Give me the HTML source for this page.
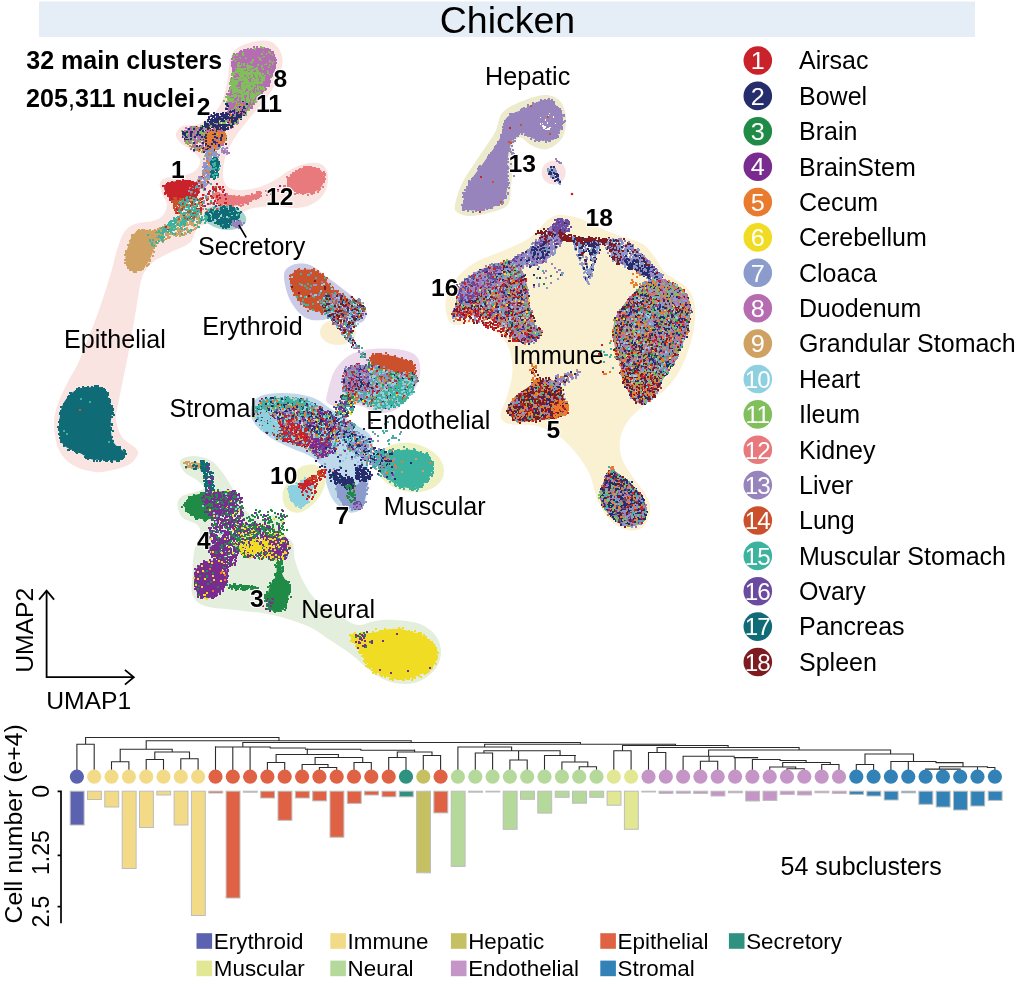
<!DOCTYPE html>
<html><head><meta charset="utf-8"><title>Chicken</title>
<style>html,body{margin:0;padding:0;background:#fff}svg{display:block}text{font-family:"Liberation Sans",sans-serif}</style></head>
<body>
<svg style="will-change:transform" width="1016" height="984" viewBox="0 0 1016 984">
<rect width="1016" height="984" fill="#fff"/>
<rect x="39" y="1.5" width="936" height="35.5" fill="#e5edf6"/>
<text x="507.5" y="32.5" font-size="37.5" text-anchor="middle">Chicken</text>
<text x="26.3" y="68.7" font-size="25" font-weight="bold">32 main clusters</text>
<text x="26.1" y="106.9" font-size="25.1" font-weight="bold">205<tspan font-weight="normal">,</tspan>311 nuclei</text>
<g><path d="M230.0 60.0C231.4 54.8 232.2 52.0 236.0 49.0C239.8 46.0 247.0 43.3 252.5 42.0C258.0 40.7 264.6 39.8 269.0 41.0C273.4 42.2 276.8 45.4 279.0 49.0C281.2 52.6 283.0 56.9 282.5 62.5C282.0 68.1 278.9 76.2 276.0 82.5C273.1 88.8 269.3 94.2 265.0 100.0C260.7 105.8 255.0 111.2 250.0 117.5C245.0 123.8 239.0 131.2 235.0 137.5C231.0 143.8 228.0 149.2 226.0 155.0C224.0 160.8 223.0 167.5 223.0 172.5C223.0 177.5 223.6 182.1 226.0 185.0C228.4 187.9 232.2 189.6 237.5 190.0C242.8 190.4 251.2 189.2 257.5 187.5C263.8 185.8 269.6 182.9 275.0 180.0C280.4 177.1 285.0 172.7 290.0 170.0C295.0 167.3 300.0 164.8 305.0 163.8C310.0 162.7 316.2 162.3 320.0 163.8C323.8 165.2 326.5 168.1 327.5 172.5C328.5 176.9 328.1 185.0 326.0 190.0C323.9 195.0 319.8 199.5 315.0 202.5C310.2 205.5 304.2 207.4 297.5 208.0C290.8 208.6 281.7 206.1 275.0 206.0C268.3 205.9 262.1 206.8 257.5 207.5C252.9 208.2 252.9 207.6 247.5 210.0C242.1 212.4 232.9 219.3 225.0 222.0C217.1 224.7 205.8 222.6 200.0 226.0C194.2 229.4 195.0 238.1 190.0 242.5C185.0 246.9 176.2 249.2 170.0 252.5C163.8 255.8 157.2 258.3 152.5 262.5C147.8 266.7 144.8 269.6 142.0 277.5C139.2 285.4 138.2 297.9 136.0 310.0C133.8 322.1 131.8 335.0 129.0 350.0C126.2 365.0 121.2 388.3 119.0 400.0C116.8 411.7 115.4 413.8 116.0 420.0C116.6 426.2 119.3 432.9 122.5 437.5C125.7 442.1 132.4 444.8 135.0 447.5C137.6 450.2 138.8 451.2 138.0 454.0C137.2 456.8 134.2 461.3 130.0 464.0C125.8 466.7 118.3 468.7 112.5 470.0C106.7 471.3 101.7 472.8 95.0 472.0C88.3 471.2 78.5 468.7 72.5 465.0C66.5 461.3 62.1 456.7 59.0 450.0C55.9 443.3 54.2 432.5 54.0 425.0C53.8 417.5 55.2 412.1 57.5 405.0C59.8 397.9 63.8 390.0 67.5 382.5C71.2 375.0 74.2 372.1 79.5 360.0C84.8 347.9 93.8 324.6 99.0 310.0C104.2 295.4 108.0 282.5 111.0 272.5C114.0 262.5 114.8 256.7 117.0 250.0C119.2 243.3 121.0 236.8 124.0 232.5C127.0 228.2 130.2 225.9 135.0 224.0C139.8 222.1 147.9 222.3 152.5 221.0C157.1 219.7 160.1 218.7 162.5 216.0C164.9 213.3 167.0 208.5 167.0 205.0C167.0 201.5 163.5 197.5 162.5 195.0C161.5 192.5 161.4 192.1 161.0 190.0C160.6 187.9 158.9 184.6 160.0 182.5C161.1 180.4 163.8 178.6 167.5 177.5C171.2 176.4 177.8 177.2 182.5 176.0C187.2 174.8 193.1 172.7 196.0 170.0C198.9 167.3 200.6 163.2 200.0 160.0C199.4 156.8 195.8 153.9 192.5 151.0C189.2 148.1 182.8 145.3 180.0 142.5C177.2 139.7 175.6 136.8 176.0 134.0C176.4 131.2 178.9 127.6 182.5 126.0C186.1 124.4 192.5 126.3 197.5 124.5C202.5 122.7 208.3 119.1 212.5 115.0C216.7 110.9 220.0 105.8 222.5 100.0C225.0 94.2 226.2 86.7 227.5 80.0C228.8 73.3 228.6 65.2 230.0 60.0Z" fill="#fae4e2"/>
<path d="M204 217.5a21 12 8 1 0 42 0a21 12 8 1 0 -42 0Z" fill="#a6d3cb"/>
<path d="M455.0 205.0C455.8 200.0 458.3 190.8 462.5 182.5C466.7 174.2 474.6 163.3 480.0 155.0C485.4 146.7 491.2 139.6 495.0 132.5C498.8 125.4 497.9 117.8 502.5 112.5C507.1 107.2 515.4 103.9 522.5 101.0C529.6 98.1 538.8 95.0 545.0 95.0C551.2 95.0 556.5 97.2 560.0 101.0C563.5 104.8 565.6 111.4 566.0 117.5C566.4 123.6 565.6 132.2 562.5 137.5C559.4 142.8 552.5 147.6 547.5 149.0C542.5 150.4 537.1 147.9 532.5 146.0C527.9 144.1 523.3 137.2 520.0 137.5C516.7 137.8 513.8 142.9 512.5 147.5C511.2 152.1 512.8 158.3 512.5 165.0C512.2 171.7 511.8 180.8 511.0 187.5C510.2 194.2 511.0 200.8 507.5 205.0C504.0 209.2 496.2 210.7 490.0 212.5C483.8 214.3 475.4 216.0 470.0 216.0C464.6 216.0 460.0 214.3 457.5 212.5C455.0 210.7 454.2 210.0 455.0 205.0Z" fill="#ecebcd"/>
<path d="M541.7 172.5a12 12 0 1 0 24 0a12 12 0 1 0 -24 0Z" fill="#fae2e2"/>
<path d="M560.0 215.0C565.4 214.8 572.5 216.0 580.0 218.5C587.5 221.0 597.5 226.8 605.0 230.0C612.5 233.2 618.8 235.2 625.0 237.5C631.2 239.8 637.5 240.4 642.5 243.8C647.5 247.1 651.2 252.7 655.0 257.5C658.8 262.3 660.0 267.8 665.0 272.5C670.0 277.2 680.2 281.4 685.0 286.0C689.8 290.6 692.1 294.3 693.8 300.0C695.4 305.7 695.6 312.5 695.0 320.0C694.4 327.5 692.5 336.7 690.0 345.0C687.5 353.3 684.2 362.5 680.0 370.0C675.8 377.5 671.2 383.8 665.0 390.0C658.8 396.2 648.7 401.8 642.5 407.0C636.3 412.2 631.8 415.5 628.0 421.0C624.2 426.5 620.9 433.5 620.0 440.0C619.1 446.5 620.0 453.3 622.5 460.0C625.0 466.7 630.8 473.8 635.0 480.0C639.2 486.2 645.0 492.1 647.5 497.5C650.0 502.9 650.8 507.5 650.0 512.5C649.2 517.5 646.2 524.6 642.5 527.5C638.8 530.4 632.9 531.2 627.5 530.0C622.1 528.8 615.0 525.0 610.0 520.0C605.0 515.0 600.8 507.5 597.5 500.0C594.2 492.5 593.3 482.5 590.0 475.0C586.7 467.5 582.5 461.3 577.5 455.0C572.5 448.7 566.7 441.8 560.0 437.0C553.3 432.2 545.4 428.1 537.5 426.0C529.6 423.9 518.4 425.5 512.5 424.5C506.6 423.5 503.9 422.1 502.0 420.0C500.1 417.9 500.1 416.2 501.0 412.0C501.9 407.8 505.6 402.0 507.5 395.0C509.4 388.0 512.5 378.3 512.5 370.0C512.5 361.7 510.8 351.7 507.5 345.0C504.2 338.3 497.9 333.8 492.5 330.0C487.1 326.2 481.2 323.3 475.0 322.5C468.8 321.7 459.6 325.8 455.0 325.0C450.4 324.2 449.0 321.7 447.5 317.5C446.0 313.3 444.8 306.2 446.0 300.0C447.2 293.8 450.2 286.2 455.0 280.0C459.8 273.8 466.7 267.5 475.0 262.5C483.3 257.5 495.8 254.2 505.0 250.0C514.2 245.8 522.9 242.5 530.0 237.5C537.1 232.5 542.5 223.8 547.5 220.0C552.5 216.2 554.6 215.2 560.0 215.0Z" fill="#faf0d2"/>
<path d="M320 332a18 13 0 1 0 36 0a18 13 0 1 0 -36 0Z" fill="#f9efd0"/>
<path d="M284.0 275.0C284.4 269.2 288.2 266.7 292.5 265.0C296.8 263.3 304.2 262.9 310.0 265.0C315.8 267.1 321.2 272.9 327.5 277.5C333.8 282.1 341.2 287.5 347.5 292.5C353.8 297.5 362.1 303.1 365.0 307.5C367.9 311.9 366.2 316.5 365.0 319.0C363.8 321.5 361.7 323.2 357.5 322.5C353.3 321.8 345.8 315.4 340.0 315.0C334.2 314.6 328.3 319.6 322.5 320.0C316.7 320.4 310.4 320.8 305.0 317.5C299.6 314.2 293.5 307.1 290.0 300.0C286.5 292.9 283.6 280.8 284.0 275.0Z" fill="#cacbe7"/>
<path d="M327.5 392.5C328.8 387.1 331.2 376.2 335.0 370.0C338.8 363.8 343.8 358.5 350.0 355.0C356.2 351.5 363.8 349.8 372.5 349.0C381.2 348.2 395.0 348.6 402.5 350.0C410.0 351.4 414.6 353.3 417.5 357.5C420.4 361.7 420.8 369.2 420.0 375.0C419.2 380.8 416.7 386.7 412.5 392.5C408.3 398.3 400.8 406.7 395.0 410.0C389.2 413.3 383.8 413.3 377.5 412.5C371.2 411.7 363.8 405.8 357.5 405.0C351.2 404.2 345.0 407.9 340.0 407.5C335.0 407.1 329.6 405.0 327.5 402.5C325.4 400.0 326.2 397.9 327.5 392.5Z" fill="#ebdaec"/>
<path d="M376 465a34 24 12 1 0 68 5a34 24 12 1 0 -68 -5Z" fill="#eff1c2"/>
<path d="M282.5 497.5C282.2 493.5 283.1 490.0 286.0 485.0C288.9 480.0 295.2 470.8 300.0 467.5C304.8 464.2 310.8 464.2 315.0 465.0C319.2 465.8 323.5 468.8 325.0 472.5C326.5 476.2 325.7 482.5 324.0 487.5C322.3 492.5 319.0 498.3 315.0 502.5C311.0 506.7 304.6 511.4 300.0 512.5C295.4 513.6 290.4 511.5 287.5 509.0C284.6 506.5 282.8 501.5 282.5 497.5Z" fill="#eff1c2"/>
<path d="M251.2 407.5C252.3 403.1 254.4 398.7 260.0 396.2C265.6 393.8 276.2 392.8 285.0 393.0C293.8 393.2 304.6 394.7 312.5 397.5C320.4 400.3 325.8 405.8 332.5 410.0C339.2 414.2 346.2 418.3 352.5 422.5C358.8 426.7 366.7 430.8 370.0 435.0C373.3 439.2 372.8 443.8 372.5 447.5C372.2 451.2 368.6 452.9 368.0 457.5C367.4 462.1 368.6 472.1 368.8 475.0C368.9 477.9 369.2 472.5 369.0 475.0C368.8 477.5 368.6 484.6 367.5 490.0C366.4 495.4 365.4 503.8 362.5 507.5C359.6 511.2 354.6 513.3 350.0 512.5C345.4 511.7 338.8 506.7 335.0 502.5C331.2 498.3 329.2 492.5 327.5 487.5C325.8 482.5 325.4 475.4 325.0 472.5C324.6 469.6 327.1 472.5 325.0 470.0C322.9 467.5 318.3 461.2 312.5 457.5C306.7 453.8 297.1 450.8 290.0 447.5C282.9 444.2 276.0 441.7 270.0 437.5C264.0 433.3 256.9 427.5 253.8 422.5C250.6 417.5 250.2 411.9 251.2 407.5Z" fill="#c0d9ea"/>
<path d="M180.0 461.0C181.2 458.2 187.5 456.2 192.5 456.0C197.5 455.8 205.0 457.2 210.0 460.0C215.0 462.8 218.3 467.1 222.5 472.5C226.7 477.9 231.2 486.2 235.0 492.5C238.8 498.8 240.8 505.4 245.0 510.0C249.2 514.6 255.0 519.3 260.0 520.0C265.0 520.7 270.8 514.0 275.0 514.0C279.2 514.0 283.8 516.9 285.0 520.0C286.2 523.1 281.2 528.8 282.5 532.5C283.8 536.2 290.4 537.9 292.5 542.5C294.6 547.1 293.3 553.8 295.0 560.0C296.7 566.2 299.0 573.3 302.5 580.0C306.0 586.7 309.8 594.0 316.0 600.0C322.2 606.0 333.1 611.8 340.0 616.0C346.9 620.2 351.7 624.2 357.5 625.0C363.3 625.8 368.8 621.8 375.0 621.0C381.2 620.2 387.5 619.5 395.0 620.0C402.5 620.5 413.2 621.3 420.0 624.0C426.8 626.7 432.5 631.2 436.0 636.0C439.5 640.8 441.0 647.2 441.0 652.5C441.0 657.8 439.2 663.4 436.0 668.0C432.8 672.6 427.2 677.3 422.0 680.0C416.8 682.7 411.2 684.0 405.0 684.0C398.8 684.0 391.2 682.5 385.0 680.0C378.8 677.5 373.5 673.2 368.0 669.0C362.5 664.8 358.3 659.8 352.0 655.0C345.7 650.2 337.4 644.8 330.0 640.0C322.6 635.2 317.1 630.2 307.5 626.0C297.9 621.8 284.6 617.7 272.5 615.0C260.4 612.3 246.2 611.5 235.0 610.0C223.8 608.5 212.1 608.5 205.0 606.0C197.9 603.5 194.6 600.2 192.5 595.0C190.4 589.8 192.2 582.1 192.5 575.0C192.8 567.9 192.8 559.2 194.0 552.5C195.2 545.8 199.4 539.6 200.0 535.0C200.6 530.4 200.4 527.9 197.5 525.0C194.6 522.1 185.8 520.8 182.5 517.5C179.2 514.2 177.5 508.6 177.5 505.0C177.5 501.4 178.2 498.7 182.5 496.0C186.8 493.3 200.4 491.5 203.0 489.0C205.6 486.5 201.0 483.8 198.0 481.0C195.0 478.2 188.0 475.8 185.0 472.5C182.0 469.2 178.8 463.8 180.0 461.0Z" fill="#e3eedc"/>
</g>
<g><path d="M232.5 62.5C232.8 58.8 232.0 55.3 237.4 52.9C242.7 50.4 258.3 47.2 264.5 48.0C270.6 48.8 272.5 54.5 274.1 57.7C275.7 60.9 275.4 62.5 274.1 67.4C272.8 72.2 270.4 80.6 266.4 86.7C262.4 92.8 254.8 99.6 249.9 104.1C245.1 108.7 241.1 113.8 237.4 113.8C233.7 113.8 228.8 108.2 227.7 104.1C226.6 100.1 229.3 94.5 230.6 89.6C231.9 84.8 235.1 79.6 235.4 75.1C235.7 70.6 232.2 66.2 232.5 62.5Z" fill="#b66cb0"/>
<path d="M164.1 188.2C163.8 185.4 165.4 183.8 168.8 182.5C172.3 181.3 180.4 180.5 184.8 180.7C189.2 180.8 193.1 181.6 195.1 183.5C197.2 185.4 197.6 189.3 197.0 191.9C196.4 194.6 194.2 197.7 191.4 199.5C188.6 201.2 183.5 202.3 180.1 202.3C176.6 202.3 173.4 201.8 170.7 199.5C168.0 197.1 164.4 191.0 164.1 188.2Z" fill="#c9222b"/>
<path d="M215.3 193.3C217.5 192.3 225.1 194.7 230.4 195.2C235.8 195.6 242.5 196.6 247.4 196.1C252.3 195.6 258.1 192.0 259.7 192.3C261.3 192.7 259.5 196.1 256.9 198.0C254.2 199.9 248.4 202.4 243.6 203.7C238.9 204.9 232.9 206.0 228.5 205.6C224.1 205.1 219.4 202.9 217.2 200.8C215.0 198.8 213.1 194.2 215.3 193.3Z" fill="#e8797d"/>
<path d="M288.0 180.0C288.8 176.9 292.9 172.8 296.6 170.5C300.2 168.3 305.7 166.8 309.8 166.8C313.9 166.8 318.8 168.2 321.2 170.5C323.5 172.9 324.6 177.6 324.0 181.0C323.4 184.3 320.9 188.4 317.4 190.4C313.9 192.5 307.4 193.4 303.2 193.3C298.9 193.1 294.4 191.7 291.8 189.5C289.3 187.3 287.3 183.2 288.0 180.0Z" fill="#e8797d"/>
<path d="M125.7 254.8C126.3 250.8 128.5 244.5 130.5 240.5C132.4 236.5 134.0 232.6 137.6 231.0C141.2 229.4 149.1 229.4 151.9 231.0C154.6 232.6 154.3 236.5 154.3 240.5C154.3 244.5 153.5 250.4 151.9 254.8C150.3 259.1 147.9 263.9 144.7 266.7C141.6 269.5 135.9 271.8 132.8 271.4C129.8 271.0 127.8 267.1 126.7 264.3C125.5 261.5 125.1 258.8 125.7 254.8Z" fill="#cfa163"/>
<path d="M59.1 424.1C59.6 418.8 60.3 410.2 62.9 404.6C65.5 399.1 70.4 393.7 74.7 390.8C79.0 387.9 84.2 387.9 88.5 387.4C92.9 386.9 97.8 386.2 101.0 387.7C104.2 389.2 106.1 392.6 107.9 396.4C109.7 400.1 111.3 405.4 111.7 410.3C112.2 415.2 110.5 420.2 110.7 425.5C111.0 430.8 111.2 437.8 113.5 442.2C115.7 446.6 122.6 449.4 124.2 451.9C125.8 454.4 124.1 455.8 122.8 457.3C121.5 458.7 119.7 459.9 116.3 460.4C112.9 460.8 106.5 460.0 102.4 459.8C98.2 459.6 94.9 460.3 91.3 459.2C87.6 458.1 84.6 455.4 80.3 453.3C75.9 451.1 68.3 449.1 65.0 446.3C61.6 443.6 61.1 440.3 60.1 436.6C59.1 432.9 58.6 429.5 59.1 424.1Z" fill="#0f6c76"/>
<path d="M463.6 201.5C464.0 197.2 464.8 191.3 468.5 184.3C472.1 177.4 480.3 167.6 485.6 159.8C490.9 152.1 496.9 144.7 500.3 137.8C503.7 130.9 502.1 123.1 506.2 118.2C510.2 113.3 518.4 111.5 524.8 108.4C531.1 105.4 539.0 100.3 544.4 99.8C549.7 99.4 553.5 102.9 556.6 106.0C559.7 109.0 562.6 113.7 563.0 118.2C563.4 122.7 561.3 129.2 559.0 132.9C556.8 136.6 553.3 139.2 549.3 140.2C545.2 141.3 539.0 140.2 534.6 139.0C530.1 137.8 526.0 132.7 522.3 132.9C518.6 133.1 515.0 135.8 512.5 140.2C510.1 144.7 508.4 152.5 507.6 159.8C506.8 167.2 508.4 177.4 507.6 184.3C506.8 191.3 506.4 197.4 502.7 201.5C499.1 205.5 491.7 207.4 485.6 208.8C479.5 210.2 469.7 211.0 466.0 209.8C462.3 208.6 463.1 205.7 463.6 201.5Z" fill="#9784bd"/>
<path d="M457.5 295.0C458.8 290.8 458.8 286.7 462.5 282.5C466.2 278.3 473.3 273.3 480.0 270.0C486.7 266.7 496.2 264.2 502.5 262.5C508.8 260.8 514.2 258.3 517.5 260.0C520.8 261.7 520.8 267.9 522.5 272.5C524.2 277.1 526.2 281.7 527.5 287.5C528.8 293.3 528.8 301.2 530.0 307.5C531.2 313.8 532.9 320.8 535.0 325.0C537.1 329.2 543.3 329.6 542.5 332.5C541.7 335.4 534.6 341.2 530.0 342.5C525.4 343.8 519.6 342.9 515.0 340.0C510.4 337.1 507.5 328.8 502.5 325.0C497.5 321.2 490.8 319.2 485.0 317.5C479.2 315.8 472.9 315.0 467.5 315.0C462.1 315.0 454.6 318.8 452.5 317.5C450.4 316.2 454.2 311.2 455.0 307.5C455.8 303.8 456.2 299.2 457.5 295.0Z" fill="#a07a86"/>
<path d="M642.5 285.0C638.3 288.3 632.1 294.2 627.5 300.0C622.9 305.8 617.3 313.3 615.0 320.0C612.7 326.7 612.9 332.5 613.8 340.0C614.6 347.5 617.7 356.7 620.0 365.0C622.3 373.3 624.6 383.8 627.5 390.0C630.4 396.2 633.8 400.8 637.5 402.5C641.2 404.2 645.8 403.8 650.0 400.0C654.2 396.2 657.9 387.5 662.5 380.0C667.1 372.5 673.3 363.3 677.5 355.0C681.7 346.7 685.4 337.9 687.5 330.0C689.6 322.1 690.8 314.2 690.0 307.5C689.2 300.8 686.7 294.6 682.5 290.0C678.3 285.4 670.0 281.7 665.0 280.0C660.0 278.3 656.2 279.2 652.5 280.0C648.8 280.8 646.7 281.7 642.5 285.0Z" fill="#96787c"/>
<path d="M507.5 410.0C507.1 406.1 511.7 401.2 515.0 397.5C518.3 393.8 523.3 390.4 527.5 387.5C531.7 384.6 535.0 380.8 540.0 380.0C545.0 379.2 553.8 380.0 557.5 382.5C561.2 385.0 560.8 390.4 562.5 395.0C564.2 399.6 568.3 406.2 567.5 410.0C566.7 413.8 562.5 415.8 557.5 417.5C552.5 419.2 544.2 419.4 537.5 420.0C530.8 420.6 522.5 422.7 517.5 421.0C512.5 419.3 507.9 413.9 507.5 410.0Z" fill="#9c4028"/>
<path d="M610.0 470.0C607.1 471.7 604.2 480.4 602.5 485.0C600.8 489.6 599.2 492.9 600.0 497.5C600.8 502.1 603.8 507.9 607.5 512.5C611.2 517.1 617.5 522.9 622.5 525.0C627.5 527.1 633.6 526.7 637.5 525.0C641.4 523.3 645.0 519.2 646.0 515.0C647.0 510.8 646.0 505.0 643.8 500.0C641.5 495.0 636.5 489.2 632.5 485.0C628.5 480.8 623.8 477.5 620.0 475.0C616.2 472.5 612.9 468.3 610.0 470.0Z" fill="#5f5480"/>
<path d="M290.9 275.6C292.4 272.7 296.1 270.5 300.6 269.8C305.0 269.2 312.2 268.8 317.4 271.8C322.6 274.7 327.4 283.4 331.8 287.7C336.3 291.9 342.7 294.1 343.9 297.3C345.1 300.5 342.3 304.5 339.1 306.9C335.9 309.3 329.4 311.3 324.6 311.7C319.8 312.1 314.6 311.3 310.2 309.3C305.8 307.3 301.2 303.3 298.1 299.7C295.1 296.1 293.1 291.7 291.9 287.7C290.7 283.6 289.5 278.6 290.9 275.6Z" fill="#ca512b"/>
<path d="M371.1 356.7C372.3 354.9 375.9 354.1 380.6 354.3C385.4 354.5 394.3 356.3 399.6 357.9C404.9 359.4 410.2 361.4 412.6 363.8C415.0 366.1 416.0 370.3 413.8 372.1C411.6 373.8 404.3 374.8 399.6 374.4C394.8 374.0 389.7 371.3 385.4 369.7C381.0 368.1 375.9 367.1 373.5 365.0C371.1 362.8 370.0 358.4 371.1 356.7Z" fill="#ca512b"/>
<path d="M345.0 375.0C346.5 371.3 347.5 367.5 352.0 366.0C356.5 364.5 364.8 365.0 372.0 366.0C379.2 367.0 387.8 370.7 395.0 372.0C402.2 373.3 412.0 371.0 415.0 374.0C418.0 377.0 415.5 385.3 413.0 390.0C410.5 394.7 404.7 399.0 400.0 402.0C395.3 405.0 390.8 407.7 385.0 408.0C379.2 408.3 370.8 405.7 365.0 404.0C359.2 402.3 353.7 400.7 350.0 398.0C346.3 395.3 343.8 391.8 343.0 388.0C342.2 384.2 343.5 378.7 345.0 375.0Z" fill="#86bfb6"/>
<path d="M336.4 485.8C337.5 483.1 342.7 483.5 345.9 483.5C349.0 483.5 352.7 486.2 355.3 485.8C357.9 485.4 359.8 481.5 361.6 481.1C363.4 480.7 365.4 480.6 366.0 483.5C366.6 486.4 366.1 494.4 365.1 498.4C364.1 502.5 362.7 506.4 360.0 507.9C357.4 509.3 352.4 508.4 349.0 507.1C345.6 505.8 341.7 503.5 339.6 500.0C337.5 496.4 335.4 488.6 336.4 485.8Z" fill="#8b9bcb"/>
<path d="M288.6 488.2C289.5 486.4 293.2 487.3 295.6 485.9C298.1 484.4 300.8 480.7 303.4 479.6C306.0 478.6 309.7 478.6 311.2 479.6C312.8 480.7 312.8 483.3 312.8 485.9C312.8 488.5 312.3 492.4 311.2 495.2C310.2 498.1 308.1 501.2 306.6 503.0C305.0 504.9 304.0 506.0 301.9 506.2C299.8 506.3 296.0 505.4 294.1 503.8C292.1 502.3 291.1 499.4 290.2 496.8C289.2 494.2 287.7 490.0 288.6 488.2Z" fill="#8dd0df"/>
<path d="M378.1 460.3C379.1 456.5 385.3 454.4 390.6 452.6C395.9 450.9 403.8 449.2 409.9 449.7C416.0 450.2 423.5 452.5 427.2 455.5C430.9 458.6 432.0 463.8 432.0 468.0C432.0 472.2 430.3 477.2 427.2 480.5C424.2 483.9 418.5 487.4 413.7 488.2C408.9 489.0 403.1 487.4 398.3 485.3C393.5 483.3 388.2 479.9 384.9 475.7C381.5 471.5 377.2 464.2 378.1 460.3Z" fill="#3cb39f"/>
<path d="M185.0 504.1C186.1 501.7 187.4 497.5 193.2 495.5C198.9 493.4 212.7 491.8 219.5 491.6C226.3 491.5 231.5 492.3 233.9 494.5C236.3 496.7 235.9 501.7 233.9 505.0C231.9 508.4 226.3 512.2 221.9 514.6C217.5 517.0 211.9 519.0 207.5 519.4C203.2 519.8 199.0 518.6 195.6 517.0C192.1 515.4 188.7 512.0 187.0 509.8C185.2 507.7 184.0 506.5 185.0 504.1Z" fill="#1f8b46"/>
<path d="M194.8 572.3C196.0 567.9 199.5 564.7 203.3 562.8C207.2 560.9 213.8 559.9 217.6 560.9C221.4 561.9 224.9 564.7 226.2 568.5C227.5 572.3 227.0 579.3 225.3 583.8C223.5 588.2 219.4 592.8 215.7 595.2C212.1 597.6 206.7 599.0 203.3 598.0C200.0 597.1 197.2 593.8 195.7 589.5C194.3 585.2 193.5 576.8 194.8 572.3Z" fill="#7a2b8f"/>
<path d="M267.6 597.4C267.6 593.3 269.0 588.7 270.4 585.1C271.9 581.4 275.0 579.2 276.1 575.6C277.2 571.9 276.3 565.3 277.1 563.2C277.9 561.2 279.9 561.2 280.9 563.2C281.8 565.3 281.3 571.8 282.8 575.6C284.2 579.4 288.6 582.1 289.4 586.0C290.2 590.0 288.8 595.4 287.5 599.3C286.2 603.3 284.7 608.0 281.8 609.8C279.0 611.5 272.8 611.8 270.4 609.8C268.1 607.7 267.6 601.5 267.6 597.4Z" fill="#1f8b46"/>
<path d="M351.2 635.5C353.4 633.5 363.3 634.2 370.6 633.1C377.9 631.9 386.9 628.5 395.0 628.7C403.1 628.9 413.2 631.9 419.3 634.3C425.4 636.6 428.6 639.2 431.5 642.8C434.4 646.4 437.2 651.5 436.8 655.9C436.4 660.4 432.8 666.1 429.0 669.6C425.3 673.1 419.3 675.3 414.4 676.9C409.6 678.4 405.1 679.1 399.8 678.8C394.6 678.6 387.7 677.4 382.8 675.4C377.9 673.5 373.9 670.5 370.6 667.1C367.4 663.7 365.6 658.6 363.3 655.0C361.1 651.3 359.0 648.5 357.0 645.2C355.0 642.0 348.9 637.5 351.2 635.5Z" fill="#f1dc24"/>
</g>
<g transform="scale(.5)" fill="none" stroke-linecap="square" shape-rendering="crispEdges">
<path d="M481 105h0M521 97h0M465 123h0M466 132h0M527 179h0M455 210h0M473 107h0M465 117h0M454 212h0M547 132h0M466 132h0M546 140h0M544 108h0M535 166h0M466 176h0M467 226h0M538 168h0M549 115h0M465 138h0M455 188h0M503 204h0M539 99h0M549 115h0M509 198h0M479 226h0M491 100h0M549 136h0M472 227h0M536 165h0M535 97h0M476 229h0M524 182h0M461 183h0M462 222h0M487 220h0M477 227h0M483 226h0M463 221h0M460 187h0M466 174h0M528 179h0M463 169h0M544 148h0M488 219h0M549 131h0M543 144h0M463 216h0M547 116h0M467 159h0M535 98h0M462 177h0M494 215h0M470 149h0M498 210h0M468 140h0M474 230h0M477 108h0M485 221h0M547 137h0M467 221h0M476 227h0M536 97h0M463 127h0M512 97h0M467 154h0M546 107h0M466 142h0M460 176h0M468 160h0M488 104h0M466 160h0M536 170h0M460 179h0M536 165h0M541 153h0M466 168h0M465 114h0M464 132h0M491 216h0M484 224h0M469 141h0M535 101h0M468 118h0M486 221h0M548 116h0M531 178h0M454 210h0M509 197h0M550 130h0M492 215h0M463 177h0M467 114h0M470 148h0M547 113h0M545 107h0M466 128h0M545 136h0M461 173h0M468 132h0M465 133h0M551 119h0M508 94h0M522 190h0M534 166h0M457 216h0M481 226h0M542 153h0M464 124h0M543 150h0M466 128h0M499 210h0M547 117h0M457 181h0M457 217h0M514 93h0M510 200h0M547 138h0M472 109h0M540 103h0M523 186h0M515 194h0M467 116h0M503 204h0M496 98h0M530 179h0M552 125h0M455 203h0M517 191h0M468 111h0M501 98h0M472 158h0M467 125h0M465 130h0M512 197h0M540 101h0M515 193h0M477 230h0M458 215h0M460 180h0M457 190h0" stroke="#b66cb0" stroke-width="4.0"/>
<path d="M523 129h0M542 128h0M503 128h0M517 105h0M483 207h0M463 207h0M477 121h0M509 194h0M503 158h0M496 161h0M476 149h0M501 130h0M469 189h0M529 116h0M491 179h0M458 201h0M471 154h0M525 97h0M474 225h0M518 146h0M510 193h0M546 143h0M480 149h0M526 142h0M527 142h0M492 169h0M480 143h0M482 202h0M540 164h0M518 187h0M471 224h0M499 117h0M492 207h0M528 155h0M485 162h0M520 163h0M501 210h0M510 143h0M465 206h0M497 190h0M484 196h0M475 191h0M548 133h0M499 130h0M479 114h0M545 120h0M499 126h0M466 207h0M520 172h0M536 149h0M495 194h0M501 148h0M492 189h0M477 119h0M473 136h0M522 104h0M470 177h0M506 136h0M467 136h0M537 109h0M482 106h0M494 124h0M489 134h0M460 217h0M477 143h0" stroke="#b66cb0" stroke-width="4.0"/>
<path d="M521 132h0M538 102h0M481 163h0M509 154h0M484 156h0M499 127h0M483 121h0M505 140h0M495 158h0M475 116h0M481 157h0M507 134h0M488 220h0M482 122h0M546 117h0M465 223h0M491 126h0M500 133h0M547 123h0M465 111h0M516 153h0M531 166h0M457 215h0M499 99h0M493 194h0M520 113h0M504 170h0M484 128h0M510 138h0M464 187h0M538 103h0M475 159h0M468 110h0M463 197h0" stroke="#80bf5b" stroke-width="4.0"/>
<path d="M520 118h0" stroke="#c9222b" stroke-width="4.0"/>
<path d="M504 137h0M474 161h0M529 104h0M481 123h0M471 208h0M489 147h0M529 130h0M484 181h0M503 182h0M531 163h0M481 206h0M531 109h0M503 164h0M547 135h0M519 154h0M470 156h0M507 169h0M509 163h0M521 121h0M500 136h0M535 99h0M457 209h0M481 161h0M495 184h0M509 131h0M494 143h0M523 104h0M485 124h0M467 157h0M475 117h0M462 193h0M503 189h0M488 178h0M483 106h0M515 156h0M529 152h0M466 127h0M501 201h0M504 201h0M547 141h0M499 114h0M495 110h0M523 180h0M468 162h0M530 123h0M542 108h0M489 220h0M486 186h0M522 120h0M488 196h0M541 123h0M518 157h0M474 128h0M487 141h0M511 154h0M513 117h0M548 135h0M510 150h0M515 139h0M519 123h0M511 131h0M485 120h0M517 167h0M480 138h0M465 217h0M515 189h0M480 196h0M470 196h0" stroke="#b66cb0" stroke-width="4.0"/>
<path d="M517 141h0M497 130h0M538 137h0M530 124h0M484 218h0M468 148h0M508 107h0M503 145h0M521 118h0M497 160h0M526 148h0M526 182h0M514 186h0M525 124h0M496 209h0M497 203h0M478 134h0M478 226h0M477 126h0M513 162h0M501 162h0M464 171h0M463 182h0M461 205h0M481 140h0M468 219h0M467 117h0M476 131h0M496 113h0M471 193h0M456 197h0M514 141h0" stroke="#80bf5b" stroke-width="4.0"/>
<path d="M484 134h0" stroke="#c9222b" stroke-width="4.0"/>
<path d="M480 147h0M492 116h0M511 149h0M543 119h0M532 108h0M466 162h0M544 135h0M505 152h0M471 144h0M470 122h0M499 192h0M478 219h0M532 131h0M539 134h0M529 151h0M530 153h0M477 125h0M487 136h0M474 139h0M478 199h0M499 205h0M511 189h0M507 129h0M526 165h0M494 144h0M473 152h0M468 176h0M486 136h0M530 163h0M544 105h0M513 147h0M473 219h0M497 164h0M465 227h0" stroke="#80bf5b" stroke-width="4.0"/>
<path d="M479 156h0M459 213h0M515 192h0M494 128h0M493 175h0M472 183h0M475 207h0M481 210h0M525 99h0M481 178h0M480 210h0M546 117h0M546 139h0M465 205h0M527 105h0M499 208h0M485 139h0M491 121h0M475 139h0M487 189h0M506 158h0M481 221h0M533 103h0M506 119h0M477 108h0M481 199h0M529 140h0M514 109h0M495 167h0M500 135h0M484 120h0M504 185h0M465 187h0M494 203h0M467 225h0M477 211h0M523 145h0M486 208h0M471 198h0M491 139h0M464 192h0M486 134h0M471 160h0M526 119h0M489 166h0M499 169h0M542 154h0M521 188h0M520 130h0M470 154h0M512 196h0M538 137h0M486 117h0M471 139h0M482 102h0M516 98h0M467 193h0M510 145h0M528 104h0M509 125h0M483 185h0M542 145h0M516 144h0M466 163h0M534 171h0" stroke="#b66cb0" stroke-width="4.0"/>
<path d="M523 132h0M498 100h0M542 121h0M546 114h0M523 116h0M523 108h0M543 152h0M543 139h0M525 101h0M530 110h0M515 142h0M526 162h0M543 111h0M516 141h0M510 98h0" stroke="#80bf5b" stroke-width="4.0"/>
<path d="M531 132h0M549 120h0M536 115h0M505 116h0M544 128h0M545 104h0M491 123h0M547 115h0M519 137h0M495 121h0M535 116h0M533 129h0M536 163h0M507 114h0M519 147h0M548 110h0M527 114h0M531 154h0M496 101h0M483 120h0M472 114h0M531 162h0M497 121h0M490 123h0M530 163h0M527 95h0M507 108h0M518 150h0M504 120h0M500 125h0M538 156h0M497 103h0M546 114h0M510 128h0M532 158h0M536 137h0M537 144h0M522 162h0M545 138h0M535 172h0M540 113h0M515 146h0M497 112h0M520 133h0M497 119h0M519 162h0M493 118h0M515 135h0M523 102h0M525 161h0M500 118h0M541 134h0M540 109h0M517 114h0M537 149h0M537 171h0M522 140h0M475 112h0M514 111h0M483 115h0M481 122h0M527 165h0M521 143h0M516 106h0M513 124h0M545 141h0M490 102h0M510 122h0M545 114h0M496 112h0M472 127h0M530 116h0M517 123h0M517 148h0M521 164h0M484 113h0M531 132h0M522 120h0M543 149h0M543 106h0M525 124h0M487 99h0M494 123h0M531 170h0M536 113h0" stroke="#b66cb0" stroke-width="4.0"/>
<path d="M503 124h0M537 123h0M535 145h0M543 127h0M543 110h0M543 123h0M518 115h0M517 118h0M546 122h0M526 97h0M525 96h0M527 128h0M476 127h0M536 141h0M522 147h0M491 116h0M537 134h0M531 128h0M514 136h0M473 116h0M502 125h0" stroke="#80bf5b" stroke-width="4.0"/>
<path d="M478 120h0M506 118h0M499 105h0M496 125h0M550 123h0M515 150h0M494 109h0M507 122h0M515 157h0M513 105h0M511 106h0M517 105h0M516 117h0M527 144h0M529 165h0M497 109h0M485 126h0M491 125h0M480 104h0M496 115h0M507 144h0M491 106h0M531 138h0M532 117h0M518 133h0M538 149h0M480 119h0M513 116h0M535 130h0M541 140h0M520 141h0M549 128h0M540 132h0M504 113h0M512 143h0M471 118h0M531 166h0M544 122h0M482 119h0M523 145h0M531 167h0M511 125h0M497 122h0M468 123h0M543 134h0M477 119h0M521 162h0M516 110h0M486 118h0M523 101h0M490 126h0M473 113h0M530 112h0M507 134h0M479 111h0M543 140h0M523 137h0M538 119h0M506 107h0M479 114h0M541 104h0M507 133h0M482 121h0M534 161h0M530 107h0M501 113h0M478 120h0M529 126h0M510 114h0M504 132h0M534 124h0M506 131h0M514 126h0M513 152h0M493 113h0M489 101h0M509 114h0M525 127h0M497 114h0" stroke="#b66cb0" stroke-width="4.0"/>
<path d="M540 148h0M540 121h0M539 130h0M473 110h0M521 94h0M524 162h0M521 119h0M476 119h0M486 109h0M537 102h0M528 114h0M540 106h0M506 119h0M515 129h0M525 137h0M522 104h0M479 116h0M490 102h0M522 133h0M485 106h0M525 148h0" stroke="#80bf5b" stroke-width="4.0"/>
<path d="M522 159h0M485 120h0M535 111h0M467 121h0M517 112h0M473 119h0M519 140h0M532 102h0M541 127h0M541 111h0M530 131h0M530 100h0M516 112h0M468 108h0M506 111h0M475 114h0M499 120h0M496 101h0M529 122h0M535 123h0M502 130h0M471 116h0M543 147h0M522 97h0M478 117h0M490 101h0M527 115h0M512 104h0M526 120h0M495 120h0M525 99h0M550 116h0M516 154h0M538 139h0M522 104h0M520 133h0M521 113h0M508 129h0M493 104h0M541 118h0M511 149h0M487 118h0M540 161h0M491 103h0M500 112h0M539 145h0M538 110h0M505 130h0M530 100h0M548 119h0M502 115h0M518 108h0M529 132h0M537 118h0M534 160h0M537 166h0M530 109h0M534 164h0M500 100h0M540 99h0M464 117h0M539 116h0M491 102h0M525 100h0M531 98h0M495 125h0M471 116h0M533 164h0M526 165h0M507 115h0M490 123h0M549 125h0M513 139h0M527 168h0M537 117h0M538 99h0M483 123h0M523 118h0M477 119h0" stroke="#b66cb0" stroke-width="4.0"/>
<path d="M469 199h0M462 179h0M507 169h0M479 213h0M489 176h0M495 132h0M498 131h0M494 185h0M477 186h0M505 176h0M484 145h0M475 144h0M475 231h0M511 149h0M484 169h0M474 166h0M517 157h0M480 191h0M501 135h0M512 158h0M475 202h0M487 169h0M474 165h0M473 139h0M497 153h0M490 217h0M489 220h0M469 219h0M503 172h0M502 148h0M507 165h0M490 179h0M461 214h0M502 184h0M520 170h0M481 200h0M476 215h0M499 187h0M522 165h0M473 143h0M478 216h0M497 153h0M476 224h0M489 152h0M462 186h0M509 196h0M462 208h0M471 169h0M461 217h0M478 218h0M520 186h0M471 202h0M495 145h0M496 161h0M475 217h0M522 165h0M462 197h0M489 214h0M527 159h0M504 179h0M502 199h0M466 222h0M483 188h0M483 210h0M484 213h0M470 178h0M522 152h0M501 186h0M499 159h0M515 145h0M495 208h0M465 184h0M514 183h0M471 223h0M472 164h0M482 135h0M495 155h0M503 148h0M467 223h0M478 136h0M499 167h0M472 208h0M498 157h0M494 144h0M501 152h0M494 146h0M495 136h0M479 137h0M469 150h0M470 165h0M490 171h0M473 213h0M460 202h0M524 162h0M474 214h0M507 208h0M491 156h0M494 162h0M505 162h0M489 171h0M485 185h0M478 149h0M520 183h0M479 226h0M493 166h0M498 163h0M493 212h0M477 200h0M479 228h0M479 211h0M499 204h0M469 172h0M494 210h0M493 150h0M521 189h0M477 164h0M460 181h0M488 163h0M494 211h0M522 190h0M463 164h0M512 178h0M516 172h0M496 128h0M459 194h0M472 157h0M475 173h0M505 180h0M465 187h0M478 226h0M476 173h0M485 176h0M472 158h0M490 173h0M503 164h0M479 162h0M507 204h0M466 175h0M504 189h0M491 167h0M483 143h0M500 177h0M485 133h0M494 139h0M473 141h0M524 158h0M502 190h0M478 206h0M494 143h0M473 152h0M488 133h0M478 168h0M468 156h0M509 195h0M484 196h0M505 206h0M478 219h0M498 196h0M468 224h0M503 213h0M488 162h0M527 179h0M473 177h0M467 165h0M498 136h0M489 161h0M509 161h0M503 176h0M470 225h0M490 217h0M471 226h0M493 139h0M517 168h0M490 192h0M479 204h0M517 148h0M523 170h0M472 212h0M501 152h0M520 159h0M474 225h0M481 192h0M455 209h0M482 158h0M486 160h0M510 183h0M494 171h0M501 146h0M482 203h0M464 216h0M515 159h0M476 209h0" stroke="#80bf5b" stroke-width="5.0"/>
<path d="M483 215h0M503 138h0M487 179h0M520 158h0M486 133h0M484 211h0M490 180h0M501 202h0M470 198h0M498 194h0M523 171h0M473 232h0M505 171h0M468 143h0M472 218h0M468 181h0M499 129h0M463 216h0M472 216h0M516 177h0M507 153h0M507 152h0M509 195h0M464 180h0M473 160h0M479 188h0M485 159h0M488 170h0M503 215h0M499 212h0M503 194h0M506 135h0M518 173h0M473 194h0M468 168h0M466 187h0M468 152h0M517 188h0M474 151h0M465 217h0M509 185h0M467 218h0M494 168h0M462 190h0M499 194h0M501 170h0M471 228h0M460 168h0M476 220h0M507 153h0M500 204h0M488 201h0M502 185h0M505 197h0M483 181h0M489 198h0M507 206h0M508 187h0M476 164h0M462 224h0M470 220h0M488 138h0M508 165h0M521 162h0M517 167h0M474 209h0M471 141h0M471 196h0M505 149h0M475 216h0M514 201h0M462 165h0M508 138h0M495 210h0M490 168h0" stroke="#b66cb0" stroke-width="5.0"/>
<path d="M498 180h0M504 146h0M493 172h0M502 180h0M487 186h0M516 171h0M492 172h0M462 159h0M483 168h0M507 187h0M506 156h0M481 154h0M487 223h0M526 175h0M494 185h0M485 180h0M501 161h0M486 155h0M469 228h0M525 176h0M490 144h0M514 140h0M516 163h0M503 139h0M511 151h0M511 154h0M521 184h0M478 180h0M464 210h0M474 180h0M490 135h0M499 165h0M508 138h0M508 140h0M497 152h0M484 149h0M477 225h0M467 170h0M490 217h0M478 158h0M509 166h0M487 167h0M465 165h0M464 191h0M511 183h0M506 149h0M470 163h0M475 180h0M492 205h0M478 155h0M500 212h0M483 160h0M496 147h0M480 224h0M497 140h0M511 151h0M506 200h0M471 162h0M467 221h0M462 176h0M492 143h0M498 158h0M497 153h0M505 187h0M499 174h0M469 194h0M475 218h0M519 147h0M457 204h0M501 189h0M514 164h0M480 180h0M492 145h0M497 165h0M507 185h0M525 177h0M488 139h0M478 218h0M506 170h0M523 161h0M467 225h0M491 229h0M511 147h0M462 207h0M494 201h0M491 136h0M506 135h0M512 166h0M493 140h0M468 172h0M471 211h0M524 169h0M504 160h0M460 202h0M496 169h0M477 174h0M476 174h0M499 137h0M527 180h0M466 186h0M476 223h0M458 198h0M506 182h0M498 189h0M482 226h0M482 183h0M468 220h0M525 155h0M475 142h0M466 147h0M517 175h0M496 183h0M507 161h0M489 160h0M505 144h0M491 139h0M521 151h0M475 195h0M509 195h0M502 136h0M474 217h0M487 180h0M499 151h0M463 209h0M500 165h0M483 193h0M477 141h0M511 139h0M488 147h0M478 184h0M489 187h0M484 179h0M494 192h0M481 137h0M476 200h0M493 149h0M479 185h0M520 164h0M522 166h0M490 177h0M504 195h0M498 208h0M491 224h0M496 169h0M472 209h0M516 167h0M494 207h0M480 210h0M467 228h0M484 141h0M466 196h0M482 168h0M488 192h0M469 168h0M488 129h0M481 150h0M507 189h0M465 187h0M501 168h0M466 207h0M509 193h0M494 173h0M514 145h0M491 174h0M495 205h0M498 219h0M484 183h0M512 141h0M517 168h0M516 188h0M483 227h0M486 212h0M488 222h0M494 172h0M473 192h0M490 165h0M502 137h0M519 171h0M468 167h0M486 188h0M512 159h0M483 142h0M519 163h0M474 198h0M502 161h0M510 162h0M456 208h0M494 146h0M499 151h0M500 170h0M475 197h0M476 217h0" stroke="#80bf5b" stroke-width="5.0"/>
<path d="M467 222h0M502 157h0M504 166h0M488 221h0M481 202h0M475 218h0M500 207h0M485 177h0M469 207h0M492 134h0M496 172h0M498 164h0M521 179h0M465 212h0M477 151h0M520 194h0M487 128h0M492 199h0M483 222h0M505 165h0M481 134h0M507 150h0M498 189h0M483 185h0M476 154h0M498 203h0M494 191h0M478 167h0M496 177h0M509 143h0M497 154h0M485 223h0M507 172h0M486 164h0M487 187h0M491 189h0M469 227h0M474 145h0M496 214h0M483 183h0M454 188h0M516 191h0M500 199h0M515 180h0M525 170h0M488 204h0M473 223h0M479 167h0M480 131h0M502 157h0M474 195h0M516 156h0M466 183h0M487 134h0M476 209h0M475 171h0M485 223h0M508 183h0M499 166h0M491 149h0M501 138h0M489 133h0M514 185h0M513 154h0M525 182h0M507 190h0M483 221h0M476 164h0M468 145h0M484 218h0M504 195h0M524 181h0M507 207h0M494 148h0M499 167h0" stroke="#b66cb0" stroke-width="5.0"/>
<path d="M464 195h0M467 207h0M471 153h0M508 186h0M496 180h0M465 197h0M516 147h0M511 155h0M474 212h0M483 186h0M463 210h0M491 131h0M499 203h0M459 213h0M464 183h0M500 197h0M477 172h0M517 177h0M496 142h0M472 218h0M462 196h0M470 189h0M521 176h0M473 223h0M505 136h0M501 156h0M512 197h0M477 207h0M485 202h0M507 180h0M488 129h0M464 190h0M503 135h0M480 197h0M514 149h0M500 166h0M498 160h0M491 141h0M480 220h0M523 186h0M494 202h0M517 192h0M464 157h0M474 184h0M491 201h0M506 202h0M481 216h0M492 152h0M520 162h0M503 159h0M473 142h0M503 169h0M498 153h0M463 185h0M490 216h0M482 135h0M489 191h0M479 164h0M498 203h0M470 206h0M480 187h0M504 175h0M501 136h0M470 206h0M499 163h0M462 214h0M498 127h0M471 199h0M484 193h0M522 177h0M519 170h0M499 169h0M472 230h0M519 187h0" stroke="#b66cb0" stroke-width="5.0"/>
<path d="M489 138h0M478 192h0M503 147h0M505 140h0M495 187h0M496 218h0M473 207h0M504 141h0M495 174h0M465 149h0M485 227h0M469 206h0M464 192h0M528 180h0M501 180h0M462 176h0M499 133h0M485 140h0M498 215h0M486 227h0M484 142h0M480 227h0M481 140h0M499 132h0M476 216h0M520 185h0M471 191h0M504 160h0M471 227h0M485 188h0M467 146h0M498 174h0M524 160h0M492 213h0M495 187h0M515 158h0M472 183h0M504 134h0M523 164h0M494 213h0M477 225h0M507 166h0M488 171h0M495 163h0M515 158h0M467 206h0M463 201h0M506 195h0M485 201h0M488 201h0M466 206h0M468 219h0M489 215h0M510 172h0M480 216h0M473 143h0M510 150h0M495 196h0M482 223h0M468 224h0M483 229h0M496 196h0M496 139h0M455 205h0M496 133h0M495 169h0M491 159h0M474 167h0M496 191h0M493 166h0M466 185h0M496 185h0M466 166h0M524 177h0M463 223h0M480 132h0M476 182h0M493 217h0M514 164h0M488 177h0M515 146h0M511 203h0M513 162h0M491 187h0M517 174h0M459 203h0M466 198h0M487 167h0M452 194h0M502 195h0M503 196h0M487 178h0M483 186h0M508 160h0M489 144h0M508 172h0M488 129h0M494 145h0M498 146h0M500 171h0M494 163h0M468 226h0M504 203h0M480 150h0M470 226h0M514 164h0M483 223h0M502 142h0M456 193h0M471 183h0M474 143h0M487 156h0M486 198h0M507 146h0M502 150h0M500 168h0M515 144h0M516 179h0M471 225h0M513 153h0M489 147h0M481 183h0M507 189h0M503 178h0M491 217h0M507 188h0M470 163h0M465 161h0M466 179h0M485 166h0M465 211h0M483 138h0M496 175h0M462 221h0M495 201h0M465 192h0M464 207h0M499 135h0M478 219h0M473 223h0M511 164h0M461 199h0M504 177h0M487 181h0M494 151h0M485 175h0M484 199h0M497 200h0M504 167h0M511 163h0M496 209h0M506 169h0M494 132h0M487 226h0M460 167h0M464 171h0M468 178h0M495 151h0M496 204h0M488 199h0M466 157h0M475 224h0M504 191h0M498 156h0M497 204h0M511 147h0M501 167h0M516 147h0M507 158h0M465 198h0M483 148h0M498 179h0M461 221h0M469 226h0M495 169h0M503 153h0M515 187h0M494 210h0M464 162h0M498 177h0M475 156h0M522 177h0M471 224h0M508 169h0M448 202h0M499 173h0M510 192h0M475 162h0M469 214h0M485 193h0M504 162h0M468 229h0" stroke="#80bf5b" stroke-width="5.0"/>
<path d="M467 212h0M456 225h0M471 235h0M468 207h0M477 220h0M476 206h0M485 225h0M483 209h0M474 209h0M489 213h0M458 215h0" stroke="#e97b2f" stroke-width="4.0"/>
<path d="M475 204h0M477 219h0M460 208h0M497 209h0M478 235h0M477 229h0M491 211h0M467 226h0M478 205h0M490 214h0M496 220h0M465 218h0M464 210h0M480 228h0M497 214h0M452 216h0M475 212h0M478 226h0M462 220h0M461 224h0M493 204h0M459 224h0M461 231h0M457 221h0M482 222h0M460 223h0M457 208h0M469 235h0M487 207h0M473 216h0" stroke="#80bf5b" stroke-width="4.0"/>
<path d="M481 228h0M479 214h0M482 222h0M487 216h0M487 223h0M454 208h0M483 222h0M494 208h0M453 210h0M455 208h0M488 224h0M485 204h0M456 211h0M457 215h0M452 207h0M482 221h0M470 220h0M484 219h0M460 228h0M452 218h0M489 226h0M477 224h0M466 216h0M488 230h0M467 207h0M488 212h0M453 218h0M469 220h0M491 218h0" stroke="#252d6c" stroke-width="4.0"/>
<path d="M470 226h0M487 210h0M481 218h0M458 206h0M467 211h0M473 234h0M464 231h0M465 216h0M482 219h0M477 228h0M467 236h0M476 233h0M456 223h0M458 207h0M457 223h0M481 226h0M480 222h0M459 225h0M486 227h0M491 220h0M459 218h0M472 235h0M479 236h0M494 218h0M487 228h0M475 227h0M500 206h0M468 209h0M469 221h0M457 222h0M470 205h0M470 206h0M458 216h0M496 214h0M462 206h0M464 208h0M482 218h0M463 213h0M475 204h0M487 223h0M497 211h0M497 209h0M461 224h0M482 220h0M476 213h0M493 217h0M477 230h0M480 203h0M482 216h0M485 206h0M467 227h0M469 225h0M463 211h0M490 205h0M472 219h0M468 208h0M470 207h0M459 207h0M474 220h0M477 228h0" stroke="#b66cb0" stroke-width="4.0"/>
<path d="M409 257h0M460 247h0M425 246h0M414 267h0M461 256h0M418 264h0M458 235h0M401 256h0M427 241h0" stroke="#b66cb0" stroke-width="4.0"/>
<path d="M448 258h0M407 269h0M410 258h0M443 257h0M424 250h0M445 254h0M444 235h0M454 257h0M457 233h0M478 232h0M457 247h0M456 253h0M461 237h0M438 254h0M465 253h0M419 257h0M434 261h0M428 263h0M424 267h0" stroke="#e97b2f" stroke-width="4.0"/>
<path d="M431 238h0M430 235h0M480 225h0M432 256h0M419 272h0M468 230h0M441 249h0M460 229h0M424 270h0M417 262h0M432 256h0M463 240h0M468 229h0M447 260h0M447 229h0M482 233h0M430 238h0M426 269h0M449 229h0M471 235h0M441 242h0M454 242h0M482 238h0M469 235h0M453 232h0M439 258h0M452 240h0M402 273h0M476 234h0M424 268h0M435 260h0M433 235h0M468 241h0M418 255h0M445 253h0M446 241h0M418 252h0M439 255h0M416 247h0M430 249h0M411 262h0M445 257h0M449 260h0M475 237h0M463 243h0M437 238h0M407 276h0M474 231h0M436 253h0M434 242h0M473 244h0M453 257h0M425 239h0M466 244h0M479 224h0M420 257h0M458 240h0M437 258h0M442 261h0M437 237h0M468 221h0M488 224h0M468 226h0M447 241h0M456 240h0M461 222h0M410 254h0M445 226h0M411 260h0M435 257h0M428 248h0M428 240h0M463 231h0M482 228h0M440 237h0M427 245h0M411 266h0M399 277h0M428 241h0M473 240h0M482 230h0" stroke="#252d6c" stroke-width="4.0"/>
<path d="M419 263h0M414 246h0M466 234h0M462 230h0M461 239h0M470 246h0M405 258h0M468 227h0M440 246h0M473 233h0M462 239h0" stroke="#80bf5b" stroke-width="4.0"/>
<path d="M467 247h0M402 268h0M470 231h0M424 244h0M463 231h0M458 246h0M423 267h0M422 268h0" stroke="#b66cb0" stroke-width="4.0"/>
<path d="M444 231h0M417 251h0M433 237h0M440 265h0M476 237h0M436 243h0M479 220h0M434 233h0M427 243h0M466 239h0M449 241h0M453 227h0M412 269h0M409 264h0M439 239h0M462 229h0M406 264h0" stroke="#e97b2f" stroke-width="4.0"/>
<path d="M424 247h0M479 224h0M423 251h0M473 248h0M481 235h0M419 267h0M420 260h0M427 258h0M464 222h0M450 246h0M401 275h0M437 239h0M429 246h0" stroke="#80bf5b" stroke-width="4.0"/>
<path d="M457 249h0M434 251h0M447 255h0M447 258h0M461 236h0M409 274h0M463 252h0M438 233h0M452 249h0M482 224h0M458 236h0M460 237h0M423 251h0M418 269h0M453 242h0M423 260h0M479 230h0M460 250h0M467 225h0M471 236h0M423 249h0M402 263h0M397 264h0M476 245h0M445 243h0M459 249h0M452 225h0M453 233h0M410 256h0M452 240h0M426 247h0M441 238h0M456 243h0M465 228h0M463 224h0M409 271h0M459 224h0M435 246h0M436 230h0M454 249h0M440 260h0M473 225h0M439 266h0M409 252h0M453 236h0M474 236h0M463 248h0M458 237h0M436 241h0M468 241h0M446 230h0M439 254h0M408 267h0M465 221h0M464 250h0M462 241h0M443 238h0M476 230h0M455 255h0M458 243h0M464 250h0M421 249h0M413 268h0M422 246h0M406 258h0M439 257h0M432 267h0M472 233h0M455 257h0M456 227h0M463 254h0M434 227h0M424 242h0M427 255h0M465 230h0M449 250h0M465 230h0M438 234h0M482 234h0M418 250h0M419 258h0M405 259h0" stroke="#252d6c" stroke-width="4.0"/>
<path d="M404 263h0M435 247h0M461 247h0M460 243h0M466 248h0M435 230h0M431 263h0M429 254h0M422 251h0M440 256h0M460 239h0M480 225h0M432 258h0" stroke="#e97b2f" stroke-width="4.0"/>
<path d="M421 252h0M463 239h0M466 247h0M428 258h0M414 261h0M451 227h0M406 258h0M396 269h0M430 249h0M430 249h0M454 227h0M437 237h0M410 257h0M470 232h0M445 237h0M441 256h0M473 226h0M437 264h0M436 263h0M409 265h0M454 229h0M450 257h0M448 234h0M473 238h0M476 232h0M430 251h0M400 262h0M481 228h0M424 254h0M420 266h0M446 233h0M448 253h0M427 242h0M414 259h0M471 241h0M464 238h0M438 249h0M441 249h0M449 256h0M416 251h0M397 266h0M435 245h0M421 244h0M454 250h0M442 262h0M425 252h0M464 251h0M417 263h0M461 253h0M451 252h0M470 235h0M434 257h0M424 250h0M427 262h0M436 254h0M478 234h0M448 256h0M470 239h0M411 262h0M444 241h0M432 253h0M449 242h0M449 235h0M460 250h0M441 235h0M467 235h0M463 238h0M446 249h0M455 233h0M444 237h0M405 259h0M464 233h0M424 243h0M457 240h0M414 263h0M474 227h0M450 231h0M418 266h0M431 236h0" stroke="#252d6c" stroke-width="4.0"/>
<path d="M466 225h0M476 245h0M410 268h0M422 248h0M456 239h0M417 247h0M456 242h0M407 272h0M431 266h0M397 275h0M469 231h0M444 234h0M433 248h0M406 256h0M404 270h0" stroke="#b66cb0" stroke-width="4.0"/>
<path d="M403 261h0M428 246h0M445 246h0M461 248h0M434 238h0M431 236h0M451 241h0M424 241h0M422 251h0M475 242h0M415 256h0M414 272h0M429 260h0" stroke="#80bf5b" stroke-width="4.0"/>
<path d="M421 229h0M435 236h0M430 243h0M436 239h0M425 233h0M404 258h0M430 249h0M430 238h0M416 255h0M414 248h0M415 251h0M409 258h0M416 256h0M410 243h0M407 253h0M429 241h0M422 247h0M413 247h0M425 247h0M425 233h0M443 232h0M424 242h0M433 234h0M437 233h0M422 230h0M411 259h0M439 233h0M428 232h0M403 256h0M410 247h0M433 235h0M416 247h0M431 239h0M422 241h0M415 258h0M432 242h0M409 258h0M418 237h0M415 242h0M421 241h0M423 238h0M415 261h0M422 243h0M417 234h0M436 230h0M435 227h0M409 255h0M433 240h0M403 259h0M402 257h0M414 255h0M430 242h0M434 229h0M434 239h0M427 226h0M433 243h0M437 234h0M420 244h0M413 254h0M419 232h0M425 239h0M416 240h0M423 231h0M435 233h0M442 228h0M430 229h0M411 250h0M409 249h0M422 239h0M403 252h0" stroke="#252d6c" stroke-width="4.0"/>
<path d="M445 276h0M375 264h0M385 288h0M380 264h0M433 278h0M389 280h0M442 269h0M430 279h0M430 291h0M436 281h0M402 291h0M397 266h0M396 294h0M443 280h0M436 291h0M397 300h0M433 276h0M408 265h0M445 280h0M445 279h0M409 267h0M420 264h0M382 257h0M403 265h0M407 301h0M438 261h0M373 271h0M422 274h0M410 275h0M386 267h0M438 261h0M417 290h0M422 302h0M444 261h0" stroke="#b66cb0" stroke-width="4.0"/>
<path d="M380 274h0M441 274h0M393 269h0M398 300h0M415 267h0M380 262h0M401 261h0M394 292h0M414 295h0M381 286h0M390 292h0M403 294h0M433 262h0M436 287h0M396 256h0M414 297h0M373 278h0M388 286h0M396 256h0M447 280h0M433 286h0M376 272h0M369 269h0M370 277h0M421 274h0M395 267h0M382 255h0M423 299h0M374 277h0M396 279h0M395 275h0M445 278h0M431 290h0M413 274h0M369 276h0M429 276h0M423 278h0" stroke="#252d6c" stroke-width="4.0"/>
<path d="M436 297h0M397 295h0M384 257h0M429 289h0M418 296h0M429 286h0M440 293h0M431 298h0M448 274h0M425 278h0M402 278h0M414 284h0M424 290h0M397 259h0M378 260h0M386 293h0M446 270h0M434 272h0M403 270h0M369 264h0M421 259h0M412 295h0M438 275h0M398 276h0M412 282h0M411 265h0M431 285h0M411 274h0M440 293h0M442 285h0M410 272h0M373 285h0M425 270h0M418 297h0M371 265h0M420 260h0M423 276h0M437 287h0M376 287h0M381 280h0M451 279h0M393 258h0M376 287h0M411 257h0M443 282h0M393 253h0M410 301h0" stroke="#e97b2f" stroke-width="4.0"/>
<path d="M384 276h0M394 297h0M392 297h0" stroke="#8b9bcb" stroke-width="4.0"/>
<path d="M385 279h0M432 286h0M417 262h0M400 277h0M399 257h0M403 294h0M388 292h0M381 257h0M433 291h0M447 283h0M406 270h0M386 294h0M400 283h0M381 268h0M419 277h0M385 287h0M424 279h0M431 269h0M425 298h0M425 268h0M449 273h0M424 270h0M423 303h0M418 266h0M389 288h0M387 285h0M405 294h0M445 266h0M398 261h0M369 272h0M383 280h0M384 279h0M380 269h0M438 271h0M437 272h0M446 267h0M398 265h0M405 271h0M380 291h0" stroke="#80bf5b" stroke-width="4.0"/>
<path d="M381 280h0M408 255h0M440 287h0M393 295h0M399 266h0M421 301h0M430 295h0M382 270h0M435 271h0M385 256h0M377 285h0M413 304h0M403 271h0M395 256h0M384 286h0M389 260h0M370 277h0M403 264h0M442 275h0M378 285h0M426 263h0M400 299h0M416 280h0M385 280h0M371 285h0M379 276h0M439 277h0M395 259h0M429 298h0M406 263h0M392 299h0M381 270h0M408 265h0M440 293h0M414 278h0M408 277h0M422 284h0M444 265h0M432 293h0M411 286h0M435 294h0M374 282h0M383 277h0M422 291h0M410 264h0M396 298h0M449 278h0M422 299h0M372 270h0" stroke="#80bf5b" stroke-width="4.0"/>
<path d="M400 266h0M387 267h0M366 273h0M398 297h0M404 265h0M385 272h0M389 293h0M433 264h0M438 272h0M397 281h0M419 300h0M414 264h0M409 283h0M439 270h0M392 254h0M402 280h0M451 287h0M420 261h0M428 266h0M437 294h0M405 279h0M452 276h0M406 260h0M378 264h0M400 291h0M411 289h0M419 268h0M405 295h0M436 273h0M426 278h0" stroke="#252d6c" stroke-width="4.0"/>
<path d="M412 267h0M405 290h0M433 285h0M441 275h0M449 275h0M412 297h0M428 285h0M427 272h0M389 298h0M382 261h0M442 265h0M422 276h0M403 277h0M429 296h0M424 283h0M444 272h0M422 295h0M387 265h0M408 271h0M447 264h0M385 262h0M377 275h0M418 264h0M398 301h0M395 296h0M436 269h0M424 293h0M445 289h0M448 284h0M452 271h0M402 265h0M397 274h0M381 266h0M400 282h0M367 264h0" stroke="#e97b2f" stroke-width="4.0"/>
<path d="M428 296h0M441 280h0M400 263h0M415 273h0M428 263h0M403 268h0M406 290h0M411 273h0M387 302h0M415 295h0M404 285h0M410 298h0M417 301h0M430 276h0M421 290h0M423 288h0M416 293h0M428 290h0M438 296h0M436 268h0M407 283h0M423 295h0M431 292h0M370 282h0M389 290h0M383 266h0M431 279h0M392 285h0M428 287h0M367 273h0M439 261h0M382 297h0M405 267h0M429 262h0M409 296h0M421 264h0M418 281h0M386 268h0M412 294h0M415 270h0" stroke="#b66cb0" stroke-width="4.0"/>
<path d="M405 261h0M418 277h0M428 265h0M447 270h0M413 279h0M400 296h0" stroke="#8b9bcb" stroke-width="4.0"/>
<path d="M432 294h0M421 282h0M402 254h0M410 302h0M405 300h0M409 302h0M399 273h0M391 271h0M369 271h0M421 271h0M379 284h0M417 273h0M439 273h0M437 282h0M438 275h0M424 264h0M411 280h0M367 267h0M419 298h0M366 265h0M442 265h0M418 277h0M383 294h0M402 295h0M418 279h0M376 271h0M412 274h0M446 284h0M380 278h0M421 274h0M394 264h0M399 263h0M431 268h0M368 267h0M388 287h0M394 286h0M437 268h0M418 279h0M396 299h0M433 271h0M446 280h0M441 275h0M417 286h0M406 276h0M393 255h0" stroke="#e97b2f" stroke-width="4.0"/>
<path d="M367 271h0M413 288h0M424 275h0M393 266h0M391 299h0M413 283h0M409 258h0" stroke="#8b9bcb" stroke-width="4.0"/>
<path d="M424 290h0M375 265h0M443 288h0M434 269h0M441 275h0M435 290h0M413 288h0M423 288h0M387 259h0M412 296h0M400 258h0M415 283h0M384 256h0M415 296h0M444 269h0M423 298h0M423 283h0M404 280h0M436 265h0M381 285h0M418 301h0M447 271h0M452 273h0M403 303h0M417 268h0M381 286h0M410 269h0M424 295h0M394 259h0M420 266h0M393 259h0M401 294h0M374 276h0M413 273h0M390 295h0M433 277h0M402 271h0M419 301h0" stroke="#80bf5b" stroke-width="4.0"/>
<path d="M387 278h0M407 303h0M384 263h0M378 277h0M381 262h0M418 295h0M387 299h0M402 275h0M389 266h0M369 271h0M411 298h0M376 274h0M370 278h0M411 301h0M426 268h0M390 282h0M423 272h0M381 265h0M406 286h0M413 280h0M433 264h0M394 283h0M413 292h0M382 265h0M426 275h0M421 294h0M413 297h0M387 278h0" stroke="#252d6c" stroke-width="4.0"/>
<path d="M412 302h0M399 274h0M419 264h0M418 272h0M398 271h0M417 261h0M389 294h0M423 281h0M380 258h0M413 261h0M439 275h0M413 289h0M416 286h0M389 282h0M400 273h0M390 261h0M385 274h0M379 284h0M382 257h0M423 275h0M394 284h0M387 274h0M436 275h0M395 274h0M385 292h0M404 294h0M401 269h0M398 276h0M418 272h0M381 283h0M400 269h0M428 257h0M446 271h0M395 259h0M448 270h0M424 282h0M446 269h0M422 285h0M446 270h0M426 286h0M399 273h0M403 279h0" stroke="#b66cb0" stroke-width="4.0"/>
<path d="M365 266h0M395 278h0M369 269h0M376 282h0M376 283h0M384 257h0M391 273h0M404 272h0M384 264h0M387 274h0M385 254h0M388 266h0M407 267h0M380 258h0M363 261h0M388 263h0M383 279h0M366 267h0M382 269h0M394 259h0M384 260h0M382 269h0M390 264h0M378 269h0M399 255h0M393 280h0M403 265h0M399 267h0M388 275h0M386 274h0M392 265h0M395 264h0M407 266h0M394 265h0M400 264h0M369 263h0M374 269h0M382 274h0M372 273h0M372 265h0M386 277h0M390 260h0M381 257h0M386 265h0M365 269h0M392 270h0M381 283h0M367 268h0M396 268h0M392 265h0M399 267h0M370 269h0M398 271h0M385 257h0M400 281h0M386 279h0M386 277h0M391 256h0M388 279h0M392 265h0M394 268h0M379 263h0M388 279h0M380 256h0M397 268h0M388 267h0M403 262h0M397 266h0M378 268h0M384 275h0M399 259h0M398 264h0M385 287h0M382 260h0M383 285h0M381 286h0M401 252h0M386 265h0M398 279h0M378 276h0M378 275h0M402 270h0M387 262h0M374 261h0M406 265h0M384 255h0M383 253h0M381 259h0M369 273h0M393 282h0M401 264h0M395 261h0M382 259h0M387 270h0M365 263h0M379 268h0M404 275h0M386 261h0M370 266h0M396 266h0M398 266h0M394 264h0" stroke="#80bf5b" stroke-width="4.0"/>
<path d="M382 253h0M372 275h0M376 271h0M400 273h0M398 272h0M375 259h0M370 265h0M405 273h0M375 262h0M392 269h0M400 269h0M383 273h0M397 275h0M392 270h0M397 278h0M377 263h0M368 269h0M390 262h0M387 274h0M388 256h0M379 279h0M372 264h0M386 273h0M401 272h0M400 276h0M378 270h0M390 270h0M382 271h0M397 264h0M365 263h0M368 266h0M380 266h0M406 260h0M396 282h0M393 269h0M390 277h0M397 259h0M393 267h0M390 256h0M386 266h0M392 260h0M390 254h0M369 264h0M382 257h0M378 261h0M384 268h0M397 255h0M382 254h0M377 263h0M401 273h0M367 265h0M407 263h0M379 271h0M375 257h0M388 280h0M387 259h0M370 261h0M382 259h0M380 258h0M387 279h0M378 282h0M387 265h0M379 258h0M370 265h0M384 270h0M391 258h0M370 268h0M371 255h0M380 285h0M401 256h0M392 271h0" stroke="#b66cb0" stroke-width="4.0"/>
<path d="M382 272h0M374 263h0M370 265h0M396 264h0M399 270h0M405 261h0M390 273h0M399 269h0M366 267h0M381 268h0M396 268h0M382 266h0M400 259h0M404 274h0M365 264h0M388 285h0M381 277h0M369 269h0M383 264h0M381 264h0M378 257h0M393 269h0M401 256h0M409 273h0M366 267h0M387 257h0M372 273h0" stroke="#252d6c" stroke-width="4.0"/>
<path d="M419 266h0M444 283h0M421 287h0M422 276h0M435 280h0M431 292h0M407 282h0M433 290h0M412 277h0M440 286h0M439 289h0M442 267h0M418 287h0M439 273h0M425 271h0M420 291h0M430 268h0M421 288h0M446 287h0M427 286h0M448 278h0M438 290h0M447 280h0" stroke="#b66cb0" stroke-width="4.0"/>
<path d="M416 287h0M416 283h0M432 289h0M427 263h0M425 286h0M440 285h0M418 276h0M441 276h0M412 280h0M418 272h0M413 280h0M422 264h0M421 278h0M421 271h0M433 280h0M430 290h0M433 285h0M423 286h0M421 268h0M431 285h0M446 265h0M411 278h0M435 292h0M424 292h0M416 276h0M443 277h0M443 285h0M413 293h0M428 289h0M409 283h0M438 283h0M442 276h0M428 276h0M437 274h0M433 271h0M445 267h0M427 271h0M432 275h0M411 283h0M436 262h0M429 274h0M427 290h0M418 290h0M432 294h0M418 279h0M413 268h0M423 265h0M426 266h0M425 266h0M414 282h0M433 273h0M419 269h0M419 297h0M417 281h0M423 271h0M421 283h0M418 274h0M414 272h0M431 266h0M418 281h0M436 264h0M437 265h0M416 291h0M415 285h0M425 281h0M442 282h0M411 282h0M425 285h0M434 284h0M433 271h0M424 292h0M444 275h0M436 274h0M415 280h0M442 275h0M414 287h0M430 292h0M425 264h0M442 269h0M410 282h0M418 294h0M418 282h0M447 281h0M423 295h0M429 295h0M433 277h0M433 273h0M420 280h0M436 283h0M445 274h0M415 277h0M422 268h0M419 266h0M429 271h0M439 284h0M414 280h0M412 295h0M415 274h0M423 294h0M445 279h0M439 272h0M415 283h0M434 286h0M442 288h0M443 273h0M420 273h0M444 271h0M414 276h0M410 280h0M433 296h0M437 289h0M423 293h0M412 267h0M445 287h0M426 286h0M449 276h0M417 269h0M447 273h0M429 294h0M441 288h0M430 297h0M444 278h0M419 270h0M440 281h0M422 282h0M450 268h0M419 266h0M426 265h0M436 294h0M428 299h0M445 279h0M414 272h0M411 266h0M432 276h0M440 287h0M426 276h0M441 265h0M432 286h0M438 269h0M418 281h0M414 274h0M439 267h0M425 293h0" stroke="#e97b2f" stroke-width="4.0"/>
<path d="M426 279h0M434 275h0M415 292h0M423 297h0M437 291h0M412 281h0M443 271h0M412 269h0M412 282h0M444 269h0M427 300h0M429 283h0M412 276h0M438 289h0M423 288h0M412 288h0M430 273h0M442 279h0M432 288h0M441 276h0M430 267h0M420 293h0M434 286h0M428 284h0" stroke="#252d6c" stroke-width="4.0"/>
<path d="M453 302h0M449 299h0M450 304h0M447 302h0M446 290h0M454 296h0M454 306h0M454 306h0M451 302h0M450 300h0M443 288h0M444 299h0M443 290h0M447 301h0M458 306h0M447 305h0M433 287h0" stroke="#b66cb0" stroke-width="4.0"/>
<path d="M450 297h0M444 297h0M444 303h0M453 307h0M437 296h0M445 295h0M451 302h0M434 295h0" stroke="#8b9bcb" stroke-width="4.0"/>
<path d="M413 318h0M398 353h0M420 330h0M427 304h0M430 306h0M418 300h0M424 298h0M415 316h0M418 318h0" stroke="#e97b2f" stroke-width="4.0"/>
<path d="M420 353h0M415 303h0M420 302h0M407 332h0M401 355h0M406 356h0M408 349h0M423 327h0" stroke="#c9222b" stroke-width="4.0"/>
<path d="M421 340h0M401 353h0M402 355h0M398 359h0M422 318h0M422 350h0M411 342h0M418 336h0" stroke="#9784bd" stroke-width="4.0"/>
<path d="M405 349h0M433 328h0M422 321h0M417 323h0M416 311h0M419 311h0M405 346h0M417 338h0M400 362h0M420 330h0M407 358h0M413 361h0M415 331h0M415 325h0M392 371h0M419 312h0M411 307h0M414 315h0M431 319h0M413 346h0M421 324h0M407 326h0M397 378h0M418 316h0M429 326h0M432 306h0M416 356h0M431 317h0M410 363h0M412 355h0M428 315h0M432 308h0M416 310h0M413 325h0M433 323h0M417 301h0M433 314h0M424 304h0M423 332h0M432 303h0M413 337h0M427 332h0M410 337h0M422 352h0M412 368h0M407 339h0M401 369h0M405 364h0M413 357h0M427 325h0M433 328h0M421 337h0M428 326h0M419 324h0M410 326h0M433 307h0M421 347h0M414 338h0M400 376h0M418 304h0M394 363h0M427 307h0M398 355h0M394 371h0M416 342h0M425 323h0M413 367h0M416 352h0M411 370h0M427 345h0M402 376h0M412 357h0M393 375h0" stroke="#8b9bcb" stroke-width="4.0"/>
<path d="M399 357h0M424 300h0M405 375h0M427 339h0M395 377h0M426 296h0M411 357h0M411 312h0M410 312h0M429 315h0M423 299h0M421 317h0" stroke="#cfa163" stroke-width="4.0"/>
<path d="M408 371h0M417 338h0M390 370h0M424 309h0M429 334h0M413 308h0M403 354h0" stroke="#c9222b" stroke-width="4.0"/>
<path d="M410 344h0M411 356h0M421 332h0M425 299h0M423 309h0M418 321h0M434 313h0M424 300h0M426 336h0M418 330h0M412 361h0M398 371h0M427 324h0M427 315h0M407 357h0M434 318h0M406 364h0M418 336h0M401 365h0M430 317h0M435 319h0M417 342h0M424 325h0M416 337h0M421 309h0M421 314h0M411 309h0M392 375h0M425 300h0M427 318h0M423 347h0M412 330h0M398 354h0M418 357h0M414 318h0M417 341h0M419 338h0M429 318h0M419 306h0M422 311h0M400 355h0M415 307h0M428 340h0M415 340h0M418 307h0M396 374h0M398 355h0M421 312h0M425 324h0M409 344h0M418 308h0M422 303h0M417 353h0M424 303h0M401 371h0M409 362h0M420 316h0M409 353h0M408 349h0M399 366h0M404 356h0M427 305h0M420 320h0M406 333h0M415 338h0M424 332h0M426 325h0M424 336h0M410 368h0M415 301h0M417 306h0M420 304h0" stroke="#8b9bcb" stroke-width="4.0"/>
<path d="M408 344h0M408 350h0M421 309h0M430 312h0M409 341h0M421 343h0M421 347h0M432 312h0M424 307h0" stroke="#e97b2f" stroke-width="4.0"/>
<path d="M415 332h0M425 331h0M410 335h0M412 335h0M431 323h0M437 309h0M418 310h0M417 344h0M408 374h0M403 366h0M416 333h0M422 309h0" stroke="#9784bd" stroke-width="4.0"/>
<path d="M419 313h0M412 358h0M410 341h0M418 332h0M395 360h0M405 342h0M421 341h0M416 335h0M394 371h0M396 365h0" stroke="#cfa163" stroke-width="4.0"/>
<path d="M414 345h0M419 322h0M404 367h0M424 351h0M414 333h0M431 315h0M400 353h0M414 316h0M431 318h0M423 302h0M409 333h0M421 350h0M415 349h0" stroke="#9784bd" stroke-width="4.0"/>
<path d="M427 311h0M433 313h0M420 306h0M418 330h0M413 362h0M418 344h0M429 332h0M417 357h0" stroke="#cfa163" stroke-width="4.0"/>
<path d="M405 373h0M418 356h0M435 319h0M420 312h0M393 369h0M424 318h0M416 336h0M407 330h0M409 372h0M406 363h0M425 329h0M393 368h0M396 377h0M430 316h0M405 372h0M411 338h0M417 344h0M409 327h0M420 319h0M421 334h0M398 375h0M418 346h0M426 343h0M421 338h0M409 345h0M400 362h0M407 317h0M408 340h0M409 363h0M402 374h0M410 372h0M404 372h0M426 308h0M409 348h0M419 321h0M398 381h0M420 354h0M433 319h0M402 358h0M426 321h0M413 305h0M415 357h0M421 331h0M433 326h0M427 327h0M429 308h0M400 375h0M419 347h0M420 351h0M414 302h0M409 365h0M433 308h0M399 357h0M400 366h0M414 351h0M426 342h0M410 346h0M434 307h0M427 312h0M405 342h0M430 306h0M421 301h0M425 296h0M419 338h0M418 358h0M429 311h0M405 367h0M429 318h0M406 368h0M413 351h0M435 314h0M413 308h0M407 331h0M415 307h0M426 327h0M432 331h0M425 308h0M395 366h0M397 378h0" stroke="#8b9bcb" stroke-width="4.0"/>
<path d="M391 373h0M418 326h0M402 363h0M412 342h0M413 321h0M431 322h0M418 343h0M418 308h0" stroke="#e97b2f" stroke-width="4.0"/>
<path d="M397 362h0M431 324h0" stroke="#c9222b" stroke-width="4.0"/>
<path d="M429 338h0M429 346h0M425 332h0M434 338h0M423 347h0M436 348h0M433 330h0M425 319h0M438 328h0M436 340h0M433 320h0M427 330h0M431 338h0M432 339h0M432 346h0M428 352h0M430 323h0M421 323h0M434 349h0M433 343h0M428 322h0M434 344h0M428 325h0M426 340h0M436 334h0M434 349h0M424 344h0M433 330h0M432 333h0M435 324h0M422 351h0M424 342h0M432 338h0M423 322h0M424 346h0M422 326h0M423 342h0M425 336h0M424 354h0M426 339h0M423 324h0M437 323h0M426 353h0M425 336h0M427 353h0M422 353h0M436 347h0M429 319h0M426 348h0M429 355h0M429 335h0M427 343h0M433 327h0M432 324h0M436 324h0M427 316h0M426 334h0M436 331h0M431 333h0M432 327h0M432 330h0M429 345h0M434 324h0M435 331h0M422 343h0M432 332h0M430 347h0M431 322h0M426 332h0M433 318h0M431 323h0M428 332h0M431 316h0M431 336h0M430 351h0M424 330h0M435 352h0M425 322h0M432 334h0M426 318h0M427 328h0M434 328h0M426 340h0M426 327h0M425 347h0M421 327h0M432 346h0M429 350h0M427 358h0M434 337h0M427 321h0M433 322h0M424 351h0M428 333h0" stroke="#0f6c76" stroke-width="4.0"/>
<path d="M430 326h0M432 335h0M427 337h0M430 330h0M435 354h0M428 332h0M427 353h0M434 347h0M425 319h0M425 338h0M430 318h0M439 332h0M426 327h0M426 349h0M437 337h0M430 348h0" stroke="#3cb39f" stroke-width="4.0"/>
<path d="M383 364h0M374 404h0M326 371h0M330 385h0M347 400h0M388 392h0M370 361h0M372 361h0M356 404h0M393 387h0M360 362h0M395 379h0M335 366h0M381 365h0M355 407h0M374 363h0M340 397h0M330 387h0M360 406h0M355 365h0M391 394h0M343 400h0M395 385h0M389 366h0M341 365h0M398 383h0M369 403h0M354 362h0M385 363h0M396 381h0M393 389h0M336 392h0M344 364h0M394 367h0M366 362h0M331 381h0M353 403h0M381 400h0M379 361h0M387 396h0M380 399h0M367 404h0M327 372h0M356 404h0M339 400h0M375 362h0M331 379h0M357 362h0M388 396h0M391 388h0M367 406h0M373 362h0M385 364h0M354 363h0M334 368h0M393 378h0M356 365h0M339 397h0M377 366h0M385 395h0M343 403h0M368 404h0M365 360h0M388 397h0M395 378h0M332 385h0M395 383h0M391 393h0M395 378h0M342 394h0" stroke="#c9222b" stroke-width="4.0"/>
<path d="M355 406h0M350 401h0M366 414h0M354 419h0M349 404h0M358 420h0M350 417h0M365 417h0M364 411h0M357 426h0M349 420h0M350 397h0M352 418h0" stroke="#c9222b" stroke-width="4.0"/>
<path d="M346 404h0M352 396h0M365 400h0M360 415h0M344 402h0M351 407h0M351 425h0M360 408h0M364 419h0M364 419h0M360 409h0M361 399h0M355 407h0M347 402h0M353 413h0M353 402h0M365 409h0M364 401h0M366 407h0M357 409h0M348 413h0M349 412h0M357 407h0M364 419h0M364 419h0M355 416h0M364 403h0M364 408h0M361 403h0M359 425h0M347 408h0M357 407h0M359 417h0M350 417h0M350 396h0M365 410h0M358 410h0M351 406h0M347 403h0M357 404h0M363 417h0M345 402h0M360 407h0M352 396h0M352 412h0M348 410h0M352 406h0M354 405h0M356 397h0M347 413h0M364 409h0M360 415h0M353 403h0M349 403h0M364 412h0M367 403h0M350 410h0M368 403h0M350 401h0M353 403h0M350 411h0M350 399h0M352 411h0M357 397h0M361 421h0M362 411h0M361 408h0M352 409h0M364 404h0M363 407h0M363 399h0M361 397h0M356 407h0M360 412h0M361 402h0M358 402h0M357 416h0M366 415h0M357 399h0M358 426h0M348 416h0M364 409h0M363 405h0M365 403h0M352 422h0M362 403h0M361 411h0M357 420h0M366 412h0M349 404h0M366 406h0M365 410h0M360 408h0M355 408h0M359 406h0M348 403h0M358 415h0M360 398h0M361 405h0M348 410h0M360 411h0M354 398h0M348 395h0M355 407h0M365 413h0M367 402h0M348 404h0" stroke="#ca512b" stroke-width="4.0"/>
<path d="M428 374h0M419 407h0M437 418h0M423 406h0M382 384h0M399 422h0M402 396h0M426 408h0M417 366h0M381 410h0M389 386h0M383 402h0M408 402h0M373 406h0M395 407h0M422 417h0M410 380h0M407 406h0M412 393h0M378 402h0M382 420h0M385 372h0M425 389h0M378 382h0M396 376h0M427 408h0" stroke="#8b9bcb" stroke-width="4.0"/>
<path d="M408 390h0M379 376h0M405 418h0M386 406h0M383 397h0M442 407h0M444 380h0M444 377h0M409 377h0M402 398h0M433 388h0M416 394h0M415 420h0" stroke="#e8797d" stroke-width="4.0"/>
<path d="M425 384h0M386 384h0M427 389h0M411 418h0M393 371h0M405 412h0M441 411h0M421 402h0M370 408h0M412 392h0M424 421h0M391 373h0M433 397h0M428 415h0M371 396h0M412 395h0M394 397h0M429 414h0M385 376h0M408 380h0M422 368h0M387 402h0M400 406h0M418 419h0M437 389h0" stroke="#3cb39f" stroke-width="4.0"/>
<path d="M420 382h0M410 411h0M432 412h0M409 377h0M415 388h0M449 389h0M425 377h0M391 408h0" stroke="#7a2b8f" stroke-width="4.0"/>
<path d="M428 377h0M381 400h0M379 369h0M426 377h0M429 402h0M422 391h0M393 383h0M387 404h0M391 390h0M448 379h0M387 384h0M418 383h0M385 373h0M374 369h0M399 399h0M392 366h0M383 393h0M393 378h0M401 409h0M437 387h0M373 373h0M432 377h0M437 389h0M427 379h0M392 413h0M392 421h0M397 372h0M440 377h0M404 398h0M440 374h0M432 378h0M417 388h0M406 390h0M395 424h0M440 395h0M415 407h0M413 400h0M434 394h0M403 369h0M382 411h0M425 394h0M449 406h0M378 402h0M406 395h0M394 411h0M433 406h0M406 389h0M385 403h0M437 374h0M446 373h0M440 409h0M372 391h0M446 384h0M416 364h0M434 406h0M387 407h0M428 406h0M433 367h0M383 415h0M398 423h0M383 406h0M387 371h0M392 418h0M426 396h0M434 404h0M438 409h0M425 373h0M400 406h0M371 400h0M451 405h0M425 387h0M381 377h0M436 399h0M431 381h0M422 406h0M452 387h0M399 400h0M374 399h0M384 401h0M373 377h0M378 399h0M404 374h0M428 407h0M451 397h0M429 393h0M404 404h0M418 386h0M433 392h0" stroke="#c9222b" stroke-width="4.0"/>
<path d="M422 417h0M382 388h0M396 400h0M423 395h0M431 373h0M398 378h0M433 417h0M422 406h0M415 398h0M414 423h0" stroke="#ca512b" stroke-width="4.0"/>
<path d="M432 386h0M517 391h0M455 408h0M485 406h0M432 397h0M521 391h0M434 403h0M431 397h0M522 386h0M492 405h0M519 384h0M445 389h0M510 396h0M514 383h0M496 408h0M455 409h0M427 388h0M438 385h0M493 391h0M511 395h0M426 388h0M503 392h0M460 392h0M486 410h0M510 389h0M496 406h0M438 401h0M433 386h0M448 411h0M465 414h0M503 388h0M510 389h0M517 394h0M468 391h0M519 388h0M520 385h0M462 392h0M499 402h0M512 398h0M492 392h0M438 407h0M519 385h0M516 395h0M437 404h0M428 387h0M485 409h0M427 388h0M436 387h0M498 391h0M438 406h0M518 391h0M466 412h0M478 392h0M501 401h0M514 396h0M454 409h0M471 408h0M428 391h0M463 411h0M444 410h0M482 411h0M519 389h0M454 387h0M477 409h0M519 385h0M430 393h0M517 384h0M461 413h0M476 393h0M519 384h0" stroke="#e8797d" stroke-width="4.0"/>
<path d="M646 359h0M576 360h0M635 339h0M578 369h0M631 338h0M621 386h0M601 386h0M590 382h0M600 338h0M576 359h0M575 367h0M584 378h0M618 334h0M599 338h0M575 360h0M616 334h0M635 383h0M633 337h0M614 333h0M576 364h0M581 350h0M623 387h0M632 380h0M647 343h0M597 384h0M624 383h0M596 385h0M575 363h0M591 341h0M611 334h0M647 353h0M645 373h0M608 333h0M579 364h0M606 388h0M621 333h0M609 335h0M575 367h0M644 350h0M637 337h0M649 349h0M610 385h0M628 335h0M574 354h0M640 377h0M575 369h0M638 338h0M589 387h0M575 369h0M624 386h0M648 363h0M626 383h0M576 356h0M629 336h0M577 361h0M637 379h0M647 360h0M583 379h0M626 385h0M580 378h0M647 348h0M576 371h0M577 372h0M616 389h0M626 385h0M628 385h0M577 356h0M627 384h0M649 347h0M597 339h0M646 364h0M637 338h0M592 377h0M644 346h0M577 358h0M649 357h0M599 339h0M577 369h0M585 346h0M593 386h0" stroke="#e8797d" stroke-width="4.0"/>
<path d="M541 387h0M548 375h0M556 380h0M559 371h0M546 379h0M556 381h0" stroke="#7a2b8f" stroke-width="4.0"/>
<path d="M541 386h0M544 382h0M538 379h0M537 384h0M545 385h0M532 382h0M549 380h0M533 390h0M541 382h0M566 381h0M550 378h0M550 383h0M567 372h0M569 372h0M583 370h0M581 371h0M537 381h0M566 377h0M555 382h0" stroke="#e8797d" stroke-width="4.0"/>
<path d="M478 425h0M425 433h0M458 438h0M467 427h0M427 436h0M428 423h0M441 444h0M479 425h0M445 447h0M447 447h0M463 423h0M450 435h0M450 446h0M472 436h0M445 437h0M453 451h0M477 425h0M435 431h0M456 424h0M462 415h0M446 436h0M420 424h0M437 431h0M448 424h0M471 417h0M466 426h0M465 434h0M456 453h0M456 451h0M457 439h0M475 441h0M462 411h0M447 412h0M444 445h0M437 442h0M451 455h0M447 422h0M460 418h0M454 451h0M468 419h0M470 445h0M448 429h0M451 422h0M420 431h0M463 419h0M465 435h0M470 428h0M428 426h0M477 430h0M429 432h0M451 425h0M468 431h0M435 448h0M468 430h0M465 437h0M421 433h0M444 449h0M441 440h0M433 442h0M450 446h0M461 417h0M422 442h0M453 428h0M445 426h0M428 436h0M425 433h0M470 435h0M418 429h0M467 425h0M416 431h0M472 423h0M431 436h0M441 452h0M441 425h0M450 441h0M455 442h0M429 424h0M454 415h0M474 439h0M455 449h0M434 440h0M438 441h0M459 433h0M445 442h0M454 438h0M414 428h0M458 450h0M454 440h0M432 427h0M426 432h0M435 427h0M452 429h0M444 415h0" stroke="#0f6c76" stroke-width="4.0"/>
<path d="M453 414h0M433 442h0M428 430h0M457 424h0M475 428h0M445 436h0M414 439h0" stroke="#3cb39f" stroke-width="4.0"/>
<path d="M433 430h0M463 435h0M475 429h0M448 441h0M426 424h0M453 438h0M435 439h0M446 430h0" stroke="#3cb39f" stroke-width="4.0"/>
<path d="M449 448h0M468 432h0M456 430h0M446 454h0M462 424h0M430 430h0M432 422h0M463 444h0M469 418h0M459 411h0M470 431h0M456 452h0M474 416h0M448 447h0M438 444h0M431 435h0M455 430h0M415 439h0M462 448h0M443 437h0M445 456h0M445 430h0M460 422h0M461 442h0M443 415h0M446 414h0M455 441h0M433 421h0M445 447h0M451 430h0M468 415h0M453 418h0M463 421h0M445 425h0M449 450h0M447 430h0M453 438h0M442 446h0M476 436h0M449 432h0M442 435h0M458 433h0M447 447h0M414 429h0M442 438h0M445 422h0M417 442h0M445 432h0M462 421h0M460 435h0M435 421h0M449 453h0M434 443h0M449 417h0M412 434h0M453 418h0M418 434h0M433 429h0M451 428h0M447 440h0M429 445h0M451 429h0M454 449h0M433 445h0M450 442h0M469 430h0M426 434h0M447 428h0M442 444h0M442 444h0M433 436h0M454 448h0M416 426h0M460 418h0M477 432h0M481 423h0M441 421h0M439 428h0M413 431h0M425 435h0M455 444h0M463 450h0M461 414h0M447 444h0M449 444h0M426 427h0M446 430h0M457 423h0M441 445h0M417 437h0M425 430h0M467 437h0" stroke="#0f6c76" stroke-width="4.0"/>
<path d="M418 435h0M460 425h0M425 439h0M446 450h0M422 433h0M458 435h0M471 417h0" stroke="#3cb39f" stroke-width="4.0"/>
<path d="M443 420h0M413 433h0M425 438h0M426 430h0M431 428h0M425 419h0M449 432h0M453 443h0M432 423h0M415 431h0M448 452h0M451 439h0M415 433h0M470 438h0M420 437h0M420 436h0M461 427h0M451 447h0M467 439h0M459 447h0M453 438h0M475 417h0M445 439h0M463 425h0M466 418h0M468 419h0M434 431h0M466 439h0M467 420h0M455 444h0M447 437h0M468 442h0M452 423h0M442 419h0M449 436h0M456 422h0M435 434h0M445 420h0M422 420h0M448 430h0M434 424h0M437 448h0M463 449h0M422 423h0M470 422h0M431 435h0M463 434h0M449 452h0M412 426h0M419 442h0M466 427h0M465 438h0M453 429h0M447 427h0M412 429h0M477 433h0M466 444h0M458 444h0M471 433h0M459 431h0M442 415h0M443 436h0M474 426h0M462 444h0M449 413h0M450 443h0M475 433h0M440 426h0M475 443h0M422 441h0M423 425h0M478 432h0M463 415h0M458 428h0M463 437h0M465 420h0M469 433h0M440 448h0M460 429h0M436 440h0M453 427h0M449 432h0M416 436h0M437 439h0M416 427h0M432 436h0M460 438h0M440 424h0M459 416h0M425 439h0M430 436h0M458 453h0M434 433h0" stroke="#0f6c76" stroke-width="4.0"/>
<path d="M417 439h0M405 440h0M401 439h0M404 437h0M398 439h0" stroke="#0f6c76" stroke-width="4.0"/>
<path d="M413 433h0M402 443h0M396 432h0M404 434h0M413 434h0M412 441h0M399 439h0M414 435h0M403 435h0M398 445h0M401 438h0M409 446h0M400 440h0M398 435h0M410 432h0M397 436h0M411 433h0M412 432h0M409 437h0M405 439h0" stroke="#3cb39f" stroke-width="4.0"/>
<path d="M472 448h0M473 441h0M466 442h0M476 454h0M464 448h0M480 443h0M468 451h0M471 450h0M477 455h0M473 454h0M478 443h0M476 446h0M475 450h0M471 446h0M487 445h0M466 449h0M477 444h0M465 442h0M476 454h0M471 453h0M465 448h0M470 445h0M480 455h0M481 445h0M469 447h0M484 450h0M480 447h0M472 449h0M469 450h0M478 449h0M473 443h0M476 447h0M480 450h0M465 444h0M470 449h0M476 451h0M479 441h0M467 446h0M471 446h0M479 446h0" stroke="#9784bd" stroke-width="4.0"/>
<path d="M375 463h0M399 441h0M342 454h0M358 464h0M370 436h0M336 466h0M327 474h0M356 444h0M327 464h0M381 459h0M379 462h0M350 467h0M330 450h0M348 450h0M329 455h0M308 469h0M325 475h0M349 445h0M343 465h0M366 443h0M367 451h0M363 460h0M377 432h0M319 473h0" stroke="#3cb39f" stroke-width="4.0"/>
<path d="M327 479h0M354 445h0M365 452h0M335 476h0M318 469h0M335 471h0M349 468h0M373 438h0M332 470h0M389 430h0M397 431h0M358 442h0M310 481h0M385 446h0M338 451h0M307 480h0M321 471h0M358 467h0M371 448h0M342 460h0M363 462h0M360 463h0M401 443h0M391 450h0M352 467h0M364 440h0M310 482h0M346 452h0M338 476h0M386 439h0M351 466h0M373 446h0M380 466h0M395 434h0M370 450h0M370 444h0M367 438h0M357 457h0M319 469h0M373 432h0M318 481h0M339 473h0M386 434h0M346 459h0M318 482h0M316 467h0M363 438h0M339 468h0M390 457h0M337 467h0M373 456h0M394 432h0M304 476h0M336 456h0M323 481h0M364 450h0M352 452h0M356 467h0M342 467h0M306 469h0M316 458h0M383 449h0M319 455h0" stroke="#cfa163" stroke-width="4.0"/>
<path d="M365 440h0M314 474h0M323 475h0M323 471h0M369 441h0M360 445h0M388 439h0M355 460h0M372 433h0M395 437h0M395 437h0M378 432h0M341 452h0M345 467h0M335 464h0M318 481h0M325 459h0M352 457h0M382 427h0M377 434h0M322 479h0M359 464h0M381 442h0M381 461h0M393 426h0M375 440h0M354 448h0" stroke="#3cb39f" stroke-width="4.0"/>
<path d="M354 445h0M387 450h0M371 434h0M362 449h0M371 438h0M372 432h0M369 434h0M359 439h0M382 440h0M399 446h0M312 461h0M328 457h0M376 449h0M355 462h0M324 458h0M326 484h0M379 464h0M365 443h0M382 445h0M349 454h0M386 428h0M331 477h0M360 468h0M362 466h0M360 465h0M363 456h0M350 442h0M387 451h0M394 428h0M353 470h0M374 432h0M360 433h0M357 462h0M379 439h0M393 438h0M380 441h0M325 453h0M360 471h0M392 456h0M332 465h0M347 458h0M395 427h0M331 467h0M331 461h0M311 480h0M380 447h0M321 467h0M322 465h0M373 448h0M375 459h0M333 457h0M352 443h0M310 482h0M336 465h0M358 437h0M376 460h0M335 457h0M373 459h0M398 444h0M356 455h0" stroke="#cfa163" stroke-width="4.0"/>
<path d="M320 456h0M372 467h0M340 461h0M307 475h0M338 452h0M308 471h0M355 461h0M398 440h0M367 429h0M380 434h0M376 427h0M311 477h0M386 459h0M322 466h0M323 460h0M342 463h0M386 430h0M325 470h0M321 463h0M323 474h0M315 463h0M381 426h0M324 462h0M331 469h0M381 428h0M325 468h0M365 448h0M395 437h0M384 427h0M381 431h0M324 472h0M369 468h0M312 467h0M395 445h0M359 457h0M393 450h0M320 463h0M360 459h0M336 468h0M369 466h0M363 469h0M356 458h0M374 450h0M368 441h0M376 433h0M324 475h0M368 460h0M341 446h0M310 471h0M368 469h0M379 445h0M332 454h0M360 448h0M334 464h0M393 432h0M371 435h0M327 463h0M346 455h0M388 433h0M310 470h0M348 469h0M358 458h0M352 471h0" stroke="#cfa163" stroke-width="4.0"/>
<path d="M326 482h0M342 462h0M361 455h0M370 458h0M386 442h0M350 467h0M376 435h0M324 464h0M360 452h0M348 460h0M370 449h0M364 467h0M397 453h0M349 452h0M390 449h0M394 443h0M396 453h0M350 453h0M315 476h0M363 447h0M399 443h0M369 434h0M400 446h0" stroke="#3cb39f" stroke-width="4.0"/>
<path d="M324 475h0M381 426h0M324 455h0M365 438h0M354 443h0M345 450h0M315 471h0M372 435h0M331 456h0M397 423h0M367 444h0M316 470h0M388 426h0M370 435h0M336 463h0M324 477h0M299 480h0M311 479h0M391 431h0M374 436h0M367 443h0M369 434h0M345 460h0M332 452h0M319 462h0M392 419h0M378 428h0M329 456h0M309 479h0M304 471h0M339 449h0M373 434h0M355 444h0M356 434h0M348 447h0M387 425h0M322 471h0M364 436h0M341 457h0M327 463h0M345 447h0M337 462h0M349 446h0M316 466h0M326 464h0M362 441h0M321 461h0M372 433h0M355 439h0M380 425h0M325 460h0M310 469h0M304 475h0M324 461h0M326 455h0M358 435h0M363 448h0M377 430h0M327 463h0M304 477h0M345 442h0M310 467h0M320 460h0M352 443h0M354 435h0M394 420h0M361 448h0" stroke="#3cb39f" stroke-width="4.0"/>
<path d="M325 464h0M357 442h0M359 446h0M323 467h0M355 445h0M363 434h0M324 458h0M329 462h0M356 443h0M304 478h0" stroke="#cfa163" stroke-width="4.0"/>
<path d="M339 456h0M309 465h0M370 434h0M349 453h0M343 441h0M344 456h0M349 451h0M319 473h0M344 460h0M347 454h0M323 460h0M321 466h0M370 440h0M345 447h0M317 470h0M340 461h0M349 452h0M307 478h0M318 464h0M375 437h0M330 460h0M370 446h0M331 461h0M388 419h0M328 461h0M315 470h0M330 458h0M362 449h0M336 449h0M350 445h0M392 423h0M382 432h0M336 457h0M364 443h0M342 454h0M376 433h0M338 446h0M337 459h0M387 419h0M356 450h0M316 474h0M367 430h0M342 442h0M342 444h0M313 465h0M310 474h0M355 435h0M322 474h0M334 456h0M341 457h0M365 430h0M318 465h0M323 473h0M387 424h0M318 478h0M368 431h0M365 447h0M326 463h0M368 433h0M361 445h0M340 453h0M321 457h0M337 452h0M377 424h0M340 444h0M342 447h0M352 437h0" stroke="#3cb39f" stroke-width="4.0"/>
<path d="M303 477h0M318 472h0M336 457h0" stroke="#c9222b" stroke-width="4.0"/>
<path d="M312 471h0M340 454h0M329 450h0M382 428h0M335 455h0M386 428h0M306 473h0" stroke="#cfa163" stroke-width="4.0"/>
<path d="M325 468h0M318 477h0M337 452h0M313 466h0M353 438h0M377 430h0M386 436h0M323 460h0M334 454h0" stroke="#cfa163" stroke-width="4.0"/>
<path d="M341 461h0M339 448h0M310 474h0M377 426h0M355 439h0M385 430h0M340 457h0M380 428h0M390 422h0M372 442h0M326 463h0M372 437h0M323 475h0M347 438h0M337 449h0M350 453h0M347 460h0M397 420h0M313 469h0M310 474h0M321 476h0M319 469h0M391 434h0M317 470h0M365 440h0M325 461h0M376 440h0M327 455h0M371 425h0M329 454h0M325 460h0M340 449h0M394 426h0M379 425h0M344 456h0M342 464h0M355 448h0M344 448h0M353 440h0M380 421h0M361 441h0M325 468h0M347 435h0M303 478h0M350 441h0M309 483h0M328 455h0M348 448h0M387 428h0M321 461h0M378 433h0M314 464h0M376 429h0M321 474h0M382 424h0M356 450h0M332 460h0M347 440h0M389 430h0M383 426h0M368 426h0M340 451h0M391 429h0M367 435h0" stroke="#3cb39f" stroke-width="4.0"/>
<path d="M331 454h0M383 432h0M306 472h0" stroke="#c9222b" stroke-width="4.0"/>
<path d="M385 396h0M363 407h0M383 398h0M400 418h0M401 420h0M356 397h0M392 407h0M387 432h0M393 400h0M376 412h0M394 412h0M367 401h0M385 403h0M359 407h0M395 423h0M363 398h0M389 417h0M399 406h0M402 415h0M386 410h0M395 418h0M404 410h0M367 429h0M373 437h0M380 436h0M404 403h0M374 405h0M366 417h0M386 428h0M353 425h0" stroke="#c9222b" stroke-width="4.0"/>
<path d="M372 419h0M380 399h0M386 413h0M390 411h0M374 406h0M362 430h0M399 412h0M379 419h0M371 414h0M362 429h0M384 414h0M378 420h0M361 440h0M395 426h0M388 396h0M398 408h0M362 414h0M378 429h0M393 408h0M401 407h0M359 432h0M373 414h0M360 419h0M384 399h0M376 431h0M360 403h0" stroke="#cfa163" stroke-width="4.0"/>
<path d="M387 414h0M361 405h0M379 424h0M390 416h0M378 415h0M357 421h0M378 413h0M366 411h0M377 434h0M396 427h0M398 407h0M383 415h0M384 429h0M363 400h0M373 394h0M405 405h0M377 400h0M370 427h0M397 401h0M377 416h0M376 420h0M397 421h0M401 427h0M361 421h0M398 420h0M386 396h0M362 407h0M387 406h0M380 394h0M373 398h0M391 400h0M361 425h0M392 423h0M393 419h0M383 420h0M366 428h0M371 437h0M390 401h0M387 402h0M370 404h0M374 402h0M394 409h0M389 417h0M372 419h0M382 437h0M388 396h0M387 406h0M392 397h0M367 428h0M367 417h0M382 420h0M386 433h0M398 403h0M365 397h0M359 417h0M377 409h0M364 403h0M391 424h0M363 411h0M373 413h0M368 414h0M358 433h0M386 410h0M358 406h0M370 410h0M391 413h0M398 404h0M382 404h0M387 430h0M376 403h0M378 417h0M366 402h0M385 430h0M391 414h0M374 419h0" stroke="#3cb39f" stroke-width="4.0"/>
<path d="M355 407h0M398 405h0M387 435h0M383 409h0M399 397h0M368 413h0M406 411h0M379 424h0M386 436h0M362 419h0M402 423h0M381 404h0M380 421h0M373 410h0M363 397h0M376 423h0M357 437h0M390 426h0M370 435h0" stroke="#ca512b" stroke-width="4.0"/>
<path d="M251 520h0M305 470h0M306 511h0M276 539h0M256 532h0M307 461h0M255 490h0M250 520h0M253 505h0M299 460h0M294 521h0M280 537h0M255 533h0M263 478h0M270 542h0M307 467h0M262 482h0M256 532h0M309 468h0M256 489h0M251 508h0M278 461h0M261 479h0M249 510h0M271 543h0M267 544h0M285 533h0M267 542h0M256 536h0M250 525h0M306 473h0M264 470h0M256 534h0M275 462h0M253 529h0M277 461h0M273 464h0M299 521h0M306 502h0M309 481h0M257 535h0M258 534h0M281 461h0M305 492h0M268 469h0M300 520h0M308 495h0M308 494h0M253 526h0M308 477h0M268 471h0M257 532h0M252 502h0M264 470h0M257 494h0M286 535h0M278 460h0M296 530h0M288 533h0M289 461h0M281 540h0M249 526h0M298 527h0M288 531h0M270 543h0M268 473h0M305 462h0M260 481h0M277 463h0M307 503h0M308 465h0M260 539h0M307 468h0M292 461h0M305 469h0M294 532h0M280 540h0M307 503h0M251 505h0M286 538h0M309 474h0M268 471h0M283 460h0M287 459h0M309 489h0M255 501h0M309 480h0M264 475h0M263 473h0M313 485h0" stroke="#cfa163" stroke-width="4.0"/>
<path d="M312 471h0M317 468h0M315 478h0M307 477h0M305 487h0M309 484h0M308 473h0M302 476h0M319 460h0M319 469h0M310 460h0M305 487h0M314 467h0M316 472h0M301 473h0M315 461h0M313 480h0M311 482h0M304 477h0M309 480h0M317 462h0M311 492h0M298 475h0M300 469h0M315 486h0M309 488h0M305 463h0M315 470h0M322 461h0M302 470h0M319 479h0M299 468h0M306 464h0M307 478h0M318 459h0M309 472h0M305 489h0M303 490h0M313 479h0" stroke="#cfa163" stroke-width="4.0"/>
<path d="M318 472h0M303 486h0M318 462h0M296 470h0M304 490h0M305 479h0M300 482h0M313 486h0M311 484h0M308 491h0M304 487h0" stroke="#3cb39f" stroke-width="4.0"/>
<path d="M137 793h0M193 772h0M214 791h0M169 914h0M223 919h0M221 847h0M121 833h0M247 913h0M142 788h0M227 829h0M135 793h0M174 913h0M142 786h0M224 873h0M118 857h0M125 875h0M248 912h0M225 862h0M140 786h0M119 839h0M247 913h0M205 778h0M187 921h0M170 776h0M196 773h0M238 918h0M196 771h0M244 914h0M184 774h0M177 916h0M137 792h0M177 915h0M118 844h0M222 855h0M222 824h0M127 807h0M223 818h0M162 779h0M128 891h0M152 904h0M121 882h0M122 884h0M146 900h0M203 775h0M122 823h0M225 826h0M219 800h0M238 894h0M151 781h0M184 773h0M118 856h0M248 909h0M231 918h0M216 786h0M136 899h0M217 800h0M223 815h0M213 791h0M250 901h0M223 812h0M174 775h0M222 860h0M122 877h0M223 827h0M245 915h0M225 882h0M203 777h0M121 880h0M138 899h0M185 775h0M186 775h0M125 884h0M184 774h0M237 922h0M121 833h0M208 920h0M215 919h0M240 917h0M120 870h0M122 879h0M120 827h0M247 912h0M219 809h0M231 918h0M117 859h0M212 922h0M249 906h0M225 827h0M239 918h0M135 794h0M120 875h0M240 898h0M119 826h0M207 778h0M154 778h0M127 887h0M216 790h0M225 819h0M121 833h0M247 906h0M202 920h0M199 922h0M121 879h0M237 920h0M176 773h0M210 785h0M160 777h0M246 915h0M130 805h0M120 827h0M234 893h0M238 898h0M115 854h0M223 826h0M170 777h0M213 787h0M117 867h0M201 776h0M163 778h0M251 908h0M154 905h0M236 918h0M247 900h0M123 882h0M212 784h0M140 896h0M223 816h0M202 919h0M209 782h0M224 822h0M238 896h0M189 918h0M193 922h0M223 828h0M217 797h0M122 813h0M214 921h0M130 890h0M122 882h0M198 918h0M203 778h0M224 850h0M220 800h0M233 922h0M124 821h0M158 777h0M243 917h0M223 923h0M172 916h0M156 781h0M225 818h0M158 776h0M239 894h0M119 847h0M123 813h0M175 917h0M176 916h0M219 804h0M251 908h0M249 907h0M142 789h0M153 777h0M165 773h0M121 821h0M224 833h0M209 780h0M222 922h0M150 901h0M179 915h0M187 918h0M211 783h0M158 903h0M119 857h0M176 776h0M139 897h0M248 912h0M190 772h0M119 860h0M224 848h0M174 912h0" stroke="#0f6c76" stroke-width="4.0"/>
<path d="M134 868h0M218 884h0M127 861h0M161 797h0M180 804h0" stroke="#3cb39f" stroke-width="4.0"/>
<path d="M159 819h0" stroke="#ca512b" stroke-width="4.0"/>
<path d="M991 407h0M930 391h0M928 390h0M926 385h0M1118 265h0M938 371h0M1087 201h0M937 369h0M1116 215h0M929 386h0M1042 221h0M1026 283h0M1107 203h0M1070 281h0M936 421h0M1122 227h0M927 405h0M1015 387h0M1097 201h0M1010 243h0M999 284h0M1037 268h0M1099 201h0M1015 239h0M1025 272h0M1096 200h0M1103 278h0M940 365h0M1019 297h0M1113 214h0M928 420h0M1069 208h0M932 404h0M1102 202h0M1105 277h0M946 423h0M1003 408h0M1005 253h0M1014 365h0M1001 269h0M968 327h0M1023 227h0M938 362h0M991 410h0M1005 254h0M959 419h0M1031 226h0M995 283h0M1044 267h0M1017 291h0M1053 269h0M1085 279h0M1089 200h0M1021 304h0M991 292h0M1115 271h0M1017 375h0M1062 278h0M1014 334h0M1042 220h0M1011 391h0M1114 274h0M1107 208h0M1092 280h0M1109 211h0M1013 371h0M1123 257h0M1104 204h0M1066 207h0M975 415h0M1120 218h0M1127 229h0M1015 370h0M1048 216h0M1109 272h0M982 415h0M933 373h0M999 404h0M954 347h0M1003 271h0" stroke="#9784bd" stroke-width="4.0"/>
<path d="M951 421h0M974 418h0M946 355h0M979 415h0M1101 277h0M938 365h0M1077 280h0M925 394h0M1014 373h0M958 333h0M982 414h0M1066 206h0M1080 280h0M1097 198h0M1116 265h0M1123 247h0M935 378h0M1018 337h0M1103 204h0M982 413h0M1041 219h0M1115 273h0M1122 222h0M1052 267h0M1097 281h0M1023 228h0M1002 274h0M930 407h0M925 413h0M1023 292h0M1107 276h0M996 409h0M1017 365h0M1115 215h0M1127 243h0M976 416h0M929 390h0M929 385h0M1104 200h0M1015 344h0M1001 406h0M1096 279h0M1050 270h0M1062 277h0M990 293h0M1056 212h0M1124 253h0M1056 210h0M926 416h0M1103 202h0M1017 302h0M1055 271h0M1057 271h0M1031 270h0M1103 275h0M1014 331h0M1035 265h0M1029 276h0M927 409h0M1096 199h0M1083 201h0M995 293h0M1072 280h0M1012 396h0M1119 221h0M1006 403h0M991 294h0M1008 254h0M1010 395h0M1032 271h0M1008 247h0M1016 317h0M998 409h0M1124 230h0M1043 267h0M930 380h0M960 337h0M1109 276h0M1103 203h0M1113 272h0" stroke="#9784bd" stroke-width="4.0"/>
<path d="M978 310h0M944 357h0M982 305h0M925 419h0M983 415h0M959 332h0M1025 278h0M1016 235h0M943 362h0M1016 352h0M1093 201h0M1051 217h0M956 337h0M1118 222h0M965 420h0M940 363h0M1111 276h0M1122 255h0M924 409h0M1035 269h0M1022 280h0M1063 273h0M1015 360h0M1027 281h0M1100 280h0M949 351h0M957 420h0M1007 263h0M1012 394h0M1082 200h0M975 315h0M1014 358h0M928 401h0M1124 246h0M973 416h0M1009 241h0M1031 271h0M1015 337h0M1010 391h0M941 418h0M1108 276h0M1091 284h0M1048 264h0M1016 323h0M963 420h0M1044 217h0M1078 281h0M1104 278h0M1121 225h0M968 419h0M1005 259h0M976 415h0M977 311h0M1125 245h0M1129 241h0M1019 228h0M1046 264h0M1029 282h0M1012 395h0M932 418h0M1114 270h0M1100 282h0M976 314h0M1005 263h0M1125 245h0M1001 279h0M1019 301h0M1123 229h0M1058 270h0M1113 271h0M1015 386h0M1097 200h0M1073 206h0M1127 232h0M1055 272h0M1075 279h0M955 419h0M1035 272h0M933 376h0M1005 406h0" stroke="#9784bd" stroke-width="4.0"/>
<path d="M961 354h0M960 424h0M1020 256h0" stroke="#c9222b" stroke-width="4.0"/>
<path d="M1041 250h0M1089 253h0M1002 404h0M1095 234h0M1017 283h0M1100 268h0M986 364h0M1021 285h0M1061 212h0" stroke="#ca512b" stroke-width="4.0"/>
<path d="M1111 247h0M1098 258h0M1081 248h0M1086 252h0M1091 240h0M1085 247h0M1088 256h0M1097 231h0M1100 255h0M1107 234h0M1090 254h0M1095 258h0M1095 246h0M1092 259h0M1081 235h0M1099 227h0" stroke="#ffffff" stroke-width="3.2"/>
<path d="M1024 308h0M1028 351h0M1031 321h0M1026 299h0M1015 333h0M1028 331h0M1024 306h0M1021 327h0M1029 329h0M1023 305h0M1021 319h0M1026 341h0M1027 307h0M1026 306h0" stroke="#9784bd" stroke-width="4.0"/>
<path d="M1110 344h0M1105 334h0M1100 345h0M1095 337h0M1109 353h0M1104 339h0M1099 344h0M1098 344h0" stroke="#3cb39f" stroke-width="4.0"/>
<path d="M1119 368h0M1119 362h0M1108 337h0M1102 345h0M1101 354h0M1100 346h0M1107 355h0M1104 333h0M1107 341h0M1105 356h0M1108 338h0M1110 340h0M1104 349h0M1100 346h0M1106 345h0M1117 360h0M1118 366h0M1110 342h0M1101 336h0M1105 346h0M1108 346h0M1116 362h0M1099 340h0M1109 337h0M1098 348h0M1101 351h0M1110 337h0M1111 341h0M1107 351h0M1111 345h0M1118 363h0M1104 343h0M1116 353h0M1119 364h0M1102 345h0M1095 342h0M1112 342h0M1097 340h0M1103 352h0M1099 347h0M1111 360h0" stroke="#8b9bcb" stroke-width="4.0"/>
<path d="M1101 347h0M1105 355h0M1119 364h0M1101 333h0M1099 343h0M1098 347h0M1107 345h0M1104 339h0M1107 334h0M1114 359h0M1109 348h0M1115 352h0M1107 345h0M1113 350h0M1116 359h0M1101 345h0M1110 361h0M1115 350h0M1112 353h0M1114 347h0M1115 357h0" stroke="#252d6c" stroke-width="4.0"/>
<path d="M1119 325h0M1114 321h0M1112 317h0M1117 324h0M1121 326h0M1113 322h0" stroke="#9784bd" stroke-width="4.0"/>
<path d="M1051 671h0M1027 673h0M994 572h0M993 536h0M921 634h0M1033 563h0M1015 538h0M1036 640h0M1034 644h0M962 541h0M1022 626h0M928 600h0M1017 613h0M936 597h0M1055 671h0M1016 573h0M1064 644h0M942 606h0M1033 654h0M1025 558h0M1008 560h0M1029 674h0M1017 574h0M972 628h0M1035 597h0M1032 599h0M1036 567h0M935 561h0M1035 609h0M987 571h0M983 544h0M937 603h0M1070 675h0M1064 662h0M937 582h0" stroke="#c9222b" stroke-width="4.0"/>
<path d="M1017 578h0M996 609h0M1054 626h0M924 575h0M1052 603h0M954 605h0" stroke="#1f8b46" stroke-width="4.0"/>
<path d="M968 601h0M1049 676h0M1056 628h0M1017 581h0M1023 594h0M1032 640h0M1026 669h0M1013 581h0M1029 616h0M923 585h0M921 584h0M1069 667h0M959 618h0M1012 566h0M983 635h0M927 573h0M983 570h0M1075 673h0M911 623h0M1032 634h0M1034 566h0M978 587h0M986 565h0M934 613h0M921 619h0M1040 593h0M1046 599h0M1047 586h0M1004 642h0M1049 574h0M1002 611h0M989 617h0M1077 671h0M1022 561h0M970 550h0M969 556h0M967 612h0M914 613h0M1019 556h0M1022 637h0" stroke="#e97b2f" stroke-width="4.0"/>
<path d="M1011 623h0M1017 576h0M1039 583h0M1012 524h0M1018 548h0M928 628h0M1044 641h0M987 635h0M1053 654h0M1027 675h0M1043 619h0M1002 615h0M996 630h0M961 588h0M926 618h0M920 577h0M1012 577h0M920 591h0M1013 645h0M1031 627h0M1030 562h0M1054 659h0" stroke="#80bf5b" stroke-width="4.0"/>
<path d="M942 628h0M909 619h0M1033 529h0M942 579h0M1070 679h0M945 611h0M972 600h0M947 621h0M1046 623h0M1027 628h0M1057 591h0M1040 592h0M1035 636h0M956 591h0M978 579h0M1011 649h0M1057 661h0M991 607h0M936 614h0M915 600h0M1036 678h0M923 620h0M965 629h0M1041 586h0M1034 553h0M919 603h0M924 616h0M977 533h0M1035 570h0M1019 537h0M1030 607h0M1036 648h0M918 630h0M949 573h0M988 580h0M1028 622h0M982 620h0M963 626h0M952 630h0M1000 553h0M999 616h0M1025 625h0M921 597h0" stroke="#252d6c" stroke-width="4.0"/>
<path d="M1011 577h0M916 598h0M969 630h0M1001 559h0M1033 575h0M1042 677h0M986 536h0M1017 532h0M979 599h0M964 605h0M1006 556h0M1064 677h0M982 585h0M1055 624h0M1011 561h0M1050 601h0M927 579h0M1014 535h0M1038 617h0M1038 677h0M1049 609h0M994 591h0M954 633h0M1029 529h0M1045 536h0M1054 611h0M958 616h0M970 634h0M989 617h0M1007 620h0M1038 604h0M1040 577h0M975 552h0M1004 549h0M1053 613h0M1028 659h0M977 569h0M941 599h0M1049 628h0M964 561h0M934 626h0M1050 625h0M1032 616h0M953 566h0M1026 673h0M1009 623h0M1024 538h0" stroke="#9784bd" stroke-width="4.0"/>
<path d="M988 539h0M1020 527h0M993 532h0M982 539h0M1042 607h0M1041 562h0M977 564h0M985 544h0M970 567h0M1034 547h0M956 576h0M1057 611h0M1081 664h0M1015 627h0M1021 580h0M1035 544h0M954 609h0M999 548h0M1049 622h0M1003 528h0M1081 669h0M960 545h0M1053 601h0M1033 561h0M1029 631h0M1063 682h0M1013 608h0M912 621h0M952 599h0M995 645h0M1067 676h0M1029 642h0M1071 666h0M1004 533h0M961 592h0" stroke="#7e1b21" stroke-width="4.0"/>
<path d="M967 613h0M1065 679h0M1020 583h0M985 627h0M1032 645h0M996 579h0M1021 647h0M1029 636h0" stroke="#f1dc24" stroke-width="4.0"/>
<path d="M1009 611h0M1003 553h0M1041 638h0M933 590h0M1058 668h0M993 563h0M1032 576h0M967 611h0M983 636h0M973 622h0M1032 653h0M980 610h0M1031 550h0M1029 544h0" stroke="#b66cb0" stroke-width="4.0"/>
<path d="M1027 677h0M1072 666h0M1008 645h0M1059 662h0M973 619h0M942 568h0M1042 550h0M1046 601h0M971 612h0M971 589h0M957 600h0M936 590h0M1015 567h0M941 586h0M1048 566h0M958 584h0M1008 607h0M930 557h0M1043 657h0M1046 577h0" stroke="#3cb39f" stroke-width="4.0"/>
<path d="M995 575h0M992 634h0M967 590h0M945 558h0M1024 607h0M928 631h0M1076 663h0M1035 578h0M987 571h0M966 549h0M1069 677h0M999 615h0M1062 669h0M955 603h0M1043 572h0M1016 566h0M947 548h0M1015 631h0M930 597h0M1023 525h0M912 621h0M970 552h0M1008 600h0M995 621h0M997 536h0" stroke="#6b4b9f" stroke-width="4.0"/>
<path d="M1007 586h0M1001 559h0M1068 664h0M977 576h0M1068 656h0M1003 634h0M971 608h0M1043 549h0M966 605h0M946 560h0M918 630h0M1006 634h0M1025 613h0M958 603h0M955 544h0M938 602h0M971 576h0M1013 660h0M1068 685h0M946 564h0M1052 604h0M1064 637h0M1033 531h0M1027 540h0M993 582h0M1012 645h0M929 623h0M1020 654h0M1029 582h0M1034 532h0M956 551h0M1028 635h0M1041 590h0M1006 567h0M984 638h0M1009 589h0M994 591h0M948 613h0M916 591h0M950 604h0M1056 674h0M1042 641h0M956 555h0M958 557h0M994 576h0M989 585h0M1070 652h0M1011 553h0M991 542h0M1008 603h0M1028 531h0" stroke="#8b9bcb" stroke-width="4.0"/>
<path d="M956 550h0M1005 584h0M1027 589h0M928 573h0M1031 652h0M1038 571h0M945 603h0M987 549h0M907 635h0M1005 645h0M1026 653h0M929 594h0M1013 603h0M986 563h0M976 622h0M1011 528h0M979 596h0M988 602h0M1019 662h0M1040 620h0M1058 600h0M1013 541h0M959 598h0M1038 552h0M1042 664h0" stroke="#8dd0df" stroke-width="4.0"/>
<path d="M1006 547h0M917 595h0M1025 528h0M998 539h0M1034 678h0M1040 659h0M961 573h0M940 572h0M1016 604h0M1034 535h0M1040 671h0M992 593h0M1017 608h0" stroke="#e8797d" stroke-width="4.0"/>
<path d="M992 629h0M939 620h0M1003 620h0M981 628h0M1071 666h0M1002 579h0M979 542h0M961 613h0M940 630h0M989 636h0M975 605h0M979 591h0" stroke="#f1dc24" stroke-width="4.0"/>
<path d="M991 609h0M1038 552h0M1056 640h0M1043 660h0M1015 633h0M995 630h0M1013 554h0M964 549h0M1041 635h0M1044 666h0M967 542h0M987 569h0M949 556h0M999 559h0M1024 618h0M949 553h0M970 544h0M1062 632h0M951 576h0M1011 566h0M1035 642h0M1001 573h0M993 601h0M1068 635h0M937 612h0M1002 617h0M1026 661h0M1021 618h0M999 569h0M1019 525h0M964 630h0M943 572h0M936 612h0M1042 624h0M986 552h0" stroke="#7e1b21" stroke-width="4.0"/>
<path d="M945 614h0M1019 532h0M1070 670h0M979 554h0M925 629h0M1037 614h0M1048 660h0M1006 644h0M985 627h0M984 557h0M1008 599h0M1011 632h0M1022 606h0M1062 684h0M1077 663h0M1021 602h0M987 583h0M1023 531h0M916 585h0M961 630h0M995 535h0M994 530h0M1012 586h0" stroke="#3cb39f" stroke-width="4.0"/>
<path d="M934 596h0M930 615h0M1055 643h0M1017 607h0M1060 673h0M1017 586h0M1031 671h0M1035 600h0M991 535h0M973 600h0M988 595h0M1020 590h0M1001 626h0M1004 558h0M1049 587h0M1040 655h0M978 571h0M1084 664h0M973 551h0M1019 555h0M980 577h0M963 564h0M987 580h0M950 547h0M917 600h0M1030 573h0M1066 677h0M1030 583h0M1056 656h0M1052 631h0M996 634h0M970 579h0M1013 566h0M954 616h0" stroke="#80bf5b" stroke-width="4.0"/>
<path d="M945 621h0M924 591h0M1038 540h0M1065 665h0M1032 539h0M1058 653h0M957 603h0M999 619h0M975 554h0M943 577h0M939 562h0M962 611h0M962 602h0M952 631h0M1038 665h0M954 554h0M1043 566h0M976 578h0M939 553h0M925 595h0M1082 664h0M1011 629h0M1028 661h0M1043 577h0" stroke="#b66cb0" stroke-width="4.0"/>
<path d="M944 600h0M1029 629h0M934 607h0M977 570h0M980 561h0M981 562h0M1039 681h0M956 603h0M997 614h0M1067 652h0M1050 549h0M994 558h0M987 536h0M1044 571h0M1012 600h0M1043 684h0M1017 641h0M1022 660h0M947 550h0M996 624h0M1007 537h0M1032 642h0M957 551h0M1006 568h0M993 594h0M1016 542h0" stroke="#252d6c" stroke-width="4.0"/>
<path d="M1023 602h0M930 614h0M1018 576h0M983 617h0M933 620h0M1049 627h0M1011 624h0M1008 606h0M1047 669h0M1052 597h0M916 599h0M1059 676h0M996 593h0M1035 660h0M1048 683h0M1009 579h0M963 621h0M1035 586h0M1033 650h0M1008 632h0M946 611h0M968 547h0M997 575h0M1057 664h0" stroke="#8dd0df" stroke-width="4.0"/>
<path d="M946 589h0M1011 598h0M1031 558h0M971 596h0M988 612h0M933 606h0M1024 615h0M979 533h0M1026 555h0M1052 612h0M1045 605h0M997 630h0M964 623h0M970 551h0M1037 574h0M912 610h0M922 615h0M1017 620h0M1039 549h0M1034 640h0M1035 667h0M1003 628h0M1014 548h0M1049 605h0M983 565h0M1029 633h0M1028 578h0M1035 546h0M1021 561h0M1016 659h0M1052 603h0M1035 625h0M1038 641h0M1039 616h0M959 570h0M1006 574h0M1020 568h0M1007 585h0M1075 659h0M1013 635h0M1027 563h0" stroke="#e97b2f" stroke-width="4.0"/>
<path d="M1011 593h0M931 612h0M965 586h0M1034 583h0M1024 653h0M932 590h0M1016 648h0M1000 624h0M1013 593h0M986 574h0M1032 630h0M931 569h0M1043 636h0M1046 650h0M1040 647h0M972 575h0M948 552h0M915 626h0M980 535h0M943 552h0M1007 522h0M1005 585h0M1008 645h0M945 585h0M925 582h0M961 557h0M955 608h0M1015 547h0M1016 621h0M1019 584h0M1004 624h0M1047 682h0M917 589h0M1037 626h0M990 552h0M949 594h0M1072 682h0M1022 534h0M930 589h0M1054 668h0M974 601h0M997 585h0" stroke="#c9222b" stroke-width="4.0"/>
<path d="M1027 584h0M1036 658h0M967 629h0M1038 633h0M991 564h0M988 619h0M971 601h0M1014 586h0M1025 573h0M1020 632h0M1027 624h0M989 617h0M923 578h0M960 610h0M985 624h0M1025 655h0M990 624h0M1017 649h0M972 546h0M935 566h0M1067 668h0M1054 605h0M979 618h0M974 568h0M1016 645h0M976 563h0M969 619h0M1016 635h0M928 572h0M1015 562h0M1067 651h0M976 594h0M1034 646h0M1009 547h0M1007 559h0M988 611h0M1031 570h0M1035 545h0M1031 550h0M1013 611h0M1046 658h0M1043 673h0M923 589h0M1025 541h0M1056 585h0M993 616h0" stroke="#9784bd" stroke-width="4.0"/>
<path d="M1023 636h0M947 562h0M996 527h0M947 593h0M1036 662h0M950 595h0M1032 672h0M1071 653h0M1067 661h0M995 551h0M943 562h0M1042 572h0M1012 651h0M937 610h0M1032 590h0M1056 641h0M961 545h0M1007 648h0M977 594h0M1017 537h0M978 584h0M954 631h0M978 598h0M924 583h0M1041 598h0M1028 674h0M959 598h0M981 613h0M1035 536h0M1044 590h0M976 574h0M1011 621h0M1032 640h0M1052 624h0M906 636h0" stroke="#8b9bcb" stroke-width="4.0"/>
<path d="M1040 531h0M1075 666h0M1059 675h0M1029 675h0" stroke="#1f8b46" stroke-width="4.0"/>
<path d="M1050 663h0M1052 595h0M969 603h0M1044 548h0M961 626h0M955 573h0M1025 579h0M999 577h0M916 622h0M1039 555h0M1039 662h0M1036 560h0M1013 607h0M930 602h0M985 548h0M967 589h0M991 570h0M1061 680h0M923 581h0M1027 652h0M1041 628h0M984 625h0M955 563h0" stroke="#6b4b9f" stroke-width="4.0"/>
<path d="M980 548h0M994 602h0M966 601h0M930 591h0M1042 657h0M1015 552h0M1006 595h0M1049 657h0M1031 651h0M952 553h0M1003 588h0M1017 559h0M1003 565h0M1029 581h0M1004 582h0" stroke="#e8797d" stroke-width="4.0"/>
<path d="M947 586h0M910 625h0M923 602h0M983 569h0M985 621h0M951 612h0M1032 619h0M1000 549h0M923 596h0M1016 573h0M1051 616h0M1037 536h0M931 611h0M1042 648h0M1018 593h0M1021 630h0M940 615h0M1011 576h0M993 564h0M980 541h0M983 560h0M934 595h0M1028 656h0M1022 666h0M992 566h0M1021 547h0M990 588h0M998 599h0M1010 644h0M972 624h0M952 582h0M1050 636h0M1020 641h0M1040 578h0M1057 619h0" stroke="#e97b2f" stroke-width="4.0"/>
<path d="M1034 553h0M1025 588h0M1040 609h0M985 577h0M992 549h0M1013 544h0M935 599h0M969 569h0M938 573h0M1024 529h0M1025 579h0M968 556h0M1034 617h0M1053 626h0M957 618h0M1045 681h0M1040 612h0M1027 540h0M1074 674h0M981 614h0M968 617h0M995 601h0M1000 593h0M994 553h0M1011 559h0M993 605h0M1030 601h0M1011 632h0M949 629h0M1034 619h0M1048 681h0M1036 578h0M932 604h0M1021 573h0M1048 574h0M982 536h0M1035 537h0M1061 674h0M1015 643h0M965 564h0M982 542h0M1006 631h0M955 566h0" stroke="#c9222b" stroke-width="4.0"/>
<path d="M984 528h0M1007 634h0M1035 546h0M984 608h0M996 602h0M1047 567h0M934 566h0M959 595h0M968 561h0M1021 547h0M1035 535h0M1053 660h0M940 599h0M1008 532h0M924 575h0M1030 599h0M1041 570h0M1004 618h0M921 572h0M940 598h0M1022 622h0" stroke="#3cb39f" stroke-width="4.0"/>
<path d="M909 630h0M1007 647h0M973 574h0M1043 585h0M979 596h0M999 568h0M998 617h0M1054 648h0M983 581h0M1022 556h0M1029 538h0M965 543h0M1047 611h0M978 614h0M1033 669h0M1046 681h0M1028 645h0M982 621h0M927 570h0M1030 576h0M1001 534h0M995 527h0M1000 623h0M1036 636h0M1026 656h0" stroke="#8dd0df" stroke-width="4.0"/>
<path d="M960 611h0M926 625h0M943 598h0M955 554h0M954 618h0M964 546h0M924 628h0M959 587h0M1020 621h0M1014 572h0M978 628h0M995 568h0M1001 593h0M965 557h0M1008 549h0M1017 586h0M911 613h0M953 569h0M992 555h0M1044 587h0M1044 620h0M949 633h0M1057 686h0M926 594h0M940 614h0M929 594h0M1033 630h0M1022 656h0M1032 557h0M1042 671h0M984 555h0M1012 533h0M966 621h0M1032 642h0M995 598h0M1049 643h0" stroke="#b66cb0" stroke-width="4.0"/>
<path d="M1000 542h0M1021 571h0M1026 662h0M980 624h0M1004 555h0" stroke="#1f8b46" stroke-width="4.0"/>
<path d="M962 577h0M964 556h0M948 576h0M1016 590h0M1022 626h0M951 624h0M1037 536h0M1054 577h0M1031 630h0M959 617h0M1016 614h0M946 557h0M978 574h0M1034 524h0M1044 660h0M1016 637h0M987 626h0M1007 532h0M933 579h0M985 571h0M1028 581h0M1043 597h0M977 584h0M967 592h0M937 604h0M1004 542h0M984 546h0M970 610h0M931 602h0" stroke="#252d6c" stroke-width="4.0"/>
<path d="M1007 544h0M1009 608h0M1028 673h0M1046 591h0M1011 612h0M1068 645h0M1009 528h0M1039 565h0M963 582h0M1032 519h0M1063 643h0M907 622h0M1030 650h0M1043 546h0M981 553h0M969 599h0M925 576h0M1006 560h0M935 593h0M935 591h0M980 559h0M949 590h0M1052 615h0M1058 654h0M982 539h0" stroke="#80bf5b" stroke-width="4.0"/>
<path d="M967 612h0M950 567h0M981 594h0M987 545h0M915 625h0M970 605h0M999 532h0M963 553h0M931 630h0M1060 640h0M1034 602h0M1047 676h0M1025 539h0M1027 535h0M1002 538h0M965 586h0M1029 583h0M935 620h0M1051 655h0M921 617h0M1019 561h0M1048 566h0M1030 665h0M957 587h0M942 563h0M1037 662h0M1031 601h0M1003 540h0M1014 551h0M943 559h0M939 573h0M992 624h0M1057 673h0M977 594h0M998 569h0M944 620h0M940 613h0M954 553h0M956 591h0M1043 612h0M907 617h0M1039 566h0M962 628h0M997 538h0" stroke="#8b9bcb" stroke-width="4.0"/>
<path d="M955 609h0M1004 597h0M1014 619h0M946 614h0M1057 659h0M1010 609h0M998 642h0M1027 589h0M1047 658h0M1046 663h0M1035 659h0" stroke="#e8797d" stroke-width="4.0"/>
<path d="M1029 610h0M1014 550h0M1051 646h0M1054 624h0M1016 657h0M1008 643h0M1021 568h0M917 591h0M915 603h0M928 586h0" stroke="#f1dc24" stroke-width="4.0"/>
<path d="M972 579h0M956 551h0M936 618h0M1032 681h0M962 574h0M1025 566h0M971 544h0M995 613h0M992 644h0M1007 651h0M1019 543h0M965 614h0M1021 625h0M996 543h0M978 583h0M1029 590h0M991 598h0M1049 645h0M956 598h0M1073 663h0M969 576h0M954 548h0M1035 649h0M971 621h0M1009 535h0M1021 574h0M1010 562h0M951 618h0M1007 567h0M1065 632h0M1044 661h0M964 588h0M1027 556h0M1038 634h0M1005 579h0M1083 664h0M913 595h0M1005 594h0M1042 583h0M1007 639h0M1032 561h0M1021 665h0" stroke="#7e1b21" stroke-width="4.0"/>
<path d="M994 554h0M970 607h0M1022 614h0M1077 676h0M928 584h0M1063 657h0M997 593h0M993 539h0M1001 557h0M959 557h0M918 580h0M981 564h0M1022 615h0M1038 527h0M1065 645h0M1025 614h0M915 628h0M982 589h0M1002 569h0M974 560h0M1057 659h0M986 618h0M917 595h0M1031 663h0M971 569h0M960 563h0M972 573h0M983 593h0M1008 586h0M1036 622h0M1036 627h0M1046 671h0M1016 549h0M1056 580h0M1037 520h0M1031 593h0M978 584h0" stroke="#9784bd" stroke-width="4.0"/>
<path d="M973 558h0M1009 544h0M998 583h0M1008 574h0M963 548h0M981 629h0M973 570h0M921 631h0M1027 585h0M1049 638h0M995 580h0M1064 681h0M971 572h0M1007 582h0M1046 616h0M1007 576h0M942 592h0M999 582h0M1066 663h0M934 557h0" stroke="#6b4b9f" stroke-width="4.0"/>
<path d="M1032 594h0M1036 533h0M976 574h0M1053 592h0M1052 661h0M1010 545h0M1005 549h0M1007 615h0M1035 534h0M987 580h0M919 618h0M990 566h0M957 625h0M993 585h0M1014 638h0M919 630h0M1001 526h0M986 618h0M987 530h0M970 577h0M937 607h0M1036 528h0M965 576h0M1010 558h0M1035 587h0M974 573h0M991 542h0M996 635h0M982 609h0M964 632h0M987 540h0M1056 609h0M990 608h0M1038 595h0M1028 631h0M981 620h0M1067 664h0M1037 658h0" stroke="#e97b2f" stroke-width="4.0"/>
<path d="M1051 602h0M921 595h0M925 586h0M979 613h0M1047 638h0M1011 649h0M996 563h0M978 631h0M1024 542h0M1023 640h0M972 553h0M1040 680h0M1027 560h0M930 629h0M992 537h0M1000 529h0M1001 548h0M1002 586h0M1042 674h0M1049 654h0M1037 540h0" stroke="#b66cb0" stroke-width="4.0"/>
<path d="M1020 550h0M985 545h0M947 609h0M1018 585h0M983 570h0M1030 602h0M1058 600h0M976 541h0" stroke="#f1dc24" stroke-width="4.0"/>
<path d="M1024 607h0M1048 679h0M1027 601h0M1023 643h0M1036 600h0M1010 590h0M1059 649h0M977 620h0M1008 635h0M923 594h0M1005 580h0M919 628h0M961 548h0M1027 537h0M987 544h0M1037 562h0M1016 561h0M1072 679h0M1047 658h0M1040 657h0M963 539h0M1029 548h0M993 638h0M942 583h0M992 622h0M963 542h0" stroke="#6b4b9f" stroke-width="4.0"/>
<path d="M1016 578h0M1009 593h0M985 637h0M1018 620h0M949 556h0M1013 603h0M1051 684h0M929 593h0" stroke="#e8797d" stroke-width="4.0"/>
<path d="M1059 637h0M1012 592h0M1047 584h0M1054 650h0M940 623h0M939 556h0M973 556h0M989 534h0M940 572h0M987 591h0M1054 636h0M1024 601h0M1000 527h0M1041 549h0M918 590h0M988 569h0M969 630h0M1001 561h0M1014 538h0M1038 635h0M952 582h0M962 570h0M1055 630h0M1039 651h0M1025 546h0M1036 574h0" stroke="#8dd0df" stroke-width="4.0"/>
<path d="M973 594h0M1038 532h0M1040 629h0M1022 530h0M1058 622h0M1028 639h0M999 529h0M1038 551h0M977 588h0M1073 670h0M993 635h0M999 553h0M1032 552h0M1017 581h0M1001 534h0M920 593h0M953 593h0M1055 660h0M1053 644h0M1050 580h0M1038 560h0" stroke="#3cb39f" stroke-width="4.0"/>
<path d="M991 585h0M957 604h0M940 595h0M917 599h0M1029 653h0M1003 584h0M948 622h0M1043 576h0M1079 658h0M984 591h0M985 593h0M983 563h0M1004 545h0M946 591h0M955 611h0M1062 628h0M961 567h0M915 628h0M1038 528h0M939 601h0M1035 609h0M1026 618h0M963 627h0M978 569h0M1016 553h0M968 626h0M938 569h0M950 613h0M1042 633h0M969 605h0" stroke="#7e1b21" stroke-width="4.0"/>
<path d="M1045 584h0M1013 519h0M999 552h0M929 612h0M953 568h0M1001 536h0M1050 678h0M1038 527h0M1047 644h0M1014 628h0M909 628h0M938 623h0M1037 524h0M1004 648h0M949 606h0M1047 550h0M981 541h0M1046 551h0M1015 642h0M1082 667h0M970 540h0M1010 524h0M1023 548h0M938 622h0M944 575h0M973 580h0" stroke="#80bf5b" stroke-width="4.0"/>
<path d="M1020 607h0M1048 679h0M1077 671h0M1043 546h0M963 556h0M1046 685h0M1029 628h0M1018 623h0M935 627h0M957 547h0M925 598h0M943 614h0M1043 639h0M918 588h0M1022 565h0M978 567h0M963 617h0M1011 629h0M1057 687h0M988 562h0M1045 675h0M911 608h0M999 548h0M969 614h0M1044 589h0M980 606h0M977 635h0M998 547h0M931 616h0M1069 642h0M1037 566h0M1057 668h0M973 541h0M951 625h0M1035 660h0M1021 618h0M1003 553h0M967 551h0M941 615h0M989 534h0M928 576h0M1039 606h0" stroke="#252d6c" stroke-width="4.0"/>
<path d="M1006 599h0M977 591h0M1041 662h0M984 547h0M913 613h0M950 597h0M1057 674h0M1045 602h0M938 608h0M1036 553h0M1049 632h0M1056 648h0M1046 583h0M932 582h0M919 621h0M981 590h0M1013 602h0M950 564h0M1031 605h0M938 560h0M971 613h0M948 546h0M1020 556h0M991 541h0M991 594h0M924 607h0M922 630h0M1034 621h0M1017 522h0M1067 666h0M1012 551h0M964 544h0M1033 629h0M960 629h0M1019 603h0M933 592h0M1047 616h0M938 563h0M937 622h0M1001 551h0" stroke="#9784bd" stroke-width="4.0"/>
<path d="M952 545h0M945 621h0M1001 602h0M996 610h0M1038 526h0M1047 588h0M980 565h0M1077 674h0M1049 570h0M1049 563h0M1055 608h0M1037 650h0M925 588h0M1061 647h0M1058 632h0M927 581h0M1014 538h0M965 589h0M981 635h0M1013 592h0M955 586h0M1046 557h0M919 594h0M953 584h0M1039 667h0M1031 588h0M1062 681h0M1048 595h0M1014 543h0M937 594h0M1020 599h0M1062 643h0M998 579h0M1008 551h0M931 575h0M1010 631h0M1028 626h0M1018 580h0M991 578h0M1010 564h0M940 619h0M984 547h0" stroke="#8b9bcb" stroke-width="4.0"/>
<path d="M1037 543h0M1011 591h0M1011 545h0M1048 574h0M1061 626h0M1067 652h0M1050 610h0M1031 524h0" stroke="#1f8b46" stroke-width="4.0"/>
<path d="M978 538h0M1045 606h0M1051 558h0M991 547h0M1059 635h0M948 552h0M1020 591h0M931 614h0M1041 558h0M1003 638h0M1064 623h0M997 602h0M930 587h0M973 631h0M1007 568h0M942 574h0M1032 554h0M1035 606h0M1055 608h0M1026 600h0M948 569h0M975 572h0M1006 559h0M984 549h0M973 560h0M994 569h0M925 631h0M1025 638h0M1009 546h0M937 595h0M953 623h0M1055 681h0M930 563h0M1073 664h0M918 613h0M1048 610h0M984 592h0M1057 605h0M918 621h0M1020 642h0M1037 566h0M987 530h0M992 635h0M933 589h0M1023 555h0M1037 558h0M1000 541h0" stroke="#c9222b" stroke-width="4.0"/>
<path d="M1051 670h0M983 542h0M1029 612h0M973 586h0M1078 673h0M1034 634h0M1002 588h0M971 567h0M977 586h0M1069 669h0M995 606h0M1034 648h0M1030 618h0M982 633h0M990 612h0M1023 543h0M1038 577h0M1066 660h0M1034 602h0M1008 556h0M939 582h0M1025 644h0M920 575h0M986 551h0M963 607h0M991 542h0M960 622h0M969 590h0M1048 671h0M924 609h0M937 585h0M1030 528h0" stroke="#9784bd" stroke-width="4.0"/>
<path d="M945 603h0M910 618h0M925 609h0M1028 645h0M975 620h0M1007 586h0M976 563h0M944 563h0M1018 654h0M979 585h0M972 554h0M980 549h0M1045 637h0M942 581h0M1043 595h0M944 611h0M1015 525h0M994 635h0M1023 598h0M1018 590h0M932 572h0M1018 621h0M1028 630h0M1010 640h0M1004 602h0M1025 656h0M1024 624h0M944 580h0M945 566h0M1014 574h0M1032 523h0M960 540h0M1035 588h0M1017 563h0M1013 533h0M1058 619h0M980 565h0M949 602h0" stroke="#252d6c" stroke-width="4.0"/>
<path d="M932 594h0M1022 567h0M1026 609h0M967 587h0M945 591h0M1067 656h0M1028 535h0M1037 528h0M1037 540h0M1039 682h0M1030 555h0M953 594h0M1054 640h0M996 629h0M1030 669h0M977 605h0M956 557h0M980 582h0M1020 536h0M1066 674h0M955 570h0M1031 528h0M1054 643h0M1026 635h0M1036 562h0M1019 622h0M1045 593h0M1031 681h0M1016 651h0M945 588h0M1022 639h0M1050 668h0M921 568h0M941 622h0M961 580h0M968 568h0M1038 539h0M961 562h0M1027 577h0M944 587h0M1047 607h0M1032 593h0M965 563h0M1025 621h0M1033 628h0M1024 649h0M1064 681h0M1035 544h0M982 541h0M914 614h0" stroke="#c9222b" stroke-width="4.0"/>
<path d="M1012 571h0M1047 552h0M980 564h0M1024 654h0M1059 661h0M1052 607h0M985 601h0M1062 655h0M993 631h0M920 610h0M1052 577h0M968 598h0M1038 571h0M1011 571h0M1023 645h0M973 586h0M1044 549h0M1020 561h0M1038 650h0M990 533h0M932 579h0M1055 660h0M1020 565h0M1043 635h0M953 597h0M931 607h0M1048 567h0M957 616h0M1036 678h0M1004 553h0M962 630h0M1005 533h0M971 629h0M1025 587h0M927 608h0M1042 567h0M1017 604h0M977 597h0M1038 533h0M1039 583h0" stroke="#7e1b21" stroke-width="4.0"/>
<path d="M1002 613h0M1027 540h0M950 555h0M1054 608h0M954 568h0M983 589h0M917 608h0M960 590h0M926 577h0M1021 657h0M936 579h0M1027 601h0M938 580h0M1004 573h0M1031 579h0M1049 688h0M993 598h0M1038 652h0M974 556h0M979 590h0M929 619h0M963 617h0M920 600h0M960 571h0M1043 604h0M927 570h0M1018 614h0M1054 591h0" stroke="#e97b2f" stroke-width="4.0"/>
<path d="M976 583h0M919 627h0M981 606h0M993 569h0M1031 538h0M969 629h0M956 624h0M1037 601h0M991 553h0M1045 603h0" stroke="#f1dc24" stroke-width="4.0"/>
<path d="M980 592h0M984 601h0M925 622h0M950 582h0M975 596h0M955 552h0M933 562h0M937 619h0M1048 592h0M1031 597h0M1005 645h0M1036 570h0M1016 553h0M1021 562h0M1037 608h0M1019 635h0M921 589h0M1013 549h0M998 614h0M977 553h0M1005 629h0M1015 548h0M1030 652h0M1023 629h0M1075 663h0M1020 640h0M1066 651h0M1026 526h0M944 563h0M1031 552h0" stroke="#8dd0df" stroke-width="4.0"/>
<path d="M1034 658h0M1049 639h0M1021 549h0M972 623h0M1004 539h0M1021 646h0M936 627h0M949 582h0M976 623h0M968 604h0" stroke="#1f8b46" stroke-width="4.0"/>
<path d="M1038 557h0M1047 585h0M951 582h0M1026 595h0M1011 525h0M990 579h0M1015 563h0M1048 599h0M984 564h0M1010 625h0M943 593h0M980 599h0M1006 592h0M1050 568h0M1039 663h0M983 611h0M1012 579h0M942 580h0M1054 674h0M946 553h0M1056 650h0M942 620h0M993 595h0" stroke="#6b4b9f" stroke-width="4.0"/>
<path d="M1033 542h0M1052 609h0M967 629h0M1074 665h0M918 618h0M1025 528h0M1027 651h0M1064 666h0M1027 556h0M956 549h0M1037 567h0M1022 571h0M1021 551h0M972 565h0M989 582h0M1013 525h0" stroke="#3cb39f" stroke-width="4.0"/>
<path d="M1028 646h0M969 552h0M1039 621h0M1021 554h0M1011 552h0M1084 662h0M1038 538h0M1062 639h0M966 548h0M1010 652h0M1011 558h0M1053 576h0M924 608h0M969 582h0" stroke="#e8797d" stroke-width="4.0"/>
<path d="M1018 650h0M1027 672h0M997 540h0M996 611h0M926 601h0M945 628h0M934 614h0M961 572h0M1025 614h0M1010 546h0M924 598h0M971 590h0M1049 665h0M1035 637h0M1035 538h0M1025 572h0M947 591h0" stroke="#b66cb0" stroke-width="4.0"/>
<path d="M1032 519h0M1046 628h0M968 548h0M925 614h0M978 584h0M1006 552h0M980 573h0M980 566h0M1024 541h0M1020 649h0M1034 525h0M1052 651h0M936 612h0M952 614h0M973 630h0M935 597h0M996 590h0M946 597h0M1053 576h0M960 557h0M988 613h0M1051 599h0M961 546h0M1063 677h0" stroke="#80bf5b" stroke-width="4.0"/>
<path d="M1007 555h0M1009 537h0M998 570h0M1013 553h0M940 561h0M1075 664h0M998 551h0M1025 575h0M1050 594h0M979 612h0M945 588h0M959 613h0M1065 679h0M1071 651h0M1037 675h0M1048 626h0M983 561h0M969 629h0M1005 627h0M1029 649h0M998 612h0M1003 543h0M1029 647h0M998 640h0M1038 540h0M946 550h0M986 559h0M994 544h0M1044 630h0M1024 642h0M1028 571h0M1035 549h0M1039 616h0M951 578h0M1032 631h0M1023 615h0M1042 575h0M981 563h0M990 631h0M990 527h0M1052 606h0M1001 617h0M1049 589h0M1005 623h0M969 628h0M1017 646h0M1039 573h0M1028 621h0M1031 528h0M1009 539h0M1050 565h0" stroke="#8b9bcb" stroke-width="4.0"/>
<path d="M1046 593h0M928 606h0M1026 630h0M1060 666h0M1037 583h0M996 594h0M1027 585h0M981 541h0M1044 654h0M1025 559h0M1024 564h0M1004 533h0M1045 662h0M948 624h0M997 589h0M1042 615h0M1066 642h0M986 585h0M964 625h0M919 595h0M1062 642h0M930 570h0M976 602h0M983 616h0M1047 674h0M966 568h0M987 631h0M983 637h0M1012 564h0M936 619h0" stroke="#e97b2f" stroke-width="4.0"/>
<path d="M1031 570h0M965 539h0M1024 577h0M1026 656h0M1050 674h0M980 576h0M1019 531h0M965 608h0M1044 649h0M912 627h0M939 560h0M1003 651h0M933 605h0M1037 533h0M938 551h0M991 544h0M986 535h0M959 632h0M986 603h0M1041 615h0M1009 611h0M1056 612h0M999 568h0M980 615h0M992 553h0M976 627h0M1019 540h0M916 596h0M984 604h0M926 608h0M951 593h0M1032 542h0M982 606h0M1009 575h0M934 561h0M931 623h0M987 579h0M1048 664h0M999 587h0M1044 548h0M1021 527h0M944 577h0M933 623h0M986 550h0M1018 538h0M1007 542h0M1042 680h0M915 610h0M977 587h0M1005 623h0M1036 600h0M932 569h0" stroke="#8b9bcb" stroke-width="4.0"/>
<path d="M989 613h0M1050 640h0M1045 636h0M987 611h0M1048 586h0M946 583h0M963 621h0M1014 610h0M959 580h0M1005 544h0M935 580h0M1026 670h0M1009 548h0" stroke="#f1dc24" stroke-width="4.0"/>
<path d="M1027 529h0M924 610h0M965 609h0M1047 665h0M1012 566h0M1014 659h0M1011 651h0M979 605h0M1043 635h0M929 582h0M1024 613h0M923 564h0M1034 537h0M959 612h0M976 584h0M1040 549h0M958 565h0" stroke="#8dd0df" stroke-width="4.0"/>
<path d="M1022 596h0M1005 551h0M1037 605h0M1025 527h0M1005 612h0M918 627h0M982 621h0M1018 652h0M1047 608h0M1008 643h0M1060 618h0M985 609h0M1037 587h0M1030 555h0M926 608h0M1031 636h0M1004 620h0M980 552h0M1027 648h0M1057 626h0M1019 575h0M987 593h0" stroke="#3cb39f" stroke-width="4.0"/>
<path d="M965 633h0M931 609h0M919 568h0M1002 533h0M977 622h0M1033 638h0M1041 653h0M1008 640h0M1042 534h0M1013 639h0" stroke="#e8797d" stroke-width="4.0"/>
<path d="M972 593h0M1018 616h0M948 567h0M949 584h0M969 608h0M993 553h0M1041 532h0M1005 559h0M986 565h0M1041 582h0M1036 617h0M1058 674h0M923 601h0M979 583h0M1011 598h0M938 569h0M961 612h0M956 622h0M1029 540h0M1012 594h0M1007 636h0M1018 625h0M1045 654h0M1018 610h0M1024 650h0M907 631h0M943 620h0M982 552h0M1066 675h0M1018 524h0M962 630h0M1050 586h0M1074 659h0M1010 570h0M933 603h0M995 613h0M1036 595h0M1016 613h0" stroke="#252d6c" stroke-width="4.0"/>
<path d="M1015 556h0M1051 582h0M1013 580h0M960 547h0M1013 625h0" stroke="#1f8b46" stroke-width="4.0"/>
<path d="M953 591h0M1012 623h0M1045 559h0M978 574h0M977 538h0M992 575h0M1030 641h0M1004 540h0M971 611h0M924 597h0M951 605h0M1035 637h0M1077 655h0M1044 680h0M1048 579h0M958 590h0M1049 558h0M988 553h0M1028 608h0M993 608h0M963 542h0M1029 670h0M1027 595h0M1038 585h0M1001 635h0M1058 661h0M991 613h0M1064 671h0M1008 543h0M982 593h0M972 550h0M1017 557h0M1023 629h0M952 559h0M934 570h0M1076 676h0M1055 620h0M1022 554h0M1037 606h0M1050 677h0M1032 652h0M1028 565h0M1056 617h0M940 626h0" stroke="#7e1b21" stroke-width="4.0"/>
<path d="M976 624h0M962 556h0M1031 547h0M1000 558h0M1050 665h0M1032 638h0M1014 630h0M971 539h0M1043 566h0M1008 570h0M1051 561h0M948 628h0M999 539h0M920 579h0M1020 605h0M1026 624h0M988 639h0M1029 654h0M1045 630h0M1056 649h0M999 579h0M997 602h0M947 606h0M1029 680h0M932 588h0M1007 612h0M988 596h0M985 576h0M970 580h0M1037 594h0M990 558h0M1004 571h0M979 626h0M1045 679h0M1053 669h0M982 620h0M952 582h0M1052 582h0M955 631h0M1037 573h0M958 618h0M984 621h0" stroke="#c9222b" stroke-width="4.0"/>
<path d="M954 618h0M1024 633h0M1027 600h0M1006 548h0M1004 556h0M1033 637h0M1000 544h0M966 557h0M982 563h0M968 614h0M999 544h0M962 562h0M1035 570h0M951 607h0M1017 647h0M967 591h0M967 613h0M1015 581h0M1007 644h0M987 627h0M1013 615h0M1022 600h0M926 634h0M933 607h0M1043 549h0M1041 571h0M920 627h0M1036 640h0M1071 662h0M1054 643h0M1022 610h0M1023 522h0M939 588h0M921 578h0M934 565h0M978 605h0M929 608h0M963 566h0M1044 674h0" stroke="#9784bd" stroke-width="4.0"/>
<path d="M948 628h0M965 555h0M1055 652h0M1019 643h0M987 544h0M1024 540h0M1000 533h0M1039 650h0M1034 531h0M926 626h0M952 612h0M973 600h0M988 569h0M1048 676h0M976 539h0M953 619h0M1007 562h0M976 629h0M1003 609h0M1053 584h0M920 630h0" stroke="#6b4b9f" stroke-width="4.0"/>
<path d="M955 604h0M1040 646h0M989 554h0M1021 657h0M1068 664h0M1055 604h0M1022 625h0M1036 551h0M1017 584h0M975 539h0M1029 544h0M971 551h0M1030 537h0M977 561h0M1029 518h0M1047 630h0M977 616h0M1032 621h0M1069 660h0M1039 666h0M976 585h0" stroke="#80bf5b" stroke-width="4.0"/>
<path d="M1027 609h0M966 539h0M1023 554h0M1011 620h0M944 581h0M948 587h0M963 541h0M1047 583h0M1064 621h0M982 569h0M923 589h0M981 559h0M1062 680h0M991 562h0M1011 613h0M952 571h0M1002 601h0M982 616h0M1058 614h0M1040 650h0M948 563h0M959 545h0M1011 595h0M1012 565h0M1045 566h0M1053 601h0M1069 659h0M971 584h0M1050 683h0" stroke="#b66cb0" stroke-width="4.0"/>
<path d="M965 554h0M964 571h0M925 589h0M949 582h0M944 592h0M940 592h0M936 564h0M942 595h0M948 565h0M950 578h0M917 584h0M981 552h0M936 564h0" stroke="#c9222b" stroke-width="4.0"/>
<path d="M979 567h0M929 592h0M972 538h0M923 584h0M982 563h0M979 574h0M982 547h0M954 566h0M970 541h0M983 550h0M993 548h0M934 577h0M959 568h0M929 596h0M935 561h0M935 597h0M970 563h0M929 560h0M957 553h0M919 582h0M960 569h0M984 535h0M930 579h0M917 590h0M977 556h0M976 549h0M970 547h0M987 547h0M929 568h0M955 567h0M947 556h0M958 569h0M976 562h0M925 584h0M969 580h0M959 555h0M986 555h0M922 589h0M991 542h0M955 575h0M977 571h0M946 593h0M943 589h0M969 558h0M970 584h0M925 569h0M957 544h0M940 554h0M912 579h0M977 546h0M974 540h0M997 527h0M974 566h0M926 568h0M936 584h0" stroke="#6b4b9f" stroke-width="4.0"/>
<path d="M956 575h0M991 562h0M989 538h0M962 549h0M955 567h0M945 585h0M959 566h0M939 595h0M960 564h0" stroke="#b66cb0" stroke-width="4.0"/>
<path d="M1000 539h0M960 584h0M993 549h0M995 556h0M950 559h0M983 536h0" stroke="#8b9bcb" stroke-width="4.0"/>
<path d="M945 577h0M915 595h0M961 570h0M975 565h0M957 555h0M981 541h0M994 537h0M955 587h0M994 535h0M944 584h0M922 593h0M959 559h0M987 550h0M984 562h0M925 582h0M985 572h0M945 575h0M987 536h0M967 572h0M943 587h0M984 538h0M943 558h0M957 585h0M955 557h0M978 558h0M930 595h0M941 562h0" stroke="#9784bd" stroke-width="4.0"/>
<path d="M933 595h0M956 560h0M913 594h0M951 549h0M924 570h0M989 537h0" stroke="#c9222b" stroke-width="4.0"/>
<path d="M977 539h0M949 575h0M979 542h0M923 595h0M934 569h0M981 551h0" stroke="#b66cb0" stroke-width="4.0"/>
<path d="M975 561h0M954 585h0M934 601h0M1001 535h0M944 557h0M945 564h0M925 571h0M966 559h0M969 574h0M924 565h0M996 536h0M914 584h0M988 533h0M937 569h0M933 596h0M931 559h0M933 560h0M938 563h0M976 545h0M920 588h0M950 570h0M934 592h0M987 530h0M952 591h0M919 581h0M1002 537h0M925 601h0M932 588h0M990 558h0M930 592h0M922 605h0M975 538h0M986 557h0M994 535h0M957 562h0M928 589h0M940 554h0M914 569h0M977 555h0M975 561h0M944 596h0M976 538h0M960 543h0M952 586h0M955 589h0M958 561h0M945 552h0M915 573h0M938 591h0M994 542h0M975 554h0M929 559h0M958 588h0M954 577h0M982 556h0" stroke="#6b4b9f" stroke-width="4.0"/>
<path d="M916 584h0M982 572h0M987 569h0M930 585h0M918 599h0M927 580h0M952 590h0M923 567h0M943 559h0M927 598h0M987 567h0M918 576h0M947 597h0M927 589h0M920 602h0M974 574h0M953 576h0M943 582h0M961 563h0M972 563h0M998 540h0M965 575h0M937 582h0M969 572h0" stroke="#9784bd" stroke-width="4.0"/>
<path d="M993 528h0M933 580h0M931 596h0M932 562h0M971 571h0M961 561h0M954 549h0M926 586h0M958 548h0M976 547h0M960 541h0M974 556h0M928 603h0M944 587h0M921 573h0M985 567h0M947 584h0M953 566h0M977 569h0" stroke="#8b9bcb" stroke-width="4.0"/>
<path d="M964 577h0M986 552h0M941 576h0M924 596h0M953 581h0M966 539h0M931 575h0M963 543h0M954 565h0M966 558h0M935 572h0M947 582h0M926 563h0M960 561h0M965 566h0M1000 527h0M965 552h0M977 547h0M992 564h0M932 585h0M967 558h0M927 584h0M961 559h0M958 546h0M924 585h0M918 589h0M948 579h0M972 550h0M972 532h0M992 565h0M965 586h0M925 570h0M917 601h0M960 553h0M991 569h0" stroke="#9784bd" stroke-width="4.0"/>
<path d="M965 572h0M948 550h0M947 585h0M933 592h0M990 562h0M976 547h0M921 593h0M936 559h0M982 552h0M937 585h0M939 598h0M925 595h0M954 568h0M966 541h0M970 537h0M925 573h0M936 580h0M922 577h0M919 601h0M969 553h0M946 569h0M916 582h0M936 577h0M946 594h0M991 564h0M992 557h0M957 544h0M947 592h0M918 586h0M944 565h0M982 569h0M964 582h0M964 584h0M960 567h0M952 576h0M977 567h0M939 570h0M925 565h0M946 589h0M998 536h0M991 534h0M916 589h0M930 599h0M922 598h0M929 575h0" stroke="#6b4b9f" stroke-width="4.0"/>
<path d="M966 553h0M965 564h0M947 574h0M931 594h0M933 599h0M964 567h0M971 557h0M994 530h0M995 544h0" stroke="#8b9bcb" stroke-width="4.0"/>
<path d="M980 548h0M935 582h0M951 588h0M988 538h0M976 568h0M951 586h0M959 551h0M985 553h0M930 567h0M941 581h0" stroke="#c9222b" stroke-width="4.0"/>
<path d="M965 581h0M980 530h0M959 563h0M978 539h0M955 578h0M969 547h0M917 596h0M970 548h0M959 568h0M959 571h0M1003 537h0" stroke="#b66cb0" stroke-width="4.0"/>
<path d="M1034 669h0M995 644h0M954 624h0M946 616h0M912 616h0M949 635h0M1020 669h0M1005 653h0M948 627h0M917 619h0M1009 661h0M949 637h0M985 649h0M965 644h0M1020 659h0M958 639h0M986 640h0M1000 662h0M1011 673h0M973 633h0M1025 670h0M972 638h0M975 654h0M952 639h0M972 646h0M998 650h0M908 641h0M951 619h0M957 644h0M927 622h0M968 646h0M976 631h0M967 640h0M1019 675h0M967 645h0M939 638h0M966 642h0M905 623h0M948 641h0M915 617h0" stroke="#8b9bcb" stroke-width="4.0"/>
<path d="M986 647h0M951 621h0M979 630h0M966 646h0M959 633h0M1014 667h0M1014 662h0M955 641h0M942 636h0M982 646h0M1006 657h0M1034 681h0M949 619h0M986 658h0M957 637h0M985 657h0M1002 663h0M1020 672h0M945 639h0M1020 681h0M992 655h0M938 631h0M1030 670h0M930 616h0M963 642h0M1037 681h0M913 622h0M933 623h0M1007 660h0M969 649h0M925 628h0M954 646h0M927 617h0M912 619h0M939 634h0M1015 660h0M1018 681h0M951 627h0M1012 665h0M913 617h0M974 652h0M971 645h0M929 636h0M928 638h0M1004 671h0M917 623h0M954 642h0M1027 680h0M948 645h0M1009 672h0M907 621h0M981 654h0M927 630h0M972 634h0M973 638h0" stroke="#7e1b21" stroke-width="4.0"/>
<path d="M1010 667h0M943 622h0M1000 652h0M903 628h0M972 637h0M996 651h0M967 634h0M916 639h0M938 642h0M911 637h0M939 620h0M1008 658h0M1007 662h0M1020 675h0M942 629h0M936 630h0" stroke="#e97b2f" stroke-width="4.0"/>
<path d="M975 655h0M956 628h0M987 659h0M1005 660h0M971 653h0M955 626h0M920 639h0M990 649h0M1028 681h0M1025 666h0M932 629h0M939 623h0M948 621h0M958 638h0M951 630h0M966 635h0M963 641h0M939 615h0M997 662h0M956 624h0M1024 661h0M967 649h0M998 646h0M1011 669h0M941 627h0M996 652h0M930 641h0M908 628h0M922 626h0M1025 681h0M947 624h0M984 654h0M975 651h0M930 635h0M954 621h0M960 637h0M919 640h0M964 627h0M989 636h0M987 660h0M915 639h0M976 645h0M996 654h0M931 616h0M975 629h0M931 634h0M920 618h0M1026 680h0M984 653h0M1020 656h0M1023 668h0M927 645h0M1019 658h0M1006 661h0M956 642h0M916 625h0M936 626h0M979 644h0M913 629h0M936 620h0M1003 670h0M1026 678h0M986 640h0M1022 669h0M971 648h0M980 633h0M932 631h0M979 650h0M920 636h0M957 637h0M986 639h0M928 624h0M1034 675h0M930 623h0M954 631h0M946 642h0M923 626h0M920 619h0M995 661h0M987 655h0M994 650h0M1002 657h0M1034 682h0M1018 656h0M1007 656h0M921 628h0M1000 648h0M987 643h0M903 627h0" stroke="#c9222b" stroke-width="4.0"/>
<path d="M1106 453h0M1131 446h0M1083 494h0M1094 476h0M1118 472h0M1063 514h0M1113 464h0M1056 501h0M1102 503h0M1114 474h0M1117 455h0M1087 514h0M1075 487h0M1079 490h0M1117 451h0M1085 514h0M1074 515h0M1089 469h0M1044 527h0M1114 480h0M1097 504h0M1089 487h0M1092 469h0M1071 520h0M1129 455h0M1081 489h0M1046 527h0M1045 520h0M1110 498h0M1068 513h0M1113 461h0M1102 490h0M1105 478h0M1099 506h0M1091 497h0M1135 451h0M1086 478h0M1110 476h0M1083 499h0M1088 471h0M1125 457h0M1091 509h0M1109 502h0M1031 515h0M1112 446h0M1050 528h0M1116 449h0M1035 526h0M1121 481h0M1103 470h0M1107 461h0M1095 510h0M1088 522h0M1125 439h0M1110 472h0M1048 511h0M1048 525h0M1046 520h0M1087 515h0M1076 506h0M1051 508h0M1096 487h0M1110 475h0M1065 515h0M1063 488h0M1070 528h0M1137 448h0M1050 527h0M1107 474h0M1117 469h0M1044 525h0M1104 474h0M1043 518h0M1126 458h0M1077 498h0M1102 457h0M1058 503h0M1094 475h0M1091 469h0M1107 507h0M1073 500h0M1096 474h0M1030 517h0M1086 510h0M1055 528h0M1091 503h0M1113 486h0" stroke="#8b9bcb" stroke-width="4.0"/>
<path d="M1077 507h0M1124 471h0M1117 450h0M1132 458h0M1122 456h0M1131 447h0M1045 527h0M1135 447h0M1123 465h0M1056 516h0M1130 459h0M1074 523h0M1116 453h0" stroke="#252d6c" stroke-width="4.0"/>
<path d="M1046 506h0M1099 498h0M1067 496h0M1092 483h0M1072 494h0M1054 525h0M1093 483h0M1064 520h0M1026 519h0M1122 474h0M1044 512h0M1062 493h0M1095 497h0M1113 450h0M1060 529h0M1124 471h0M1121 479h0M1090 510h0M1104 460h0M1073 493h0M1088 518h0M1128 466h0M1095 506h0M1081 510h0M1087 522h0M1059 497h0M1115 444h0M1080 491h0M1087 495h0M1082 506h0M1085 494h0M1071 487h0M1085 500h0M1063 524h0M1065 520h0M1071 484h0M1105 484h0M1083 525h0M1067 499h0M1111 455h0M1081 514h0M1049 520h0M1047 522h0M1069 487h0M1095 463h0M1094 496h0" stroke="#6b4b9f" stroke-width="4.0"/>
<path d="M1059 516h0M1119 477h0M1085 501h0M1116 466h0M1082 492h0M1105 494h0M1091 474h0M1079 501h0M1042 511h0M1119 446h0M1121 478h0M1057 510h0M1069 514h0M1074 514h0M1090 514h0M1129 456h0M1107 491h0M1066 518h0M1072 506h0M1073 510h0M1090 493h0M1068 494h0M1089 473h0M1085 481h0M1042 511h0M1086 491h0M1116 452h0M1083 503h0M1062 530h0M1081 483h0M1078 506h0M1066 494h0M1091 508h0M1058 518h0M1106 450h0M1128 454h0M1073 505h0M1059 505h0M1061 519h0M1099 480h0M1090 476h0M1065 528h0M1128 446h0M1120 453h0M1081 509h0M1099 499h0M1108 496h0M1084 497h0M1105 473h0M1090 482h0M1094 491h0M1035 519h0M1111 480h0M1084 526h0M1086 494h0M1044 516h0M1087 499h0M1085 518h0M1096 512h0M1064 529h0M1120 462h0M1112 456h0M1094 502h0M1113 478h0M1082 521h0M1031 520h0M1112 495h0M1088 465h0M1033 525h0M1090 493h0M1054 517h0M1084 512h0M1098 483h0M1072 515h0M1129 453h0M1065 517h0M1046 522h0M1123 448h0M1028 525h0M1047 525h0M1118 478h0M1075 501h0M1116 465h0M1106 509h0M1052 503h0M1134 444h0M1119 490h0M1073 521h0M1098 495h0M1077 483h0M1109 450h0M1119 477h0M1062 517h0M1127 471h0M1093 498h0M1100 493h0M1110 482h0M1095 504h0M1100 455h0M1091 520h0M1117 447h0M1095 509h0M1128 446h0M1069 491h0M1106 461h0M1067 524h0M1092 506h0M1093 472h0M1119 461h0M1036 522h0M1100 505h0M1117 461h0M1082 507h0M1086 508h0M1067 526h0M1079 505h0M1072 504h0M1122 464h0M1038 515h0M1071 501h0M1072 487h0M1112 469h0M1092 524h0M1084 503h0M1078 507h0M1103 488h0M1133 449h0M1086 485h0M1111 466h0M1044 528h0M1130 447h0M1123 442h0M1122 444h0M1131 452h0M1039 524h0M1075 513h0M1075 512h0M1074 489h0M1080 525h0M1129 442h0M1108 468h0M1085 504h0M1059 505h0M1130 462h0M1071 500h0M1108 474h0M1065 528h0M1103 501h0M1063 505h0M1082 497h0M1094 470h0M1122 444h0M1074 528h0M1094 495h0" stroke="#9784bd" stroke-width="4.0"/>
<path d="M1071 503h0M1074 496h0M1116 485h0M1069 486h0M1081 526h0M1037 525h0M1120 455h0M1069 498h0M1105 475h0M1103 479h0M1107 449h0M1134 442h0M1091 473h0M1120 442h0M1087 507h0M1042 513h0M1075 502h0M1089 486h0M1084 524h0M1121 455h0M1119 485h0M1072 499h0M1039 524h0M1054 529h0M1120 458h0M1072 517h0M1066 497h0M1049 509h0M1110 496h0M1118 459h0M1115 480h0M1113 454h0M1118 471h0M1066 496h0M1122 437h0M1112 494h0M1094 488h0M1042 522h0M1112 475h0M1122 472h0M1108 494h0M1107 498h0M1063 518h0M1113 462h0M1107 472h0M1111 448h0M1082 521h0M1082 514h0M1121 485h0M1099 464h0M1128 474h0M1118 483h0M1104 505h0M1103 474h0M1070 515h0M1066 493h0M1075 516h0M1120 491h0M1085 509h0M1131 443h0M1075 496h0M1100 469h0M1076 483h0M1091 489h0M1084 495h0M1115 471h0M1093 511h0M1104 483h0M1064 497h0M1055 499h0M1054 517h0M1087 494h0M1129 455h0M1090 481h0M1030 526h0M1061 502h0M1112 473h0M1082 491h0M1076 506h0M1133 460h0M1086 505h0M1068 530h0M1110 481h0M1089 520h0M1031 517h0M1074 530h0M1069 504h0M1101 460h0M1115 467h0M1095 465h0M1031 517h0M1048 508h0M1102 453h0M1042 513h0M1066 508h0M1102 478h0M1037 518h0M1094 507h0M1093 515h0M1054 512h0M1068 519h0M1110 470h0M1097 503h0M1092 473h0M1122 481h0M1067 517h0M1069 494h0M1103 461h0M1066 505h0M1093 493h0M1045 531h0M1065 486h0M1089 478h0M1049 523h0M1067 507h0M1121 462h0M1037 517h0M1088 511h0M1079 503h0M1042 526h0M1108 449h0M1080 483h0M1056 516h0M1074 530h0M1120 473h0M1054 516h0M1115 453h0M1089 499h0M1090 473h0M1059 497h0M1040 523h0M1093 469h0M1082 478h0M1109 477h0M1073 513h0M1057 502h0M1037 510h0M1100 478h0M1082 485h0M1053 520h0M1070 526h0M1102 482h0M1040 523h0M1101 462h0M1041 509h0M1110 475h0M1073 502h0M1046 509h0M1054 513h0M1038 513h0M1126 462h0M1089 478h0" stroke="#9784bd" stroke-width="4.0"/>
<path d="M1111 451h0M1131 441h0M1062 500h0M1044 512h0M1069 530h0M1086 473h0M1050 522h0M1038 516h0M1081 511h0M1106 494h0M1087 480h0M1131 452h0M1079 496h0M1088 471h0M1124 446h0M1132 443h0M1109 496h0M1106 475h0M1059 497h0M1056 506h0M1102 502h0M1066 506h0M1094 479h0M1043 506h0M1053 519h0M1109 473h0M1056 500h0M1068 514h0M1103 489h0M1114 457h0M1073 517h0M1037 515h0M1064 499h0M1113 448h0M1088 483h0M1063 510h0M1102 508h0M1112 447h0M1050 511h0M1095 483h0M1112 471h0M1059 503h0M1105 505h0M1058 511h0M1097 468h0M1091 520h0M1114 494h0M1116 442h0M1099 467h0M1039 511h0M1059 510h0M1099 459h0M1058 507h0M1079 485h0M1073 503h0M1079 513h0M1095 475h0M1084 481h0M1093 501h0M1074 506h0M1084 514h0M1109 491h0M1107 491h0M1089 492h0M1111 472h0M1109 499h0M1124 482h0M1082 505h0M1096 482h0M1094 493h0M1108 451h0M1066 504h0M1071 526h0M1104 474h0M1101 468h0M1100 498h0M1070 490h0M1084 474h0M1085 506h0M1114 488h0M1120 476h0M1109 472h0M1093 481h0M1030 514h0M1118 449h0M1073 491h0M1129 441h0M1086 503h0M1082 514h0M1083 480h0" stroke="#8b9bcb" stroke-width="4.0"/>
<path d="M1063 511h0M1128 445h0M1068 512h0M1089 468h0M1131 444h0M1108 472h0M1097 496h0M1095 511h0" stroke="#252d6c" stroke-width="4.0"/>
<path d="M1046 508h0M1075 487h0M1047 516h0M1122 470h0M1094 495h0M1122 456h0M1077 485h0M1126 460h0M1131 458h0M1073 497h0M1097 466h0M1076 512h0M1128 477h0M1130 463h0M1092 514h0M1106 468h0M1106 475h0M1072 486h0M1066 515h0M1133 452h0M1123 478h0M1111 477h0M1071 487h0M1101 459h0M1091 487h0M1072 524h0M1117 474h0M1033 516h0M1098 471h0M1089 518h0M1043 509h0M1082 482h0M1062 531h0M1034 515h0M1118 477h0M1105 451h0M1086 500h0M1064 517h0M1125 449h0M1085 482h0M1087 496h0M1081 479h0M1129 471h0M1123 451h0M1041 520h0M1036 514h0M1071 489h0M1114 456h0M1086 474h0M1092 473h0" stroke="#6b4b9f" stroke-width="4.0"/>
<path d="M1111 476h0M1095 507h0M1068 497h0M1112 469h0M1116 481h0M1099 502h0M1066 517h0M1048 524h0M1041 521h0M1098 513h0M1098 471h0M1072 515h0M1076 501h0M1127 456h0M1105 466h0M1081 472h0M1108 484h0M1096 472h0M1125 441h0M1112 452h0M1072 499h0M1104 463h0M1078 479h0M1076 507h0M1058 524h0M1106 470h0M1056 519h0M1118 478h0M1125 462h0M1114 459h0M1108 452h0M1080 509h0M1109 487h0M1073 518h0M1057 519h0M1080 497h0M1039 529h0M1073 483h0M1075 496h0M1062 494h0M1041 528h0M1107 491h0M1133 461h0M1088 514h0M1099 511h0M1129 442h0M1072 480h0M1082 510h0M1072 518h0M1095 489h0M1104 478h0M1099 481h0M1121 444h0M1109 479h0M1110 463h0M1089 511h0M1114 463h0M1096 487h0M1058 511h0M1109 452h0M1091 508h0M1100 476h0M1099 485h0M1045 511h0M1047 518h0M1047 527h0M1074 505h0M1095 503h0M1108 497h0M1098 500h0M1117 465h0M1090 516h0M1109 505h0" stroke="#8b9bcb" stroke-width="4.0"/>
<path d="M1123 472h0M1095 504h0M1095 479h0M1114 477h0M1083 526h0M1043 525h0M1094 514h0M1126 454h0M1137 446h0M1116 480h0M1039 523h0M1070 528h0M1125 441h0M1046 510h0M1080 519h0M1118 446h0M1122 479h0M1122 449h0M1103 458h0M1099 468h0M1096 484h0M1133 457h0M1124 455h0M1054 501h0M1067 499h0M1086 480h0M1128 459h0M1110 489h0M1091 518h0M1125 446h0M1076 502h0M1086 489h0M1035 515h0M1110 461h0M1110 470h0M1116 452h0M1104 494h0M1086 511h0M1111 466h0M1092 502h0M1078 498h0M1122 461h0M1106 498h0M1111 480h0M1035 516h0M1059 500h0M1104 486h0M1084 521h0M1078 493h0M1081 492h0M1119 458h0M1065 528h0M1027 525h0M1068 524h0M1103 506h0M1039 514h0M1090 497h0M1103 488h0M1122 471h0M1064 518h0M1123 475h0M1111 481h0M1098 479h0M1097 466h0M1068 509h0M1104 456h0M1054 532h0M1110 494h0M1092 506h0M1069 524h0M1062 509h0M1073 498h0M1073 498h0M1036 510h0M1098 462h0M1118 446h0M1061 511h0M1093 479h0M1075 488h0M1049 507h0M1070 515h0M1137 447h0M1122 457h0M1120 460h0M1112 471h0M1123 461h0M1101 498h0M1040 518h0M1078 522h0M1053 523h0M1086 518h0M1047 509h0M1106 472h0M1108 483h0M1074 488h0M1032 516h0M1056 521h0M1123 456h0M1094 497h0M1106 453h0M1094 500h0M1083 477h0M1120 478h0M1039 526h0M1096 491h0M1064 512h0M1034 519h0M1056 516h0M1118 486h0M1060 518h0M1090 500h0M1101 457h0M1137 447h0M1054 512h0M1065 513h0M1087 475h0M1048 519h0M1084 469h0M1077 514h0M1110 469h0M1119 482h0M1040 522h0M1116 481h0M1089 489h0M1102 461h0M1121 460h0M1070 509h0M1127 455h0M1087 480h0M1123 467h0M1084 486h0M1111 495h0M1045 508h0M1088 507h0M1086 486h0M1110 452h0M1120 477h0M1082 524h0M1082 495h0M1121 466h0M1085 500h0M1074 498h0M1079 519h0M1077 524h0M1095 493h0M1134 451h0M1094 484h0M1121 446h0M1085 478h0M1102 492h0M1097 460h0M1056 513h0M1068 500h0M1068 511h0M1040 509h0M1102 490h0M1109 495h0M1115 475h0M1116 462h0M1120 467h0M1120 442h0M1122 452h0M1114 442h0" stroke="#9784bd" stroke-width="4.0"/>
<path d="M1131 445h0M1109 469h0M1097 503h0M1114 487h0M1111 494h0M1053 521h0M1086 511h0M1075 508h0M1041 519h0M1051 503h0M1121 460h0M1058 517h0M1094 473h0M1117 454h0" stroke="#252d6c" stroke-width="4.0"/>
<path d="M1137 462h0M1029 521h0M1080 488h0M1083 488h0M1083 513h0M1092 495h0M1046 506h0M1102 463h0M1057 515h0M1062 505h0M1032 513h0M1092 476h0M1086 524h0M1106 453h0M1090 514h0M1110 487h0M1127 450h0M1061 504h0M1115 487h0M1126 459h0M1068 517h0M1033 515h0M1124 460h0M1098 488h0M1103 464h0M1121 482h0M1127 450h0M1067 529h0M1037 529h0M1083 514h0M1114 468h0M1110 481h0M1096 483h0M1114 460h0M1096 458h0M1086 502h0M1044 515h0M1080 518h0M1101 479h0M1093 475h0M1073 486h0M1105 458h0M1064 495h0M1114 480h0M1085 488h0M1124 452h0M1027 518h0M1086 490h0M1065 517h0M1118 462h0" stroke="#6b4b9f" stroke-width="4.0"/>
<path d="M1092 498h0M1085 513h0" stroke="#3cb39f" stroke-width="4.0"/>
<path d="M1085 507h0M1079 500h0M1066 500h0M1086 495h0M1075 508h0M1094 509h0M1066 513h0M1064 500h0M1076 515h0M1088 487h0M1076 493h0M1093 507h0M1068 510h0M1082 516h0M1088 515h0M1084 503h0M1069 496h0M1071 497h0M1087 515h0M1073 517h0M1067 500h0M1085 506h0M1086 514h0M1082 492h0M1088 496h0M1069 508h0M1089 501h0M1088 484h0M1092 510h0M1086 489h0M1095 504h0M1067 506h0M1090 486h0M1081 498h0M1069 504h0M1074 500h0M1066 494h0M1088 496h0" stroke="#252d6c" stroke-width="4.0"/>
<path d="M1132 446h0M1135 447h0M1118 444h0M1134 446h0M1114 460h0M1117 456h0M1128 460h0M1107 459h0M1134 450h0M1131 454h0" stroke="#7e1b21" stroke-width="4.0"/>
<path d="M1125 462h0M1119 443h0M1115 465h0M1126 446h0M1132 462h0M1105 453h0M1114 453h0M1120 444h0M1142 453h0M1117 447h0M1132 452h0M1125 463h0M1127 449h0M1115 441h0M1120 454h0M1107 447h0M1114 457h0M1118 451h0M1126 459h0M1124 445h0M1132 456h0M1115 447h0M1125 459h0M1113 464h0M1124 444h0M1124 441h0M1116 464h0M1137 447h0M1135 448h0M1121 449h0M1117 454h0M1117 457h0M1120 456h0M1113 463h0M1130 457h0M1135 448h0M1126 446h0M1119 456h0M1129 457h0M1105 453h0M1126 444h0M1131 454h0M1126 455h0M1124 438h0M1134 444h0M1112 448h0M1116 460h0M1121 442h0M1137 458h0M1114 453h0M1120 438h0M1118 455h0M1129 451h0M1133 450h0M1110 455h0M1131 443h0M1115 447h0M1112 449h0M1116 461h0M1124 466h0M1110 461h0M1116 464h0M1110 440h0M1131 440h0M1111 439h0M1118 457h0M1112 447h0M1115 447h0M1111 454h0M1105 450h0M1117 448h0M1114 453h0M1117 450h0M1134 439h0M1122 467h0M1114 441h0M1133 441h0M1113 458h0M1110 454h0M1116 442h0M1135 442h0M1134 440h0M1136 441h0M1119 454h0M1137 444h0M1114 446h0M1125 447h0M1135 461h0M1110 460h0M1124 442h0M1133 451h0M1115 437h0M1120 444h0M1111 461h0M1120 454h0M1130 452h0M1110 460h0M1115 447h0M1121 462h0M1122 463h0" stroke="#6b4b9f" stroke-width="4.0"/>
<path d="M1163 486h0M1191 489h0M1195 482h0" stroke="#252d6c" stroke-width="4.0"/>
<path d="M1210 483h0M1210 488h0M1178 482h0M1177 487h0M1167 478h0M1137 470h0M1174 478h0M1202 479h0M1140 481h0M1130 477h0M1174 482h0M1175 484h0M1191 476h0M1119 462h0M1210 487h0M1139 480h0M1120 472h0M1170 486h0M1149 481h0M1188 482h0M1125 479h0M1189 482h0M1188 485h0M1155 479h0M1184 485h0M1196 482h0M1144 476h0M1172 479h0M1127 468h0M1142 469h0M1173 477h0M1142 476h0M1175 482h0M1162 485h0M1212 481h0M1164 483h0M1202 480h0M1128 468h0M1195 485h0M1129 469h0M1197 476h0M1168 480h0M1128 478h0M1145 481h0M1172 480h0M1146 479h0M1171 484h0M1172 480h0M1180 475h0M1174 482h0M1205 478h0M1155 477h0M1157 473h0M1169 481h0M1192 486h0M1121 469h0M1124 466h0M1146 478h0M1212 484h0M1161 477h0M1137 470h0M1151 486h0M1184 482h0M1189 477h0M1182 478h0M1173 483h0M1192 486h0M1137 470h0M1157 486h0M1123 465h0M1148 477h0M1162 477h0M1189 489h0M1186 480h0M1207 481h0M1174 481h0M1172 485h0M1148 479h0M1132 474h0M1176 482h0M1150 479h0M1129 477h0M1150 475h0M1167 487h0M1140 482h0M1158 477h0M1196 484h0M1174 482h0M1149 472h0M1186 478h0M1166 479h0" stroke="#7e1b21" stroke-width="4.0"/>
<path d="M1177 486h0M1171 477h0M1150 481h0M1187 486h0" stroke="#252d6c" stroke-width="4.0"/>
<path d="M1201 483h0M1199 488h0M1145 476h0M1181 483h0M1177 479h0M1190 487h0M1182 482h0M1190 483h0M1136 471h0M1140 475h0M1169 478h0M1142 478h0M1132 477h0M1128 473h0M1182 479h0M1151 476h0M1200 480h0M1189 484h0M1168 479h0M1164 486h0M1181 475h0M1214 483h0M1189 477h0M1157 482h0M1215 487h0M1177 483h0M1152 487h0M1174 478h0M1217 485h0M1190 482h0M1199 485h0M1126 468h0M1210 483h0M1175 483h0M1199 481h0M1183 475h0M1141 475h0M1206 487h0M1179 480h0M1121 468h0M1136 472h0M1175 482h0M1143 480h0M1212 485h0M1207 481h0M1181 480h0M1129 475h0M1185 482h0M1178 480h0M1156 478h0M1151 477h0M1147 473h0M1164 480h0M1202 483h0M1202 479h0M1209 489h0M1152 484h0M1181 482h0M1167 485h0M1178 479h0M1133 482h0M1123 468h0M1188 485h0M1122 473h0M1174 477h0M1153 476h0M1138 476h0M1139 481h0M1169 484h0M1148 482h0M1120 469h0M1126 468h0M1152 475h0M1142 481h0M1192 475h0M1132 471h0M1122 472h0M1145 479h0M1187 477h0M1199 485h0M1122 466h0M1153 486h0M1195 486h0M1145 479h0M1131 477h0M1135 478h0M1136 476h0M1127 475h0M1170 478h0" stroke="#7e1b21" stroke-width="4.0"/>
<path d="M1161 487h0M1159 481h0M1162 484h0M1132 475h0M1143 479h0M1169 478h0M1151 484h0M1145 480h0M1207 486h0M1144 482h0M1190 483h0M1206 484h0M1131 476h0M1140 479h0M1216 487h0M1177 478h0M1166 480h0M1170 485h0M1124 476h0M1210 487h0M1206 482h0M1184 487h0M1139 480h0M1138 470h0M1190 485h0M1136 471h0M1149 487h0M1210 486h0M1143 473h0M1192 488h0M1184 479h0M1186 482h0M1135 471h0M1180 485h0M1203 479h0M1212 478h0M1192 476h0M1176 487h0M1146 479h0M1148 475h0M1173 488h0M1191 484h0M1209 483h0M1140 479h0M1198 479h0M1181 480h0M1117 466h0M1210 478h0M1179 475h0M1199 486h0M1154 484h0M1151 481h0M1126 475h0M1205 482h0M1206 486h0M1129 476h0M1128 468h0M1185 487h0M1163 478h0M1174 487h0M1137 482h0M1144 477h0M1190 487h0M1151 478h0M1132 474h0M1196 484h0M1179 484h0M1182 478h0M1212 480h0M1147 472h0M1167 487h0M1135 476h0M1162 476h0M1138 476h0M1189 477h0M1130 480h0M1132 473h0M1123 478h0M1192 482h0M1213 483h0M1188 485h0M1204 480h0M1121 472h0M1160 486h0M1163 487h0M1190 482h0M1177 474h0M1172 484h0M1186 485h0M1122 476h0M1161 485h0" stroke="#7e1b21" stroke-width="4.0"/>
<path d="M1165 476h0M1200 483h0" stroke="#252d6c" stroke-width="4.0"/>
<path d="M1084 466h0M1076 461h0M1080 475h0M1097 467h0M1084 474h0M1082 461h0M1081 461h0M1092 479h0M1080 465h0M1098 463h0M1104 472h0M1072 467h0M1083 464h0M1083 467h0M1089 472h0M1100 470h0M1092 483h0M1093 471h0M1091 462h0M1076 466h0M1101 466h0M1098 481h0M1088 458h0M1089 478h0M1081 463h0M1089 464h0M1105 468h0M1092 473h0M1087 465h0M1077 466h0" stroke="#7e1b21" stroke-width="4.0"/>
<path d="M1158 497h0M1166 501h0M1173 561h0M1165 506h0M1170 524h0M1171 513h0M1173 517h0M1153 489h0M1159 506h0M1168 528h0M1163 529h0M1163 508h0M1178 567h0M1157 490h0M1150 482h0M1166 506h0M1174 535h0M1175 541h0M1173 515h0M1172 514h0M1176 566h0M1148 487h0M1169 525h0M1152 496h0M1162 516h0M1157 486h0M1161 487h0M1160 501h0M1174 557h0M1165 513h0M1174 538h0M1168 545h0M1154 509h0M1169 526h0M1158 516h0M1176 545h0M1176 564h0M1169 543h0M1171 526h0M1172 540h0M1145 478h0M1165 528h0M1151 484h0M1158 502h0M1173 561h0M1163 526h0M1152 493h0M1171 524h0M1166 534h0M1148 487h0M1159 516h0M1148 480h0M1161 499h0M1149 489h0M1158 493h0M1177 567h0M1145 477h0M1156 511h0M1149 489h0M1150 494h0M1165 509h0M1167 535h0M1154 490h0M1164 506h0M1145 478h0M1146 474h0M1170 520h0M1159 527h0M1166 535h0M1159 517h0M1167 554h0M1175 564h0M1173 545h0M1160 520h0M1174 527h0M1151 496h0M1169 556h0M1174 529h0M1171 559h0M1170 553h0M1151 500h0M1150 498h0M1162 492h0M1173 538h0M1147 476h0M1157 503h0M1162 501h0" stroke="#8b9bcb" stroke-width="4.0"/>
<path d="M1168 503h0M1174 534h0M1172 520h0M1148 484h0M1165 492h0M1162 510h0M1152 488h0M1147 481h0M1151 497h0M1168 536h0M1159 495h0M1163 496h0M1160 516h0M1171 557h0M1178 554h0M1163 494h0M1172 522h0M1167 537h0M1172 558h0M1157 510h0M1150 477h0" stroke="#252d6c" stroke-width="4.0"/>
<path d="M1163 505h0M1180 549h0M1171 527h0M1179 554h0M1153 489h0M1169 519h0M1153 488h0M1153 486h0M1166 506h0M1175 548h0M1164 509h0M1162 486h0" stroke="#7e1b21" stroke-width="4.0"/>
<path d="M1181 541h0M1197 505h0M1190 502h0M1186 510h0M1190 520h0M1188 515h0M1190 501h0M1193 492h0M1181 539h0M1195 494h0M1197 495h0M1182 512h0M1196 495h0" stroke="#7e1b21" stroke-width="4.0"/>
<path d="M1180 486h0M1194 506h0M1181 540h0M1192 487h0M1183 495h0M1200 500h0M1181 519h0M1190 516h0M1187 507h0M1189 523h0M1181 544h0M1182 504h0M1192 517h0M1194 488h0M1181 536h0M1194 495h0M1188 508h0M1189 504h0M1182 513h0M1172 555h0M1185 539h0M1184 529h0M1194 488h0M1192 508h0" stroke="#252d6c" stroke-width="4.0"/>
<path d="M1179 539h0M1178 549h0M1194 491h0M1189 508h0M1185 484h0M1190 518h0M1191 484h0M1173 546h0M1179 486h0M1189 507h0M1179 556h0M1189 485h0M1195 493h0M1175 540h0M1179 541h0M1187 517h0M1186 529h0M1185 527h0M1186 536h0M1184 501h0M1194 501h0M1198 496h0M1184 509h0M1175 543h0M1194 486h0M1179 492h0M1180 504h0M1182 546h0M1181 500h0M1185 534h0M1183 552h0M1195 504h0M1181 533h0M1180 538h0M1198 491h0M1183 501h0M1192 486h0M1174 555h0M1180 542h0M1190 509h0M1181 516h0M1186 503h0M1188 509h0M1186 484h0M1199 486h0M1176 539h0M1180 539h0M1183 547h0M1195 506h0M1183 547h0M1186 522h0M1198 493h0M1186 508h0M1190 492h0M1174 557h0M1190 483h0M1183 496h0M1198 495h0M1177 548h0M1190 496h0M1181 552h0M1181 513h0M1183 518h0M1192 495h0M1191 507h0M1186 509h0M1198 494h0M1190 512h0M1183 541h0M1194 498h0M1178 543h0M1177 540h0M1187 527h0" stroke="#8b9bcb" stroke-width="4.0"/>
<path d="M1186 504h0M1183 505h0M1190 504h0M1173 498h0M1183 503h0M1184 493h0M1179 508h0M1187 494h0M1172 502h0M1176 486h0M1186 502h0M1180 492h0M1191 488h0M1183 506h0M1169 500h0M1188 486h0M1189 485h0M1174 486h0M1184 505h0M1186 492h0M1183 488h0M1184 487h0M1171 490h0M1178 492h0M1185 498h0M1196 490h0M1175 497h0M1174 487h0M1183 489h0M1187 486h0M1180 506h0M1181 501h0M1168 499h0M1187 504h0M1173 487h0M1178 502h0M1186 500h0M1178 486h0M1191 487h0M1180 489h0M1185 504h0M1182 504h0M1183 508h0M1189 505h0M1188 484h0M1174 498h0M1190 493h0M1182 505h0M1181 504h0M1176 485h0M1170 485h0M1188 500h0M1194 490h0M1188 492h0" stroke="#252d6c" stroke-width="4.0"/>
<path d="M1172 487h0M1170 493h0M1170 500h0M1183 495h0M1171 498h0M1181 501h0" stroke="#8b9bcb" stroke-width="4.0"/>
<path d="M1232 493h0M1232 491h0M1276 510h0M1284 525h0M1299 557h0M1308 563h0M1307 555h0M1286 523h0M1284 510h0M1301 531h0M1279 537h0M1243 501h0M1213 498h0M1255 486h0M1255 528h0M1247 501h0M1250 517h0M1288 552h0M1270 517h0M1228 506h0M1231 510h0M1260 534h0M1249 514h0M1247 518h0M1229 499h0M1260 505h0M1243 508h0M1247 503h0M1244 484h0M1219 494h0M1251 521h0M1248 503h0M1281 518h0M1281 512h0M1247 491h0M1300 535h0M1225 504h0M1275 507h0M1245 505h0M1253 503h0M1275 535h0M1324 553h0" stroke="#252d6c" stroke-width="4.0"/>
<path d="M1248 478h0M1285 529h0M1225 506h0M1222 491h0M1311 538h0M1259 493h0M1240 487h0M1272 523h0M1270 513h0M1228 507h0M1251 502h0" stroke="#7e1b21" stroke-width="4.0"/>
<path d="M1274 500h0M1268 529h0M1239 525h0M1323 551h0M1252 504h0M1311 538h0M1291 531h0M1298 551h0M1312 555h0M1257 533h0M1234 500h0M1318 546h0M1304 530h0M1245 512h0M1244 518h0" stroke="#6b4b9f" stroke-width="4.0"/>
<path d="M1265 526h0M1275 498h0M1286 532h0M1231 519h0M1231 505h0M1289 524h0M1246 494h0M1277 535h0M1244 524h0M1299 527h0M1299 555h0M1284 532h0M1283 513h0M1284 542h0M1223 479h0M1243 508h0M1238 492h0M1299 524h0M1317 550h0M1303 543h0M1241 512h0M1277 509h0M1225 498h0M1289 531h0M1278 524h0M1265 490h0M1288 542h0M1238 477h0M1244 518h0M1263 508h0M1285 521h0M1291 521h0M1299 531h0M1311 558h0M1266 497h0M1257 532h0M1260 535h0M1241 505h0M1231 505h0M1261 509h0M1301 539h0M1283 526h0M1242 505h0M1251 496h0M1239 524h0M1250 482h0M1279 522h0M1272 525h0M1257 489h0M1242 487h0M1241 482h0M1260 503h0M1257 529h0M1224 507h0M1301 540h0M1307 546h0M1218 487h0M1265 505h0M1267 522h0M1260 519h0M1318 548h0M1242 513h0M1239 500h0M1296 546h0M1292 532h0M1238 519h0M1320 551h0M1306 559h0M1249 500h0" stroke="#9784bd" stroke-width="4.0"/>
<path d="M1296 525h0M1256 495h0M1223 482h0M1301 547h0M1266 502h0M1218 495h0M1271 516h0M1303 547h0M1239 518h0M1234 504h0M1270 529h0M1260 493h0M1259 491h0M1291 549h0M1222 502h0M1235 489h0M1297 529h0M1281 546h0M1276 539h0M1308 540h0M1269 530h0M1281 545h0M1299 539h0M1221 498h0M1251 522h0M1259 513h0M1224 486h0M1307 537h0M1236 489h0M1301 552h0M1293 519h0M1287 512h0M1271 530h0M1248 508h0M1234 494h0M1297 546h0M1255 523h0M1232 484h0M1305 534h0M1280 530h0M1299 553h0M1231 479h0M1299 524h0M1253 496h0M1289 515h0M1254 504h0M1274 522h0M1225 489h0M1235 503h0M1261 533h0M1292 538h0M1300 555h0M1285 516h0M1324 551h0M1245 515h0M1222 487h0M1295 539h0M1244 518h0M1262 523h0M1311 554h0M1295 536h0M1295 550h0M1291 518h0M1229 501h0M1269 511h0M1244 482h0M1260 503h0M1279 524h0M1232 499h0M1301 532h0M1291 522h0M1226 502h0M1242 509h0M1237 483h0M1271 499h0M1264 502h0M1216 485h0M1253 530h0M1263 533h0M1303 535h0M1267 504h0M1240 521h0M1228 488h0M1284 549h0M1281 541h0M1264 508h0M1291 531h0M1267 532h0M1235 523h0M1311 558h0M1321 547h0M1277 523h0M1283 548h0M1234 521h0M1322 556h0M1220 492h0M1278 542h0" stroke="#8b9bcb" stroke-width="4.0"/>
<path d="M1223 501h0M1264 499h0M1249 513h0M1289 518h0M1278 530h0M1305 550h0M1288 523h0M1313 542h0M1240 522h0M1266 520h0M1256 491h0M1239 522h0M1270 516h0M1243 520h0" stroke="#6b4b9f" stroke-width="4.0"/>
<path d="M1265 535h0M1232 501h0M1314 563h0M1254 499h0M1272 511h0M1261 510h0M1229 509h0M1288 520h0M1294 527h0M1262 497h0M1260 527h0M1282 508h0M1268 500h0M1291 526h0M1244 495h0M1238 509h0M1244 483h0M1232 499h0M1242 494h0M1282 520h0M1248 526h0M1302 559h0M1283 518h0M1254 498h0M1267 519h0M1295 535h0M1275 503h0M1280 515h0M1312 549h0M1273 503h0M1266 513h0M1276 508h0M1272 528h0M1254 523h0M1283 543h0M1225 500h0M1249 505h0M1311 555h0M1265 500h0M1264 493h0M1279 510h0M1293 539h0M1278 545h0M1277 508h0M1277 518h0M1242 520h0M1243 486h0M1325 559h0M1324 551h0M1253 524h0M1237 496h0M1271 535h0M1224 508h0M1260 518h0M1246 516h0M1251 515h0M1252 512h0M1283 512h0M1224 509h0M1286 530h0M1233 504h0M1225 492h0M1217 487h0M1234 521h0M1296 546h0M1297 540h0M1223 501h0M1326 550h0M1264 529h0M1284 538h0M1265 531h0M1285 517h0M1243 526h0M1232 479h0M1231 488h0M1231 480h0M1223 496h0M1306 562h0" stroke="#9784bd" stroke-width="4.0"/>
<path d="M1234 495h0M1231 499h0M1322 558h0M1269 513h0M1310 563h0M1255 500h0M1265 493h0M1250 534h0M1294 526h0M1260 526h0M1280 518h0M1257 526h0M1271 506h0M1269 533h0M1252 507h0M1240 492h0M1266 494h0M1274 515h0M1249 530h0M1282 542h0M1250 492h0M1300 553h0M1248 503h0M1226 493h0M1299 537h0M1245 485h0M1233 509h0M1227 505h0M1264 507h0M1288 529h0M1313 539h0M1306 556h0M1295 537h0M1301 532h0M1274 507h0M1242 517h0M1280 529h0M1281 531h0M1272 514h0M1290 544h0M1296 535h0M1288 518h0M1276 543h0M1250 503h0M1259 497h0M1307 550h0M1294 525h0M1235 521h0M1246 527h0M1256 522h0M1314 547h0M1289 516h0M1249 497h0M1253 525h0M1228 495h0M1286 511h0M1283 524h0M1277 500h0M1255 528h0M1254 528h0M1237 488h0M1259 492h0M1301 541h0M1312 558h0M1294 555h0M1276 512h0M1220 492h0M1258 522h0M1271 512h0M1305 547h0M1305 546h0M1284 533h0M1227 493h0M1277 536h0M1286 550h0M1242 525h0M1221 501h0M1272 513h0M1252 524h0M1259 535h0M1227 519h0M1298 532h0M1321 561h0M1276 515h0M1304 533h0M1291 550h0M1287 539h0M1322 560h0M1288 516h0M1226 477h0M1319 553h0M1256 490h0M1294 548h0" stroke="#8b9bcb" stroke-width="4.0"/>
<path d="M1284 525h0M1242 511h0M1224 514h0M1290 548h0M1293 537h0M1298 555h0M1280 532h0M1232 487h0M1240 521h0M1269 534h0M1272 531h0M1280 515h0M1281 542h0M1258 520h0M1250 528h0M1280 507h0M1220 484h0M1241 508h0M1278 537h0M1269 521h0M1265 536h0M1262 494h0M1316 562h0M1253 499h0M1264 491h0M1299 559h0M1243 494h0M1271 540h0M1265 503h0M1263 518h0M1287 533h0M1294 532h0M1271 511h0M1280 510h0" stroke="#252d6c" stroke-width="4.0"/>
<path d="M1255 495h0M1260 497h0M1258 498h0M1295 547h0M1227 480h0M1256 494h0M1236 514h0M1284 523h0M1241 502h0M1288 516h0M1253 517h0M1279 539h0M1229 502h0M1306 537h0" stroke="#7e1b21" stroke-width="4.0"/>
<path d="M1243 487h0M1260 513h0M1251 498h0M1270 502h0M1253 525h0M1225 500h0M1275 499h0M1280 541h0M1273 527h0M1308 552h0M1225 509h0M1277 529h0M1313 553h0M1236 508h0M1253 507h0M1239 481h0M1297 538h0M1307 549h0M1240 489h0M1288 536h0M1244 506h0M1299 545h0M1313 546h0M1306 538h0M1320 553h0M1288 523h0M1243 511h0M1231 489h0M1276 513h0M1283 519h0M1290 543h0M1298 533h0M1303 537h0M1285 526h0M1268 511h0M1313 559h0M1254 527h0M1297 525h0M1316 551h0M1255 495h0M1262 495h0M1241 503h0M1216 483h0M1268 515h0M1247 522h0M1290 515h0M1221 504h0M1248 521h0M1279 507h0M1320 564h0M1318 554h0M1316 548h0M1253 505h0M1239 489h0M1241 515h0M1288 521h0M1262 489h0M1235 495h0M1225 515h0M1279 532h0M1263 518h0M1279 521h0M1315 547h0M1248 505h0M1269 517h0M1246 513h0M1225 501h0M1284 520h0M1236 516h0M1229 492h0M1240 504h0M1287 534h0M1256 488h0M1269 512h0M1235 509h0M1311 546h0M1237 483h0M1231 504h0M1298 536h0M1289 535h0M1320 556h0M1237 488h0M1312 557h0M1249 529h0M1247 527h0M1293 534h0M1298 547h0M1242 497h0M1272 517h0M1240 501h0M1262 489h0M1238 504h0M1253 513h0M1317 555h0M1305 536h0M1256 492h0" stroke="#8b9bcb" stroke-width="4.0"/>
<path d="M1257 483h0M1249 500h0M1257 497h0M1321 550h0M1241 509h0M1289 517h0M1281 526h0M1304 560h0M1311 543h0M1228 517h0M1241 478h0M1317 557h0M1299 543h0M1230 480h0M1250 491h0M1321 557h0M1293 540h0M1305 552h0M1241 480h0M1272 540h0M1240 508h0M1302 550h0M1265 513h0M1219 483h0M1281 543h0M1282 516h0M1233 526h0M1300 546h0M1279 544h0M1227 509h0M1293 519h0M1244 483h0M1297 531h0M1251 499h0M1263 498h0M1232 514h0M1230 518h0M1298 523h0M1272 520h0M1252 520h0M1286 546h0M1252 490h0M1252 525h0M1256 523h0M1297 548h0M1265 508h0M1262 521h0M1218 492h0M1281 544h0M1235 479h0M1288 547h0M1316 558h0M1305 541h0M1264 497h0M1266 508h0M1255 488h0M1269 530h0M1277 539h0M1299 547h0M1297 521h0M1232 516h0M1240 511h0M1247 526h0M1241 512h0M1288 549h0" stroke="#9784bd" stroke-width="4.0"/>
<path d="M1310 559h0M1268 520h0M1284 516h0M1272 511h0M1287 521h0M1227 496h0M1229 505h0M1266 523h0M1254 528h0M1237 498h0M1255 523h0M1227 482h0M1251 512h0M1232 479h0M1293 544h0M1276 521h0M1310 548h0M1256 487h0M1274 519h0M1314 554h0M1269 510h0M1304 544h0M1289 524h0M1291 526h0M1305 562h0M1225 498h0M1220 485h0M1292 550h0M1230 512h0M1312 554h0M1256 502h0M1235 482h0M1307 539h0M1298 533h0M1303 534h0" stroke="#252d6c" stroke-width="4.0"/>
<path d="M1242 513h0M1237 488h0M1294 530h0M1265 503h0M1292 525h0M1287 518h0M1298 530h0M1313 546h0M1237 516h0M1260 488h0M1264 537h0M1306 543h0M1255 488h0M1233 514h0M1233 482h0M1224 500h0M1252 491h0M1274 522h0M1245 502h0M1273 503h0M1269 499h0M1215 494h0" stroke="#7e1b21" stroke-width="4.0"/>
<path d="M1217 496h0M1274 535h0M1248 518h0M1308 534h0M1293 521h0M1276 525h0M1299 553h0M1244 525h0M1259 527h0M1300 543h0M1231 493h0M1225 491h0M1306 542h0M1232 495h0M1276 511h0" stroke="#6b4b9f" stroke-width="4.0"/>
<path d="M1297 537h0M1268 536h0M1255 530h0M1255 535h0M1294 536h0M1288 547h0M1290 529h0M1280 535h0M1253 518h0M1296 540h0M1273 539h0M1263 530h0M1262 538h0M1289 534h0M1249 522h0M1254 528h0M1259 528h0M1287 540h0M1261 530h0M1274 544h0M1296 549h0M1290 544h0M1283 541h0M1283 541h0M1294 539h0M1253 527h0M1257 521h0M1258 537h0M1267 534h0M1283 532h0M1295 553h0M1290 539h0M1293 548h0M1263 533h0M1291 547h0M1295 542h0M1297 551h0M1290 545h0M1296 550h0M1251 523h0M1262 528h0M1260 526h0M1272 523h0M1274 537h0M1297 549h0M1275 540h0M1289 532h0M1270 538h0M1285 537h0M1284 542h0M1252 520h0M1272 522h0M1275 533h0M1286 547h0M1294 541h0M1256 518h0M1292 545h0M1272 533h0M1281 542h0M1296 544h0M1268 527h0M1276 530h0M1254 525h0M1263 529h0M1282 541h0M1258 521h0M1266 529h0M1257 519h0M1283 547h0M1259 533h0M1265 525h0M1257 531h0M1256 524h0M1274 536h0M1286 546h0M1273 530h0M1275 525h0" stroke="#252d6c" stroke-width="4.0"/>
<path d="M1302 545h0M1271 533h0M1288 539h0M1291 542h0M1274 528h0M1267 531h0M1292 539h0M1282 546h0M1274 536h0M1281 528h0M1263 517h0M1258 524h0M1268 536h0" stroke="#8b9bcb" stroke-width="4.0"/>
<path d="M1234 519h0M1232 510h0M1233 522h0M1233 521h0M1219 480h0M1227 509h0M1235 522h0M1221 502h0M1234 527h0M1227 513h0M1231 497h0M1238 528h0M1227 505h0M1236 523h0M1238 511h0M1235 515h0M1220 501h0M1220 490h0M1239 507h0M1230 504h0M1219 499h0M1228 490h0M1236 503h0M1221 481h0M1230 500h0M1237 501h0M1229 489h0M1224 488h0M1240 518h0M1225 515h0M1228 511h0M1232 495h0M1225 513h0M1219 511h0M1228 513h0M1229 520h0M1232 496h0M1222 486h0M1231 501h0M1228 493h0M1209 478h0M1231 497h0M1212 488h0M1214 479h0M1225 517h0M1229 516h0M1217 475h0M1232 517h0" stroke="#7e1b21" stroke-width="4.0"/>
<path d="M1232 521h0M1211 487h0M1239 523h0M1215 488h0M1234 504h0M1226 521h0M1215 506h0M1231 512h0M1223 484h0M1236 497h0M1230 495h0M1226 509h0M1231 517h0M1229 504h0M1238 512h0M1221 511h0M1223 506h0M1237 509h0M1217 477h0M1238 514h0M1212 496h0M1236 507h0" stroke="#8b9bcb" stroke-width="4.0"/>
<path d="M1275 543h0M1261 565h0M1274 553h0M1268 569h0M1271 565h0M1265 563h0M1264 560h0M1269 570h0M1265 548h0M1274 545h0M1279 549h0M1264 565h0M1273 569h0M1267 574h0" stroke="#e97b2f" stroke-width="4.0"/>
<path d="M1360 582h0M1312 603h0M1341 578h0M1306 693h0M1271 688h0M1310 675h0M1288 676h0M1304 683h0M1296 682h0M1287 781h0M1305 583h0M1340 572h0M1243 679h0M1294 638h0M1334 600h0M1285 704h0M1247 632h0M1292 764h0M1293 616h0M1347 707h0M1254 746h0M1276 660h0M1300 798h0M1304 792h0M1333 688h0M1330 591h0M1287 714h0M1369 615h0M1253 616h0M1328 680h0M1342 703h0M1280 725h0M1285 674h0M1292 767h0M1342 691h0M1249 653h0M1289 628h0M1250 677h0M1346 670h0M1341 703h0M1289 784h0M1270 797h0M1331 706h0M1349 627h0M1350 652h0M1305 737h0M1319 688h0" stroke="#3cb39f" stroke-width="4.0"/>
<path d="M1249 639h0M1358 675h0M1270 753h0M1341 645h0M1330 686h0M1315 751h0M1271 774h0M1377 643h0M1257 745h0M1326 658h0M1338 636h0M1285 577h0M1290 730h0M1342 630h0M1281 702h0M1336 568h0M1316 725h0M1290 674h0M1318 718h0M1266 610h0M1294 593h0M1297 790h0M1276 679h0M1284 588h0M1342 605h0M1300 786h0M1320 634h0M1293 643h0M1325 693h0M1262 633h0M1367 635h0M1359 601h0M1375 619h0M1318 751h0M1293 634h0M1368 672h0M1233 690h0M1354 693h0M1298 669h0M1304 606h0M1298 674h0M1275 668h0M1264 608h0M1295 775h0M1261 753h0M1274 665h0M1324 632h0M1317 660h0M1373 653h0M1248 635h0" stroke="#7e1b21" stroke-width="4.0"/>
<path d="M1261 734h0M1257 667h0M1277 796h0M1312 681h0M1248 617h0M1309 566h0M1230 703h0M1274 756h0M1302 658h0" stroke="#f1dc24" stroke-width="4.0"/>
<path d="M1322 653h0M1273 788h0M1274 741h0M1349 659h0M1376 613h0M1294 799h0M1332 592h0M1267 649h0M1292 769h0M1266 607h0M1285 628h0M1279 646h0M1322 759h0M1285 624h0M1324 630h0M1314 618h0M1281 749h0M1246 734h0M1371 607h0M1244 646h0M1304 692h0M1263 604h0M1317 562h0M1272 694h0M1326 610h0M1251 756h0M1361 583h0M1340 602h0M1323 693h0M1290 762h0M1303 602h0M1350 578h0M1279 597h0M1262 792h0M1297 610h0M1242 627h0M1316 716h0M1275 624h0M1351 688h0M1319 584h0M1282 598h0M1272 626h0M1267 792h0M1247 751h0M1346 652h0M1282 760h0M1299 610h0M1347 582h0M1330 591h0M1322 725h0M1343 668h0M1307 559h0M1312 706h0M1373 668h0M1297 644h0M1330 602h0M1234 670h0M1268 722h0M1319 658h0M1333 733h0M1251 670h0M1361 634h0M1292 656h0M1275 673h0M1314 579h0M1251 605h0M1314 687h0M1256 622h0M1313 757h0M1353 585h0" stroke="#8b9bcb" stroke-width="4.0"/>
<path d="M1275 639h0M1262 704h0M1245 635h0M1371 606h0M1243 653h0M1307 619h0M1300 722h0M1354 578h0M1269 693h0M1352 701h0M1309 754h0M1305 586h0M1363 636h0M1335 583h0M1268 630h0M1367 615h0" stroke="#e8797d" stroke-width="4.0"/>
<path d="M1290 676h0M1280 784h0M1349 630h0M1334 591h0M1364 609h0M1300 746h0M1355 685h0M1276 624h0M1289 743h0M1329 695h0M1277 712h0M1314 662h0M1338 591h0M1310 688h0M1293 796h0M1302 756h0M1359 590h0M1281 747h0M1344 604h0M1294 686h0M1332 696h0M1300 710h0M1330 617h0M1245 672h0M1276 732h0M1269 777h0M1326 751h0M1253 681h0M1247 667h0M1281 716h0M1272 771h0M1366 608h0M1322 702h0M1278 768h0M1287 658h0M1302 671h0M1262 647h0M1261 607h0M1357 639h0M1349 648h0M1274 788h0M1317 677h0M1317 656h0M1344 654h0M1271 654h0M1275 749h0M1366 613h0M1253 627h0M1281 684h0M1320 584h0M1371 614h0M1299 706h0M1316 571h0" stroke="#80bf5b" stroke-width="4.0"/>
<path d="M1331 562h0M1286 771h0M1301 692h0M1339 615h0M1296 709h0M1242 713h0M1265 666h0M1325 598h0M1279 714h0M1268 656h0M1299 721h0M1271 629h0M1244 674h0M1244 633h0M1290 707h0M1265 683h0M1309 694h0M1306 655h0M1268 619h0M1236 694h0" stroke="#6b4b9f" stroke-width="4.0"/>
<path d="M1251 746h0M1309 731h0M1260 600h0M1357 596h0M1345 622h0M1334 643h0M1282 708h0M1245 678h0M1294 586h0M1342 582h0M1296 680h0M1328 696h0M1276 783h0M1267 673h0M1329 661h0M1311 640h0M1272 593h0M1265 796h0M1257 633h0M1345 653h0M1303 605h0M1353 692h0M1311 635h0M1266 752h0M1289 753h0M1355 656h0M1349 713h0M1257 635h0M1260 768h0M1246 712h0M1331 655h0M1312 596h0M1322 575h0M1352 647h0M1314 768h0M1297 595h0M1305 756h0M1340 691h0M1250 750h0M1324 620h0M1325 582h0M1322 688h0M1327 747h0M1287 783h0M1267 592h0M1310 656h0M1291 738h0M1259 596h0M1310 685h0M1355 709h0M1321 644h0M1251 609h0M1263 778h0M1275 722h0M1268 638h0M1287 748h0M1295 723h0M1276 705h0M1270 784h0M1304 681h0M1284 760h0M1251 763h0M1353 653h0M1356 581h0M1275 745h0M1267 727h0M1332 573h0M1365 584h0M1271 750h0M1304 628h0M1367 678h0M1291 659h0M1349 591h0M1327 650h0M1312 610h0M1320 636h0M1347 687h0M1283 709h0M1341 570h0M1246 629h0M1348 684h0M1265 761h0M1247 635h0M1243 646h0M1314 600h0M1261 700h0M1307 753h0M1265 705h0M1312 574h0M1257 698h0M1271 770h0M1330 741h0M1343 702h0M1280 603h0M1342 610h0M1359 654h0M1250 638h0M1235 653h0M1252 649h0M1370 597h0M1370 666h0M1289 773h0M1377 618h0M1362 673h0M1303 620h0M1308 740h0M1334 638h0M1336 605h0M1279 674h0M1265 705h0M1255 632h0M1350 608h0M1316 592h0M1360 659h0M1314 743h0M1258 637h0M1292 767h0M1270 663h0M1281 745h0M1312 767h0M1350 636h0M1290 801h0M1325 657h0M1314 562h0M1266 774h0M1290 750h0M1363 623h0M1234 695h0M1318 560h0M1264 632h0M1250 727h0M1328 564h0M1277 690h0M1300 586h0" stroke="#252d6c" stroke-width="4.0"/>
<path d="M1254 648h0M1268 728h0M1234 670h0M1292 804h0M1273 731h0M1294 575h0M1281 581h0M1345 694h0M1257 694h0M1325 750h0M1348 587h0M1263 741h0M1360 667h0M1317 607h0M1281 682h0M1304 786h0M1284 734h0M1304 633h0M1230 698h0M1307 746h0" stroke="#1f8b46" stroke-width="4.0"/>
<path d="M1314 648h0M1301 700h0M1230 659h0M1287 783h0M1246 613h0M1333 676h0M1332 695h0M1351 687h0M1316 662h0M1241 701h0M1289 736h0M1242 711h0M1305 577h0M1282 626h0M1314 769h0M1323 608h0M1357 588h0M1257 608h0M1291 779h0M1286 624h0M1271 736h0M1303 577h0M1368 613h0M1332 723h0M1326 694h0M1304 716h0M1273 736h0M1285 759h0M1329 733h0M1295 636h0M1288 653h0M1369 587h0M1365 679h0M1302 632h0M1340 654h0M1313 628h0M1344 635h0M1332 749h0M1314 742h0M1287 612h0M1258 612h0M1359 657h0M1275 790h0M1350 604h0M1287 746h0M1293 694h0M1265 771h0M1298 582h0M1336 745h0M1295 612h0M1294 680h0M1295 681h0M1310 687h0M1295 707h0M1244 736h0M1254 674h0M1293 672h0M1324 695h0M1302 609h0M1294 732h0M1272 631h0M1305 786h0M1237 717h0M1297 705h0M1289 805h0M1368 596h0M1329 746h0M1296 711h0" stroke="#c9222b" stroke-width="4.0"/>
<path d="M1309 560h0M1271 651h0M1248 620h0M1241 675h0M1293 671h0M1288 718h0M1314 720h0M1316 713h0M1263 751h0M1263 669h0M1251 714h0M1254 668h0M1348 715h0M1279 658h0M1324 606h0M1342 693h0M1333 688h0M1332 667h0M1254 705h0M1311 677h0M1249 620h0M1284 795h0M1248 724h0M1360 602h0M1268 661h0M1251 693h0M1287 758h0M1301 629h0M1280 774h0M1247 650h0M1306 624h0M1274 717h0M1258 701h0M1295 685h0M1367 619h0M1315 591h0M1364 589h0M1377 627h0M1301 599h0M1329 625h0M1344 619h0M1324 695h0M1256 697h0M1312 754h0M1314 759h0M1374 659h0" stroke="#8dd0df" stroke-width="4.0"/>
<path d="M1279 804h0M1276 648h0M1331 710h0M1285 761h0M1292 698h0M1282 651h0M1325 580h0M1261 697h0M1312 757h0M1310 583h0M1304 643h0M1289 716h0M1353 570h0M1327 590h0M1314 655h0M1333 709h0M1289 757h0M1277 728h0M1259 593h0M1272 652h0M1326 735h0M1349 572h0M1366 663h0M1275 793h0M1341 701h0M1268 783h0M1348 687h0M1377 662h0M1269 675h0M1335 635h0M1304 732h0M1262 768h0M1295 744h0M1302 732h0M1313 609h0M1267 760h0M1268 763h0M1309 618h0M1275 699h0M1357 623h0M1363 592h0M1306 716h0M1287 762h0M1351 706h0M1287 779h0M1298 769h0M1268 607h0M1318 764h0M1302 687h0M1240 634h0M1243 638h0M1301 783h0M1370 628h0M1351 687h0M1336 604h0M1256 741h0M1230 653h0M1283 684h0" stroke="#b66cb0" stroke-width="4.0"/>
<path d="M1275 701h0M1313 756h0M1292 606h0M1322 627h0M1322 726h0M1297 585h0M1304 773h0M1333 741h0M1353 581h0M1233 647h0M1263 625h0M1246 666h0M1307 590h0M1275 586h0M1301 752h0M1331 709h0M1289 754h0M1254 767h0M1321 750h0M1318 566h0M1328 698h0M1268 621h0M1265 616h0M1237 676h0M1319 772h0M1266 794h0M1265 674h0M1319 601h0M1284 665h0M1321 670h0M1254 702h0" stroke="#9784bd" stroke-width="4.0"/>
<path d="M1269 752h0M1338 679h0M1262 764h0M1291 741h0M1275 738h0M1290 686h0M1359 575h0M1328 739h0M1278 641h0M1309 649h0M1361 648h0M1277 788h0M1262 721h0M1326 744h0M1331 652h0M1247 713h0M1361 678h0M1339 659h0M1260 711h0M1297 676h0M1281 585h0M1323 582h0M1245 637h0M1299 801h0M1366 676h0M1316 653h0M1362 664h0M1269 786h0M1291 780h0M1347 710h0M1325 741h0M1350 575h0M1315 584h0M1319 734h0M1360 630h0M1258 740h0M1334 654h0M1340 656h0M1318 714h0M1258 699h0M1302 790h0M1296 772h0M1264 632h0M1272 660h0M1357 627h0M1294 678h0M1288 651h0M1237 710h0M1290 564h0M1332 660h0M1303 650h0M1232 667h0M1327 721h0M1297 611h0M1336 692h0M1258 676h0M1248 676h0M1265 743h0M1283 663h0M1330 659h0M1328 663h0M1296 673h0M1278 651h0M1294 709h0M1304 573h0M1316 688h0M1310 645h0M1296 736h0M1329 708h0M1256 727h0M1329 643h0M1310 567h0M1282 724h0M1248 722h0M1306 740h0M1245 653h0M1330 716h0M1290 730h0" stroke="#e97b2f" stroke-width="4.0"/>
<path d="M1338 635h0M1370 631h0M1330 622h0M1306 699h0M1317 699h0M1351 636h0M1253 711h0M1299 733h0M1330 594h0M1269 641h0" stroke="#f1dc24" stroke-width="4.0"/>
<path d="M1349 658h0M1228 662h0M1333 739h0M1296 721h0M1339 626h0M1342 662h0M1280 776h0M1253 716h0M1253 731h0M1235 694h0M1261 796h0M1278 745h0M1258 746h0M1245 642h0M1352 675h0M1325 605h0M1295 802h0M1255 653h0M1266 644h0M1254 619h0M1291 680h0M1332 750h0M1236 627h0M1340 628h0M1253 664h0M1313 646h0M1333 583h0M1267 720h0M1257 664h0M1357 667h0M1322 711h0M1338 620h0M1332 650h0M1240 619h0M1232 685h0M1327 642h0M1332 702h0M1327 647h0M1346 661h0M1310 739h0M1324 633h0M1282 656h0M1270 712h0M1330 630h0M1297 697h0M1287 603h0M1283 715h0M1331 676h0M1246 732h0M1305 668h0M1292 670h0M1304 713h0M1275 712h0M1329 708h0M1250 646h0M1293 597h0M1288 732h0M1278 714h0M1298 577h0M1331 629h0" stroke="#8b9bcb" stroke-width="4.0"/>
<path d="M1252 697h0M1298 596h0M1298 772h0M1261 754h0M1226 659h0M1290 621h0M1262 746h0M1299 594h0M1345 594h0M1341 595h0M1373 667h0M1335 590h0M1272 799h0M1298 717h0M1329 579h0M1348 727h0M1312 667h0M1309 629h0M1285 751h0M1343 584h0M1317 626h0M1347 568h0M1272 628h0M1251 660h0M1279 721h0M1358 692h0M1268 595h0M1320 683h0M1281 780h0M1259 666h0M1284 600h0M1295 758h0M1263 604h0M1263 688h0M1250 642h0M1278 768h0M1246 617h0M1302 593h0M1366 586h0M1375 652h0M1262 603h0M1280 657h0M1247 676h0M1323 636h0M1306 739h0M1292 606h0M1298 642h0M1272 705h0M1287 606h0M1269 773h0M1280 577h0M1356 606h0M1367 630h0M1279 671h0M1331 659h0M1336 674h0M1304 584h0M1306 627h0M1313 575h0M1350 625h0M1317 612h0M1274 589h0M1264 768h0M1362 681h0M1246 730h0M1327 645h0" stroke="#e97b2f" stroke-width="4.0"/>
<path d="M1294 580h0M1360 584h0M1305 587h0M1252 680h0M1285 702h0M1352 575h0M1284 607h0M1301 747h0M1268 754h0M1259 640h0M1285 791h0M1318 571h0M1262 658h0M1244 724h0M1231 701h0M1295 791h0M1238 629h0M1361 577h0M1310 675h0M1276 658h0M1333 638h0M1348 693h0M1323 736h0M1357 676h0M1246 666h0M1329 639h0M1328 602h0M1245 709h0" stroke="#e8797d" stroke-width="4.0"/>
<path d="M1239 639h0M1247 679h0M1329 591h0M1308 621h0M1266 749h0M1249 674h0M1308 568h0M1231 687h0M1364 672h0M1291 719h0M1290 659h0M1351 610h0M1289 656h0M1346 697h0M1265 786h0M1348 640h0M1291 642h0M1307 580h0M1335 612h0M1292 730h0M1253 681h0M1292 679h0M1278 735h0M1330 599h0M1239 705h0M1288 668h0M1272 619h0M1255 758h0M1256 664h0M1262 769h0M1332 631h0M1288 636h0M1294 651h0M1312 605h0M1269 717h0M1352 608h0M1327 580h0M1317 660h0M1281 781h0M1279 668h0M1267 770h0M1284 666h0M1263 678h0M1318 739h0M1305 560h0M1288 615h0M1300 570h0M1332 603h0M1261 745h0M1299 626h0M1280 738h0M1282 768h0M1321 574h0M1326 749h0M1346 596h0M1265 679h0M1264 711h0M1284 634h0M1296 580h0M1308 658h0M1266 654h0M1274 585h0M1266 789h0M1284 607h0M1267 700h0" stroke="#80bf5b" stroke-width="4.0"/>
<path d="M1327 752h0M1306 727h0M1307 730h0M1335 732h0M1329 646h0M1337 616h0M1286 792h0M1233 683h0M1260 649h0M1339 581h0M1358 666h0M1339 572h0M1362 614h0M1312 656h0M1246 657h0M1270 644h0M1297 596h0M1336 727h0M1320 757h0M1301 628h0M1359 628h0M1328 583h0M1297 583h0M1279 753h0M1249 628h0M1324 580h0" stroke="#1f8b46" stroke-width="4.0"/>
<path d="M1333 728h0M1327 729h0M1256 611h0M1340 614h0M1300 761h0M1271 724h0M1340 711h0M1275 647h0M1252 644h0M1350 590h0M1273 579h0M1290 721h0M1301 754h0M1292 719h0M1353 666h0M1286 639h0M1295 587h0M1304 667h0M1352 683h0M1297 588h0M1302 703h0M1370 625h0M1277 742h0M1342 711h0M1265 679h0M1303 725h0M1357 646h0M1349 579h0M1289 764h0M1366 653h0M1374 620h0M1256 611h0M1284 598h0M1332 704h0M1329 586h0M1301 632h0M1379 625h0M1315 570h0M1251 634h0M1310 613h0M1258 623h0M1329 640h0M1350 598h0M1373 622h0M1351 705h0M1267 665h0M1302 629h0M1341 594h0M1268 600h0M1283 660h0M1238 699h0M1240 657h0M1362 641h0M1330 602h0M1367 627h0M1290 620h0" stroke="#3cb39f" stroke-width="4.0"/>
<path d="M1348 726h0M1275 797h0M1279 647h0M1284 682h0M1347 722h0M1329 618h0M1271 747h0M1297 672h0M1318 676h0M1286 653h0M1351 687h0M1309 626h0M1261 718h0M1330 727h0M1365 666h0M1282 740h0M1373 600h0M1239 626h0M1350 617h0M1337 616h0M1250 671h0M1354 692h0M1248 656h0M1366 664h0M1333 667h0M1310 628h0M1363 599h0M1298 710h0M1298 610h0M1286 727h0M1355 702h0M1335 663h0M1245 629h0M1269 726h0M1275 742h0M1277 605h0M1271 721h0M1307 765h0M1239 630h0M1256 726h0" stroke="#9784bd" stroke-width="4.0"/>
<path d="M1349 703h0M1303 728h0M1291 671h0M1299 665h0M1287 639h0M1307 785h0M1354 667h0M1314 588h0M1259 665h0M1285 744h0M1253 718h0M1280 708h0M1338 688h0M1303 629h0M1307 754h0M1269 797h0M1320 733h0M1270 735h0M1293 595h0M1316 750h0M1314 728h0M1254 650h0M1366 641h0M1292 761h0M1310 772h0M1358 617h0M1301 580h0M1254 691h0M1357 643h0M1249 622h0" stroke="#6b4b9f" stroke-width="4.0"/>
<path d="M1334 589h0M1338 578h0M1274 681h0M1267 723h0M1307 574h0M1328 666h0M1287 583h0M1259 605h0M1312 741h0M1297 579h0M1274 690h0M1306 687h0M1231 685h0M1316 566h0M1338 707h0M1265 682h0M1335 685h0M1345 586h0M1319 695h0M1367 676h0M1358 661h0M1268 658h0M1341 705h0M1270 738h0M1325 653h0M1262 648h0M1301 618h0M1340 571h0M1247 757h0M1259 634h0M1258 702h0M1248 624h0M1280 631h0M1238 711h0M1348 595h0M1326 729h0M1240 712h0M1323 698h0M1263 595h0M1319 625h0M1241 714h0M1307 607h0M1273 743h0M1265 779h0M1274 712h0M1248 720h0M1283 682h0M1317 743h0M1280 665h0M1300 597h0M1284 721h0M1338 574h0M1309 722h0" stroke="#b66cb0" stroke-width="4.0"/>
<path d="M1363 629h0M1328 678h0M1272 751h0M1321 586h0M1360 679h0M1305 774h0M1273 652h0M1286 595h0M1304 620h0M1341 633h0M1278 751h0M1300 589h0M1306 794h0M1295 746h0M1266 773h0M1261 714h0M1315 685h0M1301 750h0M1355 627h0M1362 660h0M1348 659h0M1260 655h0M1366 613h0M1327 603h0M1259 629h0M1264 605h0M1244 694h0M1321 575h0M1323 565h0M1247 759h0M1288 638h0M1280 774h0M1331 585h0M1370 611h0M1298 785h0M1291 710h0M1269 739h0M1359 629h0M1376 638h0M1255 698h0M1248 617h0M1288 670h0M1329 655h0M1290 619h0M1286 712h0M1276 787h0M1257 667h0M1308 714h0M1295 663h0" stroke="#7e1b21" stroke-width="4.0"/>
<path d="M1238 693h0M1281 796h0M1278 752h0M1354 604h0M1271 635h0M1317 698h0M1346 644h0M1266 694h0M1273 789h0M1293 717h0M1348 676h0M1258 613h0M1320 727h0M1254 671h0M1312 681h0M1309 633h0M1345 573h0M1299 590h0M1234 676h0M1350 571h0M1323 579h0M1250 612h0M1307 754h0M1308 647h0M1305 570h0M1345 566h0M1354 699h0M1266 791h0M1363 675h0M1272 700h0M1331 737h0M1318 613h0M1303 735h0M1233 671h0M1281 804h0M1313 671h0M1301 716h0M1350 619h0M1357 686h0M1346 685h0M1256 714h0M1294 753h0M1267 791h0M1246 689h0M1320 751h0M1345 665h0M1323 647h0M1310 722h0M1246 724h0M1285 627h0M1360 664h0M1331 681h0M1344 636h0M1290 610h0M1266 639h0M1365 591h0M1247 639h0M1318 602h0M1237 693h0M1256 737h0" stroke="#c9222b" stroke-width="4.0"/>
<path d="M1291 649h0M1306 698h0M1309 688h0M1316 602h0M1279 716h0M1249 655h0M1350 698h0M1296 598h0M1305 775h0M1312 592h0M1278 616h0M1309 648h0M1237 657h0M1308 597h0M1280 788h0M1337 672h0M1323 618h0M1276 737h0M1354 596h0M1351 624h0M1269 689h0M1304 772h0M1269 645h0M1330 675h0M1303 747h0M1352 716h0M1249 622h0M1307 739h0M1281 577h0M1304 796h0M1366 582h0M1322 760h0M1258 718h0M1243 732h0M1325 746h0M1333 578h0M1229 650h0M1347 648h0M1268 694h0M1260 655h0M1277 736h0" stroke="#8dd0df" stroke-width="4.0"/>
<path d="M1268 776h0M1345 645h0M1312 733h0M1277 741h0M1335 649h0M1317 694h0M1259 720h0M1275 699h0M1280 728h0M1279 806h0M1329 750h0M1333 743h0M1300 585h0M1345 730h0M1290 618h0M1309 744h0M1349 703h0M1296 672h0M1261 740h0M1243 660h0M1248 652h0M1291 660h0M1328 575h0M1340 735h0M1339 719h0M1273 662h0M1245 734h0M1232 659h0M1241 623h0M1243 665h0M1374 638h0M1342 574h0M1282 742h0M1301 566h0M1316 756h0M1319 589h0M1288 728h0M1253 630h0M1284 760h0M1316 657h0M1260 789h0M1281 790h0M1335 726h0M1258 715h0M1273 686h0M1276 649h0M1353 690h0M1257 689h0M1317 735h0M1241 728h0M1351 688h0M1309 696h0M1299 696h0M1339 696h0M1271 616h0M1271 689h0M1251 751h0M1350 704h0M1369 591h0M1283 689h0M1336 678h0M1234 654h0M1361 641h0M1334 645h0M1338 737h0M1242 665h0M1304 716h0M1306 633h0M1307 571h0M1287 710h0M1243 663h0M1283 701h0M1317 754h0M1340 733h0M1262 669h0M1304 569h0M1360 659h0M1332 563h0M1325 605h0M1262 682h0M1302 735h0M1359 580h0M1293 663h0M1233 658h0M1270 586h0M1255 606h0M1325 571h0M1231 656h0M1340 723h0M1335 678h0M1231 707h0M1273 613h0M1281 694h0M1326 711h0M1272 796h0M1322 690h0M1347 583h0M1268 698h0M1264 723h0M1345 654h0M1309 616h0M1349 659h0M1272 804h0M1326 732h0M1263 728h0M1310 723h0M1307 593h0M1316 567h0M1301 741h0M1322 700h0M1295 647h0M1313 678h0M1303 642h0M1280 719h0M1374 608h0M1359 652h0" stroke="#252d6c" stroke-width="4.0"/>
<path d="M1250 772h0M1311 715h0M1283 628h0M1248 672h0M1229 646h0M1338 725h0M1332 594h0M1318 632h0M1294 615h0M1366 678h0M1249 684h0M1244 752h0M1245 716h0M1338 732h0M1300 723h0M1355 581h0M1243 628h0M1350 705h0M1274 613h0M1272 630h0M1337 686h0M1296 745h0M1296 695h0M1328 696h0M1265 683h0M1296 688h0M1250 652h0M1348 612h0M1279 607h0" stroke="#8dd0df" stroke-width="4.0"/>
<path d="M1328 736h0M1263 682h0M1293 701h0M1350 625h0M1370 633h0M1263 647h0M1316 748h0M1271 749h0M1238 681h0M1261 656h0M1365 611h0M1284 787h0M1241 699h0M1268 752h0M1321 570h0M1311 708h0M1265 598h0M1325 578h0M1304 613h0M1348 721h0M1337 709h0M1296 623h0M1279 601h0M1317 621h0M1273 710h0M1311 595h0M1260 726h0M1283 778h0M1339 729h0M1264 638h0M1298 739h0M1301 611h0M1335 685h0M1307 606h0M1319 698h0M1286 740h0M1328 602h0M1280 689h0M1323 744h0M1267 705h0M1232 643h0M1338 656h0M1268 744h0M1241 648h0M1282 687h0M1290 608h0M1345 574h0M1335 733h0M1325 745h0M1270 737h0M1305 619h0M1346 675h0M1336 569h0M1330 720h0" stroke="#3cb39f" stroke-width="4.0"/>
<path d="M1368 657h0M1316 613h0M1369 652h0M1303 649h0M1260 702h0M1312 637h0M1331 606h0M1341 646h0M1282 613h0M1259 767h0M1316 782h0M1361 667h0M1288 773h0M1313 613h0M1274 637h0M1310 787h0M1269 753h0M1302 593h0M1334 704h0M1271 749h0M1278 640h0M1380 614h0M1291 578h0M1262 754h0M1255 628h0M1271 754h0M1245 691h0M1353 671h0M1251 765h0M1282 706h0M1310 598h0M1302 729h0M1345 712h0M1269 714h0M1323 725h0M1276 739h0M1270 637h0M1311 580h0M1317 724h0M1309 764h0" stroke="#9784bd" stroke-width="4.0"/>
<path d="M1374 598h0M1259 709h0M1340 627h0M1331 733h0M1295 583h0M1284 773h0M1233 658h0M1340 655h0M1309 776h0M1340 612h0M1324 560h0M1247 744h0M1246 661h0M1326 616h0M1304 664h0M1274 763h0M1311 569h0M1249 746h0M1283 645h0M1310 720h0M1243 734h0M1333 593h0M1318 560h0M1309 618h0M1359 634h0M1357 654h0M1279 715h0M1354 658h0M1334 694h0M1266 648h0M1305 639h0M1246 716h0M1285 675h0M1360 622h0M1370 619h0M1270 742h0M1324 737h0M1304 592h0M1325 707h0M1331 627h0M1336 672h0M1297 743h0M1305 628h0M1350 592h0M1264 631h0M1303 593h0M1306 655h0M1314 628h0M1279 784h0M1289 581h0M1338 652h0M1378 616h0M1348 666h0M1272 663h0M1268 660h0M1320 741h0" stroke="#b66cb0" stroke-width="4.0"/>
<path d="M1354 627h0M1318 700h0M1302 624h0M1307 678h0M1281 656h0M1276 739h0M1229 654h0M1324 642h0M1333 670h0M1302 790h0M1293 801h0M1322 634h0M1304 583h0M1319 762h0M1266 675h0M1283 607h0M1296 611h0M1329 678h0M1273 743h0M1270 643h0M1313 750h0M1293 775h0M1265 700h0M1328 637h0M1294 639h0M1333 563h0M1325 751h0M1318 630h0M1252 725h0M1317 745h0M1296 649h0M1343 587h0M1282 755h0M1266 597h0M1259 740h0M1255 680h0M1275 758h0M1265 768h0M1320 675h0M1264 721h0M1308 750h0M1295 721h0M1300 786h0M1258 662h0M1336 582h0M1322 694h0M1304 662h0M1256 610h0M1323 612h0M1335 647h0M1301 582h0M1254 767h0M1245 650h0M1296 600h0M1326 605h0M1322 638h0M1335 619h0M1305 656h0M1307 724h0M1276 612h0M1333 649h0M1263 678h0M1268 619h0M1266 737h0M1326 637h0M1283 645h0M1252 718h0M1349 704h0M1304 740h0M1367 625h0M1299 663h0M1358 621h0M1287 644h0M1347 642h0M1260 674h0M1283 722h0M1286 782h0M1318 750h0M1298 642h0M1263 660h0M1310 633h0" stroke="#80bf5b" stroke-width="4.0"/>
<path d="M1353 622h0M1291 667h0M1323 731h0M1294 570h0M1337 671h0M1254 623h0M1364 693h0M1315 678h0M1325 730h0M1241 713h0M1262 725h0M1264 710h0M1267 687h0M1310 745h0M1251 766h0M1320 583h0" stroke="#1f8b46" stroke-width="4.0"/>
<path d="M1230 636h0M1322 665h0M1371 616h0M1284 663h0M1283 645h0M1287 744h0M1315 617h0M1297 774h0M1374 624h0M1320 651h0M1291 794h0M1335 568h0M1332 616h0M1284 611h0M1312 709h0M1317 559h0M1318 624h0M1248 744h0M1261 613h0M1263 736h0M1312 686h0M1275 703h0M1295 745h0M1255 774h0M1247 730h0M1234 717h0M1267 611h0M1318 714h0M1321 588h0M1355 629h0M1333 671h0M1261 660h0M1282 678h0M1252 728h0M1250 754h0M1336 734h0M1269 788h0M1326 661h0M1291 781h0M1305 727h0M1357 600h0M1303 603h0M1323 625h0M1353 651h0M1322 700h0M1313 613h0M1297 791h0M1311 769h0M1332 679h0M1334 748h0M1244 675h0M1258 776h0M1306 719h0M1268 737h0M1271 632h0M1312 713h0M1291 593h0M1305 585h0M1348 675h0M1245 706h0M1326 683h0M1254 620h0M1343 716h0M1302 770h0M1258 753h0M1358 613h0M1336 658h0M1280 786h0M1297 722h0M1355 615h0M1290 716h0M1256 776h0M1337 658h0M1297 773h0M1303 621h0M1297 773h0M1342 671h0M1315 681h0M1251 743h0M1295 653h0M1270 607h0M1296 721h0M1253 741h0M1358 649h0M1296 622h0M1322 680h0M1302 609h0M1244 720h0M1300 628h0M1281 741h0M1273 594h0M1331 605h0M1356 699h0" stroke="#252d6c" stroke-width="4.0"/>
<path d="M1301 692h0M1274 680h0M1321 715h0M1369 605h0M1236 654h0M1237 703h0M1269 783h0" stroke="#f1dc24" stroke-width="4.0"/>
<path d="M1308 572h0M1302 716h0M1315 595h0M1250 740h0M1262 604h0M1290 734h0M1318 564h0M1251 717h0M1348 653h0M1303 790h0M1273 583h0M1294 787h0M1299 695h0M1343 677h0M1296 613h0M1334 579h0M1315 719h0M1347 665h0M1261 734h0M1291 672h0M1351 641h0M1331 566h0M1277 797h0M1369 631h0M1336 641h0M1355 626h0M1255 732h0M1287 709h0M1305 757h0M1275 767h0M1345 613h0M1265 662h0M1361 602h0M1258 760h0M1316 651h0M1314 709h0M1307 735h0M1267 779h0M1322 759h0M1259 719h0M1310 564h0M1281 730h0M1298 765h0M1277 696h0M1294 716h0M1316 698h0M1274 628h0M1345 668h0M1250 614h0M1283 636h0M1359 699h0M1255 643h0M1303 759h0M1286 702h0M1349 662h0M1260 624h0M1281 638h0M1343 599h0M1239 659h0M1333 739h0M1263 606h0M1352 705h0M1352 716h0M1280 645h0M1246 747h0M1314 695h0M1255 599h0M1244 724h0M1315 602h0M1367 653h0M1342 703h0M1312 591h0M1299 745h0M1365 641h0" stroke="#7e1b21" stroke-width="4.0"/>
<path d="M1362 607h0M1264 599h0M1346 719h0M1318 569h0M1311 740h0M1289 647h0M1241 626h0M1315 642h0M1249 769h0M1346 610h0M1330 577h0M1341 671h0M1319 759h0M1335 684h0M1352 633h0M1262 674h0M1375 623h0M1341 600h0" stroke="#e8797d" stroke-width="4.0"/>
<path d="M1383 623h0M1281 739h0M1257 763h0M1252 763h0M1268 608h0M1330 710h0M1319 578h0M1367 583h0M1338 728h0M1352 572h0M1270 789h0M1332 582h0M1284 758h0M1371 614h0M1345 652h0M1310 684h0M1319 673h0" stroke="#6b4b9f" stroke-width="4.0"/>
<path d="M1327 571h0M1280 606h0M1313 770h0M1280 798h0M1316 579h0M1296 607h0M1346 577h0M1328 659h0M1258 675h0M1255 612h0M1348 592h0M1361 665h0M1322 673h0M1308 772h0M1276 741h0M1317 667h0M1268 620h0M1250 685h0M1299 568h0M1279 771h0M1261 728h0M1333 725h0M1330 684h0M1258 729h0M1273 602h0M1233 681h0M1331 572h0M1319 656h0M1305 570h0M1234 660h0M1248 678h0M1276 728h0M1293 715h0M1328 643h0M1306 644h0M1302 704h0M1302 786h0M1271 597h0M1251 624h0M1306 756h0M1292 578h0M1340 680h0M1254 617h0M1234 679h0M1306 715h0M1249 691h0M1369 613h0M1333 662h0M1355 582h0M1298 690h0M1242 674h0M1265 713h0M1319 702h0M1344 658h0M1283 642h0M1349 684h0M1373 652h0M1360 594h0M1261 748h0M1285 622h0M1274 760h0M1309 731h0M1252 688h0M1317 713h0M1289 784h0M1340 617h0M1281 791h0M1294 634h0" stroke="#c9222b" stroke-width="4.0"/>
<path d="M1354 570h0M1291 692h0M1317 612h0M1358 685h0M1301 782h0M1240 711h0M1349 594h0M1275 672h0M1321 597h0M1252 759h0M1249 735h0M1355 603h0M1256 730h0M1300 607h0M1283 678h0M1319 580h0M1358 628h0M1330 705h0M1323 695h0M1277 762h0M1284 761h0M1262 725h0M1266 648h0M1261 699h0M1246 671h0M1314 640h0M1328 661h0M1287 663h0M1290 673h0M1356 658h0M1255 635h0M1301 716h0M1360 592h0M1249 710h0M1373 647h0M1255 692h0M1303 782h0M1307 726h0M1275 766h0M1295 598h0M1280 719h0M1330 652h0M1267 799h0M1344 596h0M1283 664h0M1353 678h0M1313 587h0M1234 684h0M1260 629h0M1330 578h0M1329 641h0M1353 623h0M1351 614h0M1252 660h0M1250 674h0M1329 677h0M1273 600h0M1290 714h0M1319 661h0M1278 660h0M1308 563h0M1300 646h0M1285 698h0M1286 642h0M1290 755h0M1300 741h0M1273 777h0M1287 698h0M1278 601h0M1291 634h0M1344 712h0" stroke="#8b9bcb" stroke-width="4.0"/>
<path d="M1270 595h0M1295 684h0M1275 779h0M1362 667h0M1278 593h0M1363 592h0M1330 697h0M1281 739h0M1346 638h0M1290 652h0M1375 640h0M1289 672h0M1288 706h0M1241 687h0M1315 655h0M1321 744h0M1367 620h0M1349 581h0M1232 670h0M1255 685h0M1232 644h0M1321 625h0M1339 635h0M1254 616h0M1288 704h0M1299 659h0M1296 717h0M1280 632h0M1276 585h0M1235 686h0M1350 660h0M1256 725h0M1341 636h0M1235 651h0M1312 758h0M1335 637h0M1259 737h0M1305 786h0M1292 653h0M1356 631h0M1276 663h0M1348 638h0M1293 611h0M1304 599h0M1327 691h0M1298 795h0M1304 670h0M1247 671h0M1262 641h0M1239 729h0M1365 600h0M1287 692h0M1263 663h0M1373 658h0M1301 662h0M1326 715h0M1301 735h0M1364 600h0M1307 785h0M1313 704h0M1331 649h0M1274 604h0M1359 615h0M1303 578h0M1276 763h0M1321 661h0M1265 632h0M1339 635h0M1335 568h0M1350 580h0M1365 601h0M1322 670h0M1341 568h0M1275 759h0M1357 646h0M1305 589h0" stroke="#e97b2f" stroke-width="4.0"/>
<path d="M1313 743h0M1309 620h0M1251 716h0M1381 620h0M1344 606h0M1368 637h0M1332 747h0M1265 597h0M1344 650h0M1279 574h0M1326 613h0M1300 675h0M1299 772h0M1256 682h0M1249 730h0M1324 611h0M1235 674h0M1316 766h0M1240 649h0M1341 729h0M1260 752h0M1312 681h0M1319 575h0M1300 768h0M1360 635h0M1333 585h0M1296 736h0M1321 633h0M1265 777h0M1255 749h0M1282 583h0M1362 632h0M1325 717h0M1261 746h0M1314 559h0M1334 725h0M1244 700h0M1319 731h0M1232 651h0M1261 655h0M1376 657h0M1289 807h0M1284 600h0M1234 640h0M1354 665h0M1304 634h0M1283 735h0M1307 724h0M1333 729h0M1275 647h0M1296 620h0M1309 660h0M1318 618h0M1269 654h0M1344 717h0M1350 596h0M1323 675h0M1250 700h0M1321 743h0M1367 653h0M1290 748h0M1305 716h0M1306 718h0M1293 776h0M1345 574h0M1249 642h0M1317 726h0M1375 661h0M1299 702h0M1343 712h0M1350 695h0M1375 651h0M1301 718h0M1345 571h0M1279 799h0M1243 686h0M1283 770h0M1258 630h0M1355 681h0M1325 615h0M1274 790h0M1319 645h0M1273 677h0M1333 600h0M1350 587h0M1289 722h0M1259 619h0M1355 686h0M1296 638h0M1344 702h0M1309 643h0M1346 643h0M1301 573h0M1264 682h0M1327 742h0M1337 661h0M1320 704h0M1262 668h0M1242 711h0M1260 625h0M1272 736h0M1339 727h0M1250 618h0M1284 608h0M1258 597h0M1304 713h0M1266 689h0M1253 650h0M1291 625h0M1330 564h0M1339 569h0M1295 759h0M1299 683h0M1276 667h0M1327 623h0M1305 659h0M1364 622h0M1302 635h0M1321 633h0M1274 623h0M1352 612h0M1323 592h0M1299 776h0M1343 586h0" stroke="#252d6c" stroke-width="4.0"/>
<path d="M1322 761h0M1311 626h0M1316 720h0M1316 627h0M1319 759h0M1288 674h0M1325 650h0M1361 694h0M1302 761h0M1330 742h0M1316 696h0M1295 619h0M1315 685h0M1364 579h0M1346 652h0M1285 800h0M1297 567h0M1283 748h0M1298 619h0M1309 663h0M1351 630h0M1317 694h0M1340 566h0M1337 610h0M1244 690h0M1300 725h0M1307 779h0M1326 640h0M1279 621h0M1285 590h0M1262 707h0M1305 611h0M1355 627h0M1256 676h0M1348 656h0M1289 579h0M1278 684h0M1353 715h0M1325 716h0M1305 670h0M1329 632h0M1293 772h0M1302 622h0M1326 618h0M1339 640h0M1290 684h0M1349 692h0" stroke="#3cb39f" stroke-width="4.0"/>
<path d="M1288 734h0M1288 704h0M1375 663h0M1306 696h0M1235 623h0M1286 635h0M1255 733h0M1251 633h0M1260 780h0M1303 643h0M1297 615h0M1278 758h0M1248 697h0M1280 725h0M1331 688h0M1281 722h0M1280 756h0M1253 687h0M1284 696h0M1281 717h0M1241 653h0M1341 650h0M1335 577h0M1252 677h0M1348 721h0M1281 591h0M1370 632h0M1245 627h0M1276 633h0M1312 767h0M1311 586h0M1313 595h0M1250 644h0M1281 685h0M1309 680h0M1342 589h0M1333 672h0M1259 766h0M1334 639h0M1240 626h0M1297 785h0M1262 636h0M1260 673h0M1277 743h0M1271 646h0M1337 598h0M1230 656h0M1330 595h0M1311 640h0M1301 684h0M1246 681h0M1303 635h0M1325 592h0M1360 654h0M1253 700h0M1241 653h0M1268 623h0M1298 590h0M1310 792h0M1283 681h0M1313 692h0M1304 687h0M1347 717h0M1260 708h0M1261 728h0M1285 647h0M1267 755h0M1251 716h0M1284 751h0M1268 776h0M1226 664h0M1297 746h0" stroke="#c9222b" stroke-width="4.0"/>
<path d="M1237 714h0M1288 704h0M1372 624h0M1298 751h0M1284 614h0M1297 747h0M1318 624h0M1298 692h0M1351 703h0M1341 730h0M1287 695h0M1238 676h0M1359 587h0M1278 736h0M1283 658h0M1302 648h0M1298 732h0M1318 657h0M1324 603h0M1340 651h0M1371 588h0M1306 729h0M1356 679h0M1349 720h0M1307 604h0M1269 722h0M1284 677h0M1278 625h0M1301 784h0M1318 593h0M1371 673h0M1280 754h0M1263 628h0M1241 683h0M1366 579h0M1306 703h0M1346 643h0M1256 746h0M1243 681h0M1343 632h0M1353 693h0M1351 617h0M1310 647h0M1288 742h0M1293 643h0M1250 623h0M1280 691h0M1317 697h0M1255 729h0M1307 598h0M1357 664h0M1270 691h0M1248 721h0M1272 597h0M1269 719h0" stroke="#8b9bcb" stroke-width="4.0"/>
<path d="M1314 671h0M1286 759h0M1369 634h0M1263 671h0M1259 711h0M1353 618h0M1245 646h0M1376 664h0M1340 714h0M1252 718h0M1254 652h0M1274 799h0M1335 717h0M1241 710h0M1355 662h0M1320 713h0M1243 668h0M1358 577h0M1275 631h0M1350 578h0M1260 780h0M1329 729h0M1308 704h0M1314 604h0M1307 571h0M1345 676h0M1354 675h0M1311 765h0M1297 795h0M1312 569h0M1325 718h0M1355 605h0M1338 704h0M1370 620h0M1316 729h0M1302 751h0M1341 665h0M1283 705h0M1249 722h0M1262 633h0M1310 565h0M1242 708h0M1320 688h0M1310 576h0M1306 626h0M1313 644h0M1320 698h0M1277 730h0M1306 697h0M1296 574h0M1256 615h0M1293 717h0M1301 687h0M1298 653h0M1252 622h0M1314 689h0M1353 647h0M1305 627h0M1296 720h0M1243 700h0M1281 727h0M1350 683h0M1246 626h0M1275 670h0M1294 726h0M1345 713h0M1266 699h0M1254 724h0M1275 685h0M1273 736h0M1335 680h0M1376 603h0M1315 756h0M1286 636h0M1353 580h0M1256 698h0M1227 640h0" stroke="#e97b2f" stroke-width="4.0"/>
<path d="M1335 582h0M1361 668h0M1283 775h0M1374 630h0M1280 768h0M1317 686h0M1246 741h0M1305 596h0M1370 598h0M1290 629h0M1343 732h0M1315 589h0M1296 571h0M1336 599h0M1350 630h0M1342 650h0M1259 637h0" stroke="#1f8b46" stroke-width="4.0"/>
<path d="M1341 636h0M1271 664h0M1320 691h0M1315 594h0M1248 621h0M1303 764h0M1377 638h0M1352 655h0M1294 753h0M1291 630h0M1240 649h0M1317 734h0M1266 725h0M1372 643h0M1285 788h0M1278 759h0M1366 673h0M1262 754h0M1343 678h0M1322 758h0M1344 607h0M1292 712h0M1374 635h0M1300 628h0M1305 570h0M1276 596h0M1330 643h0M1268 752h0M1328 740h0M1311 651h0M1246 737h0M1244 694h0M1243 636h0M1339 711h0M1320 657h0M1338 588h0M1317 736h0M1341 633h0M1281 653h0" stroke="#8dd0df" stroke-width="4.0"/>
<path d="M1298 581h0M1371 640h0M1261 628h0M1290 771h0M1296 680h0M1286 608h0M1321 718h0M1339 596h0M1227 699h0M1310 613h0M1278 674h0M1236 710h0M1304 667h0M1332 688h0M1270 603h0M1246 694h0M1231 659h0M1333 654h0M1270 655h0M1312 674h0M1265 725h0M1309 669h0M1238 677h0M1318 747h0M1276 604h0M1302 638h0M1353 585h0M1259 698h0M1304 657h0M1293 586h0M1274 771h0M1319 698h0M1234 710h0M1259 694h0M1300 682h0M1275 763h0M1255 718h0M1322 713h0M1329 656h0M1233 673h0M1343 655h0M1316 743h0M1355 694h0M1292 648h0M1298 565h0M1300 608h0M1338 601h0M1284 734h0M1282 749h0M1268 689h0M1340 625h0M1245 737h0M1336 572h0M1342 586h0M1292 740h0M1263 725h0M1352 584h0M1314 679h0" stroke="#7e1b21" stroke-width="4.0"/>
<path d="M1266 612h0M1339 716h0M1226 668h0M1347 707h0M1354 624h0M1323 722h0" stroke="#f1dc24" stroke-width="4.0"/>
<path d="M1258 726h0M1373 643h0M1331 742h0M1322 681h0M1350 646h0M1294 618h0M1337 625h0M1308 777h0M1302 571h0M1369 616h0M1269 750h0M1275 792h0M1310 782h0M1368 678h0M1270 762h0" stroke="#6b4b9f" stroke-width="4.0"/>
<path d="M1280 694h0M1305 687h0M1267 693h0M1322 707h0M1360 664h0M1244 617h0M1287 636h0M1310 722h0M1281 717h0M1305 790h0M1275 799h0M1298 640h0M1286 803h0M1234 700h0M1336 608h0M1346 573h0M1298 617h0M1276 780h0M1347 664h0M1284 647h0M1272 759h0M1235 640h0M1263 713h0M1286 763h0M1285 772h0M1293 792h0M1280 597h0M1249 653h0M1272 612h0M1305 686h0M1357 678h0M1300 664h0M1236 636h0M1309 582h0M1365 612h0M1314 686h0M1263 619h0M1246 739h0M1272 672h0M1323 620h0M1348 718h0M1348 690h0M1293 761h0M1294 571h0M1278 641h0M1277 584h0M1316 742h0M1237 632h0M1251 692h0M1286 762h0M1278 795h0M1258 616h0M1288 742h0M1248 691h0M1364 665h0M1257 772h0" stroke="#b66cb0" stroke-width="4.0"/>
<path d="M1316 587h0M1267 708h0M1258 665h0M1263 604h0M1259 644h0M1248 709h0M1265 687h0M1378 605h0M1366 600h0M1270 616h0M1374 617h0M1325 754h0M1262 746h0M1301 582h0M1294 735h0M1317 632h0M1307 746h0M1232 668h0M1300 642h0M1242 654h0M1302 611h0M1297 748h0M1326 592h0M1316 724h0M1330 717h0M1334 743h0M1258 697h0M1349 715h0M1268 665h0M1296 594h0M1246 676h0M1357 665h0M1340 721h0M1286 743h0M1346 615h0M1286 677h0M1265 662h0M1346 621h0M1292 576h0M1272 710h0M1281 655h0M1334 604h0M1315 713h0M1266 606h0M1274 629h0M1261 682h0M1305 689h0M1333 605h0M1277 664h0M1268 774h0M1279 777h0M1277 614h0M1259 750h0M1258 649h0M1259 655h0M1303 614h0M1304 636h0M1331 677h0M1259 779h0M1248 705h0M1337 599h0M1286 653h0M1251 698h0M1357 687h0M1272 797h0M1249 714h0M1275 714h0M1288 690h0M1292 758h0M1320 752h0M1282 763h0M1352 696h0M1318 680h0M1298 636h0M1229 647h0M1298 780h0M1290 730h0M1289 713h0M1333 741h0M1332 653h0" stroke="#80bf5b" stroke-width="4.0"/>
<path d="M1303 757h0M1256 777h0M1286 583h0M1248 682h0M1311 731h0M1284 726h0M1251 681h0M1327 674h0M1233 655h0M1286 670h0M1292 779h0M1336 742h0M1352 587h0M1362 610h0M1321 592h0M1256 663h0M1271 672h0M1236 682h0M1246 741h0M1235 673h0M1325 675h0M1271 769h0" stroke="#e8797d" stroke-width="4.0"/>
<path d="M1322 619h0M1262 671h0M1357 681h0M1314 767h0M1301 729h0M1246 690h0M1233 632h0M1335 569h0M1287 637h0M1257 744h0M1303 733h0M1280 806h0M1315 592h0M1288 683h0M1342 630h0M1251 693h0M1338 723h0M1296 634h0M1304 625h0M1323 575h0M1289 699h0M1343 718h0M1283 698h0M1354 707h0M1322 646h0M1312 631h0M1325 652h0M1286 630h0M1261 602h0M1320 649h0M1308 789h0M1238 677h0" stroke="#9784bd" stroke-width="4.0"/>
<path d="M1368 640h0M1302 585h0M1319 636h0M1332 734h0M1318 728h0M1297 598h0M1254 622h0M1246 679h0M1285 744h0M1347 651h0M1336 641h0M1229 676h0M1310 709h0M1279 714h0M1270 759h0M1272 693h0M1243 618h0M1260 749h0M1370 624h0M1275 619h0M1361 585h0M1312 702h0M1296 797h0M1352 602h0M1316 656h0M1291 684h0M1256 611h0M1245 616h0M1244 631h0M1292 769h0M1254 683h0M1282 656h0M1309 722h0M1274 763h0M1364 676h0M1335 563h0M1326 570h0M1270 763h0M1290 744h0M1369 598h0M1332 596h0M1305 698h0M1339 646h0M1257 602h0M1339 688h0M1325 606h0M1260 674h0M1345 583h0M1285 676h0M1322 765h0M1285 733h0M1276 590h0M1263 648h0M1240 698h0M1331 647h0M1345 606h0M1273 619h0M1256 681h0M1284 801h0M1283 589h0M1321 609h0M1348 620h0M1332 607h0M1335 603h0M1350 637h0M1294 591h0M1346 652h0M1324 665h0M1302 593h0M1278 631h0M1289 620h0M1372 596h0M1296 796h0M1346 668h0M1283 698h0M1245 715h0M1299 740h0M1361 690h0M1259 702h0M1339 678h0M1374 673h0M1266 711h0M1308 609h0M1255 714h0M1256 719h0M1325 633h0M1310 571h0M1303 696h0M1240 623h0M1298 720h0M1256 608h0M1373 598h0M1234 713h0M1262 776h0M1339 708h0M1280 693h0M1330 615h0M1271 639h0M1283 655h0M1340 619h0M1276 611h0M1309 727h0M1263 599h0M1304 690h0M1269 686h0M1379 610h0M1320 694h0M1270 733h0M1364 651h0" stroke="#252d6c" stroke-width="4.0"/>
<path d="M1349 588h0M1358 621h0M1247 766h0M1325 584h0M1296 717h0M1268 604h0M1242 688h0M1351 619h0M1356 612h0M1322 621h0M1238 640h0M1310 563h0M1275 630h0M1225 670h0M1244 635h0M1271 718h0M1322 595h0M1367 671h0M1312 708h0M1352 614h0M1310 584h0M1350 572h0M1297 577h0M1286 748h0M1255 743h0M1287 757h0M1288 721h0M1343 622h0M1337 650h0M1275 604h0M1341 595h0M1304 770h0M1261 740h0M1234 650h0M1329 648h0M1346 647h0M1245 665h0M1298 634h0M1341 591h0M1332 590h0M1301 729h0M1257 772h0M1271 665h0M1343 696h0M1379 638h0M1345 711h0M1337 669h0M1254 650h0M1372 665h0M1281 625h0M1319 580h0M1371 604h0M1268 733h0M1267 689h0M1267 611h0M1256 773h0M1237 682h0M1350 708h0M1290 710h0M1277 700h0M1239 632h0M1228 682h0M1238 652h0" stroke="#7e1b21" stroke-width="4.0"/>
<path d="M1250 730h0M1316 735h0M1262 627h0M1261 737h0M1259 692h0M1238 655h0M1319 728h0M1252 688h0M1304 681h0M1251 705h0M1318 558h0M1280 679h0M1347 620h0M1242 724h0M1318 609h0M1305 750h0M1341 622h0M1260 698h0M1288 591h0M1235 682h0M1324 584h0M1253 723h0M1314 655h0" stroke="#6b4b9f" stroke-width="4.0"/>
<path d="M1332 624h0M1267 660h0M1244 681h0M1243 674h0M1355 575h0M1265 749h0M1256 602h0M1310 623h0M1321 705h0M1234 710h0M1269 681h0" stroke="#e8797d" stroke-width="4.0"/>
<path d="M1278 768h0M1296 666h0M1267 762h0M1284 759h0M1348 612h0M1326 723h0M1266 656h0" stroke="#f1dc24" stroke-width="4.0"/>
<path d="M1286 655h0M1299 772h0M1332 735h0M1246 673h0M1367 627h0M1267 780h0M1338 668h0M1270 783h0M1296 707h0M1243 695h0M1259 699h0M1269 593h0M1326 740h0M1334 567h0M1267 765h0M1280 729h0M1263 774h0M1293 791h0M1303 622h0M1257 730h0M1329 634h0M1277 743h0M1350 664h0M1324 729h0M1376 653h0M1277 765h0M1295 633h0M1277 756h0M1272 647h0M1273 616h0M1294 657h0M1355 602h0M1308 594h0M1293 605h0M1314 734h0M1330 716h0M1263 746h0M1335 746h0M1368 624h0M1284 747h0M1312 565h0M1276 662h0M1281 621h0M1358 668h0M1314 649h0M1290 674h0" stroke="#3cb39f" stroke-width="4.0"/>
<path d="M1257 617h0M1270 726h0M1291 667h0M1285 807h0M1299 763h0M1236 664h0M1284 743h0M1346 590h0M1313 622h0M1321 614h0M1265 675h0M1324 709h0M1229 682h0M1314 762h0M1321 736h0M1331 738h0M1313 656h0M1262 669h0M1273 685h0M1242 711h0M1329 671h0M1279 582h0M1370 609h0M1337 668h0M1334 653h0M1300 620h0M1350 692h0M1252 762h0M1295 724h0M1267 734h0M1285 679h0M1287 702h0M1270 639h0M1276 665h0M1334 737h0M1322 682h0M1242 665h0M1355 711h0M1313 666h0M1262 631h0M1363 690h0M1293 751h0M1274 676h0M1310 571h0M1306 647h0M1322 701h0M1270 715h0M1348 658h0M1316 678h0M1324 691h0M1285 666h0M1324 696h0M1328 579h0M1249 746h0M1363 594h0M1331 701h0M1290 753h0M1342 660h0M1248 740h0M1274 615h0M1328 707h0M1251 685h0M1292 726h0M1363 674h0M1315 708h0M1276 687h0M1295 579h0M1329 709h0M1352 610h0M1295 618h0M1377 638h0M1295 718h0M1284 741h0M1304 742h0M1252 654h0M1277 773h0M1256 716h0M1269 780h0M1309 572h0M1366 658h0" stroke="#8b9bcb" stroke-width="4.0"/>
<path d="M1280 647h0M1362 671h0M1306 744h0M1271 648h0M1354 625h0M1290 723h0M1371 614h0M1368 625h0M1255 732h0M1374 668h0M1301 659h0M1318 644h0M1284 711h0M1317 646h0M1260 598h0M1373 666h0M1277 644h0M1301 574h0M1263 602h0M1271 775h0M1295 733h0M1351 583h0M1329 731h0M1338 662h0M1304 683h0M1343 713h0M1312 695h0M1373 620h0M1278 690h0M1324 731h0M1345 688h0M1370 641h0M1291 734h0M1273 739h0M1309 760h0M1340 625h0M1242 656h0M1304 788h0M1290 641h0M1243 719h0M1259 692h0M1325 672h0M1356 620h0M1273 726h0M1277 692h0M1246 667h0M1307 696h0M1287 675h0M1343 693h0M1235 656h0M1275 647h0M1332 663h0M1266 700h0M1331 611h0M1277 670h0M1357 641h0M1277 688h0M1288 667h0M1283 612h0M1360 660h0M1283 641h0M1267 755h0M1243 632h0M1276 765h0M1260 695h0M1349 694h0M1226 673h0M1275 596h0M1358 599h0M1286 783h0M1349 600h0M1299 589h0M1368 617h0M1324 608h0M1332 604h0M1230 684h0" stroke="#e97b2f" stroke-width="4.0"/>
<path d="M1330 748h0M1239 723h0M1238 689h0M1291 594h0M1284 654h0M1281 600h0M1304 576h0M1269 677h0M1302 590h0M1309 741h0M1324 591h0M1301 760h0M1281 597h0M1328 726h0M1309 780h0M1277 690h0M1271 610h0M1343 630h0M1353 636h0M1298 566h0M1288 686h0M1277 626h0M1247 685h0M1298 606h0M1231 647h0M1362 614h0M1277 601h0M1254 685h0M1269 679h0M1280 790h0M1293 628h0M1286 758h0M1307 789h0M1363 606h0M1297 634h0M1286 756h0M1349 620h0M1280 626h0M1314 708h0M1292 696h0M1273 594h0M1354 635h0M1342 588h0M1305 595h0" stroke="#8dd0df" stroke-width="4.0"/>
<path d="M1295 628h0M1307 783h0M1290 631h0M1309 568h0M1369 590h0M1286 627h0M1264 768h0M1283 767h0M1272 618h0M1342 650h0M1333 700h0M1294 697h0M1353 650h0M1334 717h0M1274 792h0M1282 778h0M1342 703h0M1340 616h0M1276 589h0M1277 610h0M1257 647h0M1261 705h0M1245 684h0M1247 663h0M1369 670h0M1299 582h0M1328 646h0M1283 628h0M1317 560h0M1311 653h0M1351 620h0" stroke="#9784bd" stroke-width="4.0"/>
<path d="M1282 783h0M1311 690h0M1319 700h0M1262 722h0M1323 669h0M1341 693h0M1359 679h0M1358 634h0M1279 765h0M1263 658h0M1261 696h0M1343 650h0M1347 698h0M1347 695h0M1314 578h0M1290 744h0M1310 568h0M1323 723h0M1228 677h0M1280 595h0M1346 656h0M1293 735h0M1284 603h0M1269 638h0M1317 622h0M1343 663h0M1375 603h0M1314 653h0M1342 678h0M1327 623h0M1304 677h0M1265 644h0M1258 638h0M1261 641h0M1349 605h0M1235 628h0M1341 637h0M1338 639h0M1290 626h0M1293 637h0M1286 621h0M1334 579h0M1349 693h0M1317 595h0M1332 641h0M1242 699h0M1293 643h0M1342 637h0M1255 662h0M1365 646h0M1246 672h0M1276 638h0M1246 702h0M1280 744h0M1232 701h0M1326 668h0M1296 719h0M1282 737h0M1293 575h0M1308 675h0M1289 569h0" stroke="#b66cb0" stroke-width="4.0"/>
<path d="M1277 745h0M1291 624h0M1327 566h0M1361 577h0M1318 687h0M1314 649h0M1319 652h0M1255 657h0M1236 680h0M1314 695h0M1375 623h0M1290 750h0M1324 644h0M1321 750h0M1298 577h0M1309 623h0M1231 691h0M1332 742h0M1356 659h0M1263 726h0M1330 630h0M1297 801h0M1321 660h0M1296 582h0M1291 647h0M1261 729h0M1316 577h0M1318 621h0M1280 797h0M1342 581h0M1265 614h0M1264 782h0M1229 643h0M1281 679h0M1354 704h0M1227 665h0M1254 696h0M1275 703h0M1369 606h0M1310 572h0M1302 789h0M1291 626h0M1305 714h0M1364 612h0M1339 567h0M1268 799h0M1321 622h0M1268 662h0M1279 580h0M1300 751h0M1296 627h0M1287 718h0M1321 722h0M1279 587h0M1282 786h0M1302 723h0M1257 622h0M1292 756h0M1251 764h0M1350 714h0M1248 754h0M1281 583h0M1301 684h0M1290 679h0M1273 772h0M1338 615h0M1333 647h0M1263 792h0M1272 756h0M1352 579h0M1367 624h0" stroke="#80bf5b" stroke-width="4.0"/>
<path d="M1297 690h0M1329 659h0M1235 715h0M1251 616h0M1313 728h0M1308 616h0M1251 677h0M1276 638h0M1263 744h0M1352 658h0M1308 597h0M1373 629h0M1322 700h0M1293 595h0M1345 686h0M1310 714h0M1297 675h0M1303 710h0M1294 622h0" stroke="#1f8b46" stroke-width="4.0"/>
<path d="M1286 774h0M1351 687h0M1317 742h0M1339 602h0M1270 589h0M1313 596h0M1349 567h0M1293 699h0M1264 676h0M1328 731h0M1359 632h0M1301 729h0M1255 678h0M1304 729h0M1256 614h0M1288 793h0M1305 584h0M1307 634h0M1249 700h0M1346 569h0M1263 694h0M1300 755h0M1233 707h0M1273 727h0M1287 614h0M1314 692h0M1365 649h0M1322 716h0M1302 598h0M1350 655h0M1276 585h0M1282 796h0M1335 623h0M1353 645h0M1346 712h0M1356 702h0M1297 715h0M1299 690h0M1318 561h0M1299 702h0M1327 658h0M1293 766h0M1283 749h0M1373 601h0M1357 593h0M1366 672h0M1318 741h0M1244 729h0M1327 647h0M1277 619h0M1380 617h0M1310 699h0M1315 768h0M1314 651h0M1354 710h0M1350 609h0M1297 673h0M1322 562h0M1314 668h0" stroke="#c9222b" stroke-width="4.0"/>
<path d="M1272 801h0M1352 618h0M1360 644h0M1256 749h0M1289 620h0M1340 675h0M1330 580h0M1267 607h0M1266 699h0M1375 626h0M1256 707h0M1266 613h0M1255 735h0M1253 760h0M1289 674h0M1341 640h0M1341 676h0M1258 782h0M1337 675h0M1294 582h0M1277 789h0M1311 768h0M1257 713h0M1320 564h0M1276 675h0M1366 643h0M1240 703h0M1249 632h0M1311 610h0M1305 682h0M1349 604h0M1368 580h0M1314 591h0M1286 632h0M1313 614h0M1277 692h0M1333 685h0M1359 603h0M1247 649h0M1261 772h0M1372 605h0M1345 631h0M1278 618h0M1260 597h0M1352 579h0M1268 724h0M1253 662h0M1345 706h0M1327 704h0M1295 597h0M1348 624h0M1350 623h0M1362 683h0M1286 648h0M1266 590h0M1335 722h0M1281 640h0M1297 642h0M1330 665h0M1372 599h0M1297 801h0M1255 634h0M1380 620h0M1293 580h0M1314 679h0M1286 765h0M1330 704h0M1346 594h0M1318 589h0M1241 656h0M1263 668h0M1284 764h0M1277 796h0M1309 766h0M1321 693h0" stroke="#c9222b" stroke-width="4.0"/>
<path d="M1272 639h0M1334 626h0M1323 755h0M1232 655h0M1277 583h0M1271 637h0M1284 795h0M1349 638h0M1323 733h0M1270 769h0M1277 756h0M1292 590h0M1295 585h0M1270 669h0M1279 746h0M1250 610h0M1362 650h0M1325 647h0M1253 734h0M1292 667h0M1303 791h0M1291 592h0M1330 662h0M1277 650h0M1344 598h0M1243 650h0M1375 599h0M1309 752h0M1341 708h0M1304 622h0M1363 630h0M1359 606h0M1333 598h0M1336 677h0M1364 593h0M1297 647h0M1261 649h0M1356 703h0M1311 617h0M1320 585h0M1290 739h0M1343 579h0M1305 601h0M1355 590h0M1356 622h0M1332 641h0M1350 655h0M1324 637h0M1298 707h0M1375 634h0M1304 638h0M1303 655h0M1299 798h0M1238 663h0M1290 800h0M1291 711h0M1313 756h0M1294 605h0M1364 587h0M1328 606h0M1277 712h0M1334 659h0M1304 610h0M1355 698h0M1288 585h0M1282 785h0M1345 653h0M1338 664h0" stroke="#80bf5b" stroke-width="4.0"/>
<path d="M1248 637h0M1292 575h0M1312 696h0M1234 638h0M1266 760h0M1337 735h0M1274 684h0M1345 644h0M1286 782h0M1284 600h0" stroke="#f1dc24" stroke-width="4.0"/>
<path d="M1248 633h0M1236 716h0M1240 698h0M1254 605h0M1300 708h0M1312 611h0M1326 724h0M1320 648h0M1282 616h0M1284 783h0M1371 610h0M1264 702h0M1374 642h0M1341 626h0M1353 642h0M1286 616h0" stroke="#1f8b46" stroke-width="4.0"/>
<path d="M1275 727h0M1229 659h0M1307 674h0M1265 760h0M1335 590h0M1325 729h0M1251 644h0M1324 642h0M1336 604h0M1276 785h0M1323 586h0M1298 714h0M1335 725h0M1229 678h0M1243 677h0M1303 760h0M1319 656h0M1249 757h0M1278 706h0M1299 768h0M1315 645h0M1331 583h0M1335 688h0M1273 627h0M1344 705h0M1328 722h0M1229 673h0M1322 712h0M1344 633h0M1336 698h0M1289 639h0M1351 633h0M1242 703h0M1292 624h0M1326 692h0M1309 612h0M1341 652h0M1246 662h0M1302 782h0M1286 638h0M1310 763h0M1344 637h0M1334 696h0M1260 755h0M1296 766h0M1253 698h0M1316 741h0M1345 694h0M1284 636h0M1286 708h0M1352 640h0M1261 745h0M1328 567h0M1265 645h0M1269 798h0M1307 707h0M1343 650h0M1262 756h0M1274 797h0" stroke="#3cb39f" stroke-width="4.0"/>
<path d="M1330 593h0M1286 623h0M1261 708h0M1304 615h0M1294 609h0M1285 593h0M1284 656h0M1325 666h0M1268 654h0M1293 652h0M1310 627h0M1320 572h0M1296 672h0M1365 616h0M1265 781h0M1334 719h0M1283 795h0M1255 622h0M1283 603h0M1270 766h0M1326 750h0M1350 683h0M1351 718h0M1366 634h0M1296 605h0M1268 763h0M1233 645h0M1302 589h0M1312 637h0M1325 604h0M1287 605h0M1287 795h0M1272 681h0M1328 745h0M1335 697h0M1317 565h0" stroke="#9784bd" stroke-width="4.0"/>
<path d="M1290 606h0M1323 720h0M1328 730h0M1344 668h0M1327 644h0M1253 674h0M1260 656h0M1268 734h0M1274 697h0M1339 579h0M1298 620h0M1247 670h0M1235 662h0M1335 583h0M1247 625h0M1303 791h0M1351 585h0M1235 698h0M1327 695h0M1278 781h0M1326 626h0M1346 650h0M1341 692h0M1303 633h0M1353 690h0M1362 585h0M1310 630h0M1316 571h0M1246 721h0M1231 678h0M1324 626h0M1342 603h0M1341 681h0M1363 631h0M1292 688h0M1311 684h0M1360 676h0M1267 783h0M1313 664h0M1237 663h0M1279 651h0M1285 754h0M1288 695h0M1322 599h0M1260 703h0M1275 694h0M1248 746h0M1295 753h0M1334 688h0M1326 722h0M1306 606h0M1310 572h0M1352 699h0M1289 689h0M1244 651h0M1363 680h0M1295 780h0M1264 615h0M1268 638h0M1281 642h0M1272 717h0M1275 727h0M1296 668h0M1253 606h0M1256 677h0M1364 609h0M1277 633h0M1245 666h0M1293 666h0M1268 706h0M1271 658h0M1292 734h0M1290 613h0M1263 752h0M1248 659h0M1307 755h0M1372 593h0M1274 770h0M1375 636h0M1319 588h0" stroke="#e97b2f" stroke-width="4.0"/>
<path d="M1228 673h0M1323 608h0M1256 635h0M1239 698h0M1252 627h0M1342 586h0M1358 689h0M1333 738h0M1280 704h0M1285 679h0M1298 787h0M1289 626h0M1308 771h0M1308 674h0M1287 662h0M1344 643h0M1300 702h0M1346 643h0M1284 757h0M1323 642h0M1368 640h0M1312 696h0M1311 782h0M1278 637h0M1313 562h0M1289 690h0M1253 770h0M1305 754h0M1245 670h0M1315 750h0M1339 712h0M1319 695h0M1344 585h0M1282 706h0M1291 758h0M1344 710h0M1299 599h0M1262 733h0M1310 770h0M1333 643h0M1316 680h0M1298 641h0M1362 639h0M1350 679h0M1321 594h0M1342 609h0M1295 648h0" stroke="#b66cb0" stroke-width="4.0"/>
<path d="M1370 639h0M1334 667h0M1273 596h0M1359 700h0M1289 792h0M1290 722h0M1310 630h0M1290 589h0M1339 583h0M1265 619h0M1282 704h0M1320 614h0M1285 700h0M1363 637h0M1259 752h0M1297 707h0M1357 700h0M1333 594h0M1287 759h0M1312 663h0M1329 690h0M1311 573h0M1278 798h0M1332 648h0M1238 696h0M1304 670h0M1232 666h0M1259 650h0M1274 654h0M1271 635h0M1253 660h0M1351 626h0M1313 645h0M1249 702h0M1293 574h0M1343 630h0M1285 787h0M1269 728h0M1257 701h0M1357 639h0M1327 635h0M1262 784h0M1281 589h0M1295 630h0M1263 747h0M1291 591h0M1297 712h0M1374 628h0M1276 733h0M1294 762h0M1321 586h0M1313 647h0M1349 581h0M1343 633h0M1351 609h0M1299 623h0M1357 669h0M1302 567h0M1340 577h0M1362 607h0M1324 644h0M1336 632h0M1261 624h0M1281 643h0M1282 604h0M1361 644h0M1264 735h0M1274 607h0M1270 621h0M1336 723h0M1360 603h0M1317 565h0M1321 765h0M1310 650h0M1323 583h0M1244 654h0M1247 732h0M1262 651h0M1356 624h0M1355 605h0M1335 592h0M1321 702h0M1284 640h0M1237 674h0M1335 729h0M1256 721h0M1242 648h0M1328 655h0M1264 685h0M1285 601h0M1283 695h0M1318 724h0M1291 638h0M1285 705h0M1262 615h0M1300 569h0M1342 643h0M1259 768h0M1278 714h0M1327 657h0M1311 577h0M1291 733h0M1306 740h0M1317 666h0M1246 631h0M1286 669h0M1330 597h0M1332 660h0M1312 733h0" stroke="#252d6c" stroke-width="4.0"/>
<path d="M1365 615h0M1261 788h0M1337 621h0M1233 686h0M1359 620h0M1287 719h0M1285 627h0M1350 711h0M1240 665h0M1325 587h0M1260 763h0M1285 785h0M1242 690h0M1277 675h0M1282 760h0M1277 729h0M1244 725h0M1263 705h0M1258 707h0M1319 621h0M1311 598h0M1334 677h0M1347 632h0M1291 727h0M1325 749h0M1321 755h0M1307 783h0M1296 592h0M1339 608h0M1278 705h0M1298 779h0M1315 723h0M1300 672h0M1306 561h0M1310 569h0M1319 654h0M1254 731h0M1287 655h0M1261 771h0M1346 668h0M1247 741h0M1298 600h0M1338 576h0M1276 588h0M1353 620h0M1313 691h0M1293 603h0M1312 697h0M1278 691h0M1235 692h0" stroke="#7e1b21" stroke-width="4.0"/>
<path d="M1312 616h0M1291 745h0M1267 757h0M1270 647h0M1312 779h0M1313 753h0M1355 686h0M1283 628h0M1267 657h0M1272 637h0M1338 639h0M1304 589h0M1283 727h0M1325 659h0M1258 698h0M1351 633h0M1286 793h0M1351 570h0M1331 703h0M1299 648h0M1366 680h0M1286 702h0M1294 574h0M1235 684h0M1269 668h0M1324 731h0M1275 697h0M1275 740h0M1277 596h0M1296 631h0M1315 589h0M1263 638h0M1278 663h0M1262 726h0M1257 762h0M1277 780h0M1381 618h0M1316 698h0M1363 583h0M1260 727h0M1341 699h0M1257 698h0M1353 612h0M1347 623h0M1260 758h0M1315 606h0M1245 756h0M1253 620h0" stroke="#8dd0df" stroke-width="4.0"/>
<path d="M1310 722h0M1236 679h0M1266 610h0M1306 613h0M1317 658h0M1337 739h0M1289 612h0M1304 574h0M1307 716h0M1312 612h0M1287 674h0M1283 582h0" stroke="#6b4b9f" stroke-width="4.0"/>
<path d="M1313 670h0M1332 601h0M1326 657h0M1280 707h0M1286 800h0M1352 608h0M1313 603h0M1312 731h0M1281 639h0M1306 565h0M1232 690h0M1348 601h0M1292 723h0M1322 753h0M1311 601h0M1245 720h0M1234 703h0" stroke="#e8797d" stroke-width="4.0"/>
<path d="M1306 645h0M1365 587h0M1321 605h0M1368 630h0M1335 611h0M1350 631h0M1314 774h0M1238 692h0M1283 593h0M1332 664h0M1260 728h0M1292 805h0M1270 601h0M1293 801h0M1237 643h0M1335 705h0M1312 662h0M1284 759h0M1318 724h0M1323 670h0M1349 714h0M1259 665h0M1339 654h0M1329 695h0M1286 735h0M1299 770h0M1253 729h0M1251 765h0M1293 637h0M1300 696h0M1374 633h0M1244 690h0M1250 743h0M1243 682h0M1339 591h0M1377 640h0M1324 609h0M1342 700h0M1255 639h0M1366 609h0M1342 723h0M1253 639h0M1325 730h0M1246 621h0M1273 751h0M1301 582h0M1297 790h0M1284 655h0M1350 683h0M1329 596h0M1253 746h0M1331 580h0M1251 749h0M1303 644h0M1285 666h0M1248 747h0M1316 743h0M1251 728h0M1252 752h0M1259 693h0M1283 655h0M1286 705h0M1304 749h0M1285 649h0M1314 665h0M1298 741h0M1251 728h0M1326 665h0M1265 629h0M1301 639h0M1287 568h0M1316 670h0M1296 596h0" stroke="#8b9bcb" stroke-width="4.0"/>
<path d="M1297 778h0M1300 769h0M1246 741h0M1257 755h0M1280 761h0M1256 766h0M1293 775h0M1295 785h0M1294 767h0M1256 773h0M1258 763h0M1264 761h0" stroke="#8dd0df" stroke-width="4.0"/>
<path d="M1251 759h0M1258 756h0M1292 745h0M1306 768h0M1283 761h0M1302 797h0M1270 753h0M1280 774h0M1317 761h0M1271 772h0M1283 760h0M1269 783h0M1265 772h0M1299 797h0M1273 781h0M1250 759h0M1256 768h0M1300 767h0M1298 766h0M1307 781h0M1265 793h0M1297 758h0M1258 756h0M1262 744h0M1309 773h0M1261 757h0M1250 742h0M1267 776h0M1267 758h0M1264 761h0M1276 770h0M1284 785h0M1278 759h0" stroke="#e97b2f" stroke-width="4.0"/>
<path d="M1312 761h0M1264 751h0M1269 755h0M1291 751h0M1283 752h0M1296 770h0M1272 741h0M1283 778h0M1267 778h0M1265 738h0M1241 743h0M1303 775h0M1285 748h0M1261 792h0M1299 754h0M1246 741h0M1269 756h0" stroke="#c9222b" stroke-width="4.0"/>
<path d="M1276 768h0M1296 742h0M1269 753h0M1262 755h0M1304 784h0M1261 744h0M1308 763h0M1293 779h0M1306 781h0M1272 758h0M1286 763h0" stroke="#80bf5b" stroke-width="4.0"/>
<path d="M1294 765h0M1265 775h0M1308 765h0M1297 789h0M1289 753h0M1312 753h0M1310 770h0M1277 798h0M1294 749h0M1261 771h0" stroke="#8b9bcb" stroke-width="4.0"/>
<path d="M1308 765h0M1257 752h0M1274 773h0M1259 755h0M1294 796h0M1245 763h0M1262 757h0M1264 775h0M1282 792h0M1272 806h0M1254 775h0M1281 803h0M1264 756h0M1262 774h0M1298 779h0M1271 796h0M1319 767h0M1260 765h0M1288 755h0M1293 779h0M1316 780h0M1282 772h0M1263 758h0M1280 804h0M1282 798h0M1290 770h0M1300 779h0M1271 799h0M1287 744h0M1302 770h0M1253 759h0M1296 754h0M1310 793h0M1297 773h0M1284 779h0" stroke="#7e1b21" stroke-width="4.0"/>
<path d="M1259 747h0M1255 745h0M1291 783h0M1260 740h0M1250 774h0M1274 738h0M1274 757h0M1278 795h0M1278 767h0" stroke="#252d6c" stroke-width="4.0"/>
<path d="M1307 752h0M1301 781h0M1284 795h0M1243 745h0M1285 783h0M1274 779h0M1310 759h0M1277 765h0M1282 779h0" stroke="#80bf5b" stroke-width="4.0"/>
<path d="M1320 774h0M1303 797h0M1270 757h0M1272 752h0M1264 751h0M1294 788h0M1281 800h0M1267 775h0M1300 780h0" stroke="#8b9bcb" stroke-width="4.0"/>
<path d="M1271 781h0M1281 752h0M1304 755h0M1271 758h0M1303 793h0M1308 791h0M1252 770h0M1268 791h0M1291 751h0M1254 769h0" stroke="#8dd0df" stroke-width="4.0"/>
<path d="M1250 768h0M1245 754h0M1249 762h0M1277 780h0M1313 755h0M1295 786h0M1307 765h0M1278 749h0M1300 788h0M1277 751h0M1279 798h0M1242 741h0M1315 763h0M1266 787h0M1267 766h0M1274 785h0M1314 776h0M1285 763h0M1244 749h0M1255 771h0M1292 782h0M1308 763h0M1272 747h0M1266 788h0M1251 738h0M1259 768h0M1300 753h0M1272 753h0" stroke="#e97b2f" stroke-width="4.0"/>
<path d="M1299 769h0M1286 789h0M1296 769h0M1272 745h0M1251 737h0M1239 745h0M1297 776h0M1273 793h0M1287 753h0M1303 782h0M1322 775h0M1267 779h0M1276 746h0" stroke="#c9222b" stroke-width="4.0"/>
<path d="M1317 767h0M1284 757h0M1277 785h0M1246 755h0M1257 758h0M1308 777h0M1296 790h0" stroke="#252d6c" stroke-width="4.0"/>
<path d="M1314 758h0M1277 775h0M1264 757h0M1290 784h0M1284 792h0M1252 751h0M1312 777h0M1265 791h0M1299 797h0M1277 777h0M1301 776h0M1278 786h0M1268 748h0M1308 767h0M1286 797h0M1296 788h0M1271 800h0M1263 761h0M1266 750h0M1310 756h0M1307 789h0M1270 753h0M1313 762h0M1277 784h0M1270 800h0M1306 766h0M1300 776h0M1253 764h0M1304 749h0M1264 791h0M1267 790h0M1254 770h0M1284 748h0M1285 765h0M1257 738h0M1310 792h0M1286 742h0M1284 763h0M1305 793h0M1305 783h0M1291 749h0M1249 757h0M1304 775h0M1283 768h0M1256 759h0M1239 745h0M1253 753h0M1308 764h0M1248 759h0M1298 794h0M1310 754h0" stroke="#7e1b21" stroke-width="4.0"/>
<path d="M1273 765h0M1289 804h0M1302 768h0M1281 799h0M1254 749h0M1288 776h0M1276 764h0M1283 766h0M1257 748h0M1272 768h0M1309 761h0M1291 798h0M1298 763h0M1261 773h0M1309 781h0" stroke="#80bf5b" stroke-width="4.0"/>
<path d="M1307 781h0M1281 791h0M1256 772h0M1286 742h0M1267 749h0M1271 793h0M1304 797h0M1242 748h0M1289 787h0M1285 760h0M1313 785h0M1295 760h0M1294 802h0M1295 785h0M1292 743h0M1264 750h0" stroke="#8b9bcb" stroke-width="4.0"/>
<path d="M1314 761h0M1283 802h0M1294 777h0M1278 791h0M1272 785h0M1255 747h0M1253 760h0M1292 796h0M1292 749h0M1276 762h0M1316 772h0M1300 781h0M1255 763h0M1286 785h0" stroke="#252d6c" stroke-width="4.0"/>
<path d="M1301 758h0M1281 752h0M1247 743h0M1293 786h0M1302 756h0M1258 751h0M1259 745h0M1268 767h0M1307 784h0M1291 764h0M1283 808h0M1276 740h0M1245 766h0M1267 746h0M1305 777h0M1315 773h0M1256 769h0M1259 773h0M1258 737h0M1282 794h0M1257 745h0M1284 753h0M1289 759h0M1269 742h0M1289 775h0M1290 755h0M1289 757h0M1296 777h0M1317 771h0M1268 798h0M1274 780h0M1268 745h0M1273 756h0" stroke="#7e1b21" stroke-width="4.0"/>
<path d="M1271 790h0M1293 785h0M1256 741h0M1291 778h0M1273 757h0M1246 749h0M1266 769h0M1266 792h0M1246 747h0M1270 785h0M1301 750h0M1272 747h0M1300 774h0M1254 756h0M1281 772h0M1257 757h0M1297 790h0M1288 797h0M1288 745h0M1245 757h0M1291 789h0M1246 745h0M1305 775h0M1263 763h0M1309 763h0M1252 749h0M1275 779h0" stroke="#e97b2f" stroke-width="4.0"/>
<path d="M1272 751h0M1259 751h0M1263 736h0M1263 765h0M1268 751h0M1264 759h0M1285 783h0M1273 800h0" stroke="#8dd0df" stroke-width="4.0"/>
<path d="M1264 771h0M1305 775h0M1279 800h0M1285 789h0M1289 752h0M1302 751h0M1262 758h0M1303 782h0M1304 756h0M1298 778h0M1283 754h0M1303 762h0M1288 783h0" stroke="#c9222b" stroke-width="4.0"/>
<path d="M1297 582h0M1343 583h0M1351 574h0M1338 599h0M1325 578h0M1343 600h0M1317 570h0M1358 609h0M1332 583h0M1377 611h0M1297 561h0M1341 579h0M1313 579h0M1311 575h0M1332 592h0M1342 583h0M1373 602h0M1308 585h0M1304 572h0M1336 575h0M1364 589h0M1332 597h0M1297 582h0M1358 603h0M1283 572h0M1330 571h0M1325 576h0M1318 573h0" stroke="#b66cb0" stroke-width="4.0"/>
<path d="M1321 592h0M1336 590h0M1311 569h0M1358 581h0M1313 591h0M1364 598h0M1289 570h0M1334 574h0M1364 587h0" stroke="#252d6c" stroke-width="4.0"/>
<path d="M1356 576h0M1376 606h0M1312 581h0M1322 571h0M1285 565h0M1318 590h0M1305 570h0M1353 600h0M1300 562h0M1342 595h0M1316 597h0M1338 585h0M1341 607h0M1332 568h0M1361 603h0M1356 586h0M1292 568h0M1346 571h0M1321 567h0M1296 565h0M1312 593h0" stroke="#8b9bcb" stroke-width="4.0"/>
<path d="M1322 587h0M1315 591h0M1337 562h0M1333 581h0M1281 571h0M1343 581h0M1301 569h0M1343 592h0M1302 584h0M1357 603h0M1326 565h0" stroke="#e97b2f" stroke-width="4.0"/>
<path d="M1319 567h0M1342 587h0M1363 593h0M1317 596h0M1292 563h0M1375 612h0M1331 578h0M1329 567h0M1354 598h0M1351 581h0M1328 563h0M1351 591h0M1307 575h0M1306 589h0M1372 610h0M1313 571h0M1356 599h0M1367 602h0M1327 577h0M1329 565h0M1293 575h0" stroke="#9784bd" stroke-width="4.0"/>
<path d="M1342 573h0M1323 602h0M1311 575h0M1343 592h0M1296 565h0M1336 583h0M1346 572h0M1334 591h0M1363 594h0M1332 575h0M1286 569h0M1280 567h0M1368 605h0M1329 566h0M1288 574h0M1292 583h0M1326 567h0M1308 562h0M1348 600h0M1318 590h0M1325 570h0M1352 581h0M1332 571h0M1315 567h0M1368 586h0M1348 568h0M1333 581h0M1331 583h0M1306 561h0M1357 606h0" stroke="#80bf5b" stroke-width="4.0"/>
<path d="M1318 579h0M1343 571h0M1288 577h0M1326 572h0M1323 588h0M1360 588h0M1344 582h0M1321 590h0M1339 588h0M1331 571h0M1323 564h0M1303 588h0M1368 596h0M1312 566h0M1359 601h0M1353 603h0M1302 585h0M1294 565h0M1299 572h0M1316 569h0M1349 593h0M1338 573h0M1321 571h0M1306 561h0M1287 570h0M1297 586h0M1334 578h0M1313 575h0M1371 594h0M1370 598h0" stroke="#e97b2f" stroke-width="4.0"/>
<path d="M1303 589h0M1313 575h0M1333 572h0M1298 576h0M1373 590h0M1316 567h0M1344 598h0M1318 569h0M1355 605h0M1332 586h0M1348 596h0M1344 595h0M1374 592h0M1339 582h0M1350 575h0M1330 585h0M1330 559h0M1284 571h0M1334 566h0M1288 576h0M1337 575h0M1290 570h0M1321 590h0" stroke="#b66cb0" stroke-width="4.0"/>
<path d="M1350 603h0M1321 584h0M1348 583h0M1313 574h0M1364 606h0M1332 592h0M1341 567h0M1310 565h0M1295 574h0M1332 575h0M1317 593h0M1341 582h0M1365 600h0M1330 580h0M1347 598h0M1315 585h0M1287 566h0M1348 577h0M1352 583h0M1323 594h0M1291 567h0M1371 602h0M1334 606h0M1355 579h0M1339 587h0M1317 593h0M1375 605h0M1319 574h0M1337 590h0M1314 567h0" stroke="#8b9bcb" stroke-width="4.0"/>
<path d="M1322 598h0M1302 584h0M1377 603h0M1285 567h0M1334 569h0M1353 582h0M1347 590h0M1352 604h0M1317 585h0M1361 600h0M1298 579h0" stroke="#9784bd" stroke-width="4.0"/>
<path d="M1356 576h0M1308 576h0M1316 591h0M1285 574h0M1305 573h0M1339 592h0M1291 572h0M1298 565h0M1301 574h0M1355 584h0M1369 594h0M1306 575h0M1331 584h0" stroke="#252d6c" stroke-width="4.0"/>
<path d="M1351 591h0M1325 561h0M1310 595h0M1306 569h0M1338 583h0M1310 564h0M1324 592h0M1342 581h0M1303 575h0M1359 603h0M1350 587h0M1347 604h0M1289 570h0" stroke="#80bf5b" stroke-width="4.0"/>
<path d="M1321 575h0M1371 588h0M1364 604h0M1301 578h0M1351 609h0M1349 576h0M1331 583h0M1341 586h0M1356 581h0M1356 579h0M1311 578h0M1363 593h0" stroke="#9784bd" stroke-width="4.0"/>
<path d="M1364 587h0M1354 609h0M1322 586h0M1367 599h0M1300 577h0M1299 584h0M1312 575h0M1332 561h0M1364 591h0M1317 567h0M1324 559h0M1350 593h0M1327 606h0M1332 566h0M1286 565h0M1346 575h0M1298 560h0M1323 587h0M1312 583h0M1352 605h0M1351 600h0M1345 576h0M1316 593h0M1342 569h0M1328 569h0M1327 580h0M1340 582h0M1326 602h0M1315 565h0M1368 608h0M1349 595h0M1331 591h0M1304 581h0M1286 575h0M1373 598h0M1323 583h0" stroke="#8b9bcb" stroke-width="4.0"/>
<path d="M1326 599h0M1315 587h0M1327 602h0M1375 596h0M1317 570h0M1343 587h0M1378 605h0M1372 609h0M1336 602h0M1308 569h0M1353 593h0" stroke="#252d6c" stroke-width="4.0"/>
<path d="M1374 597h0M1347 604h0M1299 587h0M1348 571h0M1331 565h0M1332 562h0M1324 563h0M1304 592h0M1311 566h0M1371 594h0M1372 597h0M1325 572h0M1330 588h0M1324 559h0M1325 584h0M1363 595h0M1368 609h0M1332 570h0M1365 589h0M1358 607h0" stroke="#b66cb0" stroke-width="4.0"/>
<path d="M1354 573h0M1299 568h0M1338 591h0M1313 582h0M1334 571h0M1298 577h0M1351 586h0M1316 588h0M1313 574h0M1339 602h0M1305 574h0M1316 579h0M1345 580h0M1332 589h0M1337 597h0M1331 575h0" stroke="#80bf5b" stroke-width="4.0"/>
<path d="M1312 565h0M1288 576h0M1303 589h0M1294 565h0M1363 609h0M1324 573h0M1287 570h0M1323 599h0M1315 576h0M1378 605h0M1365 581h0M1311 588h0M1330 583h0M1323 591h0M1321 591h0M1371 592h0M1331 590h0M1335 597h0M1365 609h0M1325 573h0M1349 575h0M1309 569h0M1303 588h0M1329 595h0M1296 567h0" stroke="#e97b2f" stroke-width="4.0"/>
<path d="M1085 542h0M1123 545h0M1120 539h0M1040 551h0M1063 525h0M1073 556h0" stroke="#3cb39f" stroke-width="4.0"/>
<path d="M1078 567h0M1078 534h0M1094 575h0M1116 557h0M1061 528h0M1045 547h0M1059 533h0M1047 568h0M1125 545h0" stroke="#8b9bcb" stroke-width="4.0"/>
<path d="M1044 554h0M1068 570h0M1059 534h0M1076 537h0M1057 520h0M1068 550h0M1122 550h0M1080 556h0" stroke="#252d6c" stroke-width="4.0"/>
<path d="M1088 567h0M1101 551h0" stroke="#1f8b46" stroke-width="4.0"/>
<path d="M1078 572h0M1123 550h0M1043 543h0M1088 545h0M1068 573h0M1120 539h0M1063 520h0M1077 525h0M1102 565h0M1103 528h0M1092 542h0M1091 556h0M1110 535h0M1114 544h0M1117 539h0" stroke="#9784bd" stroke-width="4.0"/>
<path d="M1225 735h0M1201 701h0M1210 709h0M1208 723h0M1208 704h0M1220 685h0M1222 710h0M1219 714h0M1213 709h0M1229 714h0M1221 698h0" stroke="#3cb39f" stroke-width="4.0"/>
<path d="M1201 723h0M1231 715h0M1207 747h0M1222 681h0M1219 744h0M1212 748h0" stroke="#e97b2f" stroke-width="4.0"/>
<path d="M1232 701h0M1206 744h0M1198 707h0M1231 707h0M1203 690h0" stroke="#c9222b" stroke-width="4.0"/>
<path d="M1047 829h0M1103 776h0M1076 808h0M1067 819h0M1058 798h0M1055 815h0M1034 793h0M1030 812h0M1109 797h0M1037 799h0M1014 821h0M1118 815h0M1102 804h0M1100 765h0M1076 805h0M1078 830h0M1049 825h0M1095 786h0" stroke="#9784bd" stroke-width="4.0"/>
<path d="M1035 823h0M1090 784h0M1034 816h0M1057 795h0M1121 826h0M1068 839h0M1128 808h0M1108 763h0M1086 792h0M1034 836h0" stroke="#8b9bcb" stroke-width="4.0"/>
<path d="M1046 804h0M1062 792h0M1118 794h0M1073 786h0M1064 788h0M1107 783h0M1060 784h0M1041 804h0M1045 788h0M1103 832h0M1115 800h0M1085 768h0M1074 815h0M1101 775h0M1117 810h0M1107 773h0M1119 792h0M1061 828h0M1057 779h0M1101 817h0M1113 791h0M1029 827h0M1121 815h0M1095 772h0M1043 817h0M1035 843h0M1097 840h0M1102 777h0M1019 810h0M1103 795h0M1104 789h0M1036 815h0M1052 802h0M1086 821h0M1067 833h0M1062 827h0M1119 781h0M1074 823h0M1091 790h0M1128 824h0M1073 836h0M1039 831h0" stroke="#e97b2f" stroke-width="4.0"/>
<path d="M1117 798h0M1106 806h0M1055 787h0M1135 813h0M1053 817h0M1037 819h0M1130 805h0M1050 798h0M1025 815h0M1088 798h0M1120 822h0M1116 812h0M1040 798h0M1021 823h0M1087 787h0M1096 830h0M1057 814h0M1106 776h0M1074 826h0M1040 820h0M1119 807h0M1116 790h0" stroke="#252d6c" stroke-width="4.0"/>
<path d="M1061 833h0M1046 815h0M1095 805h0M1102 836h0M1055 815h0M1052 817h0M1032 811h0M1111 810h0M1113 764h0M1063 832h0M1074 822h0M1049 815h0M1118 771h0M1106 828h0M1041 804h0M1126 810h0M1087 770h0M1101 835h0M1104 803h0M1088 786h0M1067 792h0M1028 818h0M1106 827h0M1118 822h0M1041 787h0M1037 806h0M1059 811h0M1104 829h0M1098 800h0M1039 845h0M1128 819h0M1107 815h0M1110 788h0M1052 830h0M1098 756h0M1081 834h0M1063 794h0M1116 775h0M1089 795h0M1076 769h0M1098 795h0M1113 817h0M1036 822h0M1127 810h0M1026 802h0M1105 801h0M1115 770h0M1106 805h0M1090 800h0M1025 822h0M1030 836h0M1093 797h0M1026 839h0M1014 821h0M1106 808h0M1106 832h0M1027 805h0M1081 818h0M1124 808h0M1108 831h0M1038 833h0M1086 792h0M1095 784h0M1059 802h0M1077 788h0M1048 808h0M1112 784h0M1077 834h0M1097 816h0M1121 808h0M1017 823h0M1024 807h0M1080 841h0M1104 768h0M1072 778h0M1093 782h0M1066 817h0M1048 811h0M1020 828h0M1104 835h0M1058 826h0M1046 821h0M1099 793h0M1083 784h0" stroke="#7e1b21" stroke-width="4.0"/>
<path d="M1039 821h0M1109 805h0M1069 808h0M1084 773h0M1094 784h0M1096 836h0M1097 807h0M1077 820h0M1114 805h0M1061 839h0M1022 830h0M1068 780h0M1122 809h0M1110 762h0M1083 799h0M1119 789h0M1102 778h0M1059 808h0M1071 775h0M1113 775h0M1079 815h0M1054 819h0" stroke="#c9222b" stroke-width="4.0"/>
<path d="M1105 784h0M1098 790h0M1119 820h0M1042 833h0M1028 825h0M1054 828h0M1094 765h0M1085 806h0M1035 806h0" stroke="#80bf5b" stroke-width="4.0"/>
<path d="M1094 794h0M1032 832h0M1068 818h0M1105 816h0M1037 830h0M1127 802h0M1065 786h0M1043 817h0M1022 827h0M1125 803h0" stroke="#3cb39f" stroke-width="4.0"/>
<path d="M1091 777h0M1062 814h0M1053 813h0M1124 810h0M1059 813h0M1120 829h0M1046 831h0M1052 822h0M1105 787h0M1048 800h0M1081 827h0M1039 798h0M1022 805h0M1115 782h0M1097 765h0" stroke="#9784bd" stroke-width="4.0"/>
<path d="M1093 833h0M1114 820h0M1108 770h0M1030 826h0M1087 825h0" stroke="#80bf5b" stroke-width="4.0"/>
<path d="M1104 815h0M1038 797h0M1093 816h0M1096 765h0M1079 838h0M1111 786h0M1108 803h0M1092 801h0M1022 824h0M1114 772h0M1063 816h0M1035 829h0M1055 792h0M1102 798h0M1106 768h0M1100 799h0M1028 799h0" stroke="#3cb39f" stroke-width="4.0"/>
<path d="M1079 793h0M1074 779h0M1074 825h0M1103 777h0M1085 811h0M1053 797h0M1103 820h0M1104 781h0M1027 799h0M1111 800h0M1018 817h0M1071 802h0" stroke="#8b9bcb" stroke-width="4.0"/>
<path d="M1104 831h0M1046 834h0M1058 791h0M1117 823h0M1100 815h0M1063 773h0M1061 784h0M1095 778h0M1061 825h0M1071 770h0M1019 826h0M1075 813h0M1103 811h0M1096 777h0M1032 812h0M1084 838h0M1096 833h0M1130 817h0M1074 834h0M1062 815h0M1118 776h0M1092 788h0" stroke="#252d6c" stroke-width="4.0"/>
<path d="M1098 771h0M1048 819h0M1106 809h0M1072 788h0M1087 768h0M1132 818h0M1078 772h0M1085 770h0M1033 833h0M1088 820h0M1072 810h0M1022 828h0M1053 822h0M1135 815h0M1059 778h0M1117 821h0M1074 811h0M1128 799h0M1099 797h0M1114 789h0M1022 807h0M1054 778h0M1105 780h0M1082 802h0M1028 813h0M1113 816h0M1024 804h0M1071 783h0M1096 782h0M1080 819h0M1094 789h0M1092 785h0M1117 828h0M1072 785h0M1074 800h0M1068 826h0M1032 828h0M1061 782h0M1064 841h0M1026 823h0M1109 822h0M1081 786h0M1064 805h0M1104 831h0M1050 815h0M1052 832h0M1060 789h0M1107 763h0" stroke="#e97b2f" stroke-width="4.0"/>
<path d="M1072 815h0M1111 805h0M1106 830h0M1112 829h0M1098 811h0M1030 821h0M1095 766h0M1106 792h0M1087 763h0M1086 784h0M1100 798h0M1037 839h0M1063 822h0M1063 789h0M1058 782h0M1102 767h0M1050 783h0M1081 800h0M1122 808h0M1123 803h0M1021 820h0M1081 812h0M1115 802h0M1022 825h0" stroke="#c9222b" stroke-width="4.0"/>
<path d="M1067 835h0M1053 821h0M1126 828h0M1124 806h0M1043 784h0M1127 802h0M1070 806h0M1096 803h0M1112 814h0M1113 771h0M1064 776h0M1070 826h0M1055 813h0M1072 782h0M1099 796h0M1088 818h0M1086 801h0M1107 779h0M1099 759h0M1079 776h0M1043 800h0M1121 789h0M1118 816h0M1095 802h0M1105 774h0M1067 799h0M1121 817h0M1024 824h0M1112 801h0M1096 787h0M1125 812h0M1117 769h0M1113 826h0M1062 778h0M1089 765h0M1094 762h0M1122 832h0M1096 825h0M1055 800h0M1053 803h0M1053 821h0M1079 834h0M1047 829h0M1074 837h0M1110 827h0M1075 827h0M1048 788h0M1082 774h0M1091 821h0M1061 810h0M1080 763h0M1132 817h0M1032 840h0M1086 778h0M1097 807h0M1128 829h0M1120 816h0M1118 830h0M1098 828h0M1020 812h0M1091 769h0M1109 786h0M1080 790h0M1022 807h0M1086 758h0M1115 809h0M1128 820h0M1063 800h0M1040 792h0M1104 804h0M1111 780h0M1049 813h0M1044 840h0M1063 797h0" stroke="#7e1b21" stroke-width="4.0"/>
<path d="M1126 797h0M1055 838h0M1059 803h0M1059 781h0M1079 829h0M1036 839h0M1068 819h0M1110 788h0M1101 762h0M1033 791h0M1039 824h0M1048 798h0M1083 793h0M1066 842h0M1066 838h0M1104 788h0M1045 838h0M1072 842h0M1056 797h0M1030 839h0M1095 836h0M1079 808h0M1108 841h0M1105 776h0M1070 817h0M1088 775h0M1046 795h0" stroke="#c9222b" stroke-width="4.0"/>
<path d="M1108 819h0M1052 823h0M1091 771h0M1097 770h0M1030 827h0M1027 806h0M1026 806h0M1047 781h0M1063 825h0M1109 782h0M1023 812h0M1116 781h0M1052 783h0M1087 801h0M1058 832h0M1071 833h0M1036 801h0M1100 832h0M1101 810h0M1113 799h0M1067 768h0M1073 772h0M1101 807h0M1110 829h0M1067 781h0M1125 792h0M1117 769h0M1081 772h0M1062 780h0M1098 827h0M1053 787h0M1113 785h0M1061 804h0M1098 793h0M1039 838h0M1034 824h0M1098 778h0" stroke="#e97b2f" stroke-width="4.0"/>
<path d="M1072 826h0M1086 795h0M1049 813h0M1036 807h0M1030 836h0M1121 787h0M1044 813h0M1097 777h0M1060 789h0M1019 816h0M1046 832h0M1099 789h0M1067 833h0M1041 838h0M1017 821h0M1083 767h0M1117 778h0M1097 764h0" stroke="#252d6c" stroke-width="4.0"/>
<path d="M1057 796h0M1063 765h0M1109 767h0M1064 783h0M1018 826h0M1068 775h0M1037 833h0M1038 832h0M1050 786h0M1058 807h0M1096 828h0M1070 799h0M1083 835h0M1071 816h0M1105 824h0M1117 809h0M1099 799h0M1093 804h0M1049 820h0M1079 789h0M1128 813h0M1093 814h0M1128 803h0M1054 792h0M1058 842h0M1025 817h0M1110 785h0M1112 814h0M1083 819h0M1103 782h0M1064 829h0M1110 834h0M1056 836h0M1106 777h0M1051 803h0M1058 783h0M1123 805h0M1083 788h0M1094 821h0M1112 768h0M1104 765h0M1087 817h0M1119 800h0M1114 807h0M1113 795h0M1097 816h0M1114 815h0M1061 812h0M1043 834h0M1095 815h0M1053 810h0M1051 785h0M1039 840h0M1110 830h0M1079 761h0M1028 823h0M1134 817h0M1116 809h0M1072 819h0M1082 796h0M1115 818h0M1116 809h0M1095 821h0M1122 792h0M1093 779h0M1062 774h0M1125 780h0M1072 799h0M1061 819h0M1085 830h0M1074 775h0M1092 767h0M1122 783h0M1087 817h0M1067 831h0M1116 798h0M1050 836h0M1125 822h0M1046 821h0M1086 813h0M1096 824h0M1036 836h0M1059 784h0M1060 784h0M1077 783h0M1105 811h0M1075 834h0M1034 830h0M1133 812h0M1106 786h0M1065 782h0M1092 833h0M1066 784h0M1091 829h0M1069 828h0" stroke="#7e1b21" stroke-width="4.0"/>
<path d="M1069 777h0M1115 815h0M1083 835h0M1089 811h0M1058 816h0M1034 841h0M1031 794h0M1089 769h0M1080 774h0M1071 829h0" stroke="#3cb39f" stroke-width="4.0"/>
<path d="M1113 775h0M1037 804h0M1080 820h0M1065 808h0M1071 813h0M1025 816h0M1126 814h0M1082 823h0M1097 762h0M1107 813h0M1025 808h0M1103 767h0" stroke="#8b9bcb" stroke-width="4.0"/>
<path d="M1106 801h0M1066 802h0M1034 823h0M1097 838h0M1098 824h0M1073 812h0M1061 829h0M1025 816h0M1126 790h0M1115 776h0M1088 818h0M1114 774h0" stroke="#9784bd" stroke-width="4.0"/>
<path d="M1061 783h0M1028 805h0M1082 789h0M1024 815h0M1109 816h0M1087 767h0" stroke="#80bf5b" stroke-width="4.0"/>
<path d="M1070 770h0M1070 822h0M1055 805h0M1060 798h0M1117 773h0M1094 811h0M1047 806h0M1029 825h0M1052 804h0M1113 787h0M1057 832h0M1077 772h0M1117 810h0M1056 808h0" stroke="#3cb39f" stroke-width="4.0"/>
<path d="M1095 794h0M1119 800h0M1054 837h0M1129 798h0M1064 828h0M1063 817h0M1079 796h0M1060 839h0M1067 791h0M1063 767h0M1128 788h0M1070 779h0M1070 794h0M1067 778h0M1062 824h0M1060 784h0" stroke="#8b9bcb" stroke-width="4.0"/>
<path d="M1101 764h0M1119 818h0M1109 825h0M1079 778h0M1076 806h0M1065 830h0M1124 813h0M1122 796h0M1094 820h0M1045 816h0M1082 773h0M1113 797h0M1103 834h0M1120 819h0M1089 776h0M1088 837h0M1046 807h0M1112 785h0M1084 837h0" stroke="#c9222b" stroke-width="4.0"/>
<path d="M1102 796h0M1035 819h0M1133 808h0M1101 771h0M1126 814h0M1021 824h0M1055 782h0M1062 799h0M1098 806h0M1051 784h0M1057 815h0M1024 824h0M1065 795h0M1045 831h0M1089 815h0M1104 830h0M1118 776h0M1108 779h0M1039 832h0M1111 780h0M1086 767h0M1051 800h0M1101 805h0M1062 801h0M1083 829h0M1123 794h0M1113 771h0M1102 829h0M1088 779h0" stroke="#252d6c" stroke-width="4.0"/>
<path d="M1060 776h0M1065 771h0M1040 822h0M1124 800h0M1085 803h0M1124 817h0M1113 832h0M1054 813h0M1095 780h0M1096 831h0M1083 789h0M1097 768h0M1045 824h0M1073 829h0M1080 789h0M1056 810h0M1112 797h0M1118 778h0M1079 832h0M1064 826h0M1048 831h0M1101 807h0M1077 788h0M1113 791h0M1037 835h0M1040 819h0M1108 766h0M1086 785h0M1121 810h0M1099 803h0M1077 781h0M1078 801h0M1081 814h0M1090 793h0M1103 791h0M1031 810h0M1059 793h0M1043 813h0M1095 823h0M1051 798h0M1077 825h0" stroke="#e97b2f" stroke-width="4.0"/>
<path d="M1036 824h0M1053 828h0M1061 792h0M1052 835h0M1079 769h0M1103 825h0M1045 818h0M1103 790h0M1086 820h0M1056 804h0M1071 808h0M1066 778h0M1047 805h0M1049 811h0M1060 802h0M1087 782h0M1098 804h0M1075 788h0M1056 777h0M1078 765h0M1116 826h0M1098 824h0M1097 811h0M1126 789h0M1079 766h0M1069 808h0M1123 828h0M1064 821h0M1116 767h0M1097 820h0M1095 814h0M1092 807h0M1109 789h0M1078 826h0M1020 828h0M1028 821h0M1074 774h0M1102 810h0M1044 814h0M1126 827h0M1123 817h0M1077 794h0M1060 839h0M1109 783h0M1073 800h0M1098 760h0M1039 826h0M1075 770h0M1112 806h0M1104 818h0M1099 814h0M1108 796h0M1078 801h0M1105 803h0M1074 817h0M1092 830h0M1038 818h0M1055 822h0M1113 781h0M1023 828h0M1091 784h0M1034 826h0M1074 807h0M1078 835h0M1112 812h0M1097 775h0M1108 811h0M1083 794h0M1113 833h0M1117 811h0M1035 807h0M1066 811h0M1118 813h0M1127 803h0M1065 777h0" stroke="#7e1b21" stroke-width="4.0"/>
<path d="M1074 802h0M1050 804h0M1120 803h0M1123 789h0" stroke="#80bf5b" stroke-width="4.0"/>
<path d="M1103 795h0M1086 771h0M1047 784h0M1081 800h0M1128 805h0M1064 770h0M1079 789h0M1092 812h0M1094 825h0M1034 804h0M1133 815h0M1050 814h0M1074 772h0M1019 821h0M1076 837h0M1121 782h0M1092 760h0M1092 828h0M1106 812h0" stroke="#9784bd" stroke-width="4.0"/>
<path d="M1123 798h0M1091 756h0M1100 786h0M1108 835h0M1091 799h0M1106 788h0M1118 791h0M1062 802h0M1106 764h0M1047 801h0M1097 804h0M1090 829h0M1073 769h0M1038 809h0M1116 830h0M1084 787h0M1076 824h0M1055 792h0M1126 827h0M1088 800h0M1104 764h0M1115 773h0M1084 761h0M1040 838h0M1062 832h0M1100 826h0M1121 798h0M1062 778h0M1034 792h0M1028 818h0M1044 838h0M1058 784h0M1091 781h0M1064 825h0M1058 794h0M1127 800h0M1083 817h0M1126 811h0M1134 818h0M1111 767h0M1027 802h0M1095 811h0M1073 810h0M1130 816h0M1072 834h0M1126 791h0M1088 831h0M1072 789h0M1038 796h0M1065 827h0M1102 824h0M1116 790h0M1093 800h0M1076 825h0M1069 838h0M1083 817h0M1075 789h0M1076 774h0M1110 818h0M1095 802h0M1104 812h0M1110 793h0M1090 771h0M1069 817h0M1046 812h0M1108 781h0M1047 842h0M1105 831h0M1074 775h0M1069 804h0M1054 840h0M1052 822h0M1075 838h0M1133 818h0M1122 832h0M1053 786h0M1049 788h0M1102 802h0M1048 782h0M1056 789h0M1071 764h0M1025 836h0M1031 805h0M1090 817h0M1071 844h0" stroke="#7e1b21" stroke-width="4.0"/>
<path d="M1027 799h0M1073 764h0M1083 780h0M1037 809h0M1044 831h0M1067 815h0M1099 798h0M1067 810h0M1087 765h0M1080 817h0M1063 790h0M1062 775h0M1066 815h0M1090 762h0M1044 827h0M1103 800h0M1019 826h0M1022 821h0M1095 803h0M1110 772h0M1092 789h0" stroke="#9784bd" stroke-width="4.0"/>
<path d="M1110 823h0M1095 814h0M1047 812h0M1062 832h0M1086 800h0M1029 801h0M1101 833h0M1117 816h0M1052 800h0M1041 836h0M1060 826h0M1047 840h0M1062 817h0M1079 780h0M1120 797h0M1090 794h0M1110 831h0M1128 808h0M1120 779h0" stroke="#c9222b" stroke-width="4.0"/>
<path d="M1111 778h0M1115 825h0M1096 768h0M1074 776h0M1078 815h0M1084 769h0M1121 785h0M1060 837h0" stroke="#3cb39f" stroke-width="4.0"/>
<path d="M1041 813h0M1062 784h0M1022 822h0M1067 817h0M1049 832h0M1113 789h0M1071 811h0M1076 803h0M1079 806h0M1037 837h0M1108 776h0M1050 822h0M1041 833h0M1063 774h0M1087 833h0M1045 816h0M1069 791h0M1047 800h0M1022 808h0M1039 814h0M1063 802h0M1057 799h0M1028 825h0" stroke="#252d6c" stroke-width="4.0"/>
<path d="M1085 833h0M1056 820h0M1043 786h0M1104 763h0M1028 820h0M1121 782h0M1046 842h0M1117 810h0M1027 805h0M1029 823h0M1098 813h0" stroke="#8b9bcb" stroke-width="4.0"/>
<path d="M1064 832h0M1096 767h0M1082 828h0M1073 777h0M1033 824h0M1124 780h0M1053 809h0M1063 827h0" stroke="#80bf5b" stroke-width="4.0"/>
<path d="M1026 829h0M1067 791h0M1044 836h0M1091 817h0M1116 789h0M1089 817h0M1125 819h0M1119 803h0M1040 824h0M1050 814h0M1032 818h0M1088 827h0M1043 821h0M1101 772h0M1133 822h0M1111 812h0M1092 816h0M1047 829h0M1075 788h0M1025 802h0M1051 784h0M1085 779h0M1089 798h0M1073 790h0M1104 771h0M1130 825h0M1051 796h0M1085 814h0M1070 772h0M1039 800h0M1049 813h0M1028 835h0M1024 826h0M1057 830h0M1126 792h0M1071 810h0M1050 784h0M1107 824h0M1107 831h0M1066 769h0M1093 834h0" stroke="#e97b2f" stroke-width="4.0"/>
<path d="M1022 816h0M1044 820h0M1090 807h0M1069 791h0M1046 825h0M1116 820h0" stroke="#8b9bcb" stroke-width="4.0"/>
<path d="M1095 810h0M1098 828h0M1032 840h0M1102 820h0M1089 807h0M1027 804h0M1119 798h0M1087 827h0M1072 793h0M1107 822h0M1086 829h0M1107 780h0M1124 827h0M1119 807h0M1122 794h0M1072 770h0M1035 830h0M1034 799h0M1063 791h0M1054 818h0M1029 806h0M1044 841h0" stroke="#9784bd" stroke-width="4.0"/>
<path d="M1060 808h0M1114 831h0M1066 819h0M1066 775h0M1052 821h0M1042 787h0M1025 829h0M1109 765h0M1057 819h0M1045 839h0M1060 834h0M1116 834h0M1089 807h0M1115 796h0M1071 764h0M1031 809h0M1037 788h0M1115 788h0" stroke="#c9222b" stroke-width="4.0"/>
<path d="M1061 802h0M1098 837h0M1056 803h0M1064 805h0M1104 768h0M1128 830h0M1097 775h0M1088 775h0M1090 769h0M1074 788h0M1025 818h0M1127 825h0M1073 766h0M1105 784h0M1114 829h0" stroke="#80bf5b" stroke-width="4.0"/>
<path d="M1093 762h0M1116 825h0M1075 838h0M1099 803h0M1130 820h0M1055 800h0M1025 826h0M1127 816h0M1094 774h0M1087 799h0M1116 779h0M1064 809h0M1019 820h0M1054 799h0M1097 778h0M1084 808h0M1113 806h0M1028 821h0M1078 782h0M1101 818h0M1045 838h0M1097 797h0M1090 816h0M1108 809h0M1053 837h0M1027 814h0M1089 784h0M1039 789h0M1087 833h0M1099 819h0M1121 782h0M1082 808h0M1092 819h0M1080 793h0M1016 826h0M1121 782h0M1032 815h0M1064 837h0M1123 792h0M1133 820h0M1112 816h0M1056 811h0M1049 794h0M1082 764h0M1068 826h0M1079 802h0M1111 821h0M1100 800h0M1086 803h0M1048 819h0M1035 836h0M1053 800h0M1035 833h0M1109 795h0M1113 797h0M1036 814h0M1093 765h0M1094 775h0M1063 793h0M1096 771h0M1119 809h0M1109 794h0M1123 802h0M1076 803h0M1132 817h0M1083 821h0M1044 813h0M1071 835h0M1088 808h0M1103 827h0M1114 777h0M1060 833h0M1075 833h0M1121 775h0M1089 834h0M1047 835h0M1075 763h0M1064 786h0M1019 815h0M1068 786h0" stroke="#7e1b21" stroke-width="4.0"/>
<path d="M1069 789h0M1116 812h0M1110 834h0M1047 820h0M1118 809h0M1095 813h0M1020 811h0M1058 782h0M1026 797h0M1072 811h0M1104 817h0M1072 773h0M1116 829h0M1039 830h0M1067 838h0M1113 833h0M1128 823h0M1136 814h0M1054 805h0M1086 825h0M1020 824h0M1074 822h0M1090 765h0M1057 825h0M1032 826h0M1083 770h0M1072 787h0M1119 803h0M1026 820h0M1063 832h0M1029 796h0M1116 789h0M1113 786h0M1062 823h0M1095 794h0M1068 814h0M1040 832h0M1036 835h0" stroke="#e97b2f" stroke-width="4.0"/>
<path d="M1063 836h0M1034 806h0M1045 795h0M1082 788h0M1046 793h0M1085 786h0M1076 771h0M1118 794h0M1055 835h0" stroke="#3cb39f" stroke-width="4.0"/>
<path d="M1098 800h0M1093 807h0M1097 821h0M1076 827h0M1111 816h0M1031 824h0M1072 776h0M1056 808h0M1110 783h0M1019 830h0M1037 799h0M1121 785h0M1063 777h0M1018 810h0M1072 821h0M1108 765h0M1115 787h0M1097 785h0M1087 793h0M1080 760h0M1054 779h0M1099 769h0M1086 829h0M1093 798h0M1040 813h0M1045 839h0M1098 784h0M1114 827h0" stroke="#252d6c" stroke-width="4.0"/>
<path d="M1109 811h0M1107 819h0M1112 810h0M1136 825h0M1134 820h0M1121 803h0M1116 812h0M1124 820h0M1125 822h0M1129 816h0M1107 818h0M1125 803h0M1125 815h0M1135 826h0M1132 825h0" stroke="#c9222b" stroke-width="4.0"/>
<path d="M1115 830h0M1112 815h0M1120 816h0M1117 814h0M1114 819h0M1132 823h0M1114 822h0M1110 812h0M1131 824h0M1122 813h0M1110 822h0M1120 829h0M1133 811h0M1132 827h0M1106 811h0M1105 820h0M1131 809h0M1135 809h0M1133 817h0M1111 819h0M1131 812h0M1122 818h0M1126 819h0M1129 822h0M1121 804h0M1110 813h0M1112 802h0M1119 826h0M1113 814h0M1123 820h0M1134 804h0M1116 809h0M1136 819h0M1121 805h0M1122 818h0M1122 817h0M1134 818h0M1128 825h0M1110 814h0M1122 827h0M1115 815h0M1123 817h0M1112 835h0M1105 807h0M1120 807h0M1127 807h0M1109 816h0M1124 829h0M1124 804h0M1132 813h0M1109 821h0M1129 830h0M1108 830h0M1115 821h0M1116 820h0M1120 802h0M1134 812h0M1134 815h0M1122 801h0M1130 812h0M1135 818h0M1128 802h0M1112 828h0M1112 819h0M1132 804h0" stroke="#e97b2f" stroke-width="4.0"/>
<path d="M1071 770h0M1079 756h0M1071 744h0M1067 739h0M1064 742h0M1065 743h0M1078 768h0M1071 742h0M1068 762h0M1066 737h0M1070 734h0M1076 750h0M1074 757h0M1064 745h0" stroke="#7e1b21" stroke-width="4.0"/>
<path d="M1078 758h0M1065 741h0M1067 762h0" stroke="#3cb39f" stroke-width="4.0"/>
<path d="M1073 762h0M1066 742h0M1064 731h0M1068 733h0M1072 734h0M1074 768h0M1060 740h0M1071 732h0M1071 736h0M1070 751h0M1072 735h0M1076 769h0M1066 757h0M1064 759h0M1065 755h0M1067 764h0M1070 761h0M1077 761h0M1068 747h0M1076 762h0M1067 762h0M1062 740h0M1072 759h0M1078 758h0M1070 766h0M1065 739h0M1065 758h0M1063 728h0" stroke="#e97b2f" stroke-width="4.0"/>
<path d="M1130 748h0M1123 753h0M1113 761h0M1142 747h0M1126 764h0M1102 762h0M1115 765h0M1116 769h0M1128 754h0M1112 760h0M1115 754h0M1119 758h0M1124 755h0M1128 753h0M1100 771h0M1131 752h0M1130 765h0M1123 762h0M1129 763h0M1121 759h0M1140 748h0M1134 752h0M1117 759h0M1130 762h0M1132 761h0M1144 750h0M1112 766h0M1136 756h0M1138 750h0M1134 757h0M1153 739h0M1123 759h0M1122 754h0M1151 749h0" stroke="#e97b2f" stroke-width="4.0"/>
<path d="M1096 768h0M1124 756h0M1132 748h0M1156 750h0M1111 767h0M1111 752h0M1135 746h0M1114 770h0M1154 742h0M1127 767h0M1150 747h0M1109 774h0M1130 769h0M1141 753h0M1115 761h0M1111 767h0M1140 752h0M1134 759h0M1127 758h0M1120 771h0M1143 757h0M1131 750h0M1117 772h0M1115 758h0M1122 763h0M1118 760h0M1104 763h0M1127 761h0" stroke="#8b9bcb" stroke-width="4.0"/>
<path d="M1112 762h0M1134 751h0M1117 774h0M1133 751h0M1111 756h0M1134 760h0M1127 761h0M1142 743h0M1150 747h0M1130 763h0M1130 751h0M1120 767h0" stroke="#252d6c" stroke-width="4.0"/>
<path d="M1094 765h0M1144 753h0M1098 767h0M1121 761h0M1113 760h0M1120 758h0M1115 757h0M1154 748h0M1135 758h0M1137 763h0M1140 747h0M1159 743h0M1155 743h0M1105 776h0M1100 761h0M1100 765h0M1123 757h0M1145 756h0M1138 748h0M1129 760h0M1128 755h0M1136 761h0M1115 763h0M1115 749h0M1114 777h0M1136 750h0M1128 755h0M1117 765h0M1141 754h0M1107 764h0M1128 755h0M1151 755h0M1100 770h0M1152 751h0M1139 751h0M1114 754h0" stroke="#9784bd" stroke-width="4.0"/>
<path d="M1250 1054h0M1249 957h0M1238 957h0M1259 1014h0M1248 1009h0" stroke="#7e1b21" stroke-width="4.0"/>
<path d="M1224 1033h0M1242 981h0M1261 993h0M1268 1011h0M1227 992h0M1269 985h0M1271 999h0M1207 999h0M1253 1024h0M1207 985h0M1216 971h0M1231 987h0M1254 1036h0M1216 976h0M1270 982h0M1217 995h0M1239 970h0M1237 965h0M1290 1031h0" stroke="#8b9bcb" stroke-width="4.0"/>
<path d="M1226 984h0M1262 1015h0M1215 958h0M1248 1038h0M1197 990h0M1290 1032h0M1244 997h0M1251 1034h0M1252 1050h0M1215 1005h0M1240 1026h0M1255 985h0M1204 1005h0M1260 1051h0M1226 1036h0M1222 964h0M1247 1036h0M1213 1008h0M1215 985h0M1247 988h0M1220 1021h0" stroke="#80bf5b" stroke-width="4.0"/>
<path d="M1263 971h0M1223 984h0M1263 1038h0M1219 1024h0M1237 1043h0M1258 978h0M1244 1006h0M1257 1008h0M1279 1024h0M1248 976h0M1243 1032h0M1228 995h0M1253 1028h0M1277 1034h0M1228 951h0M1219 947h0M1263 971h0M1242 1014h0M1288 1028h0M1218 957h0M1272 988h0M1213 1011h0M1284 1017h0M1286 1030h0M1222 1027h0M1220 980h0M1265 1038h0M1233 995h0M1223 1007h0M1242 1002h0M1203 1010h0M1222 1032h0M1262 984h0M1293 1024h0M1232 954h0M1234 1033h0M1281 1040h0M1237 1032h0M1248 996h0M1272 998h0M1262 1001h0M1269 988h0M1206 980h0M1241 1049h0M1238 980h0M1260 977h0M1274 1006h0M1270 1006h0M1248 1011h0M1219 968h0M1277 1026h0M1250 1019h0M1222 963h0M1240 1010h0M1232 1034h0" stroke="#252d6c" stroke-width="4.0"/>
<path d="M1250 1007h0M1239 1004h0M1265 1015h0M1230 1033h0M1274 999h0M1218 959h0M1223 1023h0M1278 1008h0M1230 1020h0M1283 1012h0M1209 988h0M1254 1039h0M1258 973h0M1266 1024h0M1218 1026h0M1218 1007h0M1263 993h0M1282 1006h0M1265 981h0M1260 1004h0M1226 950h0M1251 1026h0M1262 986h0M1249 974h0M1251 963h0M1228 1030h0M1249 984h0M1277 1005h0M1241 960h0M1243 1044h0" stroke="#9784bd" stroke-width="4.0"/>
<path d="M1238 969h0M1269 1014h0M1213 1010h0M1272 1029h0M1227 1004h0M1232 981h0M1268 1045h0M1231 1032h0M1239 1010h0M1249 1030h0M1246 983h0" stroke="#3cb39f" stroke-width="4.0"/>
<path d="M1285 1037h0M1283 1033h0M1218 973h0M1258 982h0M1280 1038h0M1230 1036h0M1223 1013h0M1266 992h0M1290 1031h0M1232 966h0M1277 1041h0M1208 977h0M1262 995h0M1230 1011h0" stroke="#c9222b" stroke-width="4.0"/>
<path d="M1236 1007h0M1247 994h0M1269 981h0M1273 1019h0M1216 1022h0M1263 992h0M1218 1009h0M1248 1012h0M1207 993h0M1281 1023h0M1221 989h0" stroke="#b66cb0" stroke-width="4.0"/>
<path d="M1216 947h0M1257 964h0M1225 988h0M1285 1034h0M1225 996h0M1269 979h0M1281 1023h0M1281 993h0M1225 1034h0M1239 1018h0M1240 985h0M1266 1013h0M1230 991h0M1237 1031h0M1225 947h0M1284 1024h0M1269 1007h0M1229 1023h0" stroke="#e97b2f" stroke-width="4.0"/>
<path d="M1233 971h0M1258 1035h0M1235 1002h0M1270 1030h0M1217 962h0M1231 948h0M1260 1047h0M1261 1029h0" stroke="#b66cb0" stroke-width="4.0"/>
<path d="M1222 994h0M1207 1006h0M1284 1009h0M1269 1000h0M1218 942h0M1282 1018h0M1282 990h0M1275 985h0M1236 962h0M1263 998h0M1235 973h0M1202 985h0M1229 1035h0M1245 967h0M1218 976h0M1243 962h0M1218 987h0M1275 1002h0M1223 1028h0M1271 1044h0M1262 1015h0M1251 968h0M1258 1043h0M1219 954h0M1247 1027h0" stroke="#c9222b" stroke-width="4.0"/>
<path d="M1230 1011h0M1274 1018h0M1212 963h0M1202 993h0M1211 965h0M1240 955h0M1211 976h0M1204 976h0M1235 958h0M1221 993h0M1259 1039h0M1214 948h0M1232 1042h0M1259 980h0M1292 1030h0M1242 1006h0M1272 1010h0M1226 945h0M1253 1003h0M1206 1011h0M1237 1008h0M1263 1023h0M1274 1045h0M1245 1019h0M1239 999h0M1264 964h0M1255 1030h0M1232 953h0M1278 1040h0M1261 981h0M1221 951h0M1203 987h0M1227 1028h0M1254 987h0M1221 955h0M1204 979h0M1284 992h0M1250 993h0M1208 988h0M1227 1019h0M1259 1022h0M1252 962h0M1265 1023h0M1219 960h0M1280 1031h0M1245 960h0M1284 1010h0M1236 968h0M1249 994h0M1281 1024h0M1261 1041h0M1271 977h0M1256 1021h0M1238 1036h0M1266 1022h0" stroke="#252d6c" stroke-width="4.0"/>
<path d="M1235 970h0M1256 1043h0M1239 1027h0M1232 970h0M1284 1025h0M1289 1020h0M1216 1012h0M1246 1030h0M1239 1032h0M1291 1015h0M1211 1016h0M1261 976h0M1260 997h0M1278 1026h0M1205 993h0" stroke="#e97b2f" stroke-width="4.0"/>
<path d="M1209 1005h0M1229 961h0M1273 1044h0M1264 1010h0M1267 1049h0M1280 990h0M1217 956h0M1219 958h0M1232 996h0M1215 952h0M1224 967h0M1277 992h0M1223 1019h0M1234 965h0M1215 953h0M1237 987h0M1278 1014h0M1238 981h0M1258 974h0M1282 1030h0" stroke="#9784bd" stroke-width="4.0"/>
<path d="M1269 999h0M1220 1014h0M1260 981h0M1274 1048h0M1265 1033h0M1265 991h0M1257 1004h0M1234 966h0M1292 1025h0M1235 959h0M1211 991h0M1280 993h0M1248 1029h0M1215 950h0M1233 994h0M1245 966h0M1226 942h0" stroke="#80bf5b" stroke-width="4.0"/>
<path d="M1219 952h0M1247 1041h0M1254 1026h0M1232 1022h0M1240 1036h0M1201 987h0M1211 1014h0M1218 948h0M1254 1008h0M1284 1030h0" stroke="#7e1b21" stroke-width="4.0"/>
<path d="M1285 1008h0M1275 988h0M1245 1035h0M1265 1044h0M1225 983h0M1227 1022h0" stroke="#3cb39f" stroke-width="4.0"/>
<path d="M1255 1010h0M1240 968h0M1238 958h0M1266 982h0M1277 1033h0M1266 1013h0M1274 995h0M1250 1050h0M1232 1017h0M1272 979h0M1242 990h0M1207 969h0M1212 970h0M1211 969h0M1252 1034h0M1258 1006h0M1235 996h0M1274 992h0M1263 1053h0M1234 1041h0M1246 1021h0M1214 992h0M1241 990h0M1230 1016h0M1208 992h0M1273 1030h0M1247 1039h0M1213 996h0" stroke="#8b9bcb" stroke-width="4.0"/>
<path d="M1279 986h0M1214 988h0M1241 1019h0M1222 1016h0M1240 991h0M1238 999h0M1248 1041h0M1266 997h0M1256 1020h0M1222 997h0M1227 947h0M1265 1027h0M1232 975h0M1224 982h0M1216 974h0M1262 1013h0M1232 960h0M1283 996h0M1220 972h0M1241 996h0M1238 949h0M1239 974h0M1227 964h0M1215 1007h0M1239 976h0M1239 951h0M1246 1032h0M1289 1035h0M1266 1002h0M1213 1019h0M1234 954h0M1218 987h0M1227 964h0M1257 979h0M1282 1011h0M1229 1022h0M1253 960h0M1219 1001h0M1230 948h0M1258 992h0M1249 1007h0M1220 1015h0M1241 969h0M1217 1010h0M1257 965h0M1237 992h0M1256 973h0M1255 1043h0M1282 997h0M1282 1040h0" stroke="#252d6c" stroke-width="4.0"/>
<path d="M1209 971h0M1230 977h0M1232 1000h0M1289 1022h0M1202 990h0M1256 1048h0M1289 1022h0" stroke="#3cb39f" stroke-width="4.0"/>
<path d="M1217 1000h0M1291 1009h0M1233 977h0M1249 1030h0M1261 1041h0M1243 1029h0M1205 985h0M1275 1042h0M1219 959h0M1267 1045h0M1253 972h0M1249 1008h0M1254 1041h0M1223 978h0M1279 1044h0M1210 959h0" stroke="#b66cb0" stroke-width="4.0"/>
<path d="M1212 1001h0M1213 1003h0M1241 1024h0M1213 964h0M1273 1015h0M1210 987h0M1219 946h0M1282 1025h0M1284 1001h0M1224 1001h0M1269 1040h0M1227 1006h0M1235 1044h0M1259 1045h0M1211 972h0M1285 1030h0M1226 993h0M1241 998h0M1250 1021h0M1223 1007h0M1253 1015h0M1274 1029h0M1271 1007h0" stroke="#8b9bcb" stroke-width="4.0"/>
<path d="M1232 963h0M1227 988h0M1214 976h0M1207 999h0M1217 989h0M1257 981h0M1226 948h0M1251 1038h0M1209 1018h0M1275 1023h0M1235 1034h0M1253 969h0M1227 1011h0M1274 1041h0M1212 980h0M1211 1019h0M1238 1019h0" stroke="#80bf5b" stroke-width="4.0"/>
<path d="M1278 1015h0M1278 995h0M1241 988h0M1221 953h0M1250 985h0M1274 1022h0M1246 976h0M1254 1000h0M1232 983h0M1283 1011h0M1238 1025h0M1254 990h0M1223 949h0M1236 961h0M1252 1015h0M1233 1019h0M1267 1018h0M1270 983h0M1211 961h0" stroke="#c9222b" stroke-width="4.0"/>
<path d="M1269 1015h0M1262 1018h0M1261 1042h0M1282 1027h0M1255 1008h0M1255 1034h0M1246 954h0M1219 1008h0M1243 979h0M1269 1034h0M1236 1034h0M1234 967h0" stroke="#7e1b21" stroke-width="4.0"/>
<path d="M1242 1024h0M1281 1047h0M1224 1017h0M1238 975h0M1273 989h0M1256 965h0M1292 1017h0M1267 1010h0M1222 969h0M1212 952h0M1235 954h0M1248 1036h0M1220 1028h0M1259 979h0M1256 1044h0M1201 984h0M1275 1031h0M1289 1038h0M1226 966h0M1231 1018h0M1239 955h0M1235 979h0" stroke="#9784bd" stroke-width="4.0"/>
<path d="M1265 1022h0M1204 972h0M1250 1006h0M1254 986h0M1277 1027h0M1237 968h0M1234 973h0M1267 1014h0M1288 1013h0M1240 1017h0M1256 968h0M1238 962h0M1239 996h0M1231 951h0M1211 995h0M1278 1021h0M1288 1039h0" stroke="#e97b2f" stroke-width="4.0"/>
<path d="M1258 977h0M1226 967h0M1243 997h0M1224 1020h0M1236 1001h0M1256 998h0" stroke="#7e1b21" stroke-width="4.0"/>
<path d="M1273 992h0M1247 1036h0M1245 994h0M1223 1010h0M1254 1036h0M1246 990h0M1257 969h0M1269 996h0M1288 1034h0M1255 1000h0M1226 1014h0M1214 990h0" stroke="#3cb39f" stroke-width="4.0"/>
<path d="M1236 1036h0M1221 942h0M1244 990h0M1228 1034h0M1260 973h0M1264 1046h0M1283 996h0M1223 949h0M1242 989h0M1233 980h0M1254 996h0M1255 964h0M1285 1024h0M1272 1008h0M1272 1034h0M1249 972h0M1225 983h0" stroke="#80bf5b" stroke-width="4.0"/>
<path d="M1251 963h0M1258 976h0M1239 971h0M1233 974h0M1249 1027h0M1271 1031h0M1226 1007h0M1246 1049h0M1242 1000h0M1272 1029h0M1246 1031h0M1225 1008h0M1214 1005h0M1213 988h0M1287 1014h0M1239 970h0M1233 1019h0M1229 962h0M1228 1011h0M1265 1017h0M1270 1013h0M1280 999h0M1246 987h0M1275 1001h0" stroke="#9784bd" stroke-width="4.0"/>
<path d="M1212 959h0M1226 980h0M1215 981h0M1236 1001h0M1275 1007h0M1259 1045h0M1222 998h0M1268 985h0M1247 1044h0M1212 1015h0M1220 963h0M1213 969h0M1269 1042h0M1222 1001h0" stroke="#b66cb0" stroke-width="4.0"/>
<path d="M1236 1016h0M1246 1039h0M1237 999h0M1252 1049h0M1199 984h0M1219 974h0M1266 1046h0M1251 984h0M1270 1027h0M1230 1010h0M1213 949h0M1206 997h0M1264 1031h0M1262 1017h0M1221 1025h0M1253 960h0M1262 1023h0M1222 962h0M1225 971h0M1225 982h0M1228 1025h0M1230 997h0M1248 1045h0" stroke="#8b9bcb" stroke-width="4.0"/>
<path d="M1216 946h0M1230 1013h0M1270 998h0M1241 1003h0M1248 1033h0M1253 1011h0M1228 1015h0M1244 1006h0M1206 1014h0M1210 972h0M1239 1015h0M1224 1018h0M1239 960h0M1256 1051h0M1279 1014h0M1233 1016h0" stroke="#e97b2f" stroke-width="4.0"/>
<path d="M1237 997h0M1262 1025h0M1275 985h0M1232 994h0M1283 1046h0M1245 969h0M1264 1041h0M1211 978h0M1288 1022h0M1245 976h0M1278 1022h0M1240 1028h0M1244 987h0M1229 993h0M1240 972h0M1284 1018h0M1242 991h0M1233 1039h0M1225 1021h0M1232 1022h0" stroke="#c9222b" stroke-width="4.0"/>
<path d="M1235 991h0M1266 1010h0M1228 1013h0M1219 974h0M1214 973h0M1237 999h0M1220 969h0M1244 1037h0M1234 994h0M1248 980h0M1208 980h0M1257 1048h0M1206 990h0M1264 992h0M1202 978h0M1215 1001h0M1226 1020h0M1254 1010h0M1289 1037h0M1249 1013h0M1232 980h0M1221 1000h0M1236 960h0M1264 995h0M1251 960h0M1222 1000h0M1212 951h0M1276 1033h0M1219 1021h0M1253 971h0M1258 980h0M1284 1022h0M1217 974h0M1276 1016h0M1212 997h0M1253 1046h0M1274 987h0M1243 1042h0M1280 1041h0M1221 1009h0M1279 1010h0M1220 966h0M1262 983h0M1253 961h0M1214 964h0M1206 1001h0M1287 1037h0M1283 993h0M1222 991h0M1261 1037h0M1232 970h0" stroke="#252d6c" stroke-width="4.0"/>
<path d="M1259 1016h0M1203 985h0M1210 953h0M1246 958h0M1239 1005h0M1207 1008h0M1215 954h0" stroke="#b66cb0" stroke-width="4.0"/>
<path d="M1221 1020h0M1238 967h0M1244 963h0M1277 988h0M1245 959h0M1260 975h0M1233 959h0M1238 993h0M1274 1008h0M1209 970h0M1217 948h0" stroke="#7e1b21" stroke-width="4.0"/>
<path d="M1221 1008h0M1219 943h0M1224 960h0M1231 1035h0M1203 994h0M1245 1040h0M1203 985h0M1248 958h0M1236 954h0M1229 952h0M1228 1015h0M1249 968h0M1274 1022h0M1225 1018h0M1223 973h0M1251 993h0M1226 1022h0M1252 1044h0" stroke="#80bf5b" stroke-width="4.0"/>
<path d="M1243 958h0M1287 1012h0M1268 1016h0M1288 1024h0M1210 1018h0M1226 980h0M1285 1042h0M1238 949h0M1261 974h0M1250 994h0M1215 979h0M1241 1006h0M1243 973h0" stroke="#3cb39f" stroke-width="4.0"/>
<path d="M1212 1000h0M1236 966h0M1242 987h0M1269 1016h0M1215 1005h0M1223 1001h0M1230 974h0M1235 1028h0M1285 1023h0M1259 998h0M1284 1009h0M1246 967h0M1216 1030h0M1219 945h0M1280 985h0M1225 985h0M1254 1020h0M1283 1014h0M1279 1023h0M1271 1019h0M1225 964h0M1224 1033h0" stroke="#e97b2f" stroke-width="4.0"/>
<path d="M1270 992h0M1285 1025h0M1222 962h0M1257 1002h0M1273 1015h0M1236 999h0M1256 976h0M1233 1007h0M1282 1027h0M1236 1033h0M1219 988h0M1218 1018h0M1252 991h0M1273 1009h0M1255 990h0M1276 1023h0M1222 994h0M1246 1049h0" stroke="#9784bd" stroke-width="4.0"/>
<path d="M1260 1017h0M1256 1032h0M1239 1031h0M1228 940h0M1241 988h0M1273 1041h0M1268 1046h0M1246 994h0M1213 972h0M1279 1048h0M1291 1027h0M1210 1001h0M1215 953h0M1207 988h0M1276 1031h0M1235 1023h0M1235 1001h0M1262 977h0M1276 1030h0M1223 946h0M1287 1013h0M1236 1025h0M1220 1018h0" stroke="#8b9bcb" stroke-width="4.0"/>
<path d="M1260 968h0M1266 1007h0M1227 999h0M1213 995h0M1274 1026h0M1248 960h0M1213 974h0M1238 962h0M1268 976h0M1204 990h0M1225 956h0M1262 1041h0M1234 1004h0M1244 996h0M1272 981h0M1222 1005h0M1217 1012h0M1241 983h0M1217 1003h0M1248 1009h0M1281 1006h0M1267 986h0M1224 965h0M1216 951h0M1273 1020h0M1220 962h0M1228 1037h0M1285 1029h0M1225 1024h0M1213 1017h0M1275 988h0M1241 1029h0M1248 959h0M1235 957h0M1287 999h0M1213 963h0M1269 1025h0M1246 989h0M1254 966h0M1288 1019h0M1220 986h0M1210 969h0M1250 988h0M1277 1020h0M1270 1044h0M1277 1036h0M1241 997h0M1242 1034h0M1261 1008h0M1220 985h0M1220 977h0M1213 962h0M1265 995h0M1255 1014h0M1239 1025h0M1269 1038h0M1253 966h0M1241 960h0M1218 1005h0M1226 1034h0M1208 1011h0" stroke="#252d6c" stroke-width="4.0"/>
<path d="M1246 979h0M1281 1025h0M1283 1013h0M1268 1000h0M1275 995h0M1265 986h0M1241 993h0M1275 1003h0M1271 1019h0M1230 952h0" stroke="#c9222b" stroke-width="4.0"/>
<path d="M1249 994h0M1214 1015h0M1275 996h0M1267 1025h0M1258 975h0M1213 980h0M1215 995h0M1218 1023h0M1254 1033h0M1229 952h0M1263 1036h0M1265 1023h0M1285 1030h0M1232 994h0M1238 1007h0M1211 977h0M1280 1022h0M1261 1027h0M1269 1047h0M1280 1030h0M1223 1003h0M1226 1004h0M1268 996h0" stroke="#8b9bcb" stroke-width="4.0"/>
<path d="M1238 976h0M1233 1040h0M1236 959h0M1264 1010h0M1211 984h0M1233 984h0M1218 999h0M1201 987h0M1214 1000h0M1269 977h0M1215 1002h0M1277 1013h0M1222 979h0M1277 1030h0M1202 982h0M1262 975h0M1232 1008h0M1223 970h0M1271 1023h0M1213 999h0M1198 995h0M1213 986h0M1262 973h0" stroke="#80bf5b" stroke-width="4.0"/>
<path d="M1282 996h0M1263 1046h0M1226 1011h0M1257 1030h0M1224 984h0M1281 1041h0M1223 941h0M1279 1033h0M1249 990h0M1246 978h0M1217 955h0M1246 1048h0M1287 1013h0M1277 1001h0M1257 991h0M1253 1003h0M1222 981h0M1253 1018h0M1248 978h0M1237 998h0M1273 1011h0M1248 1024h0" stroke="#9784bd" stroke-width="4.0"/>
<path d="M1248 1003h0M1232 952h0M1238 1026h0M1208 998h0M1221 994h0M1224 1012h0M1231 960h0M1229 968h0M1235 978h0M1223 947h0M1285 998h0M1231 977h0M1252 1010h0M1207 1008h0M1212 957h0M1262 1014h0M1278 1008h0M1222 947h0M1250 979h0M1220 1027h0M1218 979h0M1208 985h0M1243 972h0M1233 962h0M1278 1026h0M1242 969h0M1280 1032h0M1291 1030h0M1210 996h0M1238 1031h0M1228 951h0M1224 1027h0M1235 968h0M1272 987h0M1275 986h0M1277 1002h0M1243 1009h0M1267 1006h0M1248 967h0M1262 999h0M1220 965h0M1234 1015h0M1225 1009h0M1231 954h0M1263 1001h0M1258 985h0M1236 1025h0M1250 1006h0M1279 1026h0M1269 996h0M1225 968h0M1210 960h0M1242 993h0" stroke="#252d6c" stroke-width="4.0"/>
<path d="M1214 971h0M1224 940h0M1266 1012h0M1257 969h0M1202 998h0M1272 1054h0M1206 1009h0M1227 962h0" stroke="#b66cb0" stroke-width="4.0"/>
<path d="M1255 973h0M1265 1009h0M1228 980h0M1209 1000h0M1217 984h0M1243 977h0M1258 1005h0M1273 1038h0M1241 1033h0M1269 1039h0M1270 992h0M1258 994h0M1244 1007h0M1267 997h0M1276 1041h0M1238 1014h0M1225 1006h0M1230 1011h0" stroke="#e97b2f" stroke-width="4.0"/>
<path d="M1218 959h0M1280 986h0M1232 958h0M1215 994h0M1237 961h0M1282 1015h0M1264 1040h0M1212 957h0M1256 996h0M1266 1044h0M1263 974h0M1250 995h0M1218 1019h0M1232 950h0M1263 993h0M1283 1015h0M1221 957h0M1213 1014h0M1207 971h0M1281 1032h0M1263 1010h0M1255 1011h0" stroke="#c9222b" stroke-width="4.0"/>
<path d="M1278 1041h0M1214 990h0M1258 964h0M1272 987h0M1210 991h0M1279 1032h0M1213 1013h0M1266 1003h0M1264 1028h0M1221 958h0M1222 957h0M1265 1026h0" stroke="#3cb39f" stroke-width="4.0"/>
<path d="M1237 1044h0M1241 1028h0" stroke="#7e1b21" stroke-width="4.0"/>
<path d="M1225 937h0M1223 934h0M1226 933h0M1225 936h0M1221 936h0" stroke="#e97b2f" stroke-width="4.0"/>
<path d="M1218 933h0M1224 943h0M1226 942h0" stroke="#3cb39f" stroke-width="4.0"/>
<path d="M608 612h0M653 624h0M620 618h0M593 542h0M579 558h0M596 599h0M646 624h0M581 559h0M664 576h0M581 563h0M627 542h0M642 551h0M662 621h0M582 567h0M652 560h0M685 610h0M589 544h0M679 612h0M659 567h0M690 601h0M685 590h0M647 621h0M598 539h0M601 604h0M579 551h0M602 606h0M666 575h0M585 578h0M675 616h0M598 538h0M688 592h0M582 561h0M666 619h0M583 550h0M669 621h0M663 574h0M642 622h0M672 581h0M674 586h0M588 589h0M634 543h0M611 614h0M589 588h0M673 585h0M613 542h0M616 621h0M607 606h0M687 598h0M586 582h0M646 549h0M626 540h0M685 590h0M591 584h0M592 543h0M688 602h0M641 623h0M685 605h0M610 611h0M626 540h0M640 548h0M601 607h0M681 606h0M656 623h0M580 552h0M594 543h0M680 616h0M581 551h0M688 600h0M590 544h0M636 544h0M679 588h0M634 621h0M687 596h0M599 541h0M686 590h0M677 615h0M603 605h0M581 567h0M685 587h0M644 627h0M686 609h0M652 621h0M596 541h0M642 549h0M688 594h0M582 549h0M673 619h0M660 570h0M596 540h0M610 538h0M590 541h0M582 550h0M608 607h0M663 622h0M687 601h0M619 617h0M668 621h0M647 553h0M581 571h0M590 543h0M688 599h0M581 559h0M645 548h0M624 540h0M593 543h0M631 621h0M677 612h0M654 556h0M589 543h0M676 581h0M635 542h0M645 554h0M584 577h0M595 596h0M666 616h0M601 603h0M628 538h0M583 564h0M675 582h0M583 571h0" stroke="#ca512b" stroke-width="4.0"/>
<path d="M615 549h0M638 590h0M639 600h0M619 577h0M676 601h0M643 563h0" stroke="#9784bd" stroke-width="4.0"/>
<path d="M663 578h0M612 593h0M584 553h0M635 604h0M643 569h0M641 582h0M661 572h0M602 592h0M648 568h0M632 589h0M629 590h0" stroke="#8dd0df" stroke-width="4.0"/>
<path d="M616 610h0M625 608h0M622 572h0M663 597h0M599 568h0M669 585h0M626 619h0M610 593h0M594 594h0M632 555h0M612 610h0M606 600h0M601 548h0M609 571h0M615 567h0M639 585h0M650 555h0M649 603h0M628 594h0M617 550h0M668 591h0M607 607h0M613 575h0" stroke="#3cb39f" stroke-width="4.0"/>
<path d="M626 591h0M661 614h0M604 570h0M622 545h0M661 618h0M582 570h0M632 569h0M604 605h0M642 609h0M657 592h0M628 570h0M621 588h0" stroke="#8b9bcb" stroke-width="4.0"/>
<path d="M649 573h0M583 573h0M649 577h0M670 589h0M654 590h0M618 591h0M597 586h0M629 561h0" stroke="#7e1b21" stroke-width="4.0"/>
<path d="M678 632h0M706 641h0M713 631h0M666 636h0M651 592h0M694 652h0M676 656h0M712 608h0M689 673h0M651 613h0M680 593h0M648 603h0M693 649h0M705 678h0M706 637h0M693 661h0" stroke="#252d6c" stroke-width="4.0"/>
<path d="M699 622h0M697 647h0M691 639h0M679 629h0M720 635h0M701 636h0M718 631h0M679 596h0M707 625h0M704 665h0M676 592h0M683 620h0M686 636h0M698 656h0M648 613h0M702 662h0M716 636h0M668 597h0M676 620h0M708 619h0M695 670h0M703 611h0M650 599h0M692 635h0M653 606h0M656 624h0M717 626h0M704 619h0M704 644h0" stroke="#3cb39f" stroke-width="4.0"/>
<path d="M665 616h0M665 636h0M664 636h0M688 603h0M687 627h0M671 613h0M664 627h0M714 620h0M700 608h0M694 667h0M720 622h0M710 634h0M711 696h0M702 639h0M675 636h0M674 583h0M699 632h0M711 603h0M679 613h0M693 639h0M687 622h0M696 636h0M662 598h0M690 612h0M681 629h0M695 599h0M703 619h0M695 603h0M669 647h0M685 656h0M669 602h0M689 639h0M697 679h0M722 627h0M661 603h0M668 630h0M696 635h0M686 659h0M666 637h0M712 611h0M649 604h0M727 613h0M660 624h0M694 598h0M659 611h0M684 637h0" stroke="#ca512b" stroke-width="4.0"/>
<path d="M705 640h0M702 675h0M657 606h0M701 662h0M683 590h0M703 648h0M664 595h0M661 613h0M712 630h0M694 609h0M704 652h0M698 615h0M707 640h0M665 603h0M700 638h0M677 599h0M708 695h0M690 656h0M663 588h0M691 626h0M685 637h0M683 634h0M698 643h0M666 638h0M672 645h0M666 602h0M709 643h0M686 658h0M688 615h0M666 634h0M664 605h0M726 620h0M676 632h0M712 628h0M672 617h0M700 670h0M666 643h0" stroke="#9784bd" stroke-width="4.0"/>
<path d="M661 603h0M704 629h0M670 592h0M692 658h0M702 649h0M661 620h0M711 607h0M684 620h0" stroke="#1f8b46" stroke-width="4.0"/>
<path d="M683 626h0M698 635h0M719 611h0M709 646h0M673 645h0M713 619h0M673 625h0M675 649h0M698 627h0M680 649h0M679 609h0M699 655h0M647 601h0M709 617h0M696 677h0M698 654h0M717 602h0M663 617h0M693 620h0M683 654h0M695 646h0M689 616h0M706 675h0M695 679h0M664 630h0M671 637h0M659 631h0M674 595h0M686 669h0M665 595h0M675 648h0M698 674h0M705 683h0" stroke="#8dd0df" stroke-width="4.0"/>
<path d="M662 608h0M674 653h0M649 601h0M674 629h0M675 607h0M677 601h0M659 611h0M652 611h0M645 608h0M703 686h0M697 622h0M669 631h0M686 607h0M660 593h0M716 622h0M705 597h0M698 681h0M672 623h0M652 609h0M685 631h0M661 608h0M645 612h0M687 645h0M702 593h0M672 648h0M707 617h0M707 619h0M701 655h0M686 631h0M661 603h0M654 602h0M692 601h0M661 607h0M647 605h0M705 662h0M667 639h0M690 633h0M696 616h0M707 653h0M666 635h0M686 622h0" stroke="#7e1b21" stroke-width="4.0"/>
<path d="M646 596h0M693 607h0M655 612h0M706 600h0M701 594h0M653 596h0M655 632h0M684 601h0M711 651h0M726 627h0M704 619h0M683 623h0M672 632h0M700 653h0M680 642h0M677 642h0M714 602h0M711 615h0M691 659h0M688 647h0M696 610h0M664 614h0M684 653h0M694 600h0M657 620h0M685 618h0M707 599h0M681 639h0M700 602h0M721 614h0M703 616h0M664 634h0M697 664h0M682 625h0" stroke="#6b4b9f" stroke-width="4.0"/>
<path d="M679 590h0M687 628h0M651 588h0M674 623h0M657 633h0M685 608h0M699 605h0M713 692h0M710 685h0M673 605h0M694 608h0M666 627h0M670 618h0M706 647h0M661 635h0M694 662h0M705 603h0M646 602h0M723 615h0M727 613h0M701 593h0M665 609h0M703 635h0" stroke="#8b9bcb" stroke-width="4.0"/>
<path d="M650 593h0M668 636h0M704 632h0M703 618h0M687 645h0M698 621h0M698 622h0M705 600h0M715 696h0M668 644h0M700 637h0M714 625h0M681 594h0M677 604h0M711 606h0M666 639h0M697 610h0M677 600h0M731 628h0M679 607h0M664 640h0M694 615h0M682 647h0M717 611h0M652 607h0M657 632h0M660 611h0M710 605h0M693 600h0M728 614h0M649 623h0M712 639h0M666 594h0M704 607h0" stroke="#6b4b9f" stroke-width="4.0"/>
<path d="M664 619h0M679 622h0M690 643h0M722 612h0M665 626h0M695 671h0M696 621h0M678 625h0M693 627h0M664 600h0M684 624h0M663 604h0M712 637h0M689 635h0M669 603h0M691 623h0M659 613h0M722 624h0M685 661h0M688 625h0M689 656h0M698 665h0M716 605h0M707 645h0M714 610h0M670 600h0M670 623h0M686 617h0M658 602h0M709 649h0M684 665h0M706 614h0M713 601h0M682 604h0M680 642h0M668 635h0M720 628h0M705 602h0M709 640h0M699 684h0M693 675h0M695 659h0M711 616h0M680 621h0M665 629h0M712 693h0M665 641h0M681 605h0M657 596h0" stroke="#ca512b" stroke-width="4.0"/>
<path d="M707 635h0M688 622h0M723 629h0M690 630h0M689 593h0M682 614h0M691 675h0M655 588h0M651 626h0M679 608h0" stroke="#1f8b46" stroke-width="4.0"/>
<path d="M697 643h0M702 647h0M684 668h0M697 673h0M676 598h0M687 614h0M703 607h0M708 622h0M674 653h0M713 613h0M712 640h0M683 636h0M703 648h0M699 634h0M654 620h0M659 623h0M661 599h0M695 657h0M661 595h0M674 648h0M699 667h0M689 631h0M668 590h0M645 607h0M725 605h0M681 633h0M711 618h0M673 624h0M661 607h0M726 629h0M669 647h0M682 615h0" stroke="#9784bd" stroke-width="4.0"/>
<path d="M700 627h0M651 622h0M670 642h0M687 593h0M650 598h0M694 608h0M681 596h0M718 638h0M678 652h0M650 613h0M718 635h0M671 622h0M678 608h0M661 629h0M704 610h0M725 621h0M712 638h0M703 650h0M721 606h0M700 641h0M664 615h0M709 639h0M675 645h0M683 625h0M650 609h0M660 631h0M673 644h0M713 610h0M683 591h0M707 600h0M708 647h0M656 635h0M704 693h0M666 600h0M669 627h0M674 590h0" stroke="#7e1b21" stroke-width="4.0"/>
<path d="M675 624h0M688 595h0M692 656h0M688 617h0M708 621h0M702 631h0M681 634h0M698 604h0M682 623h0M680 623h0M685 649h0M700 643h0M702 623h0M692 677h0M674 613h0M680 590h0M720 603h0M690 603h0M670 597h0M656 618h0M713 606h0M678 600h0" stroke="#8b9bcb" stroke-width="4.0"/>
<path d="M648 598h0M711 638h0M704 633h0M718 628h0M726 611h0M647 614h0M656 619h0M705 624h0M688 608h0M685 604h0M659 592h0M716 635h0M702 658h0M710 612h0M698 605h0M695 648h0M709 685h0M658 630h0M686 629h0M704 640h0M686 647h0M727 620h0" stroke="#252d6c" stroke-width="4.0"/>
<path d="M690 603h0M700 621h0M700 683h0M703 595h0M659 604h0M713 623h0M674 609h0M667 641h0M706 689h0M709 624h0M705 693h0M700 630h0M713 622h0M690 665h0M700 649h0M706 649h0M676 653h0M721 623h0M702 651h0M703 682h0M690 597h0M697 646h0M668 626h0M688 664h0M711 693h0M677 649h0M692 639h0" stroke="#8dd0df" stroke-width="4.0"/>
<path d="M702 628h0M679 616h0M663 592h0M701 646h0M690 608h0M677 607h0M645 598h0M716 639h0M704 611h0M647 619h0M656 596h0M681 619h0M690 672h0M675 627h0M671 639h0M661 612h0M694 668h0M702 661h0M689 647h0M710 614h0M688 592h0M691 649h0M704 604h0M701 672h0M665 621h0M663 620h0M700 613h0M656 635h0M717 616h0M698 600h0M657 596h0M718 631h0M649 600h0M669 640h0M724 613h0" stroke="#3cb39f" stroke-width="4.0"/>
<path d="M690 603h0M695 599h0M665 599h0M705 616h0M673 650h0M683 627h0M654 617h0M692 613h0M718 598h0M691 631h0M670 605h0M689 620h0M682 620h0M666 593h0M692 648h0M663 634h0M667 633h0M678 626h0M690 643h0M678 592h0M720 600h0M701 636h0M715 696h0M718 635h0M656 605h0M716 640h0M671 587h0M729 615h0M684 623h0M648 612h0M702 619h0M694 645h0M663 598h0M707 643h0M686 661h0M695 619h0M671 638h0" stroke="#9784bd" stroke-width="4.0"/>
<path d="M690 609h0M657 619h0M659 598h0M687 599h0M667 633h0M704 620h0M656 615h0M695 619h0M653 592h0M699 678h0M657 631h0M670 612h0M714 616h0M668 640h0M726 621h0M684 607h0M712 621h0" stroke="#252d6c" stroke-width="4.0"/>
<path d="M689 603h0M679 589h0M708 631h0M694 638h0M700 662h0M691 642h0M726 619h0M702 660h0M681 649h0M701 681h0M694 611h0M682 653h0M695 653h0M697 646h0M682 659h0M684 627h0M710 605h0M673 636h0M668 628h0M701 638h0M680 606h0M679 613h0M665 630h0M679 614h0M700 651h0M723 635h0M674 644h0M695 623h0" stroke="#6b4b9f" stroke-width="4.0"/>
<path d="M654 618h0M715 637h0M663 612h0M655 615h0M653 601h0M704 607h0M692 650h0M662 611h0M654 618h0M665 615h0M665 599h0M700 682h0M661 635h0M709 611h0M689 642h0M643 604h0M691 663h0M715 618h0M655 609h0M706 624h0M666 600h0M641 604h0M649 628h0M673 642h0M699 670h0M715 599h0M690 643h0M687 604h0M648 608h0M662 615h0M720 621h0M711 651h0M649 608h0M721 610h0M706 639h0M702 643h0M711 604h0" stroke="#3cb39f" stroke-width="4.0"/>
<path d="M699 604h0M704 637h0M677 618h0M716 648h0M688 607h0M684 635h0M699 634h0M702 684h0M718 630h0M710 647h0M673 653h0M654 608h0M663 608h0M712 609h0M654 613h0M678 595h0M677 616h0M648 604h0M664 624h0M723 605h0M648 596h0M679 607h0M650 623h0M699 640h0" stroke="#8dd0df" stroke-width="4.0"/>
<path d="M701 617h0M694 605h0M674 617h0M720 606h0M712 620h0M715 629h0M705 600h0M676 609h0M677 652h0M647 602h0M672 605h0M696 629h0M715 603h0M712 616h0M671 634h0M699 603h0M666 598h0M681 646h0M673 636h0M677 587h0M689 595h0M662 606h0M680 618h0M666 597h0M707 682h0M686 648h0M707 626h0M703 643h0M671 629h0M661 594h0M689 599h0M690 594h0M728 622h0M679 640h0M718 634h0M694 627h0M697 667h0M697 650h0M672 591h0M685 665h0M662 590h0M683 634h0M697 612h0M662 603h0M709 624h0M696 610h0M723 618h0M644 596h0M661 618h0M665 647h0M730 618h0" stroke="#ca512b" stroke-width="4.0"/>
<path d="M647 610h0M707 603h0M705 645h0M698 650h0M728 618h0" stroke="#1f8b46" stroke-width="4.0"/>
<path d="M670 591h0M683 648h0M659 611h0M696 628h0M673 626h0M670 629h0M690 608h0M702 686h0M702 653h0M655 628h0M661 604h0M699 614h0M711 621h0M705 681h0M684 609h0M711 689h0M667 601h0" stroke="#8b9bcb" stroke-width="4.0"/>
<path d="M703 611h0M706 648h0M712 602h0M678 631h0M708 636h0M697 644h0M695 615h0M653 608h0M705 689h0M706 645h0M681 622h0M687 665h0M714 620h0M678 613h0M709 617h0M704 594h0M656 591h0M682 642h0M724 611h0M719 609h0M690 663h0M676 624h0M681 597h0M694 600h0M650 622h0M674 630h0M683 627h0M687 660h0M705 680h0M688 611h0M665 628h0M675 637h0M654 598h0M692 610h0M699 646h0M657 608h0M697 648h0M687 641h0M690 660h0M680 657h0M682 608h0M690 611h0M677 621h0M686 610h0M708 638h0M721 631h0M701 664h0M676 631h0M677 634h0M673 592h0" stroke="#7e1b21" stroke-width="4.0"/>
<path d="M727 708h0M736 719h0M718 691h0M737 725h0M745 725h0M722 713h0M728 714h0M729 713h0M737 729h0M730 708h0" stroke="#1f8b46" stroke-width="4.0"/>
<path d="M717 701h0M717 695h0M721 707h0M714 693h0M739 722h0M714 693h0M725 706h0M734 719h0M729 712h0M726 714h0M718 704h0" stroke="#9784bd" stroke-width="4.0"/>
<path d="M723 709h0M724 708h0M724 714h0M723 695h0M741 729h0" stroke="#3cb39f" stroke-width="4.0"/>
<path d="M791 747h0M812 720h0M820 721h0M765 738h0M816 750h0M821 747h0M746 730h0M827 731h0M751 708h0M742 720h0M746 710h0M820 726h0M756 708h0M827 746h0M820 725h0M820 746h0M796 750h0M785 713h0M826 742h0M775 709h0M790 712h0M803 715h0M753 732h0M758 737h0M830 736h0M827 745h0M819 748h0M759 708h0M822 722h0M818 723h0M777 741h0M779 742h0M790 712h0M824 728h0M767 736h0M824 745h0M753 709h0M796 719h0M799 750h0M745 714h0M826 733h0M760 734h0M761 737h0M780 744h0M814 748h0M745 728h0M829 730h0M821 748h0M824 729h0M744 714h0M771 706h0M821 745h0M743 725h0M749 732h0M761 707h0M818 747h0M809 747h0M747 729h0M832 741h0M774 739h0M746 708h0M830 746h0M746 712h0M753 708h0M740 715h0M759 736h0M823 723h0M819 723h0M808 750h0M814 721h0M742 717h0M818 748h0M824 746h0M821 746h0M750 729h0M746 727h0M824 725h0M753 710h0M744 712h0M797 749h0" stroke="#ca512b" stroke-width="4.0"/>
<path d="M755 810h0M813 788h0M734 764h0M726 764h0M800 745h0M701 742h0M750 759h0M792 772h0M766 776h0M782 801h0M722 784h0M707 769h0M715 767h0M731 735h0M736 772h0M702 769h0M743 760h0M736 757h0M775 761h0M776 792h0M700 794h0M825 774h0M735 743h0" stroke="#ca512b" stroke-width="4.0"/>
<path d="M749 785h0M762 775h0M745 778h0M773 781h0M787 768h0M797 745h0M713 783h0M792 774h0M765 780h0M720 759h0M759 765h0M743 749h0M792 779h0M753 800h0M740 806h0M806 796h0M734 759h0M701 798h0M786 799h0M801 786h0M700 789h0M756 749h0" stroke="#e97b2f" stroke-width="4.0"/>
<path d="M784 753h0M780 766h0M711 786h0M717 771h0M797 795h0M763 753h0M815 759h0M746 754h0M746 803h0M786 764h0M736 764h0" stroke="#f1dc24" stroke-width="4.0"/>
<path d="M798 794h0M756 765h0M749 756h0M728 797h0M816 789h0M807 750h0M719 765h0M737 763h0M774 779h0M802 758h0M752 762h0M729 787h0M703 791h0M742 736h0M793 806h0M721 754h0M751 757h0M753 762h0M727 738h0M770 749h0M760 793h0M779 779h0M768 768h0M755 783h0M776 748h0M812 784h0M777 776h0M801 760h0M773 783h0M700 747h0M754 803h0M809 782h0M770 764h0M796 766h0M751 763h0M732 777h0M764 755h0M714 803h0M741 744h0M737 778h0M712 789h0M698 764h0M760 754h0M707 739h0M708 753h0M732 788h0M744 734h0M735 764h0M733 802h0M823 757h0M749 748h0M694 778h0M743 805h0M794 749h0M714 755h0M754 738h0M800 789h0M823 778h0M777 763h0M744 738h0M704 747h0M747 758h0M790 773h0M773 776h0M749 742h0M805 790h0M775 807h0M803 755h0" stroke="#3cb39f" stroke-width="4.0"/>
<path d="M708 739h0M695 739h0M831 763h0M794 801h0M765 744h0M746 808h0M787 803h0M731 753h0M694 763h0M752 746h0M705 783h0M688 780h0M790 807h0M754 790h0M750 751h0M774 776h0M730 768h0M733 785h0M773 815h0M745 743h0M742 809h0M783 751h0M762 804h0M764 741h0M717 771h0M751 793h0" stroke="#9784bd" stroke-width="4.0"/>
<path d="M782 803h0M833 756h0M754 757h0M746 735h0M776 777h0M779 773h0M701 782h0M702 791h0M776 767h0M817 785h0M713 728h0M704 734h0M742 811h0M793 810h0M688 772h0M705 773h0M729 764h0M814 779h0M688 776h0M727 734h0M783 805h0M766 814h0M737 750h0M694 750h0M760 739h0M777 769h0" stroke="#c9222b" stroke-width="4.0"/>
<path d="M759 754h0M754 793h0M825 767h0M780 752h0M717 790h0M713 748h0M763 781h0M808 751h0M787 813h0M836 761h0M792 779h0" stroke="#1f8b46" stroke-width="4.0"/>
<path d="M772 789h0M775 810h0M705 762h0M773 748h0M823 776h0M820 764h0M828 755h0M722 779h0M699 760h0M787 758h0M749 810h0M794 749h0M691 775h0M793 774h0M743 751h0M693 784h0M752 760h0M780 768h0M710 767h0M731 739h0M827 750h0M739 789h0M699 791h0M772 779h0M772 778h0M803 794h0M821 761h0M782 778h0M769 809h0M818 764h0M723 752h0M791 805h0M779 757h0M799 750h0M829 768h0M790 780h0M807 751h0M690 762h0M748 770h0M811 782h0M795 756h0M723 779h0" stroke="#8dd0df" stroke-width="4.0"/>
<path d="M728 783h0M744 809h0M743 780h0M823 762h0M743 771h0M793 771h0M813 793h0M745 794h0M736 734h0M696 767h0M725 807h0M713 790h0M743 743h0M743 747h0M799 794h0M750 766h0M686 781h0M726 738h0M777 796h0M718 795h0M785 749h0M758 792h0M743 809h0M806 749h0M784 742h0" stroke="#8b9bcb" stroke-width="4.0"/>
<path d="M739 748h0M714 731h0M714 768h0M777 759h0M754 753h0M713 800h0M778 759h0M746 732h0M794 761h0M747 794h0M692 778h0" stroke="#6b4b9f" stroke-width="4.0"/>
<path d="M753 750h0M795 796h0M825 773h0M745 773h0M823 771h0M739 734h0M721 749h0M742 764h0" stroke="#e8797d" stroke-width="4.0"/>
<path d="M804 790h0M772 778h0M801 773h0M748 777h0M791 796h0M781 754h0M778 774h0M730 786h0M693 776h0M718 793h0M709 759h0" stroke="#252d6c" stroke-width="4.0"/>
<path d="M800 804h0M705 751h0M720 735h0M735 772h0M703 772h0M714 800h0M726 801h0" stroke="#f1dc24" stroke-width="4.0"/>
<path d="M731 734h0M742 803h0M777 792h0M780 800h0M747 743h0M791 766h0M717 794h0M721 741h0M707 748h0M716 733h0M772 766h0M749 736h0M780 784h0M701 777h0M756 739h0M780 758h0M768 793h0M809 762h0M812 782h0M791 779h0M758 734h0M715 747h0M787 748h0M810 771h0M791 747h0M766 775h0M733 804h0M717 772h0M750 735h0M817 754h0M758 739h0M730 740h0" stroke="#9784bd" stroke-width="4.0"/>
<path d="M691 772h0M787 807h0M723 787h0M712 780h0M817 789h0M717 764h0M775 794h0M708 736h0M716 792h0M825 752h0M751 803h0M816 766h0M715 775h0M753 800h0M820 766h0M802 777h0M813 758h0M742 779h0M704 742h0M766 752h0M738 774h0M793 773h0M733 781h0M715 776h0M762 810h0M702 783h0M717 781h0M753 753h0M777 775h0" stroke="#e97b2f" stroke-width="4.0"/>
<path d="M758 771h0M801 776h0M770 747h0M713 757h0M815 749h0M796 800h0M805 776h0M780 779h0M732 774h0M702 787h0M797 770h0M724 776h0M760 807h0M778 765h0M762 802h0M760 740h0M781 770h0M726 805h0M799 778h0M802 777h0M734 797h0M750 775h0M766 801h0M765 799h0M775 806h0M774 750h0M699 791h0M723 771h0" stroke="#8b9bcb" stroke-width="4.0"/>
<path d="M708 738h0M764 783h0M791 802h0M746 737h0M775 745h0M714 765h0M746 791h0M705 769h0M769 752h0M821 759h0M792 798h0M732 731h0M736 778h0M785 792h0M744 749h0M699 740h0M753 801h0M748 805h0M735 782h0M777 750h0M776 787h0M764 762h0M725 741h0M740 796h0" stroke="#c9222b" stroke-width="4.0"/>
<path d="M714 789h0M778 740h0M746 785h0M782 773h0M817 772h0M755 807h0M721 804h0M799 751h0" stroke="#e8797d" stroke-width="4.0"/>
<path d="M786 796h0M817 750h0M738 784h0M722 766h0M785 774h0M727 802h0M730 748h0M751 735h0M791 772h0M786 747h0M718 788h0M825 756h0M816 779h0M827 784h0M739 755h0M731 742h0M790 754h0M718 734h0M807 787h0M769 769h0M778 744h0M776 744h0M755 751h0M731 806h0M696 740h0M708 744h0M775 746h0M753 736h0M820 752h0M794 798h0M702 770h0M722 738h0M719 783h0M822 749h0M790 781h0M778 761h0M805 767h0M700 746h0M811 793h0M798 786h0M756 739h0M739 803h0M768 797h0M696 785h0M748 793h0M781 803h0M773 740h0M716 791h0M780 808h0M794 795h0M756 816h0M747 794h0M783 786h0M753 790h0M708 744h0M806 800h0M779 742h0M767 752h0M756 737h0M705 749h0M730 789h0M768 807h0M777 746h0M697 765h0M758 805h0M768 813h0M698 790h0M743 746h0M714 778h0M706 779h0M786 810h0M740 787h0" stroke="#3cb39f" stroke-width="4.0"/>
<path d="M712 735h0M770 769h0M785 787h0M730 778h0M711 731h0M755 731h0M756 754h0M816 767h0M814 749h0M746 807h0M748 743h0M722 746h0M715 796h0M747 790h0" stroke="#ca512b" stroke-width="4.0"/>
<path d="M727 767h0M694 747h0M695 752h0M712 761h0M698 789h0M740 733h0M765 762h0M824 758h0M736 738h0M720 737h0M823 746h0M822 771h0" stroke="#252d6c" stroke-width="4.0"/>
<path d="M723 763h0M711 773h0M801 788h0M766 788h0M802 798h0M819 745h0M750 740h0M756 799h0M732 730h0M790 772h0M731 780h0M755 732h0M707 737h0M741 737h0M803 781h0M810 747h0M766 770h0M693 755h0M732 783h0M798 780h0M788 770h0M739 753h0M751 779h0M700 737h0M700 755h0M797 761h0M828 759h0M792 799h0M766 744h0M764 757h0M775 802h0M813 759h0M790 768h0M817 751h0M829 759h0M712 767h0M761 794h0M722 786h0M769 754h0M738 777h0" stroke="#8dd0df" stroke-width="4.0"/>
<path d="M728 734h0M778 763h0M772 809h0M817 756h0M715 738h0M790 766h0M805 758h0" stroke="#1f8b46" stroke-width="4.0"/>
<path d="M711 737h0M719 748h0M778 755h0M735 746h0M821 787h0M716 762h0M692 764h0M747 745h0M780 808h0M805 770h0M826 765h0" stroke="#6b4b9f" stroke-width="4.0"/>
<path d="M711 747h0M810 778h0M767 738h0M725 748h0M731 804h0M716 792h0" stroke="#1f8b46" stroke-width="4.0"/>
<path d="M767 738h0M783 751h0M749 745h0M773 770h0M799 799h0M696 791h0M784 776h0M731 735h0M714 789h0M712 801h0M742 783h0M814 757h0M825 759h0M777 785h0M772 801h0M772 760h0M809 763h0M725 749h0M812 751h0M776 756h0M732 738h0M703 790h0M740 738h0M714 770h0M772 806h0M792 769h0M741 777h0M820 755h0M822 751h0M718 767h0M780 777h0M776 751h0M775 782h0M691 762h0M720 800h0M758 750h0M743 779h0M780 796h0M744 774h0M795 764h0M717 754h0M744 796h0M796 771h0M804 778h0M739 768h0M825 763h0M735 738h0M801 768h0M707 738h0M717 746h0M805 774h0M737 776h0M798 760h0M759 791h0M765 756h0M722 796h0M697 758h0M731 756h0M786 791h0M764 790h0M807 793h0M808 752h0M730 777h0M723 770h0M781 768h0M715 775h0M739 806h0M712 746h0M765 774h0M694 751h0M787 763h0M704 784h0M781 755h0M717 772h0M706 797h0M823 774h0" stroke="#3cb39f" stroke-width="4.0"/>
<path d="M719 789h0M733 758h0M720 800h0M791 791h0M791 800h0M734 776h0M743 783h0M772 756h0M740 770h0M791 772h0M743 805h0M708 801h0M810 757h0M755 752h0M742 772h0M776 806h0M712 738h0M783 779h0M802 767h0M792 798h0M787 777h0M756 779h0M799 782h0M726 738h0M810 760h0M764 773h0M753 746h0" stroke="#8b9bcb" stroke-width="4.0"/>
<path d="M779 764h0M718 783h0M735 758h0M692 778h0M800 798h0M739 800h0" stroke="#f1dc24" stroke-width="4.0"/>
<path d="M747 734h0M770 769h0M695 785h0M717 742h0M815 773h0M686 778h0M778 809h0M741 757h0M755 796h0M762 794h0M723 756h0M773 760h0M830 765h0M770 765h0M742 742h0M806 769h0M727 767h0M716 764h0M753 774h0M713 737h0M700 773h0M750 735h0M730 735h0M729 747h0M824 749h0M721 748h0M789 800h0M699 756h0M775 760h0M810 764h0M812 773h0M807 774h0M738 808h0M739 754h0M794 780h0M702 741h0M773 783h0M760 778h0M797 800h0M746 741h0M781 770h0M767 799h0" stroke="#9784bd" stroke-width="4.0"/>
<path d="M705 753h0M713 777h0M746 779h0M763 782h0M697 758h0M699 770h0M780 743h0M732 797h0M726 771h0M712 793h0M785 798h0M763 797h0M804 766h0M810 748h0M802 784h0M761 790h0M754 802h0M798 803h0" stroke="#ca512b" stroke-width="4.0"/>
<path d="M775 781h0M724 799h0M780 788h0M714 798h0M783 811h0M823 751h0M711 790h0M730 744h0" stroke="#252d6c" stroke-width="4.0"/>
<path d="M740 793h0M773 809h0M730 763h0M798 795h0M819 769h0M701 741h0M754 801h0M696 782h0M734 740h0M727 798h0M798 786h0M826 765h0" stroke="#e97b2f" stroke-width="4.0"/>
<path d="M795 787h0M692 758h0M719 743h0M766 782h0M695 752h0M714 760h0M811 743h0M734 800h0M689 778h0M793 804h0M814 764h0M765 803h0M711 786h0M790 745h0M810 778h0M755 791h0M763 803h0M709 759h0M724 788h0M713 792h0M744 737h0M773 802h0M742 734h0M714 758h0M733 786h0M729 758h0M715 742h0M755 765h0M745 769h0M754 775h0M755 783h0M727 785h0M699 750h0M701 768h0M718 760h0M776 800h0M764 807h0M717 748h0M690 780h0" stroke="#8dd0df" stroke-width="4.0"/>
<path d="M751 781h0M750 753h0M701 784h0M802 753h0M723 750h0M778 800h0" stroke="#e8797d" stroke-width="4.0"/>
<path d="M714 736h0M786 765h0M748 802h0M712 775h0M821 772h0M701 775h0M771 809h0M704 737h0M692 753h0M795 761h0M761 745h0M780 756h0M740 781h0M702 758h0M809 748h0M779 783h0M758 751h0M690 746h0M755 807h0M767 738h0M786 779h0M822 767h0M728 784h0M756 766h0M717 730h0M802 766h0M753 781h0M787 759h0M820 747h0M792 801h0M739 763h0" stroke="#c9222b" stroke-width="4.0"/>
<path d="M769 756h0M691 775h0M819 757h0M824 779h0M722 793h0M770 803h0M748 798h0M773 790h0M730 783h0M729 800h0M774 768h0M801 791h0" stroke="#6b4b9f" stroke-width="4.0"/>
<path d="M772 756h0M740 789h0M817 770h0M702 764h0M751 761h0M812 752h0" stroke="#6b4b9f" stroke-width="4.0"/>
<path d="M726 780h0M823 760h0M735 747h0M786 768h0M770 815h0M688 776h0M755 809h0M767 780h0M735 766h0M796 786h0M774 788h0M698 755h0M734 748h0M794 777h0M787 750h0M692 778h0M749 783h0M749 755h0M795 756h0M752 796h0M811 775h0M702 746h0" stroke="#252d6c" stroke-width="4.0"/>
<path d="M763 793h0M778 742h0M719 762h0M807 782h0M732 755h0M736 735h0" stroke="#e8797d" stroke-width="4.0"/>
<path d="M745 759h0M801 776h0M729 762h0M742 753h0M814 752h0M698 755h0M769 794h0M718 757h0M801 750h0M718 728h0M699 787h0M733 794h0M779 797h0M806 765h0M723 760h0M697 736h0M709 779h0M743 786h0M765 749h0M763 754h0M710 732h0M808 755h0M737 777h0M739 789h0M778 816h0M808 750h0M746 799h0M795 801h0M723 766h0M773 769h0M811 792h0" stroke="#c9222b" stroke-width="4.0"/>
<path d="M798 759h0M815 755h0M788 777h0M786 750h0M765 801h0M734 755h0" stroke="#1f8b46" stroke-width="4.0"/>
<path d="M750 780h0M731 743h0M742 781h0M748 800h0M806 749h0M730 774h0M705 796h0M728 764h0M766 758h0M764 757h0M747 780h0M768 796h0M780 770h0M736 803h0M753 797h0M740 767h0M782 751h0M728 781h0M729 740h0M731 785h0M788 784h0M781 773h0M756 803h0M745 760h0M694 773h0M705 760h0M698 776h0M780 793h0M705 737h0" stroke="#8b9bcb" stroke-width="4.0"/>
<path d="M821 748h0M736 755h0M709 779h0M834 760h0M691 756h0M832 752h0M706 775h0M720 749h0M771 785h0M697 775h0M761 810h0M704 799h0M741 737h0M775 775h0M779 749h0M744 802h0M765 798h0M709 791h0M739 806h0" stroke="#ca512b" stroke-width="4.0"/>
<path d="M761 792h0M809 788h0M765 799h0M695 788h0M821 746h0M794 783h0M752 743h0M730 786h0M699 767h0M783 802h0M733 761h0M779 803h0M760 749h0M718 741h0M713 740h0M822 759h0M774 779h0M775 767h0M737 737h0M691 766h0M777 752h0M705 750h0M780 786h0M687 765h0M783 776h0M740 797h0M698 787h0M752 742h0M769 751h0M776 811h0M705 783h0M795 764h0M727 755h0M742 751h0M755 811h0M747 806h0M809 752h0M786 794h0M798 767h0M742 810h0M736 808h0M697 745h0M807 757h0M727 797h0M783 756h0M790 776h0M733 734h0M775 747h0M802 784h0M727 797h0M728 805h0M788 786h0M728 788h0M767 802h0M698 775h0M699 764h0M776 788h0M779 776h0M825 776h0M740 788h0M782 752h0M701 789h0M687 781h0M732 782h0M701 782h0M731 799h0M707 755h0M739 764h0M769 808h0M705 757h0M758 816h0M714 761h0M742 810h0" stroke="#3cb39f" stroke-width="4.0"/>
<path d="M716 760h0M706 773h0M754 787h0M751 781h0M756 766h0M779 768h0M747 760h0M771 753h0M746 751h0M790 763h0M752 772h0M755 810h0M782 752h0M722 745h0M718 784h0M707 742h0M779 786h0M773 789h0M738 788h0M787 785h0M791 751h0M770 776h0M810 781h0M773 801h0M773 744h0M805 781h0M711 787h0M812 752h0M766 815h0M754 757h0M709 738h0M783 789h0M769 797h0M750 785h0M755 741h0M749 752h0M695 764h0M810 760h0" stroke="#8dd0df" stroke-width="4.0"/>
<path d="M731 783h0M805 763h0M737 807h0M792 772h0M741 743h0M818 752h0M725 777h0M765 802h0M763 793h0M772 781h0M707 750h0M749 792h0M744 773h0M761 790h0M705 736h0M777 791h0M769 805h0M773 807h0M807 796h0M749 748h0M775 816h0M704 732h0M770 785h0M788 792h0M742 806h0M831 761h0M822 751h0M818 790h0M815 786h0M794 776h0M732 785h0M703 740h0M725 748h0M694 777h0" stroke="#9784bd" stroke-width="4.0"/>
<path d="M715 738h0M697 774h0M702 777h0M776 777h0M809 753h0M785 786h0M758 756h0M823 749h0M774 750h0M805 779h0M715 787h0" stroke="#e97b2f" stroke-width="4.0"/>
<path d="M786 759h0M703 754h0M710 787h0M746 744h0M726 801h0M807 785h0M824 769h0M770 787h0" stroke="#f1dc24" stroke-width="4.0"/>
<path d="M788 788h0M714 767h0M705 746h0M804 780h0M762 787h0M702 786h0M714 774h0M778 751h0M749 799h0M733 778h0M738 767h0M771 739h0M764 805h0M819 775h0M774 763h0M795 753h0" stroke="#ca512b" stroke-width="4.0"/>
<path d="M798 803h0M720 775h0M701 763h0M780 790h0M744 775h0M706 763h0M768 793h0M775 794h0M805 755h0M756 746h0M789 786h0M758 733h0M774 770h0M707 739h0M827 749h0M718 741h0M798 793h0M753 767h0M699 758h0" stroke="#252d6c" stroke-width="4.0"/>
<path d="M786 805h0M705 738h0M798 748h0M792 799h0M691 772h0M794 767h0M707 765h0M695 775h0M709 787h0M775 780h0M753 773h0M753 741h0M791 778h0M788 782h0M776 798h0M739 775h0M772 802h0M737 805h0M805 790h0M744 731h0M706 748h0M779 761h0M758 739h0M741 768h0" stroke="#c9222b" stroke-width="4.0"/>
<path d="M807 768h0M781 752h0M720 768h0M801 801h0M729 744h0M727 793h0M776 758h0M788 795h0M698 782h0M759 801h0M727 740h0M708 798h0M766 774h0M786 797h0M816 756h0M727 738h0M818 763h0M701 773h0M798 782h0M800 757h0M699 781h0M798 748h0M737 793h0M751 782h0M733 735h0M730 759h0M805 777h0M709 746h0M802 767h0M749 807h0M728 779h0M801 761h0M778 761h0M723 783h0M810 789h0M711 772h0M777 808h0M772 758h0M739 743h0M772 774h0M697 787h0M771 801h0M787 761h0M794 749h0M794 780h0M773 767h0M758 783h0M761 746h0M778 790h0M754 755h0M735 756h0M695 738h0M770 813h0M730 759h0M825 775h0M822 783h0M698 790h0M698 776h0M698 757h0M771 794h0M788 801h0M757 765h0M770 769h0M778 799h0M748 735h0" stroke="#3cb39f" stroke-width="4.0"/>
<path d="M698 776h0M722 757h0M794 772h0M771 742h0M731 779h0M683 764h0M767 802h0M692 766h0M744 788h0M813 785h0M697 738h0M825 749h0M688 764h0M734 774h0" stroke="#6b4b9f" stroke-width="4.0"/>
<path d="M730 739h0M740 757h0M774 773h0M790 802h0M829 766h0M756 759h0M731 774h0M698 784h0M715 797h0" stroke="#e8797d" stroke-width="4.0"/>
<path d="M751 759h0M786 788h0M703 779h0M772 797h0M726 784h0M737 768h0M759 794h0M739 760h0M735 779h0M715 803h0M705 784h0M749 761h0M704 781h0M776 815h0M692 772h0M765 786h0M716 799h0M787 787h0M772 774h0M770 765h0M712 783h0M823 754h0M793 795h0M727 781h0M748 745h0M811 765h0M690 782h0M710 793h0M726 752h0M792 751h0M800 777h0M833 758h0M817 777h0M761 795h0" stroke="#9784bd" stroke-width="4.0"/>
<path d="M766 746h0M707 745h0M717 734h0M734 764h0M748 735h0M737 752h0M737 749h0M756 777h0M724 793h0M809 790h0M804 775h0M799 774h0M783 761h0M781 797h0M769 797h0M820 749h0M736 770h0M818 751h0M688 770h0M794 760h0M740 777h0M750 780h0M805 762h0M778 797h0" stroke="#8b9bcb" stroke-width="4.0"/>
<path d="M684 758h0M722 749h0M739 755h0M721 742h0M695 747h0M756 793h0M791 761h0M800 749h0M710 761h0M755 777h0M709 759h0M755 801h0M781 770h0M807 775h0M806 768h0M786 752h0M752 762h0M772 770h0M707 749h0M696 763h0M721 756h0M748 754h0M828 759h0M774 780h0M700 793h0M715 772h0M767 809h0M820 790h0M798 751h0M814 766h0M774 743h0M773 813h0M760 811h0M756 756h0M732 800h0M802 781h0M759 747h0" stroke="#8dd0df" stroke-width="4.0"/>
<path d="M794 770h0M757 755h0M750 792h0M764 807h0M730 747h0M805 792h0M811 746h0M721 771h0M706 800h0M775 802h0M782 808h0M716 798h0M692 755h0M767 763h0M827 764h0M746 767h0M711 783h0M777 787h0M789 795h0M708 749h0M757 739h0M814 770h0M809 794h0M692 747h0M714 787h0M830 752h0" stroke="#e97b2f" stroke-width="4.0"/>
<path d="M768 740h0M811 799h0M745 808h0M793 789h0" stroke="#f1dc24" stroke-width="4.0"/>
<path d="M736 777h0M751 801h0M755 751h0M822 760h0M758 785h0M822 768h0M781 748h0M724 737h0M711 780h0M810 766h0M718 751h0" stroke="#1f8b46" stroke-width="4.0"/>
<path d="M813 796h0M755 785h0M714 778h0M731 744h0M746 738h0M738 740h0M736 780h0" stroke="#f1dc24" stroke-width="4.0"/>
<path d="M766 748h0M725 769h0M740 744h0M690 775h0M741 765h0M786 761h0M741 744h0M751 808h0M769 802h0M810 778h0M727 750h0M743 742h0M738 763h0M718 768h0M736 789h0M778 812h0M728 806h0M762 771h0M746 761h0M727 747h0M782 783h0M704 741h0M737 802h0M711 779h0M699 771h0M732 776h0M711 801h0M698 752h0M722 803h0M717 800h0M799 766h0M718 786h0M728 758h0M734 751h0M735 806h0M800 752h0M808 753h0M731 737h0M737 792h0M747 789h0M806 764h0M824 752h0M808 746h0M748 817h0M769 801h0M705 782h0M781 781h0M708 753h0M740 754h0M724 747h0M796 799h0M776 765h0" stroke="#8dd0df" stroke-width="4.0"/>
<path d="M828 754h0M794 751h0M693 782h0M810 760h0M767 770h0M760 798h0M777 798h0" stroke="#e8797d" stroke-width="4.0"/>
<path d="M738 772h0M736 778h0M744 762h0M759 739h0M761 750h0M727 792h0M795 786h0M723 789h0M831 755h0M822 779h0M691 759h0M753 782h0M801 752h0M755 752h0M727 739h0M764 749h0M711 737h0M771 754h0M699 759h0M698 766h0M805 774h0M811 752h0M800 789h0M793 810h0M767 749h0M697 769h0M722 794h0M720 779h0M731 739h0M752 781h0" stroke="#9784bd" stroke-width="4.0"/>
<path d="M718 802h0M757 783h0M786 805h0M703 736h0M759 740h0M787 790h0M743 770h0M711 769h0M821 762h0M769 795h0M765 814h0M776 799h0M806 759h0M779 755h0M715 780h0M832 753h0M818 752h0M727 788h0M694 759h0M726 777h0M734 806h0M764 739h0M796 780h0M701 745h0M729 785h0M705 763h0M751 760h0M746 763h0M818 765h0M752 755h0M745 799h0M696 782h0M745 745h0M809 775h0M827 752h0M699 739h0M789 799h0M690 776h0M725 753h0M804 772h0M738 763h0M721 784h0M733 746h0M737 786h0M811 798h0M746 800h0M756 754h0M775 806h0M735 811h0M696 740h0M789 770h0M715 770h0M725 740h0M814 744h0M724 774h0M707 746h0M704 785h0M709 775h0M706 802h0" stroke="#3cb39f" stroke-width="4.0"/>
<path d="M731 761h0M810 779h0M796 773h0M736 772h0M758 782h0M827 770h0M721 797h0M713 776h0M695 784h0M763 802h0" stroke="#252d6c" stroke-width="4.0"/>
<path d="M702 782h0M786 773h0M806 759h0M737 759h0M774 756h0M742 786h0M712 729h0M752 731h0M716 748h0M693 770h0M765 756h0M766 768h0M815 774h0M767 759h0M748 742h0M736 797h0M777 757h0M815 765h0M703 742h0M729 776h0M747 744h0M791 797h0M767 734h0M740 778h0M812 759h0M755 745h0M779 770h0M765 761h0" stroke="#8b9bcb" stroke-width="4.0"/>
<path d="M769 805h0M814 744h0M732 754h0M720 742h0M782 755h0M789 795h0M712 801h0M807 764h0M803 797h0M762 758h0M688 766h0M685 776h0M712 769h0M721 780h0M755 781h0M734 767h0M795 776h0M690 766h0M714 762h0M759 794h0" stroke="#ca512b" stroke-width="4.0"/>
<path d="M700 787h0M699 762h0M706 752h0M706 776h0M779 799h0M817 752h0M766 756h0M759 796h0M706 757h0M749 793h0M725 754h0M770 760h0M789 798h0M757 810h0M698 757h0M712 798h0M769 792h0M760 801h0M747 743h0M719 741h0" stroke="#e97b2f" stroke-width="4.0"/>
<path d="M771 766h0M765 787h0M789 762h0M808 779h0M737 734h0M733 742h0M782 775h0M788 780h0M695 740h0M803 746h0M766 796h0M773 748h0M705 788h0M735 762h0" stroke="#6b4b9f" stroke-width="4.0"/>
<path d="M823 753h0M711 774h0M794 754h0M712 784h0M697 772h0M757 810h0M744 805h0M766 769h0M792 746h0M815 774h0" stroke="#1f8b46" stroke-width="4.0"/>
<path d="M815 774h0M779 796h0M727 764h0M744 737h0M767 781h0M773 791h0M728 808h0M714 753h0M808 790h0M746 782h0M801 797h0M752 771h0M756 781h0M743 800h0M794 786h0M729 801h0M778 759h0M697 789h0M814 751h0M796 743h0M769 807h0M818 757h0M787 768h0M754 785h0M791 762h0M805 793h0" stroke="#c9222b" stroke-width="4.0"/>
<path d="M691 770h0M716 768h0M710 765h0M729 737h0M708 763h0M730 735h0M723 767h0M718 760h0" stroke="#252d6c" stroke-width="4.0"/>
<path d="M728 745h0M703 781h0M729 742h0M712 747h0M723 742h0M699 735h0M697 775h0M717 755h0M706 749h0M711 751h0M710 754h0M711 778h0M726 751h0M716 749h0M701 753h0M727 754h0M703 759h0" stroke="#6b4b9f" stroke-width="4.0"/>
<path d="M698 776h0M705 778h0M705 772h0M732 745h0M718 750h0M725 740h0M712 748h0M706 765h0M701 779h0M707 743h0M691 745h0M703 736h0M703 755h0M704 743h0M694 763h0M718 754h0M703 775h0M727 753h0M695 753h0M694 775h0" stroke="#c9222b" stroke-width="4.0"/>
<path d="M701 736h0M717 729h0M732 776h0M704 738h0M719 741h0M727 769h0M692 753h0M707 777h0M714 743h0M725 775h0M718 754h0M712 748h0M732 737h0M707 760h0M722 742h0M727 746h0M712 753h0M727 770h0M716 775h0M706 780h0M732 735h0M721 777h0M702 784h0M699 760h0M714 759h0M732 738h0M734 757h0M711 751h0M701 776h0M725 757h0M698 776h0M718 735h0M705 784h0M733 763h0M733 748h0M702 737h0M698 761h0M723 744h0M713 745h0M717 781h0M701 736h0M689 764h0" stroke="#9784bd" stroke-width="4.0"/>
<path d="M716 751h0M700 771h0M720 732h0M719 731h0M721 760h0M708 755h0M702 732h0M701 774h0M697 769h0M690 741h0M689 755h0M733 759h0M692 779h0" stroke="#6b4b9f" stroke-width="4.0"/>
<path d="M714 733h0M730 739h0M696 782h0M708 736h0M690 754h0M728 757h0M725 767h0M693 753h0M709 738h0M732 752h0M697 742h0M708 777h0M696 763h0M726 774h0M711 774h0M713 732h0M699 764h0M696 781h0M689 737h0M691 734h0M686 758h0M730 762h0M688 746h0M694 763h0M736 758h0M724 748h0M696 745h0M723 773h0M739 760h0M715 781h0M706 779h0M703 771h0M695 774h0M695 768h0M694 762h0M685 751h0M726 752h0M692 767h0M703 783h0M691 755h0M727 772h0M691 769h0M724 754h0M707 754h0M713 731h0" stroke="#9784bd" stroke-width="4.0"/>
<path d="M691 750h0M725 738h0M726 737h0M726 738h0M723 738h0M701 760h0M718 770h0M717 777h0M688 763h0M711 778h0M738 765h0M717 755h0M713 753h0M727 769h0M715 771h0" stroke="#252d6c" stroke-width="4.0"/>
<path d="M691 750h0M706 781h0M721 753h0M729 744h0M699 755h0M700 765h0M711 761h0M692 744h0M709 772h0M709 752h0M701 763h0M717 749h0M717 742h0M718 776h0" stroke="#c9222b" stroke-width="4.0"/>
<path d="M700 756h0M713 745h0M713 760h0M720 733h0M702 735h0M730 768h0M714 737h0M708 771h0M732 756h0M725 758h0M716 738h0M718 741h0M735 754h0M726 737h0M706 771h0M719 754h0M732 730h0" stroke="#6b4b9f" stroke-width="4.0"/>
<path d="M697 780h0M691 771h0M689 741h0M706 757h0M699 768h0M702 761h0M686 751h0M705 771h0M717 769h0M702 764h0M730 776h0M732 771h0M730 757h0M699 748h0" stroke="#c9222b" stroke-width="4.0"/>
<path d="M736 748h0M716 752h0M718 745h0M700 778h0M692 768h0M704 763h0M696 747h0M733 759h0M705 754h0M723 735h0M718 769h0M699 747h0M700 750h0M699 760h0M729 772h0M730 745h0M710 757h0M690 760h0M696 751h0M703 769h0M721 743h0M708 775h0M723 745h0M690 748h0M704 734h0M700 748h0M701 751h0M723 768h0M693 768h0M725 755h0M718 768h0M712 749h0M709 764h0M694 739h0M725 731h0M716 757h0M716 747h0M708 740h0M736 750h0M703 766h0M730 757h0M708 767h0M725 734h0M713 743h0M704 737h0" stroke="#9784bd" stroke-width="4.0"/>
<path d="M697 766h0M723 767h0M710 768h0M735 767h0M719 747h0M721 763h0M689 742h0M721 771h0M697 777h0M688 759h0" stroke="#252d6c" stroke-width="4.0"/>
<path d="M789 809h0M797 779h0M810 783h0M776 816h0M808 773h0M804 784h0M769 779h0M786 812h0M813 777h0M772 785h0M813 780h0M768 792h0M789 779h0M796 797h0M819 788h0M820 763h0M750 807h0M800 777h0M788 781h0M759 798h0M818 782h0M789 791h0M809 768h0M814 789h0M761 793h0M796 768h0M780 807h0M768 779h0M810 760h0M753 816h0M803 787h0M782 786h0M785 799h0M813 789h0M771 811h0M768 781h0M820 781h0M776 811h0M778 798h0M783 791h0M780 808h0M815 784h0M790 791h0" stroke="#8dd0df" stroke-width="4.0"/>
<path d="M748 806h0M806 787h0M791 795h0M821 780h0M755 808h0M774 809h0M806 763h0M764 794h0M777 805h0M767 816h0M785 779h0M781 793h0M798 800h0M799 764h0M790 774h0M788 783h0M802 795h0M809 802h0M779 808h0M814 793h0M794 771h0M759 810h0M768 814h0M816 782h0M810 798h0M768 812h0M784 783h0M790 797h0M784 786h0M800 804h0M778 771h0M796 767h0M785 804h0M752 809h0M772 805h0M826 778h0M755 814h0M758 792h0M772 798h0M800 791h0M768 781h0M777 783h0M777 818h0M772 794h0M765 790h0M798 773h0M820 769h0M773 809h0M745 806h0M812 788h0M775 800h0M799 768h0M773 784h0M814 781h0M765 784h0M754 797h0M757 808h0M766 814h0M798 809h0M759 815h0M759 788h0M760 816h0M806 801h0M778 813h0M814 779h0M795 781h0M785 789h0" stroke="#3cb39f" stroke-width="4.0"/>
<path d="M784 779h0M799 790h0M821 772h0M788 783h0M816 770h0M771 803h0M768 789h0M798 806h0M786 808h0M754 810h0M821 780h0M750 813h0M773 813h0M766 789h0M772 805h0M803 791h0M795 800h0M765 786h0M750 804h0M768 790h0M764 799h0M775 801h0M791 799h0M799 806h0M824 787h0M796 802h0M817 767h0M762 784h0M758 787h0M789 799h0M751 790h0M787 808h0" stroke="#8dd0df" stroke-width="4.0"/>
<path d="M751 809h0M789 785h0M790 813h0M808 799h0M795 791h0M818 780h0M818 782h0M776 814h0M811 773h0M820 784h0M820 778h0M811 782h0M787 790h0M770 787h0M799 775h0M802 803h0M817 772h0M789 780h0M777 817h0M780 796h0M769 788h0M753 799h0M755 792h0M802 800h0M804 778h0M747 803h0M758 789h0M823 781h0M798 801h0M822 773h0M747 812h0M825 784h0M759 792h0M769 802h0M794 809h0M802 770h0M781 780h0M756 798h0M825 768h0M745 806h0M809 799h0M765 805h0M787 812h0M825 763h0M797 810h0M797 811h0M810 783h0M822 767h0M805 762h0M770 796h0M804 779h0M788 799h0M775 786h0M803 787h0M820 772h0M767 800h0M805 779h0M765 810h0M760 794h0M769 808h0M771 798h0M814 763h0M810 776h0M775 790h0M797 797h0M790 792h0M760 784h0M778 789h0M772 799h0M783 807h0M786 806h0M794 778h0M780 810h0M786 809h0M750 796h0M762 802h0M793 776h0M819 770h0" stroke="#3cb39f" stroke-width="4.0"/>
<path d="M752 817h0M751 802h0M815 790h0M780 793h0M801 805h0M820 780h0M788 797h0M770 786h0M765 796h0M770 812h0M828 765h0M783 781h0M759 800h0M782 783h0M813 788h0M791 798h0M754 800h0M801 765h0M761 791h0M755 805h0M782 813h0M815 779h0M802 781h0M807 798h0M785 791h0M765 813h0M807 795h0M801 803h0M790 798h0M753 792h0M800 800h0M779 796h0M814 766h0M753 803h0M811 773h0M809 788h0M803 766h0M788 787h0M784 791h0M776 799h0M805 805h0M751 802h0M793 776h0M749 804h0M800 794h0M785 805h0M799 785h0M798 795h0M801 804h0M788 777h0M753 799h0M818 774h0M760 785h0M787 801h0M773 787h0M805 786h0M800 780h0M777 777h0M775 799h0M782 802h0M776 801h0M802 794h0M796 793h0M789 813h0M812 763h0M790 792h0M751 806h0M817 787h0M780 784h0M817 776h0M792 805h0M781 777h0M817 786h0M778 793h0M815 796h0M800 773h0M773 809h0M751 803h0M776 786h0" stroke="#3cb39f" stroke-width="4.0"/>
<path d="M804 776h0M805 763h0M767 798h0M819 781h0M777 786h0M777 811h0M758 812h0M814 759h0M765 807h0M759 796h0M810 787h0M786 767h0M778 788h0M774 807h0M750 802h0M778 814h0M756 801h0M769 800h0M787 793h0M749 813h0M777 788h0M803 783h0M764 820h0M776 813h0M820 780h0M758 807h0M826 766h0M808 782h0M774 799h0M762 786h0M789 767h0" stroke="#8dd0df" stroke-width="4.0"/>
<path d="M691 802h0M701 795h0M699 800h0M684 808h0M693 786h0M695 805h0M693 810h0M686 793h0M682 792h0M687 793h0M683 808h0M700 809h0M701 797h0M702 799h0" stroke="#3cb39f" stroke-width="4.0"/>
<path d="M690 795h0M685 797h0M697 808h0M686 790h0M694 797h0M685 809h0M696 792h0M695 805h0M694 805h0M705 794h0M704 801h0M701 799h0M692 802h0M695 799h0M697 811h0M695 796h0M693 799h0M690 812h0M683 798h0M705 798h0" stroke="#1f8b46" stroke-width="4.0"/>
<path d="M707 794h0M686 807h0M695 804h0M697 797h0M704 799h0M701 802h0" stroke="#f1dc24" stroke-width="4.0"/>
<path d="M562 847h0M550 823h0M690 864h0M666 853h0M557 863h0M590 815h0M568 800h0M583 811h0M533 853h0M536 814h0M551 825h0M661 887h0M646 858h0M628 819h0M653 858h0M641 874h0M626 879h0M602 877h0M621 845h0M605 873h0M669 889h0M664 834h0M685 846h0M556 873h0M571 823h0M685 860h0M607 844h0M600 805h0M642 887h0M538 835h0M645 843h0M619 879h0M542 811h0M603 827h0M588 812h0M689 871h0M614 854h0M696 860h0M616 866h0M615 835h0M528 825h0M703 846h0M572 821h0M683 866h0M637 879h0M595 852h0M617 897h0M614 842h0M583 824h0M524 837h0M633 912h0M579 824h0M634 885h0M643 878h0M560 861h0M683 864h0M625 858h0M647 868h0M660 890h0M554 852h0M573 833h0M609 866h0M572 880h0M573 801h0M575 824h0M596 886h0" stroke="#3cb39f" stroke-width="4.0"/>
<path d="M635 885h0M646 833h0M579 837h0M603 888h0M652 833h0M526 838h0M582 837h0M620 844h0M532 807h0M580 868h0M568 841h0M536 823h0M524 853h0M630 809h0M623 889h0M673 873h0M564 833h0M530 811h0M637 856h0M589 883h0M546 868h0M600 865h0M651 847h0M514 830h0M569 800h0M628 823h0M602 835h0M567 851h0M617 871h0M668 900h0M607 859h0M594 844h0M658 878h0M684 846h0M593 857h0M674 870h0M686 851h0M527 845h0M544 830h0M559 846h0M645 910h0M688 857h0" stroke="#8dd0df" stroke-width="4.0"/>
<path d="M651 894h0M590 839h0M584 804h0M594 883h0M528 856h0" stroke="#f1dc24" stroke-width="4.0"/>
<path d="M628 879h0M512 841h0M657 887h0M573 839h0M537 860h0M580 841h0M678 847h0M580 835h0M562 822h0M614 878h0M552 866h0M637 868h0M650 877h0M576 869h0M603 819h0M584 879h0M546 851h0M594 874h0M572 848h0M532 795h0M546 805h0M614 876h0M595 856h0M563 853h0M549 825h0M521 841h0M643 849h0M613 804h0M533 822h0M556 857h0M585 817h0M607 835h0M629 855h0M534 803h0M580 884h0M548 852h0M558 863h0M592 804h0M600 843h0M567 879h0M618 825h0M592 808h0M586 873h0M552 836h0M572 805h0M659 836h0M572 802h0M633 836h0M665 837h0M682 853h0M645 897h0M573 839h0M635 847h0M546 808h0M563 838h0M586 830h0M615 881h0" stroke="#252d6c" stroke-width="4.0"/>
<path d="M633 835h0M533 830h0M644 902h0M617 880h0M600 852h0M661 831h0M558 832h0M596 813h0M549 806h0M644 870h0M672 864h0M561 843h0M582 814h0M543 809h0M606 872h0M618 804h0M652 824h0" stroke="#80bf5b" stroke-width="4.0"/>
<path d="M548 826h0M615 803h0M638 859h0M673 859h0M644 840h0M658 893h0M591 858h0M561 861h0M690 846h0M554 819h0M690 872h0M541 852h0M593 890h0M617 878h0M567 838h0M610 893h0M551 837h0" stroke="#0f6c76" stroke-width="4.0"/>
<path d="M615 882h0M562 841h0M616 872h0M562 861h0M621 864h0M611 884h0M616 854h0M662 853h0M630 871h0M669 893h0M666 837h0M593 864h0M670 866h0M556 837h0M560 814h0M626 816h0M651 903h0M570 846h0M674 841h0M657 902h0M626 905h0" stroke="#9784bd" stroke-width="4.0"/>
<path d="M645 822h0M579 797h0M612 855h0M627 840h0M644 890h0M635 894h0M545 801h0M530 847h0M644 832h0M523 836h0M583 837h0M652 843h0M604 863h0M537 837h0M539 844h0M536 832h0M621 873h0M657 881h0M667 854h0M639 910h0M550 821h0M529 809h0M550 866h0M533 859h0M635 906h0M652 832h0M627 850h0M630 808h0M651 849h0M588 862h0M635 832h0M566 812h0M677 882h0M567 826h0M603 821h0" stroke="#7a2b8f" stroke-width="4.0"/>
<path d="M634 869h0M696 854h0M676 889h0M667 850h0M574 813h0M676 848h0M531 864h0M574 823h0M587 830h0M585 864h0M641 828h0M603 814h0M664 890h0M529 856h0M566 803h0M640 879h0M530 846h0M642 845h0M521 823h0M629 870h0M529 826h0M578 824h0M646 907h0M606 863h0M563 841h0M605 830h0M697 863h0M607 821h0M586 877h0M611 852h0M659 889h0M592 830h0M555 813h0M637 888h0M543 826h0M569 798h0M584 867h0M602 834h0" stroke="#e97b2f" stroke-width="4.0"/>
<path d="M567 851h0M581 819h0M567 869h0M636 879h0M579 814h0M578 839h0M560 868h0M608 811h0" stroke="#e8797d" stroke-width="4.0"/>
<path d="M557 808h0M530 842h0M532 863h0M572 881h0M642 865h0M651 841h0M661 825h0M564 805h0M651 845h0M682 856h0M688 845h0M576 839h0M536 859h0M624 892h0M602 831h0M588 875h0M573 831h0M593 799h0M581 859h0M631 897h0M638 819h0M601 881h0M637 894h0M597 835h0M608 840h0M610 860h0M639 871h0M536 841h0M688 849h0M629 854h0M548 814h0M589 881h0M580 876h0M645 907h0M523 828h0M637 861h0M587 819h0M564 839h0M653 851h0M553 874h0M566 862h0M583 851h0M663 848h0M624 826h0M624 810h0M547 851h0M655 894h0M625 834h0M632 859h0M630 885h0M671 851h0M668 895h0M658 833h0M530 831h0M543 843h0M588 806h0M596 843h0M616 856h0" stroke="#c9222b" stroke-width="4.0"/>
<path d="M665 839h0M579 833h0M616 846h0M613 798h0M618 812h0M654 841h0M586 865h0M664 851h0M593 870h0M601 862h0M563 814h0M644 816h0M650 838h0M623 817h0M670 883h0M560 872h0M578 872h0M635 879h0M588 838h0M519 849h0" stroke="#8b9bcb" stroke-width="4.0"/>
<path d="M629 836h0M539 821h0M637 834h0M520 801h0M619 841h0M573 881h0M594 853h0M628 854h0M581 835h0M641 821h0M681 873h0M552 826h0M661 893h0M603 837h0M634 843h0M603 883h0M561 849h0M543 831h0M576 842h0M613 888h0M578 829h0M652 894h0M559 871h0M656 841h0M626 858h0M695 844h0M572 863h0M627 873h0M532 848h0M661 903h0M596 883h0M659 878h0M659 833h0" stroke="#6b4b9f" stroke-width="4.0"/>
<path d="M559 829h0M595 843h0M692 859h0M517 812h0M641 823h0M579 850h0M585 838h0M522 817h0M664 853h0M583 810h0M578 864h0M646 867h0M579 850h0M570 869h0M599 829h0M641 862h0M640 864h0M618 836h0M690 855h0M594 806h0M582 804h0M667 864h0M531 833h0M546 808h0M556 833h0M602 835h0M551 849h0M670 857h0M623 845h0M625 834h0M572 849h0M583 805h0M581 810h0M653 831h0M631 888h0M524 818h0M643 877h0M553 825h0M637 826h0M570 815h0M515 834h0M601 823h0M558 798h0M539 820h0M537 822h0" stroke="#c9222b" stroke-width="4.0"/>
<path d="M664 902h0M679 872h0M533 797h0M609 891h0M565 855h0M555 834h0M675 842h0M620 836h0M545 818h0M587 833h0M634 876h0M639 875h0M577 846h0M576 819h0M686 860h0M607 810h0M573 864h0M514 819h0M628 878h0M555 811h0M671 837h0M672 875h0M563 809h0M550 854h0M573 800h0M620 839h0M539 805h0M594 810h0M632 894h0M543 795h0M654 841h0M563 875h0M663 843h0M624 863h0M569 842h0M644 872h0M570 797h0M608 875h0M570 875h0M661 846h0M623 842h0M657 840h0M574 867h0M609 801h0M581 880h0M533 835h0M628 845h0M652 885h0M518 835h0M529 832h0M535 803h0M618 838h0M640 817h0M579 866h0M602 864h0M583 880h0M551 855h0M637 889h0M653 853h0M532 824h0M685 861h0M646 855h0M526 852h0M537 820h0M529 817h0M581 851h0M634 880h0M640 897h0M613 825h0" stroke="#3cb39f" stroke-width="4.0"/>
<path d="M567 839h0M550 797h0M651 829h0M553 798h0M635 838h0M644 896h0M628 863h0M651 881h0M644 816h0M537 864h0M576 874h0M511 823h0M627 831h0M615 859h0M597 842h0M546 833h0" stroke="#80bf5b" stroke-width="4.0"/>
<path d="M679 868h0M633 873h0M621 873h0M635 841h0M626 838h0M656 854h0M559 865h0M645 821h0M681 848h0M617 814h0M568 834h0M587 829h0M590 876h0M663 854h0M538 837h0M640 862h0M540 838h0M653 899h0M636 850h0M581 838h0M570 872h0M674 847h0M515 833h0M666 878h0M563 824h0M681 849h0M685 860h0M644 816h0" stroke="#6b4b9f" stroke-width="4.0"/>
<path d="M600 807h0M662 838h0M551 856h0M645 823h0M669 897h0M574 804h0M595 879h0M666 845h0M634 812h0M623 904h0M629 812h0M529 855h0M585 886h0M571 823h0M612 864h0M663 842h0M703 848h0M659 881h0M545 848h0M694 858h0M596 875h0M606 858h0M578 859h0M571 802h0M671 891h0M672 874h0M512 814h0M672 877h0M563 861h0M520 824h0M522 841h0" stroke="#8b9bcb" stroke-width="4.0"/>
<path d="M557 804h0M606 827h0M604 889h0M587 845h0M655 851h0M597 865h0M679 870h0M631 823h0M583 857h0M618 842h0M577 836h0M553 877h0M544 864h0M563 803h0M659 904h0M686 849h0M542 852h0M623 823h0M608 815h0M612 846h0M654 857h0M644 872h0M537 822h0M610 863h0M604 878h0M677 845h0M622 872h0M638 891h0M553 853h0M700 863h0M566 829h0M535 825h0M635 894h0M545 862h0M647 879h0M540 856h0M659 854h0M621 839h0M692 845h0M576 822h0M623 857h0M700 847h0M593 826h0M593 829h0M660 835h0M544 854h0M646 868h0M639 860h0M552 817h0M587 827h0M530 840h0M523 840h0M678 862h0M601 800h0M668 898h0M613 842h0M644 893h0M532 811h0M691 862h0M557 868h0M588 871h0M541 821h0M661 860h0M656 906h0M519 840h0M660 889h0M610 892h0M600 890h0M653 828h0M575 863h0M615 882h0M568 813h0" stroke="#252d6c" stroke-width="4.0"/>
<path d="M547 862h0M545 850h0M543 854h0M632 896h0M600 806h0M551 815h0M652 851h0M541 847h0M607 823h0M540 841h0M670 842h0M570 793h0M659 894h0M651 828h0M580 804h0M648 903h0M609 816h0M599 871h0M569 856h0M603 863h0M641 879h0" stroke="#9784bd" stroke-width="4.0"/>
<path d="M545 831h0M617 831h0M580 857h0M586 844h0M541 809h0M537 824h0M627 904h0M643 828h0M592 848h0" stroke="#f1dc24" stroke-width="4.0"/>
<path d="M539 810h0M651 872h0M641 830h0M536 817h0M519 839h0M580 837h0M608 866h0M605 822h0M545 853h0M591 873h0M602 852h0M563 849h0M632 875h0M631 849h0M593 842h0M694 845h0M637 819h0M578 858h0M531 853h0M556 833h0M605 839h0M627 883h0M621 815h0" stroke="#7a2b8f" stroke-width="4.0"/>
<path d="M655 895h0M620 833h0M633 908h0M527 858h0M696 849h0M664 896h0M592 811h0M562 825h0M620 852h0M648 906h0M583 875h0M670 860h0M549 869h0M568 818h0M539 827h0M618 823h0M577 812h0M599 864h0M522 833h0M563 826h0M606 886h0M652 865h0M627 886h0M677 860h0M525 819h0M678 871h0M641 865h0M516 819h0M557 798h0M621 858h0M550 801h0M524 850h0M591 803h0M606 861h0M564 856h0M645 874h0M600 845h0M588 884h0M605 815h0M542 825h0M623 816h0M679 875h0" stroke="#8dd0df" stroke-width="4.0"/>
<path d="M559 798h0M644 893h0M626 824h0M631 891h0M547 815h0M603 878h0M612 834h0M554 817h0" stroke="#e8797d" stroke-width="4.0"/>
<path d="M555 851h0M670 884h0M567 830h0M665 837h0M656 887h0M557 869h0M660 901h0M652 865h0M558 847h0M625 817h0M525 832h0M610 857h0M602 884h0M548 857h0M567 871h0M682 843h0M605 824h0M604 836h0M574 843h0M579 808h0M537 832h0" stroke="#0f6c76" stroke-width="4.0"/>
<path d="M527 843h0M694 853h0M601 880h0M668 833h0M620 876h0M617 871h0M564 877h0M554 822h0M664 841h0M680 858h0M647 836h0M684 853h0M635 892h0M552 861h0M581 853h0M587 871h0M644 829h0M545 858h0M551 866h0M620 866h0M634 843h0M530 833h0M642 908h0M665 891h0M557 867h0M584 827h0M555 843h0M561 825h0M660 854h0M533 838h0M645 906h0M538 816h0" stroke="#e97b2f" stroke-width="4.0"/>
<path d="M632 842h0M634 909h0M652 840h0M665 871h0M602 808h0M578 846h0M641 814h0M535 836h0M524 812h0M695 845h0M551 849h0M598 821h0M596 825h0M589 805h0M621 865h0M596 818h0M662 865h0M536 848h0M614 866h0M581 809h0M603 825h0M551 830h0M605 835h0M615 885h0M603 871h0M602 858h0M611 895h0M591 842h0M519 809h0M538 813h0M566 837h0M616 844h0M639 837h0M645 873h0M536 836h0M651 828h0M620 825h0M633 845h0M665 850h0M664 878h0M631 873h0M600 845h0M656 829h0M546 865h0M613 819h0M634 904h0" stroke="#e97b2f" stroke-width="4.0"/>
<path d="M583 831h0M571 849h0M612 843h0M544 866h0M628 834h0M689 869h0M616 828h0M572 872h0M535 832h0M602 835h0M658 894h0M586 870h0M638 859h0M569 840h0M518 837h0M597 807h0M575 843h0M569 804h0M624 827h0M577 872h0M664 852h0" stroke="#9784bd" stroke-width="4.0"/>
<path d="M580 827h0M580 810h0M588 808h0M595 845h0M546 855h0M590 854h0M629 881h0M643 871h0M627 839h0M515 826h0M544 802h0M540 833h0M626 898h0M605 821h0M552 839h0M588 874h0M567 805h0M694 859h0M549 804h0M680 874h0M607 871h0M577 811h0M565 822h0M606 823h0M584 861h0M616 819h0M610 850h0M590 871h0M691 861h0M591 842h0M608 861h0M601 890h0M600 811h0M553 835h0" stroke="#8b9bcb" stroke-width="4.0"/>
<path d="M612 890h0M639 897h0M634 902h0M630 859h0M642 912h0M646 891h0M619 865h0M593 853h0M642 856h0M570 821h0M567 864h0M520 825h0M612 884h0M663 872h0M550 850h0M596 872h0M594 851h0M682 863h0M647 828h0M676 856h0M603 799h0M670 850h0M620 866h0M570 806h0M588 827h0M640 844h0M523 819h0M565 839h0M565 858h0M658 874h0M657 871h0M641 905h0M602 831h0M552 827h0M608 869h0M666 834h0M544 839h0M694 863h0M582 837h0M592 884h0M537 827h0M569 842h0M546 838h0M585 798h0M669 835h0M659 863h0M645 834h0M612 866h0M586 848h0M617 859h0M519 815h0M644 827h0M648 895h0M596 890h0M625 875h0M694 854h0M672 897h0M637 894h0M573 821h0M676 866h0M594 877h0M653 868h0M616 812h0M537 844h0M636 896h0M569 859h0M675 839h0M557 839h0M617 852h0M599 862h0M581 831h0M630 888h0M600 819h0M535 805h0M578 803h0M588 797h0M570 858h0" stroke="#252d6c" stroke-width="4.0"/>
<path d="M570 841h0M634 840h0M657 833h0M558 871h0M569 866h0" stroke="#f1dc24" stroke-width="4.0"/>
<path d="M548 840h0M619 816h0M701 860h0M675 851h0M637 813h0M547 820h0M572 812h0M667 885h0M535 848h0M655 884h0" stroke="#e8797d" stroke-width="4.0"/>
<path d="M587 861h0M533 819h0M660 895h0M626 882h0M625 869h0M623 810h0M673 835h0M638 834h0M618 813h0M535 805h0M616 871h0M577 807h0M628 815h0M563 838h0M673 863h0M528 815h0M514 826h0M630 830h0M615 884h0M538 856h0M602 808h0M647 865h0M638 871h0M584 810h0M656 841h0M609 833h0M654 884h0M615 871h0M555 850h0M652 828h0M608 834h0M625 845h0M659 855h0M552 805h0M546 819h0M548 857h0" stroke="#8dd0df" stroke-width="4.0"/>
<path d="M604 814h0M598 859h0M561 812h0M541 858h0M656 850h0M629 871h0M575 794h0M680 856h0M591 865h0M653 871h0M676 879h0M555 839h0M680 871h0M643 875h0M637 898h0M664 850h0M686 845h0M654 838h0M542 864h0M656 857h0M613 811h0M548 828h0M623 811h0M566 866h0M685 852h0M543 802h0M544 845h0M608 821h0M611 832h0M578 859h0M569 806h0M648 889h0M672 862h0M661 849h0M622 825h0M578 799h0M607 887h0M551 805h0M704 860h0M666 873h0M609 850h0M629 877h0M656 891h0M594 868h0M610 874h0M604 815h0M589 807h0M681 848h0M558 875h0M626 871h0M666 890h0M585 882h0M562 860h0" stroke="#3cb39f" stroke-width="4.0"/>
<path d="M633 819h0M576 798h0M642 863h0M589 798h0M602 830h0M673 892h0M628 844h0M660 896h0M548 819h0M550 799h0M591 798h0M613 892h0M587 844h0M675 866h0M601 889h0M694 867h0M660 867h0" stroke="#80bf5b" stroke-width="4.0"/>
<path d="M614 881h0M677 853h0M603 891h0M565 829h0M628 819h0M560 860h0M645 891h0M599 826h0M520 833h0M624 825h0M628 894h0M547 863h0M639 846h0M671 897h0M577 839h0M578 858h0M635 861h0M665 861h0M516 821h0M572 801h0M672 841h0M547 809h0M642 886h0M651 851h0M607 825h0M634 862h0M594 835h0M700 841h0M638 833h0M593 840h0M633 889h0M569 871h0M607 862h0M546 815h0" stroke="#c9222b" stroke-width="4.0"/>
<path d="M605 864h0M607 867h0M642 883h0M527 814h0M537 835h0M567 881h0M643 877h0M641 844h0M632 863h0M677 837h0M581 850h0M600 811h0M616 804h0M654 891h0M608 860h0M560 806h0M662 828h0M649 903h0M707 854h0M675 858h0M606 827h0M682 854h0M620 824h0M524 838h0M568 870h0M570 859h0M653 880h0M606 861h0M684 862h0M606 838h0" stroke="#0f6c76" stroke-width="4.0"/>
<path d="M530 833h0M617 817h0M630 878h0M614 861h0M687 846h0M625 841h0M537 854h0M623 842h0M518 840h0M626 841h0M657 883h0M653 823h0M535 847h0M593 812h0M591 804h0M630 909h0M613 843h0M648 848h0M559 803h0M647 897h0M539 843h0M529 819h0M563 866h0" stroke="#6b4b9f" stroke-width="4.0"/>
<path d="M549 835h0M561 796h0M645 835h0M569 829h0M594 844h0M544 864h0M628 905h0M683 843h0M659 876h0M648 841h0M547 856h0M625 851h0M628 812h0M567 860h0M584 881h0M639 840h0M683 856h0M552 811h0M523 798h0M632 908h0M552 840h0M608 877h0M650 824h0M614 803h0M592 807h0M614 865h0M555 838h0M693 848h0M599 846h0M582 880h0M645 909h0" stroke="#7a2b8f" stroke-width="4.0"/>
<path d="M681 874h0M586 796h0M628 884h0M587 870h0M552 815h0M584 881h0M617 812h0M615 824h0M605 865h0M624 868h0M640 855h0M536 829h0M592 875h0M571 797h0M546 837h0M612 819h0M628 829h0M613 810h0M674 882h0M580 864h0M579 831h0M619 899h0M586 855h0M642 909h0M633 853h0M615 836h0M658 896h0M599 852h0M594 806h0M667 852h0M587 824h0M563 811h0M572 815h0M651 872h0M519 844h0M579 808h0M684 842h0" stroke="#e97b2f" stroke-width="4.0"/>
<path d="M650 848h0M619 847h0M526 840h0M647 904h0M581 820h0M638 895h0M632 851h0M610 832h0M547 834h0M680 857h0M577 850h0M651 902h0M592 845h0M595 861h0M690 849h0M583 844h0M639 814h0M529 822h0M560 847h0M624 887h0M627 881h0M567 843h0M543 846h0M542 835h0M593 880h0M606 836h0" stroke="#7a2b8f" stroke-width="4.0"/>
<path d="M633 905h0M596 887h0M662 887h0M641 912h0M644 900h0M627 878h0M646 893h0M562 869h0M665 858h0M653 882h0M625 809h0M589 864h0M655 900h0M576 835h0M630 819h0M639 906h0M598 860h0M588 828h0M587 885h0M637 898h0M570 870h0M569 870h0M547 831h0M611 818h0M602 864h0M547 869h0M536 807h0M558 823h0M575 884h0M562 844h0M571 834h0M651 901h0M588 847h0M580 814h0M599 819h0M596 844h0M546 836h0M703 852h0M641 830h0M649 867h0M536 829h0M669 855h0M519 823h0M592 855h0M558 873h0M583 818h0M592 831h0M603 840h0M610 847h0" stroke="#c9222b" stroke-width="4.0"/>
<path d="M601 809h0M532 838h0M659 838h0M537 808h0M700 854h0M536 825h0M686 849h0M569 826h0M638 821h0M608 806h0M631 822h0M564 839h0M601 840h0M610 870h0M645 850h0M657 891h0M663 861h0M641 890h0M618 839h0" stroke="#9784bd" stroke-width="4.0"/>
<path d="M677 872h0M603 822h0M643 879h0M620 885h0M580 860h0M624 870h0M540 819h0M578 875h0M530 800h0M543 861h0M599 800h0M645 891h0M561 814h0M621 810h0M579 886h0M681 869h0M610 835h0M597 816h0M629 814h0M586 825h0M523 821h0M527 818h0M645 849h0M633 904h0M636 818h0M600 831h0M630 869h0M604 884h0M627 880h0M574 850h0M575 818h0M567 820h0M676 842h0M569 864h0M591 855h0M609 828h0M596 834h0" stroke="#8dd0df" stroke-width="4.0"/>
<path d="M666 895h0M609 828h0M647 871h0M639 831h0M549 816h0M646 888h0M588 866h0M583 801h0M552 869h0M655 839h0M705 850h0M518 837h0M531 825h0M576 835h0M612 865h0M636 861h0M631 822h0M544 809h0M627 816h0M609 817h0M646 906h0M655 855h0M595 841h0M606 829h0M548 859h0M605 866h0M581 809h0M621 824h0M547 864h0M520 850h0M639 913h0M606 855h0M644 904h0M619 866h0M521 805h0M563 863h0M599 834h0M531 841h0M679 852h0M617 803h0M629 900h0M568 847h0M552 817h0M561 849h0M520 828h0M648 883h0M661 875h0M568 857h0M661 877h0M601 862h0M539 850h0M671 869h0M527 850h0M558 833h0M603 872h0M600 882h0M563 798h0M699 846h0M558 873h0M528 828h0M564 873h0M606 806h0M630 849h0M647 855h0M580 864h0M666 832h0M653 865h0M632 881h0M631 818h0M623 861h0M602 883h0M663 848h0M669 886h0M613 871h0M561 818h0" stroke="#3cb39f" stroke-width="4.0"/>
<path d="M610 846h0M594 882h0M652 900h0M636 889h0M605 859h0M515 821h0M663 875h0M655 855h0M640 838h0M610 856h0" stroke="#e8797d" stroke-width="4.0"/>
<path d="M549 816h0M652 859h0M610 888h0M683 857h0M672 905h0M562 842h0M687 839h0" stroke="#f1dc24" stroke-width="4.0"/>
<path d="M551 859h0M561 817h0M634 864h0M524 819h0M528 852h0M611 870h0M552 832h0M554 806h0M528 806h0M524 837h0M520 844h0M643 899h0M562 872h0M586 887h0M684 863h0M638 839h0M542 837h0M619 845h0M632 865h0M661 888h0M592 814h0M536 802h0M652 867h0M575 876h0M674 879h0M601 826h0M512 813h0M567 798h0M577 820h0M624 848h0" stroke="#6b4b9f" stroke-width="4.0"/>
<path d="M602 870h0M642 827h0M665 884h0M564 878h0M676 848h0M636 892h0M558 871h0M611 810h0M583 870h0M646 884h0M603 868h0M583 825h0M551 827h0M629 850h0M619 832h0M582 873h0M654 827h0M647 860h0M684 842h0M547 815h0M529 824h0M533 862h0M665 830h0M698 858h0M631 879h0M537 838h0M655 898h0M624 873h0M665 885h0M612 841h0M581 839h0M526 839h0M582 858h0M588 862h0" stroke="#8b9bcb" stroke-width="4.0"/>
<path d="M703 850h0M636 822h0M556 797h0M583 881h0M556 814h0M667 846h0M515 830h0M589 874h0M590 815h0M641 840h0M579 800h0M662 865h0M569 846h0M558 862h0M624 823h0M543 810h0M559 853h0M639 842h0" stroke="#80bf5b" stroke-width="4.0"/>
<path d="M682 864h0M632 904h0M579 820h0M675 875h0M574 860h0M548 864h0M540 834h0M561 800h0M596 876h0M532 834h0M586 871h0M662 876h0M650 899h0M574 837h0M698 853h0M660 823h0M697 850h0M667 841h0M520 811h0M571 797h0M643 913h0M600 818h0M612 850h0M606 833h0M554 871h0M550 800h0M538 813h0M599 842h0M637 849h0M596 870h0M642 837h0M607 821h0M660 898h0M536 848h0M636 823h0M666 854h0M600 812h0M643 841h0M694 860h0M563 819h0M587 813h0M690 854h0M559 863h0M660 890h0M533 821h0M693 853h0M621 826h0M514 838h0M640 900h0M610 878h0M560 818h0M628 853h0" stroke="#252d6c" stroke-width="4.0"/>
<path d="M589 885h0M637 867h0M614 817h0M533 804h0M581 850h0M582 845h0M633 860h0M539 846h0M548 855h0M563 838h0M565 841h0M660 829h0M605 806h0M639 865h0M613 821h0M559 828h0M626 885h0M597 887h0M627 890h0M616 812h0M520 837h0M527 854h0M614 853h0" stroke="#0f6c76" stroke-width="4.0"/>
<path d="M568 862h0M627 839h0M605 880h0M643 823h0M558 867h0M657 891h0M534 827h0M625 840h0M612 858h0M633 844h0M585 824h0M582 870h0M657 866h0M637 878h0M602 889h0M649 879h0M589 884h0M603 804h0M547 862h0M658 845h0M629 874h0M612 879h0M618 842h0M665 870h0M653 864h0M551 876h0M563 819h0M641 817h0M545 837h0M635 900h0M513 835h0M560 808h0M671 837h0" stroke="#8dd0df" stroke-width="4.0"/>
<path d="M598 811h0M582 825h0M567 850h0M672 881h0M563 877h0M609 825h0M634 870h0M651 838h0M614 877h0M580 814h0M538 840h0M641 877h0M629 829h0M574 826h0M695 847h0M640 835h0M634 819h0M566 814h0M646 860h0M662 847h0M669 867h0M668 894h0M545 816h0M583 883h0M605 798h0M642 823h0M676 830h0M625 824h0M612 866h0M539 828h0M667 861h0M576 834h0M661 832h0M523 819h0M630 869h0M590 855h0M552 870h0M574 861h0M613 833h0" stroke="#e97b2f" stroke-width="4.0"/>
<path d="M579 803h0M631 859h0M536 825h0M572 808h0M598 857h0M628 827h0M538 850h0M687 852h0M517 811h0M656 858h0M658 890h0M562 859h0M628 884h0M580 865h0M572 863h0M604 823h0M627 890h0M621 812h0M567 852h0M586 826h0M595 801h0M583 869h0M595 835h0M515 829h0M660 899h0M611 847h0M640 883h0M549 820h0M622 805h0M535 851h0M602 866h0M629 815h0M617 863h0M585 808h0M613 858h0M590 805h0M633 902h0M671 852h0M534 822h0M609 851h0M511 814h0M659 839h0M578 868h0M512 821h0M630 907h0M624 902h0M582 872h0M625 845h0M614 829h0M676 864h0M646 849h0M697 843h0M632 879h0M568 870h0M643 822h0M542 854h0M570 862h0M651 886h0M649 881h0M586 798h0M585 882h0M634 896h0M558 817h0M558 869h0M668 884h0M546 852h0M635 849h0M572 856h0M590 873h0M524 820h0M609 863h0M564 872h0M544 802h0M630 892h0M597 881h0" stroke="#3cb39f" stroke-width="4.0"/>
<path d="M674 878h0M664 832h0M623 842h0M598 855h0M547 842h0M636 836h0M635 823h0M620 856h0M548 864h0M647 870h0M654 851h0M622 863h0M603 842h0M589 859h0M643 829h0M593 827h0M651 871h0M635 859h0M515 824h0M521 835h0M654 828h0M530 845h0M644 826h0M649 885h0M669 852h0M649 831h0M566 881h0M534 826h0M650 863h0M626 835h0M661 832h0M647 857h0M655 900h0M647 901h0" stroke="#7a2b8f" stroke-width="4.0"/>
<path d="M602 798h0M577 831h0M611 862h0M626 865h0M616 828h0M630 812h0M539 797h0M547 851h0M536 837h0M655 883h0M656 883h0M612 855h0M652 902h0M645 837h0M627 828h0M594 877h0M604 874h0M519 826h0M582 839h0M627 876h0M652 854h0M586 833h0M652 826h0M601 887h0M552 804h0M568 835h0M655 875h0M686 864h0M672 858h0M584 856h0M610 847h0M700 849h0M575 866h0M654 846h0M651 882h0M653 856h0M510 827h0M560 805h0M688 838h0M592 835h0M696 844h0M558 838h0M673 870h0M677 847h0M633 851h0M635 908h0M590 810h0" stroke="#c9222b" stroke-width="4.0"/>
<path d="M583 831h0M655 822h0M600 874h0M607 882h0M579 860h0M599 823h0M554 802h0M563 858h0M598 835h0M676 890h0M672 869h0M616 809h0M561 844h0M573 804h0M639 832h0M609 810h0M637 858h0M564 855h0M564 868h0M637 832h0M530 845h0M683 844h0M578 834h0M619 826h0M534 822h0" stroke="#6b4b9f" stroke-width="4.0"/>
<path d="M558 818h0M581 862h0M528 850h0M519 808h0M531 813h0M618 867h0M586 842h0M598 812h0" stroke="#e8797d" stroke-width="4.0"/>
<path d="M585 836h0M639 857h0M532 803h0M521 838h0M664 862h0M608 812h0M594 847h0M633 896h0M597 825h0M580 853h0M528 819h0M590 883h0M645 832h0M620 859h0M660 881h0M622 882h0M656 868h0M645 831h0M641 817h0M676 868h0M553 821h0M614 820h0" stroke="#0f6c76" stroke-width="4.0"/>
<path d="M639 886h0M591 796h0M603 888h0M672 863h0M592 815h0M634 843h0M562 821h0M547 799h0M602 890h0M642 832h0M637 861h0M691 862h0M591 844h0M594 852h0M534 809h0M575 835h0M614 805h0M666 848h0M628 891h0M655 899h0M557 841h0M633 876h0M676 855h0M648 832h0M555 868h0M596 844h0M619 808h0M555 822h0M527 856h0M610 890h0M624 885h0M562 845h0M562 847h0M628 897h0M609 803h0M556 814h0M626 811h0M632 873h0M656 861h0M603 861h0M558 806h0M613 833h0" stroke="#8b9bcb" stroke-width="4.0"/>
<path d="M536 831h0M592 881h0M642 903h0M640 908h0M624 815h0M577 875h0M566 832h0M624 901h0M624 884h0M633 826h0M656 827h0M543 807h0M577 838h0" stroke="#80bf5b" stroke-width="4.0"/>
<path d="M535 804h0M543 842h0M586 841h0M576 810h0M564 801h0M658 904h0M577 823h0M635 882h0M623 820h0M533 824h0M637 884h0M647 880h0M532 841h0M611 823h0M596 863h0" stroke="#9784bd" stroke-width="4.0"/>
<path d="M595 872h0M616 829h0M595 805h0M676 879h0M633 858h0M643 881h0M615 809h0M661 849h0" stroke="#f1dc24" stroke-width="4.0"/>
<path d="M577 815h0M652 849h0M623 870h0M537 814h0M700 857h0M609 880h0M536 850h0M669 846h0M527 815h0M559 828h0M586 815h0M600 883h0M560 838h0M582 866h0M615 827h0M586 804h0M639 818h0M548 844h0M600 887h0M674 841h0M610 814h0M633 899h0M534 822h0M597 830h0M556 835h0M665 870h0M666 894h0M617 833h0M518 809h0M644 819h0M655 877h0M591 885h0M654 858h0M591 817h0M631 884h0M585 797h0M632 843h0M557 809h0M625 816h0M687 858h0M629 813h0M653 836h0M624 859h0M642 841h0M650 908h0M600 807h0M640 846h0M619 851h0M549 846h0M529 850h0M534 866h0M638 879h0M657 858h0M636 853h0M631 832h0" stroke="#252d6c" stroke-width="4.0"/>
<path d="M584 801h0M605 861h0M648 834h0M564 817h0M620 881h0M573 838h0M568 798h0M682 866h0M573 877h0M655 887h0M646 861h0M706 858h0M573 841h0M667 883h0M546 863h0M657 844h0M660 898h0M645 894h0M573 827h0M574 798h0M533 838h0M543 843h0M530 847h0M627 877h0M632 891h0M665 891h0M632 825h0M597 836h0M579 835h0M614 818h0M640 851h0M524 825h0M573 879h0M587 852h0M511 828h0M628 870h0M627 833h0M604 880h0M696 850h0M525 832h0" stroke="#8dd0df" stroke-width="4.0"/>
<path d="M564 835h0M636 874h0M655 832h0M572 842h0M629 884h0M684 854h0M515 819h0M607 885h0M552 845h0M592 829h0M633 883h0M540 845h0M546 837h0M587 879h0M561 844h0M562 869h0M557 843h0M554 813h0" stroke="#80bf5b" stroke-width="4.0"/>
<path d="M607 850h0M679 861h0M615 845h0M634 899h0M599 828h0M640 861h0M559 858h0M671 830h0M636 892h0M647 889h0M621 806h0M603 882h0M541 849h0M602 861h0M633 865h0M582 847h0M560 843h0M668 898h0M616 887h0M585 834h0M680 847h0M582 873h0M625 841h0M539 843h0M549 806h0M643 880h0" stroke="#0f6c76" stroke-width="4.0"/>
<path d="M547 803h0M582 846h0M619 870h0M575 835h0M616 818h0M530 852h0M595 820h0M579 850h0M676 866h0M594 871h0M627 843h0M595 853h0M565 806h0M538 822h0M626 848h0M562 855h0M652 873h0M621 837h0M572 803h0M575 826h0" stroke="#8b9bcb" stroke-width="4.0"/>
<path d="M671 836h0M528 825h0M532 860h0M659 850h0M628 846h0M642 906h0M552 840h0M634 833h0M599 818h0M627 874h0M685 872h0M676 864h0M633 864h0M646 898h0M662 855h0M686 871h0M654 912h0M621 809h0M700 855h0M557 806h0M640 825h0M636 897h0M660 836h0M664 901h0M684 847h0M576 853h0M596 879h0M563 836h0M523 842h0M615 826h0M643 869h0M664 854h0M545 796h0M679 886h0M580 866h0M602 797h0M644 875h0M586 831h0M609 840h0M574 856h0M578 840h0M600 803h0M561 860h0M660 888h0M527 806h0M552 822h0M521 808h0M612 877h0M636 828h0M561 860h0M595 849h0M640 832h0M543 832h0M515 817h0M624 828h0M658 866h0M554 826h0M625 896h0M594 865h0M589 862h0M621 831h0M546 862h0M619 836h0M592 861h0M612 810h0M592 816h0M562 840h0" stroke="#252d6c" stroke-width="4.0"/>
<path d="M614 861h0M606 842h0M581 875h0M632 888h0M628 864h0M654 851h0M537 815h0M641 836h0M545 852h0M595 824h0M665 865h0M682 862h0M534 856h0M627 819h0M562 855h0M530 856h0M617 838h0M654 875h0M570 882h0M637 827h0M669 837h0M638 838h0M658 897h0M623 838h0M573 817h0M641 848h0M657 872h0M691 867h0M641 857h0M560 842h0M688 842h0M598 865h0M607 872h0M526 850h0M590 815h0M516 823h0M640 908h0M595 811h0M663 862h0M538 846h0M649 865h0M635 819h0M525 820h0" stroke="#c9222b" stroke-width="4.0"/>
<path d="M646 899h0M599 875h0M582 850h0M687 858h0M692 862h0M579 853h0M662 880h0M562 839h0" stroke="#e8797d" stroke-width="4.0"/>
<path d="M556 796h0M611 872h0M646 875h0M568 800h0M633 896h0M507 834h0M613 872h0" stroke="#f1dc24" stroke-width="4.0"/>
<path d="M624 879h0M643 901h0M621 835h0M668 892h0M569 844h0M629 821h0M631 830h0M571 839h0M593 867h0M619 860h0M546 813h0M602 824h0M670 875h0M531 817h0M653 834h0M651 853h0M659 840h0M537 811h0M654 888h0M569 827h0M597 827h0M572 796h0M650 895h0M558 856h0M615 831h0M617 864h0M642 905h0M659 829h0M573 871h0M572 815h0M571 871h0M550 794h0M618 805h0M569 858h0M611 869h0M588 858h0M620 829h0M661 892h0M701 848h0M561 795h0M540 844h0M559 815h0M671 864h0M550 821h0M639 854h0M695 866h0M532 842h0M658 902h0M686 858h0M630 905h0M610 803h0M601 854h0M575 799h0M637 840h0M651 831h0M598 870h0M672 876h0M698 848h0M561 850h0M572 810h0M555 859h0M658 883h0M635 832h0M579 875h0" stroke="#3cb39f" stroke-width="4.0"/>
<path d="M630 813h0M599 886h0M660 843h0M676 839h0M550 824h0M652 839h0M608 840h0M584 817h0M679 857h0M566 826h0M700 848h0M613 810h0M614 850h0M624 851h0M550 811h0M653 847h0M640 823h0M626 845h0M609 848h0M639 896h0M555 838h0M623 867h0M658 844h0M543 829h0M686 848h0M660 888h0M614 901h0M657 827h0M639 881h0M604 855h0M656 859h0" stroke="#7a2b8f" stroke-width="4.0"/>
<path d="M551 829h0M670 876h0M562 847h0M672 849h0M662 849h0M575 820h0M597 831h0M584 849h0M645 860h0M580 842h0M633 906h0M604 883h0M612 845h0M603 841h0M604 854h0M581 818h0" stroke="#9784bd" stroke-width="4.0"/>
<path d="M565 845h0M577 865h0M616 884h0M647 902h0M677 856h0M663 853h0M615 828h0M524 825h0M529 827h0M642 875h0M562 807h0M617 876h0M590 866h0M647 895h0M636 904h0M641 862h0M654 843h0M667 845h0M607 835h0M608 866h0M667 834h0M624 812h0M662 902h0M613 870h0M553 819h0M569 827h0M554 804h0M635 915h0M521 817h0M618 842h0M531 831h0M663 878h0M581 826h0M658 868h0" stroke="#6b4b9f" stroke-width="4.0"/>
<path d="M537 864h0M603 872h0M570 857h0M652 853h0M610 830h0M604 887h0M644 906h0M554 875h0M562 877h0M558 844h0M613 872h0M578 857h0M544 852h0M618 841h0M695 847h0M659 846h0M669 874h0M628 878h0M593 867h0M585 871h0M580 800h0M576 878h0M588 841h0M616 875h0M549 831h0M699 854h0M674 860h0M624 842h0M633 882h0M530 858h0M528 846h0M628 875h0M565 817h0M607 847h0M609 832h0M587 846h0M582 871h0M606 871h0M538 822h0M531 809h0M525 800h0M531 832h0" stroke="#e97b2f" stroke-width="4.0"/>
<path d="M519 809h0M562 798h0M598 809h0M566 811h0M583 810h0M599 816h0M550 798h0M606 805h0M526 809h0M570 808h0M628 816h0M582 804h0M573 800h0M625 809h0M573 807h0M616 815h0M576 800h0M522 812h0M577 811h0M538 799h0M583 801h0" stroke="#e97b2f" stroke-width="4.0"/>
<path d="M569 809h0M591 814h0M597 800h0M542 795h0M623 809h0M558 806h0M524 821h0M539 798h0M608 810h0M590 801h0M570 796h0M572 802h0M527 813h0M556 799h0M524 817h0M528 818h0M523 823h0M538 819h0M527 818h0M583 809h0M579 807h0M624 816h0M575 806h0M571 810h0M556 802h0M557 805h0M579 813h0M591 801h0M602 801h0M615 808h0M595 805h0M537 810h0M547 813h0M600 799h0M520 811h0M521 822h0M541 810h0M524 817h0M556 802h0M524 807h0M592 815h0M523 819h0M515 820h0M606 800h0M600 808h0M600 819h0M597 809h0M573 797h0M607 809h0M624 805h0M608 805h0M529 818h0M578 807h0M623 819h0M556 798h0M543 806h0M530 819h0M601 803h0M576 804h0M566 801h0M595 808h0" stroke="#3cb39f" stroke-width="4.0"/>
<path d="M563 805h0M550 810h0M614 817h0M540 814h0M596 797h0M569 805h0M518 817h0M543 805h0M561 810h0M583 803h0M534 816h0" stroke="#0f6c76" stroke-width="4.0"/>
<path d="M550 802h0M538 815h0M570 810h0M536 821h0M575 798h0M537 817h0M620 806h0M592 798h0M550 806h0M632 815h0M588 799h0M583 813h0M548 810h0M553 811h0M627 810h0" stroke="#8dd0df" stroke-width="4.0"/>
<path d="M612 807h0M596 813h0M601 812h0M631 811h0M585 806h0M518 814h0M559 814h0M601 801h0M613 808h0M523 814h0M543 806h0M525 824h0" stroke="#252d6c" stroke-width="4.0"/>
<path d="M610 803h0M583 813h0M540 814h0M551 806h0M600 809h0M605 809h0M573 808h0M560 809h0M540 807h0M609 816h0M534 801h0M563 806h0" stroke="#e97b2f" stroke-width="4.0"/>
<path d="M607 803h0M584 804h0M541 796h0M572 809h0M527 816h0" stroke="#252d6c" stroke-width="4.0"/>
<path d="M522 821h0M571 795h0M568 799h0M521 808h0M521 803h0M551 797h0M547 801h0M600 799h0M600 802h0M528 822h0M614 807h0M542 808h0M596 813h0M521 821h0M604 803h0" stroke="#0f6c76" stroke-width="4.0"/>
<path d="M565 813h0M607 817h0M604 807h0M600 811h0M528 816h0M527 806h0M595 814h0M578 814h0M587 809h0M527 810h0M609 806h0M581 802h0M610 807h0M524 804h0M565 811h0M563 803h0M547 811h0M523 815h0M550 800h0M562 799h0M617 815h0M556 815h0M519 811h0M603 803h0M595 797h0M562 814h0M559 806h0M583 800h0M544 814h0M577 797h0M575 802h0M620 811h0M519 809h0M617 812h0M545 803h0M555 806h0M580 809h0M550 800h0M534 819h0M621 808h0M593 801h0M588 805h0M531 806h0M564 796h0M587 805h0M606 804h0M624 816h0M575 798h0M556 798h0M549 802h0M554 803h0M537 807h0M527 802h0M571 811h0M547 809h0M523 826h0M552 805h0M570 805h0M579 810h0M563 805h0M624 808h0M540 808h0M583 803h0M537 804h0M541 811h0M608 816h0M560 811h0M604 801h0M561 796h0M586 810h0M600 801h0M576 796h0M590 806h0M554 798h0M528 805h0" stroke="#3cb39f" stroke-width="4.0"/>
<path d="M524 805h0M519 816h0M585 797h0M552 809h0M557 803h0M578 808h0M539 806h0M522 807h0M523 820h0M551 804h0M560 812h0M580 796h0M610 805h0" stroke="#8dd0df" stroke-width="4.0"/>
<path d="M597 802h0M584 800h0M569 805h0M557 804h0M552 812h0M604 804h0M511 814h0M603 805h0M561 806h0M597 813h0M594 808h0M588 811h0M516 821h0M530 804h0M517 812h0M513 820h0M541 800h0M578 802h0M623 815h0M597 806h0M526 812h0M558 805h0M577 798h0M528 819h0M569 804h0M618 813h0M602 800h0M528 807h0M527 806h0M580 804h0M537 808h0M553 808h0M512 815h0M563 802h0M613 802h0M558 806h0M524 807h0M530 811h0M535 811h0M604 809h0M528 804h0M582 806h0M525 804h0M525 812h0M569 795h0M596 806h0M566 807h0M541 805h0M601 803h0M553 804h0M579 802h0M561 803h0M580 812h0M590 808h0M531 811h0M518 816h0M584 804h0M604 805h0M604 808h0M631 812h0M573 798h0M592 815h0M586 803h0M560 807h0M542 817h0M515 814h0M528 810h0M567 799h0M601 817h0M610 806h0M624 808h0M537 800h0M629 812h0M558 806h0" stroke="#3cb39f" stroke-width="4.0"/>
<path d="M545 801h0M545 812h0M599 801h0M606 815h0M521 824h0M541 804h0M524 819h0M576 806h0M583 809h0M609 814h0" stroke="#0f6c76" stroke-width="4.0"/>
<path d="M582 810h0M609 817h0M558 800h0M619 812h0M525 819h0M624 807h0M541 816h0M540 817h0M607 819h0M543 810h0M609 814h0M536 807h0M615 805h0M555 799h0M604 803h0M565 802h0" stroke="#8dd0df" stroke-width="4.0"/>
<path d="M555 812h0M554 801h0M521 806h0M546 802h0M532 815h0M580 812h0M554 801h0M559 809h0M596 808h0M589 814h0" stroke="#e97b2f" stroke-width="4.0"/>
<path d="M613 808h0M568 809h0M542 804h0M537 817h0M544 812h0M537 820h0M563 798h0M532 808h0M593 813h0M556 808h0" stroke="#252d6c" stroke-width="4.0"/>
<path d="M589 854h0M583 874h0M626 876h0M618 865h0M584 849h0M587 873h0M557 857h0M561 868h0M609 873h0" stroke="#8dd0df" stroke-width="4.0"/>
<path d="M589 878h0M623 881h0M599 880h0M590 856h0M587 853h0M572 846h0M588 888h0" stroke="#e97b2f" stroke-width="4.0"/>
<path d="M584 852h0M549 858h0M574 853h0M547 851h0M623 879h0M553 866h0M562 865h0M547 853h0M580 876h0M624 865h0M578 847h0M614 865h0M604 854h0M560 846h0M549 862h0" stroke="#6b4b9f" stroke-width="4.0"/>
<path d="M593 875h0M590 865h0M608 864h0M576 841h0M608 875h0M605 860h0M600 889h0M583 855h0M603 867h0M563 868h0M583 883h0M608 890h0M584 860h0M581 861h0M602 859h0M623 883h0M594 850h0M552 851h0M588 865h0M548 837h0M604 867h0M571 865h0M598 889h0M610 874h0M622 878h0M622 864h0M589 860h0M605 867h0M632 877h0M616 874h0M601 874h0M561 859h0M624 881h0M612 887h0M593 883h0M548 867h0M595 849h0M564 866h0M574 842h0M577 857h0M616 886h0M608 878h0M614 872h0M575 859h0M614 878h0M553 847h0M603 873h0M603 860h0M598 867h0M584 860h0M557 860h0M602 870h0M571 855h0M567 865h0M589 877h0M604 881h0" stroke="#c9222b" stroke-width="4.0"/>
<path d="M628 873h0M599 852h0M577 859h0M618 867h0M558 848h0M590 851h0M550 858h0M591 882h0M548 845h0M561 856h0" stroke="#e97b2f" stroke-width="4.0"/>
<path d="M596 879h0M571 861h0M587 847h0M549 861h0M588 877h0M620 876h0M591 886h0M550 847h0M611 860h0M604 886h0M567 852h0" stroke="#6b4b9f" stroke-width="4.0"/>
<path d="M606 884h0M625 866h0M595 864h0M602 878h0M586 864h0M587 878h0M614 863h0M582 851h0M591 882h0M603 864h0" stroke="#8dd0df" stroke-width="4.0"/>
<path d="M580 872h0M611 884h0M586 837h0M556 868h0M609 867h0M592 870h0M579 871h0M614 880h0M616 889h0M613 858h0M579 840h0M567 853h0M592 854h0M601 872h0M560 848h0M602 876h0M558 865h0M598 850h0M581 879h0M579 848h0M595 852h0M573 881h0M551 849h0M614 880h0M560 843h0M601 863h0M583 853h0M565 858h0M597 867h0M614 891h0M552 856h0M596 889h0M609 872h0M588 856h0M581 858h0M571 856h0M600 865h0M566 855h0M583 867h0M573 867h0M579 841h0M590 872h0M612 858h0M557 863h0M625 877h0M606 860h0M569 870h0M542 855h0M593 855h0M560 872h0M600 889h0M563 861h0M585 847h0M617 885h0M591 851h0M614 871h0" stroke="#c9222b" stroke-width="4.0"/>
<path d="M609 881h0M610 872h0M589 861h0M566 875h0M613 877h0M609 878h0M565 861h0M600 872h0M573 877h0M593 869h0M594 872h0M605 874h0M570 880h0M570 864h0M591 869h0M563 867h0M575 841h0M615 873h0M600 863h0M556 859h0M594 860h0M577 872h0M623 872h0M547 851h0M603 866h0M589 853h0M575 849h0M598 853h0M624 875h0M608 858h0M616 879h0M587 881h0M592 880h0M621 883h0M611 862h0M568 868h0M589 862h0M598 867h0M579 865h0M577 872h0M604 859h0M559 858h0M584 866h0M552 849h0M615 885h0M586 848h0M570 878h0M562 849h0M566 875h0M621 879h0M612 857h0M583 847h0M582 850h0M580 848h0M584 852h0M576 868h0M556 846h0M577 878h0M560 854h0M545 859h0M587 849h0M577 844h0" stroke="#c9222b" stroke-width="4.0"/>
<path d="M598 874h0M595 881h0M574 849h0M554 858h0M622 877h0" stroke="#e97b2f" stroke-width="4.0"/>
<path d="M621 873h0M541 849h0M572 870h0M563 858h0M566 876h0M577 866h0M591 848h0M588 871h0M566 838h0M581 868h0M576 847h0" stroke="#6b4b9f" stroke-width="4.0"/>
<path d="M605 858h0M605 862h0M591 850h0M627 874h0M569 843h0M556 863h0M621 882h0M614 886h0" stroke="#8dd0df" stroke-width="4.0"/>
<path d="M553 862h0M550 848h0M523 824h0M538 842h0M529 835h0M548 865h0M533 856h0M514 824h0M556 866h0M539 860h0M535 844h0M518 838h0M519 840h0M540 857h0M515 835h0M562 863h0M538 847h0M523 846h0M549 840h0" stroke="#3cb39f" stroke-width="4.0"/>
<path d="M543 864h0M516 827h0M531 853h0M539 839h0M542 831h0M538 844h0M527 825h0M520 826h0" stroke="#c9222b" stroke-width="4.0"/>
<path d="M552 834h0M536 829h0M553 858h0M538 862h0M544 860h0M550 856h0M525 822h0M517 822h0M524 855h0M540 845h0M522 844h0M522 849h0M542 866h0M531 854h0M540 852h0M537 839h0M528 846h0M550 845h0M541 845h0M545 839h0M530 831h0M526 823h0M520 829h0M527 835h0M545 861h0M527 836h0M542 868h0M535 860h0M538 857h0M528 829h0M535 827h0M525 841h0M523 837h0M528 837h0M538 844h0M530 822h0M548 839h0M539 846h0M532 841h0M549 848h0M537 841h0M534 854h0M528 856h0M557 851h0M526 830h0M532 827h0M539 850h0M544 836h0M530 860h0M551 864h0M531 843h0M523 828h0M552 870h0M525 821h0M552 858h0M525 837h0M528 852h0M554 860h0M528 826h0M546 843h0M532 860h0M528 850h0M518 826h0M553 846h0M529 837h0M537 839h0M553 854h0M555 857h0M541 862h0M530 845h0M537 832h0M548 842h0M545 855h0M533 834h0M542 840h0M539 870h0M535 852h0M514 832h0M546 841h0M528 861h0M533 825h0M551 862h0M527 860h0M523 828h0M538 832h0M534 854h0M557 863h0M529 849h0M539 864h0M531 834h0M528 839h0M526 822h0M527 837h0M535 856h0M515 832h0M546 837h0M522 822h0M534 837h0M552 867h0M524 830h0M536 849h0M546 843h0M521 831h0M537 836h0M547 863h0M523 853h0M548 856h0M524 846h0M564 863h0M543 847h0M553 847h0M541 856h0M539 847h0M520 833h0M522 858h0M530 862h0M520 838h0M524 847h0M524 821h0M531 857h0M552 854h0M526 839h0M537 852h0M544 836h0M527 853h0M555 865h0M529 836h0M556 850h0M548 845h0M532 851h0M526 831h0M541 857h0M542 828h0M554 853h0M539 853h0M517 842h0M542 857h0M530 828h0M560 858h0M550 861h0M519 836h0M554 849h0M542 847h0M537 841h0M529 839h0M550 874h0M543 851h0M526 844h0M528 834h0M549 849h0M549 846h0M520 843h0M539 823h0M546 860h0M526 824h0M555 856h0M534 831h0M534 827h0M551 839h0M512 835h0M547 864h0M529 838h0M547 861h0M543 838h0M538 843h0M542 865h0M548 848h0M543 840h0M531 839h0M551 850h0M542 865h0M542 833h0M531 848h0" stroke="#8dd0df" stroke-width="4.0"/>
<path d="M642 880h0M640 891h0M649 888h0M652 889h0M639 885h0M642 890h0M656 908h0M646 905h0M642 888h0M628 888h0M624 882h0M627 892h0M624 896h0M638 885h0M646 913h0M641 878h0" stroke="#c9222b" stroke-width="4.0"/>
<path d="M638 906h0M635 899h0M635 894h0M635 882h0M632 906h0M628 883h0M657 896h0M646 893h0M652 906h0M655 909h0M626 884h0M639 889h0M631 892h0M644 897h0M656 886h0M663 895h0M661 889h0M652 895h0M638 911h0M636 912h0M642 897h0M649 892h0M621 896h0M623 891h0M629 886h0M623 890h0M637 881h0M639 884h0M622 893h0M661 894h0M641 910h0M655 888h0M648 907h0M628 902h0M660 885h0M648 893h0M647 891h0M631 900h0M656 892h0M633 884h0M653 898h0M645 886h0M630 899h0M644 894h0M635 886h0M625 877h0M648 896h0M621 891h0M640 898h0M651 896h0M649 877h0M625 891h0M660 894h0M649 909h0M620 891h0M637 880h0M620 894h0M644 910h0M627 903h0M659 906h0M627 881h0M641 896h0M643 910h0M643 909h0" stroke="#6b4b9f" stroke-width="4.0"/>
<path d="M651 902h0M634 884h0M623 882h0M639 913h0M649 906h0M641 902h0M641 901h0M651 904h0M636 890h0M628 886h0M623 890h0M620 890h0M633 881h0M656 898h0M657 900h0M627 900h0M639 893h0M636 907h0M656 889h0M622 877h0" stroke="#e8797d" stroke-width="4.0"/>
<path d="M629 902h0M625 885h0M631 879h0M644 913h0M655 891h0M651 912h0M648 904h0M661 896h0M650 893h0M629 878h0M644 904h0M654 911h0M647 888h0M636 878h0M639 891h0M626 901h0M632 891h0M649 898h0M635 877h0M646 888h0M657 902h0M666 895h0M652 895h0M622 890h0M635 881h0M664 902h0M652 884h0M631 881h0M665 906h0M649 903h0M632 885h0M646 899h0M643 890h0M652 908h0M620 882h0M643 880h0M622 894h0M627 884h0M632 893h0M667 895h0M654 896h0M620 881h0M643 908h0M638 888h0M658 895h0M633 888h0M633 877h0M646 909h0M628 890h0M646 890h0M640 893h0M643 878h0M621 892h0M629 903h0M645 913h0M632 888h0M653 895h0M640 910h0M641 892h0M648 898h0M616 887h0M633 893h0M632 897h0M634 904h0M657 890h0M624 878h0M625 889h0M624 893h0M643 907h0M661 898h0" stroke="#7a2b8f" stroke-width="4.0"/>
<path d="M682 811h0M680 821h0M684 813h0M695 831h0M702 796h0M704 811h0M688 813h0M690 810h0M689 824h0M693 789h0M689 791h0M693 825h0M705 794h0M681 828h0M700 811h0M698 792h0M688 807h0M676 828h0M678 814h0M688 810h0M680 814h0M672 824h0M703 824h0M694 795h0M692 811h0M702 817h0M701 815h0M694 809h0M701 794h0" stroke="#1f8b46" stroke-width="4.0"/>
<path d="M688 831h0M678 812h0M699 825h0M696 822h0M691 789h0M698 806h0M688 825h0M702 809h0M672 809h0M701 827h0M673 822h0M693 804h0M711 803h0" stroke="#f1dc24" stroke-width="4.0"/>
<path d="M683 813h0M679 828h0M689 829h0M690 804h0M690 821h0M683 792h0M679 825h0M697 792h0M707 813h0M700 798h0M671 803h0M696 824h0M672 816h0M681 806h0M677 823h0M682 793h0M693 828h0M681 808h0M701 805h0M696 825h0M683 795h0" stroke="#252d6c" stroke-width="4.0"/>
<path d="M680 809h0M701 803h0M704 821h0M700 802h0M687 808h0M683 803h0M692 833h0M699 796h0M675 827h0M699 792h0M688 833h0M702 804h0M709 805h0M682 821h0M675 814h0M685 812h0" stroke="#e97b2f" stroke-width="4.0"/>
<path d="M702 816h0M689 818h0M684 823h0M691 804h0M675 810h0M691 792h0M686 822h0M692 810h0M688 797h0M679 818h0M675 823h0M688 795h0M688 808h0M674 825h0M680 801h0M686 830h0M695 823h0M672 817h0M690 815h0M684 805h0M689 803h0M682 818h0M668 814h0" stroke="#6b4b9f" stroke-width="4.0"/>
<path d="M688 840h0M695 809h0M688 819h0M685 833h0M689 831h0M697 798h0M687 814h0M702 814h0M693 803h0M704 803h0M678 817h0M690 830h0M685 815h0M679 813h0M684 793h0M690 816h0M693 831h0M700 796h0M689 805h0M702 815h0" stroke="#7a2b8f" stroke-width="4.0"/>
<path d="M691 795h0M689 795h0M687 830h0M697 811h0M688 813h0M677 827h0M691 800h0M702 818h0M695 806h0M705 815h0M677 823h0M676 814h0M678 808h0M701 820h0M708 798h0M706 807h0M706 815h0M706 819h0M684 810h0M694 819h0M692 818h0M686 795h0M694 811h0M700 818h0M682 824h0M681 835h0M694 786h0M687 835h0" stroke="#3cb39f" stroke-width="4.0"/>
<path d="M730 920h0M713 905h0M727 901h0M763 926h0M707 884h0M713 878h0M708 882h0M726 889h0M749 896h0M704 877h0M762 908h0M733 882h0M735 904h0M755 910h0M741 911h0M713 878h0M704 874h0M754 915h0M722 910h0M693 864h0M687 851h0M700 868h0M725 913h0M724 913h0M703 856h0M700 888h0M732 908h0M704 896h0M728 900h0M760 905h0M776 915h0M745 911h0M686 867h0" stroke="#252d6c" stroke-width="4.0"/>
<path d="M709 865h0M726 912h0M780 922h0M768 926h0M756 918h0M750 906h0M769 919h0M692 867h0" stroke="#e97b2f" stroke-width="4.0"/>
<path d="M752 901h0M765 928h0M690 864h0M733 890h0M694 858h0M766 916h0M736 917h0M734 879h0M701 852h0M715 903h0M717 879h0M773 912h0M699 891h0M689 871h0M702 891h0M696 854h0M710 864h0M723 889h0M699 872h0M703 861h0M690 871h0M769 929h0M729 900h0M746 916h0M685 858h0M761 926h0M708 901h0" stroke="#3cb39f" stroke-width="4.0"/>
<path d="M725 906h0M757 914h0M688 849h0M686 862h0M736 915h0M734 883h0M744 924h0M710 900h0M703 865h0M733 920h0M727 885h0M762 912h0M727 882h0M726 887h0M691 873h0M714 872h0M746 915h0M689 867h0M723 884h0M758 901h0M727 884h0M760 926h0M734 894h0M744 927h0M709 887h0M775 915h0M718 865h0M736 916h0M731 888h0M724 884h0M729 918h0M688 865h0M736 893h0M765 910h0M719 871h0M768 927h0M725 897h0M720 896h0M742 921h0M734 916h0M706 882h0M700 852h0M688 878h0M688 880h0M692 862h0M714 881h0M736 910h0M698 891h0" stroke="#8b9bcb" stroke-width="4.0"/>
<path d="M774 928h0M698 884h0M748 923h0M686 866h0M728 884h0M739 915h0M748 924h0M699 895h0M696 856h0M732 892h0M724 878h0M701 865h0M711 891h0M703 864h0M770 925h0M730 917h0M709 873h0M719 895h0" stroke="#9784bd" stroke-width="4.0"/>
<path d="M690 879h0M712 887h0M702 875h0M722 900h0M711 883h0M698 870h0M729 894h0M730 897h0M732 882h0M712 903h0M766 929h0" stroke="#6b4b9f" stroke-width="4.0"/>
<path d="M736 909h0M707 903h0M722 883h0M715 882h0M705 903h0M697 884h0M705 873h0M771 931h0M726 892h0M773 919h0M747 906h0M681 847h0M720 894h0M720 901h0M738 913h0" stroke="#8dd0df" stroke-width="4.0"/>
<path d="M747 895h0M718 903h0M711 866h0M714 863h0M724 898h0M694 875h0M746 920h0M751 927h0M707 889h0M684 852h0M755 910h0M732 913h0M683 856h0M726 893h0M731 897h0M698 848h0M700 854h0M730 916h0M689 866h0M717 871h0M698 861h0M750 927h0M766 921h0M717 893h0M694 872h0M702 858h0M729 873h0M689 857h0M739 922h0M687 866h0M707 898h0M685 863h0M692 880h0M747 928h0M738 915h0M698 856h0M753 902h0M735 889h0M683 860h0M703 896h0M702 883h0M691 872h0M743 906h0M704 852h0M728 903h0M673 861h0M729 894h0M689 856h0M729 899h0M767 927h0" stroke="#8b9bcb" stroke-width="4.0"/>
<path d="M687 862h0M734 906h0M698 861h0M696 885h0M748 915h0M767 912h0M762 924h0M711 909h0M711 869h0M695 864h0M751 922h0M710 897h0" stroke="#6b4b9f" stroke-width="4.0"/>
<path d="M778 922h0M747 912h0M696 882h0M713 881h0M697 891h0M701 860h0M685 855h0M693 875h0" stroke="#8dd0df" stroke-width="4.0"/>
<path d="M727 892h0M690 868h0M739 915h0M722 887h0M701 866h0M759 927h0M689 871h0M742 897h0M743 922h0M693 892h0M721 877h0M688 871h0M686 851h0M685 889h0M716 897h0M682 867h0" stroke="#9784bd" stroke-width="4.0"/>
<path d="M702 891h0M754 911h0M703 858h0M723 903h0M710 875h0M692 856h0M719 884h0M741 890h0M700 891h0M734 923h0M683 873h0M729 911h0M713 888h0M747 900h0M760 910h0" stroke="#e97b2f" stroke-width="4.0"/>
<path d="M718 877h0M733 903h0M742 923h0M699 878h0M746 897h0M706 855h0M687 879h0M706 867h0M754 921h0M683 849h0M732 897h0M699 890h0M728 901h0M748 924h0M749 907h0M696 874h0M686 873h0M714 896h0M689 864h0M694 866h0M718 889h0M705 869h0M730 892h0M690 863h0M740 884h0M719 874h0M728 902h0M725 910h0M729 904h0M691 879h0" stroke="#252d6c" stroke-width="4.0"/>
<path d="M691 867h0M716 881h0M699 883h0M696 859h0M728 897h0M704 887h0M735 914h0M742 913h0M752 906h0M762 919h0M714 864h0M751 913h0M716 893h0M751 908h0M741 920h0M710 849h0M695 898h0M684 847h0M701 873h0M780 925h0M755 927h0M701 900h0M746 928h0M697 878h0M773 918h0M731 906h0M703 893h0M771 927h0M721 906h0" stroke="#3cb39f" stroke-width="4.0"/>
<path d="M743 926h0M705 884h0M739 926h0M752 907h0M714 889h0M728 878h0M775 924h0M775 928h0M713 865h0M703 886h0" stroke="#8dd0df" stroke-width="4.0"/>
<path d="M744 898h0M716 891h0M726 918h0M751 911h0M746 925h0M763 916h0M752 912h0M721 887h0M684 862h0M772 918h0M740 927h0M745 927h0M690 883h0" stroke="#9784bd" stroke-width="4.0"/>
<path d="M742 905h0M738 914h0M706 865h0M751 901h0M754 922h0M710 890h0M728 889h0M703 899h0M686 870h0M744 893h0M717 887h0M740 909h0M697 898h0" stroke="#e97b2f" stroke-width="4.0"/>
<path d="M708 848h0M703 877h0M768 918h0M746 913h0M692 879h0M766 926h0M726 886h0M742 907h0M747 922h0M717 877h0M771 924h0M736 905h0M704 889h0M756 927h0M685 880h0M686 879h0M695 887h0M696 896h0M769 933h0M744 919h0M699 867h0M697 858h0M700 901h0M689 870h0M709 879h0" stroke="#3cb39f" stroke-width="4.0"/>
<path d="M731 904h0M741 915h0M704 871h0M751 902h0M717 889h0M725 914h0M688 868h0M756 914h0M773 932h0M696 861h0M738 902h0M698 869h0M759 905h0M762 918h0M747 914h0M744 915h0M698 892h0M693 862h0M767 933h0M760 927h0M752 902h0M703 868h0M703 893h0M769 922h0M753 910h0M699 889h0M719 891h0M726 883h0M744 911h0M742 913h0M713 889h0M702 881h0M718 909h0M743 920h0M729 914h0M739 912h0M763 912h0" stroke="#252d6c" stroke-width="4.0"/>
<path d="M706 881h0M703 885h0M682 875h0M681 876h0M695 867h0M708 871h0M702 855h0M729 914h0M734 920h0M746 912h0M698 861h0M703 897h0M766 914h0M763 907h0M731 916h0M746 926h0M766 927h0M715 900h0M698 851h0M723 883h0M708 887h0M698 870h0M724 899h0M725 895h0M734 906h0M726 889h0M768 929h0M694 867h0M699 850h0M707 884h0M726 911h0M729 885h0M696 853h0M695 862h0M683 872h0M732 884h0M721 911h0M719 910h0M737 911h0M709 884h0M755 903h0M703 856h0M712 900h0M723 894h0M772 915h0M720 879h0M762 905h0M707 895h0M765 921h0" stroke="#8b9bcb" stroke-width="4.0"/>
<path d="M765 922h0M744 906h0M729 898h0M769 918h0M735 917h0M747 897h0M680 855h0M723 890h0M697 893h0M705 891h0M714 889h0M703 850h0M708 863h0" stroke="#6b4b9f" stroke-width="4.0"/>
<path d="M733 928h0M688 900h0M655 909h0M680 933h0M735 884h0M641 903h0M734 900h0M733 930h0M742 900h0M736 921h0M666 954h0" stroke="#3cb39f" stroke-width="4.0"/>
<path d="M716 912h0M670 905h0M635 902h0M713 909h0M709 902h0M667 937h0M744 895h0M674 875h0M645 866h0M723 870h0M723 908h0M745 914h0M703 883h0M743 881h0M712 909h0M681 909h0M662 899h0M710 913h0M754 917h0M703 917h0M745 906h0M697 861h0M679 883h0M697 881h0M724 926h0M679 924h0M671 892h0M684 874h0M728 935h0M680 910h0M711 905h0M701 885h0M649 927h0" stroke="#8b9bcb" stroke-width="4.0"/>
<path d="M717 931h0M716 924h0M693 908h0M715 923h0M692 916h0M668 865h0M711 915h0M747 934h0M710 894h0M666 887h0M713 898h0M639 917h0M702 872h0M695 884h0M741 908h0M686 921h0M664 894h0M689 899h0M712 943h0M691 939h0M674 885h0M659 949h0M730 935h0M720 941h0M700 880h0M656 898h0M706 881h0M650 869h0" stroke="#8dd0df" stroke-width="4.0"/>
<path d="M692 883h0M644 931h0M712 905h0M700 872h0M692 942h0M722 919h0M741 924h0M719 932h0M631 921h0M737 878h0M731 937h0M719 934h0M709 869h0M650 933h0M671 943h0M640 933h0M652 895h0M711 881h0M704 914h0M688 874h0M727 858h0M742 935h0M680 922h0M748 895h0M726 874h0M676 914h0M716 892h0M674 867h0M755 907h0M670 902h0M709 929h0M681 936h0M678 939h0" stroke="#252d6c" stroke-width="4.0"/>
<path d="M706 898h0M673 940h0M690 901h0M660 939h0M741 878h0" stroke="#7a2b8f" stroke-width="4.0"/>
<path d="M728 960h0M735 975h0M695 967h0M705 969h0M727 961h0M676 966h0M698 968h0M715 1018h0M726 1010h0M730 990h0M675 990h0M732 972h0M721 962h0M728 1006h0M723 963h0M724 1012h0M729 1004h0M676 993h0M723 1016h0M722 1016h0M704 1019h0M729 962h0M695 968h0M697 968h0M734 968h0M711 972h0M699 966h0M729 963h0M688 1010h0M685 1005h0M695 1010h0M732 1004h0M686 1008h0M700 1013h0M709 1018h0M728 962h0M732 967h0M696 1015h0M675 992h0M703 970h0M672 977h0M704 1016h0M723 964h0M678 994h0M723 1012h0M723 963h0M708 972h0M730 962h0M678 969h0M715 971h0M724 964h0M733 987h0M731 967h0M704 1015h0M700 974h0M734 980h0M699 972h0M720 967h0M707 1017h0M698 1016h0" stroke="#8b9bcb" stroke-width="4.0"/>
<path d="M681 959h0M690 974h0M680 958h0M679 959h0" stroke="#3cb39f" stroke-width="4.0"/>
<path d="M685 957h0M705 971h0M666 943h0M706 965h0M670 958h0M701 972h0M680 962h0M707 977h0M689 961h0M689 973h0" stroke="#e97b2f" stroke-width="4.0"/>
<path d="M699 969h0M692 960h0M681 961h0M674 956h0M679 954h0M671 956h0M674 956h0M691 975h0M705 971h0M667 954h0M660 949h0M683 970h0M691 970h0M688 965h0M688 969h0M681 951h0M685 966h0M697 954h0M694 971h0M688 970h0M689 963h0M680 951h0M675 956h0M690 964h0M680 948h0M680 961h0M668 952h0M669 955h0M672 967h0M697 960h0M684 955h0M698 956h0M702 958h0M701 959h0M682 960h0M706 971h0M673 960h0M701 959h0M689 955h0M670 942h0M682 960h0M700 964h0M705 967h0M692 959h0M702 965h0M670 964h0M689 959h0M669 952h0M674 966h0M705 968h0M660 955h0M675 958h0M689 970h0M670 954h0M668 950h0M684 953h0M662 954h0M695 964h0M693 961h0M696 975h0M671 955h0M690 974h0M686 955h0M665 949h0M683 964h0M709 971h0M685 960h0M695 957h0M676 964h0M700 972h0M697 955h0M687 961h0M704 955h0M673 945h0M694 963h0M695 955h0M686 964h0M672 950h0M691 965h0M674 945h0M703 971h0M677 959h0M703 964h0M679 966h0M683 957h0M669 946h0M691 968h0M684 958h0M690 967h0M691 949h0M689 958h0M694 965h0M684 954h0M666 950h0M658 943h0M670 949h0M678 963h0M700 968h0M688 962h0M696 953h0M684 954h0M705 967h0M678 960h0M675 957h0M673 948h0M670 955h0M669 945h0M663 950h0M684 963h0M670 961h0M706 975h0M670 965h0M681 964h0M666 947h0M686 962h0M698 974h0M699 977h0M662 962h0M674 946h0M698 963h0M693 978h0M699 971h0M669 963h0M703 969h0M671 949h0M670 947h0M662 952h0M682 951h0M695 964h0M673 947h0M689 969h0M667 951h0M668 957h0M668 949h0M665 945h0M664 950h0M687 959h0M700 960h0M705 960h0M671 941h0M696 966h0M683 960h0M705 967h0M660 942h0M668 955h0M704 961h0M706 963h0M674 954h0M702 960h0M707 965h0M706 971h0M677 948h0M697 969h0M685 969h0M672 949h0M670 958h0" stroke="#252d6c" stroke-width="4.0"/>
<path d="M726 940h0M733 947h0M716 935h0M718 953h0M728 946h0M742 952h0M731 956h0M714 948h0M726 936h0M716 957h0M728 949h0M722 939h0M723 952h0M715 932h0" stroke="#8b9bcb" stroke-width="4.0"/>
<path d="M716 944h0M713 937h0M727 936h0M738 952h0M725 952h0M738 958h0M743 949h0M721 942h0M716 949h0M725 954h0M716 939h0M732 947h0M723 946h0M732 937h0M727 957h0M721 948h0M718 955h0M723 951h0M740 947h0M721 953h0M714 957h0M731 936h0M734 954h0M728 961h0M721 934h0M730 948h0M725 949h0M739 955h0M717 956h0M725 955h0M730 959h0M728 944h0M718 953h0M740 953h0M740 957h0M728 953h0M736 941h0M713 936h0M739 954h0M717 953h0M727 954h0M723 943h0M731 946h0M717 957h0M723 960h0M732 961h0M724 949h0M725 948h0M714 952h0M711 951h0M717 946h0M727 952h0M715 955h0M731 959h0M725 942h0M727 939h0M726 950h0M711 935h0M729 943h0M736 939h0M717 949h0M724 930h0M712 939h0M724 942h0M738 951h0M716 946h0M719 961h0M736 955h0M718 946h0M729 954h0M714 942h0M715 948h0M732 954h0M725 947h0M716 938h0M723 959h0M725 952h0M716 943h0M728 948h0M735 952h0M736 952h0M726 959h0M719 947h0M735 939h0M722 933h0M713 949h0M725 959h0M719 937h0M739 944h0M711 946h0M712 956h0M720 940h0M715 957h0M723 939h0M734 948h0M732 956h0" stroke="#252d6c" stroke-width="4.0"/>
<path d="M710 996h0M706 967h0" stroke="#7a2b8f" stroke-width="4.0"/>
<path d="M697 988h0M705 993h0M702 988h0M696 995h0M702 1004h0M696 985h0M693 973h0M696 975h0M710 990h0M698 970h0M694 992h0M708 984h0M707 999h0M699 984h0M704 991h0M700 971h0M699 982h0M694 976h0M701 989h0M697 985h0M703 1002h0M708 982h0M700 1000h0M703 985h0M702 977h0M707 989h0M697 994h0M700 986h0M707 968h0M701 974h0M709 972h0M696 971h0M708 984h0M692 972h0M709 1000h0M706 985h0M702 975h0M703 990h0" stroke="#1f8b46" stroke-width="4.0"/>
<path d="M719 1017h0M718 1016h0M717 1018h0M714 1004h0M719 1008h0M713 1014h0M718 1003h0M715 1013h0M711 1010h0M720 1005h0M717 1017h0M707 1013h0M716 1014h0M718 1008h0M714 1010h0M711 1007h0M721 1011h0M714 1007h0M713 1016h0M709 1018h0M721 1009h0M714 1011h0M717 1006h0M716 1015h0M708 1007h0M709 1005h0M709 1008h0" stroke="#6b4b9f" stroke-width="4.0"/>
<path d="M708 1011h0M718 1006h0M719 1012h0M717 1012h0M710 1016h0M713 1018h0M719 1015h0M709 1011h0M715 1015h0M714 1018h0M717 1012h0M715 1009h0M714 1010h0" stroke="#9784bd" stroke-width="4.0"/>
<path d="M616 959h0M602 965h0M627 990h0M590 1007h0M624 973h0M580 989h0M610 1007h0M606 1012h0M582 974h0M619 958h0M624 965h0M623 977h0M581 999h0M601 1012h0M592 965h0M622 959h0M582 973h0M613 1006h0M586 1002h0M578 973h0M618 955h0M624 960h0M620 958h0M610 1007h0M601 961h0M592 975h0M623 963h0M583 1001h0M579 993h0M609 1006h0M598 1014h0M587 1001h0M617 1003h0M602 1015h0M589 971h0M577 984h0M581 997h0M583 975h0M625 965h0M596 967h0M627 965h0M610 956h0M625 974h0M620 959h0M585 972h0M587 1004h0M578 977h0M627 972h0M614 1003h0M577 976h0M594 1009h0M627 964h0M582 973h0M591 1009h0M581 971h0M575 977h0M627 974h0M607 1010h0M592 1011h0M580 973h0" stroke="#8dd0df" stroke-width="4.0"/>
<path d="M627 957h0M609 968h0M639 959h0M620 960h0M636 943h0M644 940h0M620 969h0M626 967h0M645 949h0M648 951h0M608 978h0M626 963h0M609 961h0M629 963h0M602 969h0M620 966h0M642 945h0M645 950h0M618 960h0M651 940h0M628 964h0M641 946h0M642 952h0M613 971h0M617 967h0M599 973h0M640 952h0M608 972h0M647 946h0M629 957h0M649 945h0M633 961h0M629 951h0M638 945h0M632 955h0M633 960h0M623 955h0M611 969h0M614 960h0M644 943h0M630 956h0M608 967h0M638 956h0M599 969h0M624 959h0M637 946h0M638 943h0M616 967h0M618 963h0M631 960h0M614 964h0M650 944h0M649 946h0M623 956h0M628 952h0M621 965h0M614 970h0M603 967h0M622 958h0M601 976h0M620 959h0M650 953h0M620 967h0M610 963h0M604 974h0M636 948h0M624 960h0M598 974h0M637 945h0M605 971h0M634 960h0M641 957h0M631 962h0M642 941h0M618 965h0M639 952h0M600 971h0M624 952h0M638 955h0M612 966h0M598 968h0M626 968h0M611 967h0M620 956h0M618 962h0M630 953h0M624 953h0M611 968h0M616 967h0M645 951h0M622 960h0M643 943h0M610 966h0M615 963h0" stroke="#c9222b" stroke-width="4.0"/>
<path d="M622 956h0M619 958h0M648 949h0M632 951h0M648 940h0M622 963h0M601 973h0M636 945h0M627 956h0M637 949h0M622 955h0M637 942h0M632 952h0M642 949h0M616 957h0M631 957h0" stroke="#ca512b" stroke-width="4.0"/>
<path d="M617 994h0M605 979h0M623 986h0M614 998h0M602 967h0M612 982h0M624 997h0M609 976h0M631 983h0M615 991h0M632 972h0M606 989h0M604 983h0M611 972h0M617 970h0M622 979h0M625 994h0M613 966h0M629 971h0M618 978h0M621 967h0M603 975h0M616 976h0M633 968h0M605 975h0M630 985h0M630 976h0M614 983h0M629 984h0M630 982h0" stroke="#c9222b" stroke-width="4.0"/>
<path d="M823 980h0M851 911h0M861 922h0M803 973h0M798 900h0M763 942h0M842 904h0M862 949h0M837 973h0M762 942h0M788 905h0M779 958h0M758 917h0M792 971h0M842 971h0M759 935h0M755 925h0M760 937h0M863 926h0M846 969h0M776 958h0M861 950h0M792 901h0M767 910h0M866 936h0M866 924h0M825 978h0M866 937h0M862 947h0M805 973h0M758 935h0M863 936h0M773 954h0M805 973h0M830 977h0M828 971h0M863 935h0M781 906h0M777 908h0M850 911h0M855 910h0M808 977h0M760 917h0M756 926h0M759 918h0M838 974h0M862 950h0M756 923h0M841 903h0M802 974h0M844 907h0M866 928h0M789 967h0M860 942h0M800 975h0M842 973h0M754 922h0M798 971h0M853 913h0M829 972h0M863 923h0M762 938h0M796 899h0M769 952h0M845 908h0M846 907h0M820 978h0M801 971h0M820 901h0M831 903h0M813 898h0M843 973h0M772 949h0M856 914h0M824 977h0M770 952h0M796 901h0M864 947h0M779 904h0M773 956h0M864 933h0M827 898h0M826 980h0M828 899h0M865 945h0M860 929h0M780 964h0M854 963h0M757 933h0M856 956h0M855 962h0M833 981h0M812 904h0M863 930h0M854 959h0M830 901h0M755 925h0M835 977h0M866 944h0M852 907h0M780 964h0M863 928h0M807 977h0M864 952h0M858 957h0M859 916h0M854 910h0M798 969h0M778 958h0M809 903h0M781 907h0M755 928h0M855 916h0M758 916h0M851 912h0M834 976h0M797 902h0M768 950h0M784 907h0M788 907h0M852 964h0M853 914h0M785 898h0M764 940h0M829 977h0M853 906h0M807 893h0M768 943h0M828 902h0M826 973h0M827 903h0M861 942h0M858 914h0M862 941h0M758 933h0M864 939h0M854 912h0M761 915h0M860 920h0M865 930h0M862 927h0M859 918h0M790 969h0M858 919h0M860 946h0M796 970h0M845 969h0M829 900h0M789 902h0M843 969h0" stroke="#3cb39f" stroke-width="4.0"/>
<path d="M747 919h0M775 934h0M771 920h0M766 948h0M741 915h0M785 926h0M783 907h0M762 903h0M744 919h0M761 899h0M773 925h0M786 926h0" stroke="#252d6c" stroke-width="4.0"/>
<path d="M764 939h0M779 934h0" stroke="#e97b2f" stroke-width="4.0"/>
<path d="M784 903h0M754 926h0M742 920h0M787 933h0" stroke="#6b4b9f" stroke-width="4.0"/>
<path d="M780 949h0M760 918h0M760 941h0M783 928h0M779 926h0M752 924h0M761 943h0M779 933h0M792 944h0M753 926h0M765 904h0M775 923h0M786 928h0M770 930h0M764 945h0M791 927h0M749 936h0M778 912h0M752 914h0M755 929h0M781 900h0M764 905h0M781 911h0M781 956h0M782 902h0M776 929h0M755 922h0M782 917h0M764 941h0M757 931h0M780 899h0M763 901h0M747 908h0M769 929h0M782 924h0M791 934h0M763 944h0M769 937h0M767 951h0M758 949h0M781 936h0M767 927h0M781 914h0M778 908h0" stroke="#3cb39f" stroke-width="4.0"/>
<path d="M782 938h0M780 932h0M742 919h0M751 922h0M770 903h0M791 934h0M767 934h0M744 923h0M773 917h0M779 918h0M771 905h0M762 921h0" stroke="#8b9bcb" stroke-width="4.0"/>
<path d="M755 903h0M770 953h0M782 949h0" stroke="#9784bd" stroke-width="4.0"/>
<path d="M774 926h0M771 954h0M745 930h0M788 917h0M785 953h0M773 923h0M776 931h0M787 944h0M784 943h0M763 924h0M771 912h0" stroke="#8b9bcb" stroke-width="4.0"/>
<path d="M778 941h0M787 935h0M784 900h0" stroke="#e97b2f" stroke-width="4.0"/>
<path d="M762 909h0M751 919h0M769 913h0M755 947h0M751 919h0" stroke="#6b4b9f" stroke-width="4.0"/>
<path d="M781 938h0M787 940h0M782 957h0M787 934h0M748 908h0M790 924h0M748 932h0M765 909h0M767 900h0M734 919h0M768 926h0M778 945h0M788 932h0M778 948h0M774 912h0M767 910h0M767 948h0M780 935h0M754 929h0M752 932h0M780 917h0M782 957h0M781 923h0M784 938h0M755 913h0M778 924h0M777 906h0M775 925h0M777 946h0M772 906h0M749 901h0M751 911h0M782 947h0M747 933h0M784 937h0M773 934h0M781 916h0M775 944h0M782 922h0M754 912h0" stroke="#3cb39f" stroke-width="4.0"/>
<path d="M767 919h0M789 931h0M741 903h0M789 920h0" stroke="#9784bd" stroke-width="4.0"/>
<path d="M747 908h0M772 921h0M771 904h0M779 907h0M770 920h0M762 934h0M773 928h0M766 933h0M760 923h0M780 928h0M766 916h0M784 945h0M760 941h0" stroke="#252d6c" stroke-width="4.0"/>
<path d="M768 934h0" stroke="#c9222b" stroke-width="4.0"/>
<path d="M760 904h0M757 898h0M763 934h0M770 952h0" stroke="#9784bd" stroke-width="4.0"/>
<path d="M785 950h0M763 922h0M767 905h0" stroke="#6b4b9f" stroke-width="4.0"/>
<path d="M783 913h0M753 903h0M776 937h0M777 949h0M779 939h0M774 908h0M787 938h0M769 942h0M782 921h0M771 944h0M775 922h0M774 914h0M769 918h0M787 936h0M760 918h0M750 932h0M765 907h0M768 932h0M761 903h0M777 901h0M785 960h0M779 943h0M775 932h0M766 899h0M754 928h0M756 923h0M772 926h0M772 922h0M778 933h0M774 935h0M788 927h0M759 921h0M746 934h0M761 952h0M774 935h0M782 927h0M776 916h0M767 904h0M746 921h0M743 914h0M786 934h0M785 925h0M759 906h0" stroke="#3cb39f" stroke-width="4.0"/>
<path d="M776 922h0M763 921h0M770 903h0M784 933h0M758 941h0M784 921h0M774 953h0M779 921h0M771 921h0" stroke="#252d6c" stroke-width="4.0"/>
<path d="M783 956h0M771 940h0M758 926h0M768 923h0M751 938h0M778 917h0M760 917h0M770 944h0M765 947h0M768 898h0M752 929h0M760 931h0M733 918h0" stroke="#8b9bcb" stroke-width="4.0"/>
<path d="M776 920h0" stroke="#c9222b" stroke-width="4.0"/>
<path d="M786 921h0M790 929h0M773 946h0" stroke="#e97b2f" stroke-width="4.0"/>
<path d="M790 957h0M822 925h0" stroke="#252d6c" stroke-width="4.0"/>
<path d="M776 911h0M792 935h0M770 917h0M859 926h0M803 923h0" stroke="#e97b2f" stroke-width="4.0"/>
<path d="M804 943h0M846 941h0M832 917h0" stroke="#cfa163" stroke-width="4.0"/>
<path d="M756 872h0M765 861h0M776 844h0M773 861h0M785 872h0M767 865h0M777 880h0M777 888h0M784 876h0M745 863h0M799 868h0M769 847h0M789 876h0M745 882h0M797 879h0M752 855h0M776 882h0M792 875h0M772 861h0" stroke="#3cb39f" stroke-width="4.0"/>
<path d="M743 846h0M801 863h0M788 875h0M750 867h0M755 881h0" stroke="#9784bd" stroke-width="4.0"/>
<path d="M383 925h0M367 925h0M406 941h0M407 932h0M372 923h0M405 932h0M402 936h0M391 936h0M370 926h0M378 923h0M384 933h0M397 932h0M376 923h0M384 935h0M389 926h0M390 930h0M395 931h0M376 932h0M403 935h0M403 931h0M402 937h0M372 926h0M391 935h0M410 938h0M383 936h0M395 935h0M375 931h0M407 938h0M391 925h0M380 934h0M399 934h0M387 928h0M376 934h0M408 942h0M393 930h0M388 928h0M386 929h0M371 935h0M374 927h0M387 935h0M412 939h0M410 937h0M380 928h0M382 931h0M376 924h0M406 940h0M373 924h0M385 925h0M380 932h0M372 925h0M394 928h0M393 932h0M408 940h0M390 935h0M398 927h0M384 925h0M389 932h0M403 938h0M401 939h0" stroke="#cfa163" stroke-width="4.0"/>
<path d="M387 929h0M372 934h0M388 938h0M386 932h0M402 934h0M394 931h0M391 935h0M389 924h0M392 931h0M402 936h0M391 937h0" stroke="#0f6c76" stroke-width="4.0"/>
<path d="M412 959h0M416 954h0M416 941h0M418 930h0M414 972h0M412 977h0M417 944h0M421 978h0M403 923h0M418 962h0" stroke="#252d6c" stroke-width="4.0"/>
<path d="M412 927h0M424 952h0M420 944h0M408 955h0M415 970h0M408 961h0M401 926h0M414 950h0M418 974h0M409 931h0M407 922h0M419 984h0M401 929h0M405 933h0M420 973h0M426 964h0M422 961h0M415 935h0M410 931h0M410 952h0" stroke="#1f8b46" stroke-width="4.0"/>
<path d="M418 930h0M428 980h0M420 981h0M426 953h0M422 980h0M426 975h0M418 938h0M421 953h0M412 978h0M411 971h0M415 943h0M409 941h0M410 971h0M412 956h0M412 966h0M419 946h0M411 969h0M407 936h0M422 964h0M421 983h0M421 944h0M419 975h0M411 976h0M411 953h0M413 926h0M405 929h0M408 945h0M404 925h0M412 930h0M414 980h0M423 959h0M422 969h0M417 930h0M412 929h0M417 983h0M421 945h0M415 964h0M424 981h0M406 932h0M419 948h0M423 982h0M417 985h0M420 978h0M412 981h0M408 946h0M423 977h0M419 962h0M423 957h0M412 959h0M407 926h0M407 951h0M416 931h0M414 982h0M422 973h0M418 976h0M420 981h0M411 962h0M427 971h0M415 939h0M425 945h0M416 953h0M423 963h0M409 968h0M413 966h0M409 944h0M423 953h0M419 945h0M405 921h0M422 955h0M424 970h0M414 962h0M407 942h0M417 965h0M403 942h0M423 962h0M413 948h0M414 972h0M413 938h0M406 939h0M412 951h0M413 955h0M421 971h0M408 928h0M413 940h0M411 935h0M408 940h0M423 951h0M406 940h0M422 951h0M422 981h0M415 953h0M409 970h0M411 979h0M405 933h0M423 978h0M414 955h0M410 939h0M418 971h0M412 932h0M411 961h0M411 956h0M423 977h0M426 978h0M426 969h0M407 935h0M415 928h0M403 928h0M414 942h0M406 938h0M410 947h0M401 921h0M424 968h0M407 962h0M413 965h0M423 979h0M415 972h0M417 935h0M425 984h0M407 940h0M415 971h0M403 939h0M420 974h0M421 977h0M420 979h0M405 928h0" stroke="#0f6c76" stroke-width="4.0"/>
<path d="M418 927h0M418 981h0M422 966h0M411 955h0M420 954h0M418 962h0M419 967h0M421 955h0M418 936h0M417 965h0M414 934h0M425 958h0M420 980h0M416 942h0M417 975h0" stroke="#7a2b8f" stroke-width="4.0"/>
<path d="M383 1030h0M373 1003h0M472 996h0M378 994h0M376 1023h0M371 1019h0M459 985h0M389 1034h0M379 1026h0M469 1011h0M370 1005h0M372 1020h0M375 1000h0M371 1017h0M370 1010h0M469 992h0M457 986h0M381 1027h0M383 1029h0M370 1009h0M372 1014h0M393 1037h0M468 991h0M419 985h0M412 1039h0M368 1010h0M388 990h0M469 996h0M377 1024h0M439 1029h0M369 1008h0M470 995h0M385 1029h0M453 983h0M374 1001h0M427 1036h0M376 1018h0M475 1000h0M383 1030h0M371 1015h0M378 1024h0M436 980h0M369 1010h0M451 1025h0M374 1001h0M400 989h0M370 1011h0M469 1002h0M402 1036h0M470 1005h0M381 1026h0M462 1015h0M451 1027h0M467 986h0M382 1030h0M395 1035h0M469 989h0M464 985h0M426 1035h0M378 997h0M377 998h0M391 1037h0M413 1038h0M412 1035h0M428 1035h0M468 988h0M379 993h0M393 1038h0M467 990h0M456 1021h0M413 982h0M409 1041h0M372 1021h0M402 986h0M370 1011h0M377 1023h0M408 1039h0M421 1035h0M404 1035h0M380 993h0M405 985h0M471 1004h0M375 1018h0M470 1011h0M472 998h0M472 1006h0M408 1040h0M467 1008h0M374 1021h0M398 1034h0M381 994h0M369 1010h0M409 985h0M364 1013h0M376 1018h0M427 984h0M393 1036h0M465 986h0M432 1035h0M433 1034h0" stroke="#1f8b46" stroke-width="4.0"/>
<path d="M466 982h0M470 998h0M437 994h0M433 1057h0M450 1051h0M462 1052h0M411 1007h0M475 1019h0M430 991h0M478 1039h0M425 1096h0M461 1008h0M469 1086h0M455 980h0M435 1038h0M424 1113h0M483 1028h0M444 1095h0M467 1056h0M434 1106h0M441 1054h0M466 1070h0M449 1041h0M425 1022h0M474 1025h0M449 1084h0M442 1102h0M456 1069h0M445 1096h0M428 1056h0M436 1033h0M430 1010h0M463 998h0M437 1076h0M425 1014h0M460 1001h0M484 1045h0M479 1014h0M458 985h0M460 1000h0M458 1032h0M445 1076h0M441 1027h0M420 1030h0M449 1061h0M424 1013h0M448 1017h0M478 993h0M470 1065h0M475 1031h0M440 1068h0M477 987h0M427 1007h0M440 1008h0M458 1092h0M409 1014h0M431 1086h0M482 998h0M407 1009h0M429 1042h0M429 1028h0M437 986h0M445 1041h0M430 1097h0M440 1099h0M431 999h0M453 999h0M422 1095h0M430 1091h0M434 1072h0M424 1049h0M464 1011h0M461 1048h0M476 1011h0M471 1012h0M469 984h0M458 1066h0M477 992h0M427 1074h0M479 1014h0M435 1113h0M466 1021h0M424 1100h0M443 1082h0M439 1006h0M407 996h0M445 1079h0M422 1107h0M475 1059h0M438 1042h0M458 1080h0M474 991h0M446 1000h0M458 1040h0M435 1001h0M420 1061h0M437 1083h0M457 1064h0M414 1073h0M463 1050h0M460 999h0M437 1005h0M444 1064h0M470 981h0M448 1026h0M440 1107h0M448 1048h0M450 1006h0M417 1003h0M447 1027h0M459 1088h0" stroke="#7a2b8f" stroke-width="4.0"/>
<path d="M438 1012h0M419 1078h0M477 1015h0M420 1073h0M469 1002h0M455 1086h0M482 1075h0M470 1056h0" stroke="#8dd0df" stroke-width="4.0"/>
<path d="M412 1003h0M449 1006h0M486 1026h0M485 1016h0M473 1002h0M470 996h0M448 1019h0M417 1076h0M447 1006h0M418 1066h0M447 992h0M441 1093h0M464 1073h0M465 1008h0M417 1075h0M411 1014h0M437 1076h0M455 1064h0M454 992h0M429 1076h0M486 1030h0M417 990h0M469 1059h0M476 1075h0M454 1106h0M418 1101h0M442 1085h0M447 1090h0M426 983h0M434 1004h0M455 1032h0M471 1015h0M479 1002h0M452 1056h0M426 1106h0M479 1076h0M478 1042h0M450 1053h0M430 1046h0M416 1000h0M410 1013h0M454 1087h0M422 997h0M453 1032h0" stroke="#1f8b46" stroke-width="4.0"/>
<path d="M449 1092h0M477 1054h0M405 1001h0M414 1023h0" stroke="#f1dc24" stroke-width="4.0"/>
<path d="M479 1050h0M458 1025h0M442 1000h0M459 1052h0M406 998h0M455 1000h0M466 1022h0M468 996h0M483 1032h0M484 1012h0M475 1081h0M432 1104h0M458 1013h0M428 986h0M428 1062h0M452 1055h0M443 1096h0M480 1006h0M417 1005h0M410 991h0M476 1018h0M457 1088h0M418 1002h0M454 1039h0M414 1016h0M427 1025h0M455 1031h0M451 992h0M422 1072h0M456 1074h0M454 1045h0" stroke="#1f8b46" stroke-width="4.0"/>
<path d="M482 1020h0M409 1003h0M448 1001h0M459 1041h0M445 1039h0M473 1043h0M467 1018h0M435 1022h0M422 1015h0M415 1068h0M418 1056h0M451 989h0M418 1030h0M484 1062h0M426 1093h0M422 1066h0M463 1089h0M469 1040h0M460 1057h0M438 1013h0M423 1047h0M439 1059h0M433 1040h0M456 1061h0M416 1024h0M451 1103h0M456 1002h0M420 1057h0M424 1035h0M448 1039h0M449 1101h0M477 1076h0M440 1077h0M415 1002h0M456 1096h0M421 986h0M482 1023h0M443 1065h0M434 1110h0M480 1047h0M450 1063h0M417 1093h0M482 1025h0M443 1040h0M413 1083h0M461 1047h0M414 1082h0M450 1080h0M458 996h0M469 1049h0M445 1106h0M438 1079h0M480 1067h0M461 1015h0M439 996h0M443 1087h0M462 1087h0M478 1053h0M440 1021h0M437 1109h0M454 1095h0M418 1018h0M423 1022h0M470 1057h0M485 1029h0M440 993h0M440 999h0M423 1093h0M480 1013h0M422 1003h0M429 1028h0M480 1042h0M482 1049h0M472 1075h0M450 1008h0M437 1035h0M430 1076h0M430 1084h0M409 1082h0M422 1055h0M420 1095h0M451 1077h0M432 1026h0M435 984h0M436 1064h0M420 1094h0M434 1109h0M466 1055h0M415 1068h0M452 1031h0M474 1050h0M450 1097h0M465 1025h0M415 1095h0M462 992h0M447 1086h0M453 1101h0M466 1051h0M442 1014h0M484 1060h0M445 1105h0M414 1024h0M446 1071h0M451 1031h0M477 1058h0M438 1025h0M463 1033h0M467 988h0M466 1078h0M430 1099h0M449 1061h0M484 1004h0M476 1012h0M455 1101h0M442 994h0M453 1033h0M459 1053h0M468 1067h0M453 1052h0" stroke="#7a2b8f" stroke-width="4.0"/>
<path d="M435 1004h0M457 1021h0M419 1100h0M436 1095h0M454 1008h0M424 988h0M476 1076h0M424 1000h0" stroke="#8dd0df" stroke-width="4.0"/>
<path d="M419 1103h0M437 1041h0M467 1023h0M471 1023h0M425 984h0M454 1014h0M453 1063h0M436 1079h0M461 1002h0" stroke="#f1dc24" stroke-width="4.0"/>
<path d="M449 1088h0M473 1075h0M470 1021h0M432 1089h0M427 1006h0M460 1032h0M428 1067h0M426 1111h0M445 1017h0M473 1071h0M413 995h0M456 1055h0M473 1002h0M466 1076h0M469 1029h0M452 1006h0M451 1002h0M459 1044h0M479 1070h0M448 991h0M471 1044h0M459 1051h0M425 1012h0M422 1012h0M454 1076h0M443 1038h0M471 1021h0M448 1076h0M431 991h0M430 1087h0M454 1010h0M452 1019h0M443 1016h0M455 1061h0M437 1111h0M455 1096h0M481 1015h0M462 995h0M418 1096h0" stroke="#1f8b46" stroke-width="4.0"/>
<path d="M439 1006h0M442 1018h0M430 1103h0" stroke="#8dd0df" stroke-width="4.0"/>
<path d="M468 1076h0M448 1004h0M451 986h0M455 1067h0M473 1055h0M442 1084h0M463 1035h0M453 1103h0M418 1103h0M435 1045h0M455 989h0M441 1108h0M448 1023h0M416 1004h0M461 1015h0M473 1035h0M462 1009h0M411 988h0M430 1108h0M445 1094h0M471 1087h0M454 997h0M476 997h0M446 1028h0M478 1070h0M418 1073h0M411 999h0M459 984h0M444 1061h0M440 993h0M427 987h0M432 1026h0M444 1040h0M432 985h0M475 1073h0M432 1079h0M459 1067h0M457 1097h0M430 1032h0M421 1064h0M442 1023h0M445 1082h0M445 1044h0M454 1082h0M440 1008h0M453 996h0M444 1084h0M444 1018h0M475 1020h0M443 1056h0M420 1100h0M461 997h0M483 1048h0M462 985h0M434 1076h0M431 1000h0M430 1023h0M476 1081h0M435 1082h0M448 1061h0M439 1005h0M457 1016h0M441 1040h0M472 987h0M434 1009h0M420 1066h0M457 1094h0M425 1067h0M471 1002h0M440 1049h0M413 1016h0M450 1074h0M447 1101h0M417 1029h0M441 1030h0M479 1036h0M440 1068h0M454 1000h0M441 1046h0M467 994h0M446 1099h0M445 1071h0M427 985h0M471 1057h0M437 985h0M446 1014h0M411 1005h0M457 1007h0M448 1069h0M419 1098h0M430 1093h0M411 999h0M458 1027h0M440 1078h0M481 1041h0M476 1022h0M445 1050h0M415 1001h0M476 1056h0M475 1042h0M476 1022h0M427 996h0M452 1100h0M481 1059h0M475 1051h0M451 1087h0M470 1012h0M467 996h0M454 1063h0M445 1106h0M429 1095h0M460 1034h0M480 1004h0M459 1041h0M453 992h0M404 995h0M463 1019h0M453 1086h0M468 1052h0M452 1070h0" stroke="#7a2b8f" stroke-width="4.0"/>
<path d="M431 983h0M477 1020h0M445 1048h0M428 1032h0M438 1104h0" stroke="#f1dc24" stroke-width="4.0"/>
<path d="M478 1072h0M454 993h0M476 1054h0M440 1068h0M432 1093h0M405 1012h0" stroke="#8dd0df" stroke-width="4.0"/>
<path d="M474 1048h0" stroke="#f1dc24" stroke-width="4.0"/>
<path d="M441 999h0M423 1061h0M444 1075h0M455 1095h0M469 1092h0M428 986h0M417 988h0M453 1007h0M457 1012h0M430 1076h0M452 1064h0M442 992h0M424 1095h0M434 993h0M449 1095h0M435 1041h0M414 998h0M427 991h0M424 1040h0M453 1063h0M481 1052h0M452 1039h0M456 1067h0M429 1036h0M470 1064h0M446 1094h0M454 1040h0M424 998h0M458 1024h0M469 1016h0M462 1098h0M462 983h0M459 1032h0M446 1077h0M447 1107h0M424 1064h0M435 1017h0M424 1099h0M450 1068h0M432 1022h0M465 1092h0M437 1026h0M445 1074h0M421 1028h0M437 1094h0M437 1029h0M462 1054h0M455 1082h0M468 1046h0M473 1010h0M465 1040h0M422 1001h0M441 1078h0M456 1015h0M458 1058h0M433 1015h0M455 1076h0M448 1103h0M466 1091h0M439 1055h0M443 1009h0M420 1027h0M434 1109h0M439 1037h0M464 995h0M428 1005h0M445 1088h0M455 991h0M464 1077h0M418 1094h0M453 1039h0M449 1015h0M414 990h0M459 985h0M437 995h0M450 1102h0M422 1061h0M460 1090h0M413 982h0M437 1099h0M440 1080h0M474 1070h0M457 1021h0M455 1065h0M436 1098h0M462 1041h0M432 1071h0M463 989h0M459 1000h0M461 1018h0M438 1007h0M478 1054h0M465 1055h0M437 1102h0M420 1093h0M434 1019h0M414 1006h0M453 1097h0M405 1002h0M453 1086h0M430 999h0M462 996h0M449 1021h0M463 1032h0M469 1076h0M443 1000h0M436 1025h0M447 1039h0M461 1064h0M423 1024h0M437 1113h0M461 1046h0M424 1003h0M445 1048h0M432 1027h0M425 1085h0M421 1004h0M442 1052h0M430 1002h0M427 1082h0M433 1071h0M476 990h0M435 1078h0" stroke="#7a2b8f" stroke-width="4.0"/>
<path d="M425 1051h0M467 993h0M460 1020h0M444 1089h0M461 1028h0M439 1019h0M460 984h0M416 1086h0M471 1038h0M441 1103h0M453 1050h0M438 1081h0M462 1047h0M455 1007h0M458 1055h0M467 987h0M472 1039h0M423 1102h0M442 1077h0M479 1062h0M453 988h0M417 1007h0M465 1088h0M432 1002h0M427 1070h0M445 1029h0M420 1098h0M439 1091h0M467 1086h0M462 1017h0M433 1017h0M472 1015h0M425 995h0M470 991h0M455 1000h0M420 983h0M455 1006h0" stroke="#1f8b46" stroke-width="4.0"/>
<path d="M453 1099h0M455 982h0M455 1018h0M449 1043h0M434 1003h0" stroke="#f1dc24" stroke-width="4.0"/>
<path d="M458 1002h0M465 1003h0M433 1031h0M462 1072h0M451 1028h0M473 1073h0M467 1041h0M425 1040h0M444 1030h0M411 1011h0M418 1019h0M458 990h0M459 1096h0M418 1017h0M455 1028h0M461 1049h0M435 1076h0M463 998h0M465 1014h0M475 1051h0M479 1031h0M470 1074h0M475 1066h0M418 1065h0M461 1014h0M452 1006h0M484 1051h0M470 1050h0M446 1046h0M433 1002h0M459 1026h0M434 994h0M428 1050h0M477 1035h0M446 1020h0M417 1014h0M439 1053h0M457 1045h0M462 1029h0" stroke="#1f8b46" stroke-width="4.0"/>
<path d="M433 1056h0M428 1026h0M459 1032h0M455 1018h0M432 1043h0" stroke="#8dd0df" stroke-width="4.0"/>
<path d="M436 1096h0M484 1024h0M448 1098h0M432 1012h0M412 1004h0M447 1081h0M430 1019h0M408 992h0M469 1055h0M466 1039h0M451 1012h0M424 1029h0M433 1047h0M433 1014h0M423 1107h0M412 1003h0M430 1004h0M482 998h0M480 1031h0M452 996h0M432 1056h0M445 1041h0M454 1075h0M432 1050h0M457 1091h0M424 1083h0M436 1090h0M462 1012h0M481 1027h0M448 1039h0M470 1040h0M457 1025h0M457 1100h0M442 1025h0M462 997h0M443 1110h0M453 1053h0M459 1049h0M456 1031h0M455 1065h0M421 1070h0M459 1058h0M461 1022h0M440 988h0M448 998h0M483 1056h0M426 1101h0M468 1006h0M457 1058h0M436 1053h0M467 1009h0M435 1054h0M428 1013h0M435 1010h0M461 1043h0M468 987h0M447 990h0M459 1038h0M482 1020h0M452 997h0M430 1113h0M458 1048h0M438 989h0M433 1054h0M454 1005h0M457 1023h0M440 1081h0M440 1077h0M458 992h0M467 987h0M469 1032h0M427 1102h0M484 1029h0M423 1093h0M439 986h0M424 1092h0M456 1083h0M455 992h0M423 987h0M461 1078h0M451 1022h0M432 1058h0M418 989h0M433 1021h0M464 1043h0M456 1096h0M442 1019h0M456 1019h0M440 1099h0M458 1032h0M484 1051h0M457 1095h0M464 1020h0M449 1097h0M470 1031h0M457 1015h0M430 993h0M434 1086h0M458 1042h0M442 1064h0M431 1064h0M459 1016h0M456 1045h0M448 1001h0M431 1090h0M416 1075h0M438 996h0M473 1063h0M484 995h0M440 1111h0M450 1007h0M444 1042h0M434 1060h0M448 1042h0M434 1115h0M438 1085h0M454 1001h0" stroke="#7a2b8f" stroke-width="4.0"/>
<path d="M449 989h0M468 1031h0M419 1075h0M437 1032h0M434 1050h0M480 996h0M465 1079h0M452 1000h0M452 1020h0M459 1033h0M462 1023h0M422 984h0M457 1040h0M441 995h0M439 1112h0M413 990h0M446 983h0M450 1035h0M419 1004h0M466 1024h0M432 986h0M438 999h0M482 1049h0M466 1049h0M419 988h0M468 1057h0M481 1042h0M465 1007h0M422 1025h0M424 1093h0M463 1021h0M444 1065h0M453 1008h0M458 1043h0M451 1048h0M447 998h0M440 1090h0M427 1072h0M433 1111h0M461 1071h0M463 984h0M430 1101h0M470 1054h0M461 1074h0M446 1110h0M410 1023h0M421 1067h0M479 1067h0M427 1097h0M461 1063h0M451 1034h0M449 1006h0M455 999h0M419 1095h0M463 1018h0M432 1054h0M417 1087h0M453 1087h0M447 1012h0M453 1069h0M459 1007h0M427 1082h0M418 1104h0M483 1043h0M441 1009h0M476 1046h0M451 1006h0M463 1040h0M470 1067h0M451 1068h0M474 1020h0M465 1001h0M414 1071h0M447 1100h0M415 1013h0M423 1071h0M419 992h0M432 1094h0M456 1059h0M431 1070h0M442 1080h0M445 1017h0M476 992h0M423 1082h0M444 1020h0M447 991h0M475 1014h0M463 1022h0M420 1090h0M434 1087h0M442 1054h0M431 1097h0M445 1000h0M467 988h0M444 1018h0M473 1062h0M460 1048h0M428 1011h0M447 1021h0M411 1001h0M428 1094h0M444 1053h0M436 998h0M423 1111h0M460 1053h0M425 1085h0M427 1077h0M450 1092h0M478 996h0M474 997h0M468 1057h0M447 1012h0M437 1019h0M440 1086h0M464 1088h0M449 1098h0M425 997h0M445 1032h0" stroke="#7a2b8f" stroke-width="4.0"/>
<path d="M457 1085h0M458 1057h0M462 1066h0M408 999h0M451 1017h0M430 1102h0M421 1064h0M473 1013h0M436 1108h0M472 1028h0M435 1061h0M443 1015h0M431 1049h0M443 1065h0M450 984h0M445 1013h0M456 1030h0M451 1088h0M462 1071h0M454 986h0M469 1015h0M459 1039h0M451 998h0M460 1037h0M423 988h0M418 994h0M431 1005h0M431 1095h0M451 1044h0M437 1103h0M436 1031h0M442 997h0M472 985h0M433 1074h0M445 1093h0" stroke="#1f8b46" stroke-width="4.0"/>
<path d="M450 1077h0M420 1019h0M421 1077h0M465 1032h0M477 1069h0" stroke="#f1dc24" stroke-width="4.0"/>
<path d="M459 1083h0M462 1013h0M476 993h0M471 1017h0M475 1014h0M451 987h0M433 1032h0M446 1066h0" stroke="#8dd0df" stroke-width="4.0"/>
<path d="M493 1084h0M539 1062h0M476 1068h0M531 1075h0M491 1101h0M537 1074h0M510 1058h0M528 1085h0M483 1059h0M488 1108h0M515 1066h0M521 1060h0M495 1094h0M520 1118h0M539 1064h0M476 1099h0M540 1058h0M499 1103h0M500 1063h0M504 1073h0M525 1058h0M573 1104h0M537 1118h0M514 1078h0M481 1059h0M483 1058h0M499 1109h0M529 1085h0M561 1087h0M541 1115h0M489 1067h0M463 1088h0M502 1070h0M557 1070h0M570 1080h0M547 1101h0M504 1080h0M531 1058h0M483 1103h0M565 1068h0M537 1098h0M521 1101h0M477 1100h0M570 1090h0M493 1108h0M536 1071h0M574 1111h0M552 1085h0M503 1082h0M462 1064h0M500 1073h0M572 1091h0M522 1074h0M572 1091h0M528 1090h0M516 1078h0M529 1098h0M556 1116h0M466 1072h0M483 1075h0M542 1118h0M492 1114h0M500 1062h0M497 1066h0M495 1078h0M492 1067h0" stroke="#1f8b46" stroke-width="4.0"/>
<path d="M527 1069h0M510 1076h0M580 1091h0M561 1080h0M547 1118h0M559 1115h0M483 1108h0M482 1090h0M571 1087h0M535 1108h0M468 1069h0M477 1082h0M487 1100h0M543 1106h0M480 1085h0M543 1117h0M552 1068h0M519 1057h0M491 1112h0M550 1079h0M503 1097h0M515 1079h0M499 1115h0M533 1091h0M521 1099h0M465 1080h0M549 1115h0M512 1064h0M543 1078h0M498 1060h0M504 1103h0M526 1111h0" stroke="#f1dc24" stroke-width="4.0"/>
<path d="M552 1111h0M491 1084h0M531 1068h0" stroke="#8dd0df" stroke-width="4.0"/>
<path d="M509 1097h0M552 1082h0M543 1058h0M525 1073h0M512 1048h0M538 1108h0M499 1100h0M519 1067h0M522 1108h0M472 1099h0M547 1106h0M496 1067h0M492 1090h0M478 1056h0M514 1059h0M550 1063h0M529 1099h0M556 1083h0M568 1111h0M567 1106h0M520 1068h0M516 1080h0M560 1102h0M548 1085h0M566 1108h0M528 1066h0M566 1093h0M471 1095h0M520 1092h0M498 1096h0M516 1106h0M482 1055h0M529 1105h0M534 1052h0M576 1087h0M542 1109h0M489 1095h0M500 1076h0M532 1099h0M547 1081h0M540 1078h0M507 1071h0M526 1067h0M539 1108h0M489 1091h0M554 1069h0M479 1053h0M495 1104h0M500 1078h0M486 1095h0M513 1053h0M564 1090h0M506 1054h0M516 1049h0M516 1099h0M527 1063h0M465 1086h0M537 1088h0" stroke="#7a2b8f" stroke-width="4.0"/>
<path d="M531 1060h0M570 1102h0M520 1088h0M545 1090h0M499 1080h0M526 1077h0M481 1060h0M533 1072h0M489 1103h0M475 1089h0M569 1081h0M484 1060h0M533 1077h0M511 1079h0M561 1106h0M534 1095h0M492 1090h0M513 1059h0M529 1066h0M488 1063h0M520 1066h0M554 1087h0M507 1090h0M482 1102h0M516 1095h0M527 1075h0M526 1104h0M556 1064h0M495 1065h0M540 1072h0M521 1098h0M567 1115h0M465 1078h0M540 1115h0M536 1091h0M498 1099h0M473 1072h0M548 1103h0M480 1055h0M521 1076h0M529 1093h0M550 1071h0M518 1090h0M544 1091h0M530 1110h0M562 1117h0M510 1116h0M511 1053h0M536 1107h0M544 1117h0M563 1108h0M574 1106h0" stroke="#7a2b8f" stroke-width="4.0"/>
<path d="M462 1077h0M490 1047h0M477 1090h0M512 1069h0M494 1070h0M539 1071h0M553 1098h0M475 1092h0M539 1067h0M569 1105h0M556 1067h0M550 1074h0M505 1114h0M539 1067h0M570 1096h0M534 1112h0M472 1058h0M531 1099h0M521 1117h0M533 1113h0M487 1085h0M554 1120h0M483 1083h0M511 1093h0M473 1097h0M517 1063h0M526 1079h0M561 1110h0M493 1100h0M532 1101h0M574 1080h0M476 1086h0M497 1108h0M536 1114h0M552 1080h0M475 1070h0M553 1066h0" stroke="#f1dc24" stroke-width="4.0"/>
<path d="M561 1107h0M501 1087h0M500 1056h0M483 1055h0M496 1109h0M490 1060h0M462 1089h0M516 1066h0M487 1114h0M559 1067h0M549 1114h0M467 1082h0M516 1083h0M557 1095h0M505 1046h0M473 1070h0M512 1107h0M492 1091h0M555 1105h0M562 1065h0M541 1090h0M509 1055h0M539 1101h0M569 1103h0M577 1098h0M537 1067h0M478 1078h0M509 1052h0M558 1111h0M525 1050h0M527 1083h0M483 1054h0M472 1092h0M558 1101h0M527 1099h0M467 1069h0M522 1093h0M506 1067h0M481 1084h0M530 1098h0M491 1114h0M511 1072h0M493 1058h0M513 1092h0M570 1104h0M484 1099h0M511 1065h0M477 1052h0M555 1069h0M462 1079h0M496 1059h0M516 1062h0M502 1087h0M549 1083h0M496 1106h0M554 1082h0M472 1074h0M567 1075h0M534 1090h0M477 1099h0M524 1061h0M548 1111h0M483 1086h0M490 1049h0M513 1099h0M564 1085h0M529 1084h0" stroke="#1f8b46" stroke-width="4.0"/>
<path d="M486 1108h0M472 1063h0M578 1091h0" stroke="#8dd0df" stroke-width="4.0"/>
<path d="M551 1079h0M566 1108h0M547 1116h0M541 1119h0M512 1067h0M560 1105h0M541 1094h0M549 1066h0M521 1105h0M499 1068h0M499 1074h0M491 1048h0M492 1107h0M573 1091h0M527 1060h0M547 1066h0M533 1094h0M491 1086h0M539 1067h0M530 1085h0M565 1079h0M571 1097h0M521 1086h0M470 1089h0M555 1108h0M532 1067h0M468 1056h0M492 1066h0M510 1064h0M465 1060h0M504 1102h0M484 1067h0M540 1080h0" stroke="#f1dc24" stroke-width="4.0"/>
<path d="M495 1097h0M495 1103h0M463 1071h0M474 1076h0M501 1086h0M568 1115h0M501 1110h0M480 1100h0" stroke="#8dd0df" stroke-width="4.0"/>
<path d="M537 1111h0M496 1091h0M551 1103h0M536 1066h0M498 1087h0M517 1110h0M531 1065h0M521 1111h0M549 1074h0M512 1072h0M481 1092h0M481 1063h0M483 1108h0M518 1053h0M561 1109h0M465 1055h0M528 1077h0M497 1084h0M550 1074h0M475 1101h0M519 1058h0M515 1075h0M471 1061h0M563 1094h0M526 1075h0M535 1067h0M502 1071h0M515 1063h0M501 1085h0M505 1099h0M545 1114h0M523 1058h0M526 1081h0M531 1076h0M520 1109h0M465 1075h0M554 1084h0M509 1091h0M543 1057h0M529 1062h0M522 1090h0M478 1064h0M518 1101h0M464 1072h0M541 1105h0M495 1109h0M564 1078h0M546 1117h0M558 1075h0M529 1114h0M488 1107h0M480 1101h0M503 1090h0M542 1119h0M522 1070h0M484 1102h0M511 1110h0" stroke="#7a2b8f" stroke-width="4.0"/>
<path d="M544 1074h0M497 1070h0M492 1055h0M479 1090h0M493 1076h0M517 1115h0M475 1075h0M551 1099h0M553 1116h0M480 1064h0M530 1056h0M479 1062h0M525 1068h0M518 1105h0M505 1109h0M570 1088h0M482 1093h0M571 1088h0M476 1060h0M550 1080h0M483 1095h0M465 1087h0M541 1113h0M477 1059h0M500 1107h0M542 1111h0M510 1069h0M505 1052h0M538 1065h0M511 1071h0M553 1093h0M525 1102h0M468 1071h0M555 1112h0M535 1074h0M496 1108h0M536 1096h0M529 1097h0M551 1063h0M479 1100h0M476 1079h0M568 1079h0M563 1095h0M532 1089h0M532 1092h0M476 1077h0M498 1060h0M540 1070h0M462 1082h0M571 1091h0M509 1084h0M504 1049h0M531 1056h0M551 1099h0M545 1092h0M487 1110h0M484 1078h0M507 1080h0M502 1110h0M560 1100h0" stroke="#1f8b46" stroke-width="4.0"/>
<path d="M510 1047h0M466 1078h0M500 1107h0M498 1057h0M468 1086h0M530 1072h0M476 1099h0M503 1066h0M542 1074h0M553 1100h0M478 1085h0M518 1098h0M539 1111h0M499 1103h0M548 1074h0M561 1095h0M568 1077h0M550 1110h0M486 1059h0M480 1102h0M528 1114h0M565 1084h0M470 1078h0M528 1089h0M550 1075h0M462 1077h0M501 1085h0M482 1099h0M536 1081h0M468 1081h0M547 1109h0M497 1104h0M515 1079h0M480 1065h0M512 1060h0M496 1105h0M531 1068h0M551 1113h0M500 1112h0M532 1101h0M461 1076h0M515 1083h0M510 1094h0M547 1101h0M485 1091h0M486 1077h0M514 1072h0M557 1108h0M468 1057h0M557 1087h0M573 1092h0M501 1105h0M488 1088h0M507 1075h0M547 1064h0M574 1086h0M534 1069h0M530 1093h0M537 1115h0M535 1099h0M474 1080h0" stroke="#7a2b8f" stroke-width="4.0"/>
<path d="M544 1120h0M510 1054h0M520 1061h0M524 1056h0M510 1073h0M536 1109h0M498 1075h0M489 1111h0M545 1120h0M489 1112h0M483 1100h0M505 1088h0M485 1051h0M525 1093h0M487 1051h0M523 1095h0M572 1087h0M516 1112h0M474 1104h0M558 1098h0M503 1081h0M523 1096h0M520 1062h0M533 1108h0M535 1079h0M525 1108h0M535 1056h0M512 1069h0M562 1115h0M538 1071h0M564 1121h0M559 1067h0M558 1065h0M499 1105h0M560 1115h0M558 1102h0M483 1092h0M475 1094h0M555 1080h0M469 1075h0M560 1069h0M500 1096h0M544 1105h0M560 1109h0M526 1054h0M551 1096h0M527 1084h0M508 1061h0M504 1105h0M459 1084h0M552 1081h0M523 1083h0" stroke="#1f8b46" stroke-width="4.0"/>
<path d="M562 1107h0M512 1103h0M493 1051h0M519 1069h0M574 1114h0" stroke="#8dd0df" stroke-width="4.0"/>
<path d="M477 1066h0M503 1078h0M509 1086h0M513 1080h0M562 1114h0M563 1082h0M530 1082h0M528 1066h0M546 1099h0M508 1089h0M555 1106h0M488 1098h0M553 1086h0M545 1100h0M481 1055h0M523 1084h0M547 1107h0M570 1077h0M489 1082h0M500 1075h0M486 1074h0M559 1077h0M514 1063h0M515 1052h0M543 1085h0M566 1091h0M526 1079h0M468 1090h0M504 1066h0M481 1070h0M485 1097h0M529 1063h0M551 1107h0M565 1085h0M547 1070h0M545 1109h0M495 1106h0M566 1113h0M572 1083h0M478 1095h0" stroke="#f1dc24" stroke-width="4.0"/>
<path d="M497 1094h0M500 1075h0M516 1058h0M507 1114h0M507 1102h0M479 1075h0" stroke="#8dd0df" stroke-width="4.0"/>
<path d="M514 1088h0M501 1051h0M553 1076h0M558 1115h0M502 1097h0M510 1054h0M481 1100h0M487 1073h0M533 1068h0M547 1098h0M509 1074h0M552 1113h0M520 1090h0M494 1070h0M559 1106h0M536 1065h0M549 1071h0M557 1088h0M513 1100h0M496 1069h0M528 1062h0M504 1108h0M481 1053h0M516 1067h0M489 1050h0M479 1056h0M536 1070h0M488 1078h0M570 1087h0M473 1058h0M472 1091h0M523 1069h0M476 1070h0M502 1093h0M472 1104h0M570 1115h0M543 1109h0M535 1058h0M489 1080h0M548 1112h0M472 1063h0M523 1105h0M533 1058h0M472 1096h0M498 1094h0M470 1073h0M580 1096h0M524 1058h0M487 1060h0M542 1101h0M565 1100h0M518 1101h0" stroke="#1f8b46" stroke-width="4.0"/>
<path d="M563 1098h0M543 1101h0M526 1101h0M544 1101h0M493 1085h0M522 1088h0M540 1110h0M544 1069h0M538 1065h0M517 1094h0M531 1099h0M497 1106h0M488 1076h0M511 1106h0M504 1114h0M510 1055h0M495 1091h0M532 1095h0M501 1071h0M545 1070h0M534 1096h0M542 1116h0M578 1091h0M520 1091h0M547 1080h0M513 1049h0M561 1079h0M543 1102h0M480 1070h0M489 1057h0M554 1085h0M563 1085h0M544 1099h0M555 1086h0M561 1087h0M537 1070h0M487 1050h0M496 1053h0M484 1069h0M559 1067h0M528 1094h0M565 1118h0M567 1082h0M478 1099h0M481 1074h0M500 1067h0M567 1077h0M529 1076h0M513 1053h0M574 1091h0M544 1071h0M529 1093h0" stroke="#f1dc24" stroke-width="4.0"/>
<path d="M524 1118h0M505 1063h0M555 1098h0M550 1111h0M493 1061h0M548 1107h0M565 1075h0M543 1069h0M502 1105h0M569 1076h0M542 1085h0M503 1076h0M459 1068h0M522 1102h0M538 1071h0M497 1102h0M529 1111h0M511 1054h0M552 1094h0M491 1070h0M559 1088h0M553 1120h0M479 1061h0M465 1069h0M572 1099h0M536 1085h0M529 1105h0M505 1095h0M472 1070h0M564 1087h0M532 1084h0M534 1105h0M515 1077h0M523 1052h0M521 1070h0M565 1081h0M517 1055h0M512 1060h0M526 1074h0M489 1054h0M544 1102h0M518 1062h0M500 1076h0M530 1092h0M534 1074h0M507 1114h0M521 1061h0M523 1061h0" stroke="#7a2b8f" stroke-width="4.0"/>
<path d="M508 1064h0M512 1085h0M487 1085h0M570 1117h0M513 1068h0M520 1110h0M487 1089h0M506 1049h0M486 1077h0M538 1079h0M526 1080h0M523 1086h0M560 1096h0M543 1093h0M531 1095h0M476 1105h0M566 1101h0M501 1063h0M476 1100h0M562 1107h0M473 1097h0M531 1114h0M501 1103h0M533 1088h0M479 1079h0M557 1099h0M522 1084h0M513 1080h0M533 1083h0M491 1080h0M518 1107h0M517 1090h0M563 1092h0M566 1091h0M496 1113h0M501 1101h0M494 1109h0M480 1074h0M522 1089h0M556 1063h0M489 1061h0M552 1075h0M499 1065h0M527 1098h0M485 1085h0M478 1069h0M569 1089h0M479 1054h0M526 1066h0M574 1108h0M472 1077h0M529 1101h0M478 1089h0" stroke="#7a2b8f" stroke-width="4.0"/>
<path d="M567 1072h0M467 1085h0M482 1106h0M530 1113h0M539 1109h0M570 1083h0M508 1105h0M520 1103h0M484 1056h0M524 1108h0M485 1109h0M491 1071h0M518 1102h0M482 1087h0M535 1082h0M512 1088h0M506 1088h0M550 1101h0M569 1092h0M559 1111h0M510 1106h0M483 1091h0M497 1089h0M537 1108h0M524 1114h0M497 1105h0M504 1062h0M560 1088h0M557 1073h0M514 1084h0M547 1083h0M479 1094h0M540 1084h0M536 1110h0M493 1107h0M551 1119h0" stroke="#f1dc24" stroke-width="4.0"/>
<path d="M472 1092h0M568 1085h0M524 1061h0M529 1088h0M506 1097h0M542 1098h0" stroke="#8dd0df" stroke-width="4.0"/>
<path d="M502 1051h0M486 1106h0M541 1105h0M489 1093h0M536 1098h0M507 1069h0M479 1101h0M524 1091h0M519 1086h0M480 1083h0M552 1091h0M508 1104h0M529 1089h0M484 1062h0M574 1100h0M528 1093h0M531 1105h0M499 1065h0M544 1070h0M540 1069h0M549 1117h0M505 1076h0M504 1094h0M478 1096h0M483 1072h0M517 1066h0M490 1072h0M543 1072h0M566 1086h0M526 1115h0M556 1072h0M478 1097h0M567 1109h0M479 1079h0M464 1069h0M542 1057h0M558 1078h0M499 1081h0M536 1081h0M479 1099h0M568 1088h0M502 1102h0M569 1102h0M473 1082h0M572 1090h0M478 1075h0M573 1087h0M537 1060h0M488 1088h0M465 1072h0M560 1085h0M473 1078h0M563 1107h0M514 1087h0M490 1091h0M514 1112h0M468 1088h0M530 1083h0M545 1067h0M522 1106h0M499 1096h0M562 1082h0M499 1052h0" stroke="#1f8b46" stroke-width="4.0"/>
<path d="M489 1101h0M483 1092h0M502 1079h0M543 1081h0M544 1099h0M495 1106h0M498 1092h0M527 1101h0M506 1104h0M528 1083h0" stroke="#7a2b8f" stroke-width="4.0"/>
<path d="M555 1089h0M485 1099h0M486 1097h0M533 1082h0M502 1101h0M535 1094h0M533 1100h0M535 1082h0M526 1086h0M506 1085h0M554 1097h0M537 1105h0M528 1105h0M516 1086h0M503 1092h0M531 1084h0M554 1093h0M526 1102h0M495 1086h0M523 1089h0M543 1094h0M512 1103h0M511 1090h0M482 1096h0M518 1090h0M540 1095h0M541 1089h0M516 1097h0M500 1101h0M495 1091h0M498 1107h0M539 1081h0M506 1098h0M504 1087h0M531 1099h0M519 1097h0M483 1102h0M482 1092h0M508 1085h0M534 1087h0M513 1090h0M544 1086h0M519 1092h0M524 1092h0M505 1093h0M543 1084h0M530 1096h0M494 1094h0M533 1083h0M514 1088h0M529 1099h0M501 1102h0M482 1100h0M511 1104h0M493 1086h0M531 1099h0M530 1084h0M537 1105h0M486 1081h0M498 1090h0M508 1100h0M533 1097h0M500 1085h0M500 1106h0M508 1101h0M511 1093h0M525 1087h0" stroke="#f1dc24" stroke-width="4.0"/>
<path d="M550 1083h0M544 1085h0M502 1089h0M519 1087h0M505 1081h0M500 1088h0M515 1100h0M505 1107h0M536 1101h0M547 1099h0M543 1106h0M491 1093h0M518 1090h0M538 1091h0M549 1087h0M502 1104h0M514 1094h0M495 1095h0M541 1084h0M508 1080h0M502 1084h0M495 1101h0M479 1095h0M550 1106h0M490 1094h0M525 1101h0M507 1106h0M506 1091h0M539 1095h0M543 1091h0M512 1102h0M518 1080h0M499 1099h0M493 1109h0M495 1109h0M516 1088h0M535 1091h0M509 1103h0M533 1081h0M526 1106h0M500 1102h0M542 1101h0M528 1098h0M531 1086h0M502 1100h0M529 1078h0M510 1093h0M525 1086h0M542 1097h0M538 1095h0M525 1087h0M481 1087h0M549 1102h0M522 1098h0M530 1084h0M522 1093h0M544 1077h0M507 1097h0M511 1098h0M495 1107h0M519 1094h0M517 1100h0M501 1094h0M503 1094h0M512 1079h0M492 1105h0M524 1077h0M497 1097h0M537 1084h0" stroke="#f1dc24" stroke-width="4.0"/>
<path d="M506 1101h0M503 1091h0M528 1106h0M551 1086h0M532 1092h0M537 1101h0M531 1080h0M519 1087h0" stroke="#7a2b8f" stroke-width="4.0"/>
<path d="M521 1099h0M518 1107h0M525 1082h0M503 1105h0M533 1087h0M498 1101h0M506 1105h0M521 1091h0M551 1098h0M545 1092h0M495 1102h0M532 1086h0M480 1091h0M530 1087h0M536 1091h0M503 1094h0M518 1099h0M498 1089h0M532 1083h0M493 1094h0M534 1087h0M532 1092h0M540 1077h0M508 1104h0M484 1104h0M502 1105h0M489 1089h0M535 1096h0M499 1098h0M545 1106h0M543 1107h0M504 1096h0M526 1101h0M502 1097h0M549 1084h0M500 1105h0M486 1091h0M545 1084h0M535 1085h0M528 1096h0M510 1097h0M517 1091h0M494 1084h0M492 1104h0M527 1097h0M512 1083h0M514 1080h0M518 1094h0M533 1092h0M550 1088h0M529 1089h0M493 1082h0M495 1097h0M507 1099h0M496 1098h0M518 1098h0M549 1088h0M502 1092h0M513 1083h0M500 1099h0M538 1084h0M511 1085h0M536 1097h0" stroke="#f1dc24" stroke-width="4.0"/>
<path d="M553 1095h0M527 1100h0M499 1090h0M496 1109h0M546 1098h0M525 1089h0M498 1085h0M556 1093h0M483 1084h0M513 1082h0M513 1081h0M549 1103h0M518 1107h0" stroke="#7a2b8f" stroke-width="4.0"/>
<path d="M560 1098h0M569 1095h0M549 1110h0M565 1076h0M555 1096h0M569 1099h0M557 1098h0M559 1088h0M538 1088h0M545 1078h0M542 1102h0M554 1079h0M549 1117h0M552 1110h0M571 1099h0M561 1109h0M566 1079h0M567 1095h0M567 1100h0" stroke="#1f8b46" stroke-width="4.0"/>
<path d="M539 1081h0M560 1079h0M550 1082h0M545 1089h0M561 1114h0M560 1102h0M568 1097h0M565 1100h0M563 1106h0M549 1087h0M540 1095h0M571 1116h0M549 1092h0M566 1104h0M574 1102h0M559 1090h0M575 1084h0M539 1088h0M544 1108h0M562 1097h0M558 1101h0M556 1085h0M544 1113h0M551 1080h0M554 1116h0M547 1090h0M562 1108h0M556 1070h0M558 1107h0M556 1113h0M552 1078h0M550 1091h0M562 1098h0M571 1090h0M569 1095h0M564 1077h0M574 1104h0M547 1075h0M580 1095h0M565 1108h0M554 1104h0M552 1085h0M553 1107h0M559 1100h0M539 1102h0M555 1094h0M559 1109h0M548 1073h0M570 1111h0M556 1080h0M567 1111h0M539 1087h0M546 1110h0M557 1105h0M573 1080h0M575 1088h0M552 1095h0M547 1114h0M551 1118h0M561 1086h0M571 1079h0M546 1078h0M546 1099h0M572 1109h0M569 1092h0M554 1100h0M551 1084h0M568 1090h0M564 1104h0M571 1078h0M571 1093h0M550 1114h0M550 1105h0M551 1084h0M547 1084h0M562 1097h0M570 1098h0M545 1079h0M574 1107h0M567 1085h0M537 1099h0M559 1105h0M572 1096h0M563 1078h0M562 1083h0M570 1090h0M554 1098h0M542 1107h0M563 1107h0M564 1108h0M540 1108h0M577 1096h0M541 1110h0M569 1084h0M570 1084h0M560 1079h0M552 1077h0M562 1118h0M567 1099h0M551 1085h0M554 1102h0M562 1112h0M556 1085h0M570 1079h0M544 1083h0M540 1086h0M576 1105h0M567 1082h0M553 1115h0M567 1093h0M547 1107h0" stroke="#7a2b8f" stroke-width="4.0"/>
<path d="M567 1082h0M543 1105h0M557 1094h0M569 1103h0M558 1114h0M551 1083h0M539 1110h0M545 1080h0M563 1082h0M550 1078h0M542 1113h0M547 1091h0M562 1086h0M552 1110h0M563 1113h0M566 1108h0M546 1114h0M552 1117h0M550 1099h0M572 1105h0" stroke="#f1dc24" stroke-width="4.0"/>
<path d="M547 1058h0M547 1038h0M518 1052h0M564 1044h0M527 1050h0M507 1060h0M514 1048h0M506 1053h0" stroke="#f1dc24" stroke-width="4.0"/>
<path d="M560 1062h0M509 1057h0M566 1032h0M529 1043h0M548 1060h0M511 1054h0M519 1022h0M538 1059h0M568 1059h0M542 1044h0M506 1039h0M512 1026h0M535 1036h0M516 1059h0M550 1026h0M527 1054h0M566 1053h0M490 1051h0M517 1023h0M539 1033h0M497 1050h0M516 1065h0M516 1035h0M560 1055h0M498 1033h0M552 1033h0M545 1061h0M545 1054h0M525 1040h0M503 1039h0M573 1059h0M574 1031h0M506 1055h0M565 1037h0M509 1051h0M526 1056h0M500 1042h0M499 1039h0M562 1028h0M528 1058h0M511 1062h0M563 1032h0M542 1020h0M563 1052h0M558 1062h0M544 1044h0M510 1033h0M563 1020h0M487 1038h0M491 1045h0M541 1072h0M497 1051h0M517 1053h0M503 1048h0M498 1042h0M537 1051h0M551 1033h0M504 1029h0M564 1058h0M500 1038h0M567 1029h0M529 1031h0M512 1020h0M514 1030h0M535 1066h0M538 1041h0M500 1056h0M505 1031h0M528 1040h0M535 1046h0M528 1040h0M516 1060h0M574 1060h0M540 1036h0M545 1050h0M565 1048h0M557 1047h0M538 1046h0M561 1039h0M531 1040h0M521 1029h0M529 1064h0M515 1033h0M541 1039h0M539 1054h0M565 1048h0M554 1046h0M529 1032h0M512 1025h0M494 1048h0M563 1068h0M536 1029h0M507 1053h0M526 1033h0M486 1047h0M546 1061h0M563 1034h0M557 1035h0M516 1062h0M522 1052h0M554 1047h0M550 1025h0M536 1024h0M512 1048h0M493 1036h0M543 1022h0" stroke="#1f8b46" stroke-width="4.0"/>
<path d="M503 1058h0M488 1039h0M528 1029h0M529 1046h0M538 1055h0M517 1055h0M493 1047h0M567 1045h0M486 1040h0M536 1038h0M510 1043h0M532 1032h0M491 1046h0M514 1057h0M557 1057h0M562 1031h0M566 1021h0M530 1048h0M529 1037h0M520 1048h0M570 1033h0M496 1060h0M540 1054h0M517 1058h0M533 1053h0M567 1046h0M558 1052h0M540 1053h0M556 1028h0M513 1050h0M500 1050h0M494 1048h0M515 1035h0M558 1053h0M523 1069h0M509 1025h0" stroke="#7a2b8f" stroke-width="4.0"/>
<path d="M450 1159h0M432 1122h0M445 1176h0M432 1192h0M448 1129h0M432 1122h0M427 1194h0M448 1169h0M424 1194h0M389 1168h0M450 1164h0M396 1140h0M396 1132h0M427 1122h0M448 1171h0M447 1170h0M395 1186h0M396 1190h0M448 1132h0M446 1181h0M442 1178h0M450 1127h0M456 1151h0M435 1123h0M409 1124h0M447 1127h0M401 1193h0M448 1135h0M410 1125h0M446 1129h0M454 1145h0M439 1182h0M446 1129h0M446 1175h0M451 1159h0M455 1142h0M404 1192h0M392 1178h0M450 1170h0M402 1196h0M389 1172h0M453 1136h0M391 1177h0M396 1187h0M442 1121h0M391 1151h0M451 1165h0M425 1195h0M389 1137h0M439 1185h0M424 1195h0M453 1134h0M390 1146h0M389 1148h0M397 1190h0M404 1128h0M454 1156h0M427 1193h0M402 1127h0M445 1177h0M412 1196h0M398 1184h0M411 1124h0M434 1189h0M404 1196h0M447 1131h0M390 1178h0M453 1161h0M430 1191h0M448 1131h0M420 1120h0M447 1173h0M452 1148h0M453 1150h0M396 1189h0M396 1194h0M452 1160h0M455 1140h0M431 1192h0M423 1195h0M440 1187h0M453 1164h0M407 1126h0M401 1127h0M449 1133h0M408 1122h0M389 1163h0M417 1191h0M431 1189h0M450 1146h0" stroke="#7a2b8f" stroke-width="4.0"/>
<path d="M395 1177h0M397 1172h0M422 1131h0M391 1166h0M413 1153h0M414 1152h0M413 1195h0M407 1144h0M399 1151h0M398 1190h0M426 1146h0M421 1164h0M416 1168h0M425 1145h0M414 1141h0M436 1174h0" stroke="#1f8b46" stroke-width="4.0"/>
<path d="M444 1144h0M450 1159h0M449 1149h0M420 1138h0M442 1145h0M425 1182h0" stroke="#e97b2f" stroke-width="4.0"/>
<path d="M388 1156h0M406 1141h0M442 1162h0M404 1132h0M448 1131h0M437 1125h0M391 1169h0M423 1126h0M410 1196h0M417 1123h0M410 1189h0M395 1144h0M448 1146h0M404 1174h0M395 1158h0M413 1186h0M414 1198h0M409 1157h0M428 1160h0M445 1136h0M445 1140h0M408 1190h0M426 1151h0" stroke="#f1dc24" stroke-width="4.0"/>
<path d="M444 1112h0M429 1116h0M445 1095h0M452 1132h0M458 1113h0M461 1107h0" stroke="#1f8b46" stroke-width="4.0"/>
<path d="M462 1113h0M454 1096h0M444 1117h0M436 1092h0M431 1100h0M437 1114h0M470 1110h0M434 1115h0M469 1127h0M432 1112h0M456 1102h0M456 1095h0M468 1099h0M445 1121h0M462 1115h0M460 1104h0M471 1104h0M427 1110h0M433 1101h0M430 1101h0M450 1124h0M467 1096h0M461 1120h0M443 1104h0M469 1120h0M455 1100h0M425 1111h0M456 1104h0M460 1126h0M437 1102h0M472 1116h0M444 1122h0M462 1090h0M467 1104h0M421 1098h0M439 1118h0M455 1113h0M460 1116h0M431 1109h0M438 1099h0M454 1119h0M442 1107h0M448 1128h0M444 1117h0M437 1130h0M443 1106h0M443 1127h0M424 1099h0M465 1105h0M445 1131h0M444 1112h0M448 1130h0M438 1106h0M430 1104h0M424 1112h0M451 1135h0M447 1096h0M463 1113h0M454 1106h0M453 1109h0M461 1105h0M456 1106h0M451 1109h0M447 1094h0M450 1120h0M433 1104h0M471 1111h0M462 1115h0M432 1103h0" stroke="#7a2b8f" stroke-width="4.0"/>
<path d="M447 1114h0M442 1103h0M459 1102h0" stroke="#8dd0df" stroke-width="4.0"/>
<path d="M457 1103h0M453 1121h0" stroke="#f1dc24" stroke-width="4.0"/>
<path d="M467 1127h0M447 1125h0M429 1113h0M462 1108h0" stroke="#f1dc24" stroke-width="4.0"/>
<path d="M469 1105h0M460 1123h0M448 1107h0M452 1101h0" stroke="#8dd0df" stroke-width="4.0"/>
<path d="M433 1098h0M443 1115h0M453 1103h0M429 1104h0M445 1115h0M472 1122h0M453 1117h0M455 1120h0M426 1105h0M474 1102h0M469 1130h0M436 1125h0M435 1103h0M429 1102h0M449 1117h0M448 1137h0M436 1119h0M431 1111h0M458 1125h0M448 1104h0M437 1108h0M455 1134h0M445 1118h0M428 1104h0M450 1115h0M446 1114h0M461 1119h0M460 1089h0M454 1123h0M452 1115h0M428 1101h0M443 1106h0M461 1106h0M439 1120h0M447 1120h0M447 1097h0M449 1105h0M424 1114h0M452 1097h0M450 1092h0M443 1117h0M439 1090h0M446 1135h0M430 1110h0M444 1119h0M448 1092h0M442 1121h0M448 1124h0M454 1132h0M470 1120h0M438 1116h0M454 1109h0M448 1116h0M443 1117h0M441 1134h0M439 1126h0M460 1124h0M447 1119h0M468 1110h0M444 1127h0M458 1098h0M430 1119h0" stroke="#7a2b8f" stroke-width="4.0"/>
<path d="M446 1107h0M440 1116h0M445 1133h0M465 1115h0M440 1102h0M459 1126h0M467 1125h0M454 1107h0M431 1106h0M449 1133h0" stroke="#1f8b46" stroke-width="4.0"/>
<path d="M471 1104h0M465 1111h0M455 1100h0M449 1097h0M453 1116h0M448 1109h0M432 1095h0M461 1125h0M473 1110h0M455 1099h0M423 1108h0M452 1118h0M443 1134h0M449 1116h0M468 1109h0M427 1118h0M450 1093h0M433 1129h0M431 1121h0M440 1107h0M457 1119h0M450 1132h0M465 1116h0M464 1127h0M445 1110h0M462 1099h0M424 1105h0M476 1104h0M430 1112h0M459 1132h0M459 1127h0M449 1115h0M460 1119h0M448 1106h0M433 1114h0M472 1111h0M468 1102h0M435 1109h0M427 1092h0M428 1109h0M456 1094h0M447 1095h0M447 1094h0M472 1100h0M443 1129h0M436 1126h0M456 1108h0M440 1097h0M464 1120h0M461 1103h0M467 1114h0M462 1122h0M450 1100h0M461 1101h0M434 1133h0M463 1130h0M453 1100h0M458 1105h0M449 1097h0M427 1096h0M456 1125h0M451 1129h0M435 1115h0M464 1107h0M458 1106h0M469 1125h0M435 1091h0" stroke="#7a2b8f" stroke-width="4.0"/>
<path d="M458 1108h0M450 1116h0M473 1099h0M431 1103h0M468 1108h0M455 1128h0" stroke="#1f8b46" stroke-width="4.0"/>
<path d="M443 1105h0M444 1124h0M465 1105h0M438 1122h0M457 1094h0M466 1105h0M426 1104h0" stroke="#f1dc24" stroke-width="4.0"/>
<path d="M550 1222h0M538 1194h0M551 1134h0M559 1221h0M540 1187h0M536 1210h0M536 1174h0M575 1165h0M561 1122h0M555 1125h0M563 1128h0M563 1124h0M576 1169h0M561 1128h0M553 1131h0M530 1193h0M565 1140h0M553 1156h0M548 1219h0M562 1121h0M572 1216h0M537 1198h0M559 1144h0M576 1163h0M559 1127h0M566 1134h0M532 1195h0M559 1138h0M577 1184h0M566 1218h0M550 1223h0M555 1136h0M576 1198h0M578 1177h0M536 1194h0M552 1149h0M580 1180h0M557 1148h0M540 1215h0M558 1130h0M555 1125h0M534 1201h0M580 1184h0M558 1221h0M580 1174h0M554 1158h0M554 1221h0M548 1221h0M537 1214h0M551 1152h0M581 1193h0M531 1192h0M556 1121h0M533 1207h0M537 1203h0M559 1124h0M537 1208h0M555 1153h0M534 1191h0M566 1156h0M558 1222h0M561 1128h0M542 1175h0M563 1144h0M560 1128h0M541 1184h0M536 1188h0M549 1222h0M565 1141h0M545 1161h0M533 1183h0M562 1141h0M550 1149h0M578 1187h0M540 1165h0M573 1200h0M572 1205h0M572 1212h0M557 1124h0M574 1203h0M554 1149h0M556 1134h0M540 1221h0M542 1170h0M563 1135h0M578 1183h0M540 1220h0M540 1171h0M560 1124h0M539 1219h0M578 1178h0M562 1142h0M571 1162h0M553 1126h0M556 1123h0M570 1219h0M546 1163h0M534 1212h0M561 1221h0M553 1146h0M566 1211h0M550 1130h0M553 1151h0M538 1217h0M565 1138h0M560 1221h0M562 1152h0M539 1207h0M548 1220h0M579 1177h0M571 1208h0M560 1128h0M569 1213h0M550 1148h0M547 1160h0M580 1170h0M534 1188h0M577 1164h0M557 1124h0M558 1126h0" stroke="#1f8b46" stroke-width="4.0"/>
<path d="M533 1198h0M531 1202h0M543 1205h0M526 1211h0M539 1203h0M530 1202h0M535 1197h0M542 1212h0M532 1200h0M539 1221h0M545 1204h0M532 1197h0M542 1206h0M533 1194h0M532 1217h0M530 1202h0M544 1198h0M540 1196h0M545 1198h0M536 1209h0" stroke="#7a2b8f" stroke-width="4.0"/>
<path d="M535 1194h0M541 1199h0M531 1194h0M532 1198h0M530 1201h0M540 1217h0M534 1208h0M533 1189h0M539 1196h0M529 1190h0M530 1196h0M538 1199h0M547 1206h0M544 1210h0M536 1217h0M543 1202h0" stroke="#1f8b46" stroke-width="4.0"/>
<path d="M475 1178h0M502 1178h0M516 1175h0M495 1172h0M504 1172h0M470 1175h0M459 1171h0M482 1171h0M496 1174h0M478 1171h0M471 1179h0M489 1173h0M496 1176h0M482 1172h0M463 1172h0M511 1179h0M505 1177h0M467 1174h0M482 1178h0M483 1171h0M477 1174h0M494 1178h0M481 1170h0M471 1172h0M453 1170h0M488 1171h0M458 1175h0M510 1175h0M500 1173h0M475 1176h0M469 1168h0M483 1175h0M512 1176h0M461 1173h0M468 1169h0M469 1174h0M465 1171h0M494 1176h0M465 1174h0M484 1174h0M471 1174h0M484 1177h0M503 1176h0M471 1173h0M500 1173h0M498 1171h0M487 1176h0M464 1177h0M472 1173h0M508 1173h0M505 1174h0M460 1169h0M507 1175h0M474 1171h0M489 1179h0M514 1177h0M486 1179h0M483 1172h0M510 1173h0M492 1176h0M463 1174h0M504 1174h0M503 1171h0M476 1174h0M473 1175h0M480 1170h0M467 1168h0M508 1173h0M504 1175h0M491 1172h0" stroke="#1f8b46" stroke-width="4.0"/>
<path d="M864 1289h0M837 1268h0M729 1311h0M871 1327h0M861 1335h0M719 1299h0M847 1270h0M849 1343h0M709 1286h0M739 1335h0M870 1304h0M719 1305h0M865 1288h0M848 1345h0M755 1341h0M735 1323h0M737 1330h0M727 1312h0M706 1276h0M748 1337h0M852 1274h0M817 1358h0M730 1318h0M855 1344h0M731 1317h0M732 1318h0M870 1296h0M769 1261h0M764 1350h0M727 1312h0M705 1276h0M717 1303h0M724 1312h0M769 1354h0M721 1302h0M721 1299h0M817 1357h0M702 1281h0M728 1267h0M726 1266h0M792 1355h0M758 1343h0M800 1257h0M841 1353h0M841 1269h0M830 1267h0M849 1348h0M752 1258h0M722 1304h0M851 1274h0M700 1269h0M870 1299h0M732 1331h0M728 1310h0M797 1255h0M724 1303h0M815 1356h0M800 1357h0M864 1286h0M732 1323h0M707 1270h0M856 1342h0M714 1289h0M706 1283h0M743 1339h0M863 1333h0M704 1270h0M705 1279h0M834 1268h0M753 1342h0M708 1268h0M862 1285h0M766 1261h0M730 1318h0" stroke="#f1dc24" stroke-width="4.0"/>
<path d="M740 1267h0M735 1329h0M864 1285h0M743 1268h0M735 1329h0M829 1355h0M811 1354h0M874 1316h0M786 1359h0M762 1350h0M735 1322h0M872 1319h0M728 1314h0M740 1334h0M720 1269h0M715 1292h0M748 1341h0M769 1257h0M872 1301h0M788 1355h0M702 1272h0M793 1357h0M860 1333h0M729 1267h0M718 1296h0M732 1325h0M851 1345h0M862 1289h0M862 1285h0M732 1320h0M860 1283h0M745 1264h0M850 1273h0M722 1306h0M729 1310h0M701 1272h0M750 1341h0M711 1291h0M732 1269h0M823 1263h0M861 1338h0M702 1281h0M841 1266h0M830 1262h0M808 1357h0M717 1294h0M709 1284h0M719 1269h0M759 1347h0M707 1283h0M871 1296h0M870 1325h0M798 1356h0M866 1330h0M730 1319h0M746 1346h0M732 1322h0M801 1358h0M873 1305h0M724 1268h0M733 1323h0M797 1259h0M756 1342h0M797 1358h0M715 1269h0M750 1340h0M814 1358h0M873 1315h0M868 1325h0M736 1267h0M863 1335h0M709 1282h0M733 1320h0" stroke="#f1dc24" stroke-width="4.0"/>
<path d="M805 1255h0M806 1357h0M808 1359h0M805 1359h0M872 1298h0M720 1268h0M784 1357h0M823 1360h0M837 1352h0M721 1265h0M713 1289h0M763 1351h0M748 1341h0M715 1295h0M728 1312h0M825 1356h0M837 1266h0M702 1270h0M723 1303h0M740 1269h0M726 1312h0M753 1344h0M702 1271h0M760 1262h0M716 1291h0M873 1306h0M818 1262h0M739 1333h0M730 1323h0M741 1333h0M857 1341h0M752 1347h0M857 1280h0M716 1293h0M728 1313h0M874 1303h0M762 1261h0M723 1305h0M793 1356h0M749 1341h0M817 1262h0M714 1295h0M798 1257h0M868 1290h0M823 1265h0M704 1274h0M870 1302h0M706 1269h0M713 1290h0M709 1283h0M876 1306h0M853 1342h0M873 1311h0M703 1278h0M869 1294h0M746 1266h0M718 1304h0M872 1316h0M848 1346h0M851 1344h0M855 1339h0M752 1345h0M780 1357h0M839 1269h0M851 1276h0M709 1266h0M871 1318h0M863 1283h0M749 1343h0M736 1333h0M727 1321h0M870 1305h0M801 1260h0" stroke="#f1dc24" stroke-width="4.0"/>
<path d="M712 1273h0M715 1275h0M740 1288h0M738 1287h0M714 1273h0M744 1285h0M735 1291h0M731 1279h0M723 1276h0M712 1276h0M730 1270h0M722 1270h0M739 1286h0M712 1278h0" stroke="#f1dc24" stroke-width="4.0"/>
<path d="M716 1295h0M744 1281h0M729 1293h0M725 1292h0M718 1285h0M712 1283h0M725 1272h0M733 1263h0M727 1275h0M720 1278h0M723 1270h0M712 1269h0M711 1274h0M720 1286h0M728 1276h0M732 1291h0M730 1290h0M729 1281h0M729 1270h0M722 1275h0M743 1285h0M724 1280h0M718 1284h0M716 1271h0" stroke="#7a2b8f" stroke-width="4.0"/>
<path d="M720 1273h0M729 1272h0M712 1273h0M740 1283h0M731 1294h0M727 1266h0M720 1268h0" stroke="#1f8b46" stroke-width="4.0"/>
<path d="M793 1268h0M766 1281h0M859 1336h0M781 1345h0M816 1341h0M759 1339h0" stroke="#7a2b8f" stroke-width="4.0"/>
</g>
<circle cx="572" cy="194" r="1.3" fill="#c9222b"/>
<g font-size="25.1"><text x="485.1" y="85">Hepatic</text><text x="197.9" y="255.2">Secretory</text><text x="64" y="348.4">Epithelial</text><text x="202.2" y="334.7">Erythroid</text><text x="169.6" y="417.3">Stromal</text><text x="366.2" y="429">Endothelial</text><text x="513" y="364">Immune</text><text x="383.8" y="515">Muscular</text><text x="301.2" y="617.6">Neural</text></g>
<path d="M238.8 225L246.2 237.5" stroke="#000" stroke-width="1.6"/>
<g font-size="24.6" font-weight="bold" stroke="#fff" stroke-width="2.2" paint-order="stroke" stroke-linejoin="round"><text x="273.5" y="86.6">8</text><text x="256" y="112.4">11</text><text x="196.8" y="115.2">2</text><text x="171" y="177.6">1</text><text x="266" y="205.2">12</text><text x="508.6" y="171.6">13</text><text x="585.6" y="226.4">18</text><text x="431" y="295.6">16</text><text x="546.6" y="437.8">5</text><text x="270" y="484">10</text><text x="335.4" y="523.6">7</text><text x="197" y="549.4">4</text><text x="250" y="607.4">3</text></g>
<g font-size="25">
<circle cx="757.8" cy="60.5" r="14.3" fill="#c9222b"/><text transform="translate(757.7 69.3) scale(1.03 1)" font-size="24.5" fill="#fff" text-anchor="middle">1</text><text x="799" y="69.3">Airsac</text>
<circle cx="757.8" cy="95.9" r="14.3" fill="#252d6c"/><text transform="translate(757.7 104.7) scale(1.03 1)" font-size="24.5" fill="#fff" text-anchor="middle">2</text><text x="799" y="104.7">Bowel</text>
<circle cx="757.8" cy="131.3" r="14.3" fill="#1f8b46"/><text transform="translate(757.7 140.1) scale(1.03 1)" font-size="24.5" fill="#fff" text-anchor="middle">3</text><text x="799" y="140.1">Brain</text>
<circle cx="757.8" cy="166.7" r="14.3" fill="#7a2b8f"/><text transform="translate(757.7 175.4) scale(1.03 1)" font-size="24.5" fill="#fff" text-anchor="middle">4</text><text x="799" y="175.5">BrainStem</text>
<circle cx="757.8" cy="202.1" r="14.3" fill="#e97b2f"/><text transform="translate(757.7 210.8) scale(1.03 1)" font-size="24.5" fill="#fff" text-anchor="middle">5</text><text x="799" y="210.9">Cecum</text>
<circle cx="757.8" cy="237.4" r="14.3" fill="#f1dc24"/><text transform="translate(757.7 246.2) scale(1.03 1)" font-size="24.5" fill="#fff" text-anchor="middle">6</text><text x="799" y="246.2">Cerebellum</text>
<circle cx="757.8" cy="272.8" r="14.3" fill="#8b9bcb"/><text transform="translate(757.7 281.6) scale(1.03 1)" font-size="24.5" fill="#fff" text-anchor="middle">7</text><text x="799" y="281.6">Cloaca</text>
<circle cx="757.8" cy="308.2" r="14.3" fill="#b66cb0"/><text transform="translate(757.7 317.0) scale(1.03 1)" font-size="24.5" fill="#fff" text-anchor="middle">8</text><text x="799" y="317.0">Duodenum</text>
<circle cx="757.8" cy="343.6" r="14.3" fill="#cfa163"/><text transform="translate(757.7 352.3) scale(1.03 1)" font-size="24.5" fill="#fff" text-anchor="middle">9</text><text x="799" y="352.4">Grandular Stomach</text>
<circle cx="757.8" cy="379.0" r="14.3" fill="#8dd0df"/><text transform="translate(757.3 387.7) scale(0.99 1)" font-size="24.5" fill="#fff" text-anchor="middle" letter-spacing="-0.9">10</text><text x="799" y="387.8">Heart</text>
<circle cx="757.8" cy="414.4" r="14.3" fill="#80bf5b"/><text transform="translate(757.3 423.1) scale(0.99 1)" font-size="24.5" fill="#fff" text-anchor="middle" letter-spacing="-0.9">11</text><text x="799" y="423.2">Ileum</text>
<circle cx="757.8" cy="449.7" r="14.3" fill="#e8797d"/><text transform="translate(757.3 458.5) scale(0.99 1)" font-size="24.5" fill="#fff" text-anchor="middle" letter-spacing="-0.9">12</text><text x="799" y="458.5">Kidney</text>
<circle cx="757.8" cy="485.1" r="14.3" fill="#9784bd"/><text transform="translate(757.3 493.9) scale(0.99 1)" font-size="24.5" fill="#fff" text-anchor="middle" letter-spacing="-0.9">13</text><text x="799" y="493.9">Liver</text>
<circle cx="757.8" cy="520.5" r="14.3" fill="#ca512b"/><text transform="translate(757.3 529.2) scale(0.99 1)" font-size="24.5" fill="#fff" text-anchor="middle" letter-spacing="-0.9">14</text><text x="799" y="529.3">Lung</text>
<circle cx="757.8" cy="555.9" r="14.3" fill="#3cb39f"/><text transform="translate(757.3 564.6) scale(0.99 1)" font-size="24.5" fill="#fff" text-anchor="middle" letter-spacing="-0.9">15</text><text x="799" y="564.7">Muscular Stomach</text>
<circle cx="757.8" cy="591.2" r="14.3" fill="#6b4b9f"/><text transform="translate(757.3 600.0) scale(0.99 1)" font-size="24.5" fill="#fff" text-anchor="middle" letter-spacing="-0.9">16</text><text x="799" y="600.0">Ovary</text>
<circle cx="757.8" cy="626.6" r="14.3" fill="#0f6c76"/><text transform="translate(757.3 635.4) scale(0.99 1)" font-size="24.5" fill="#fff" text-anchor="middle" letter-spacing="-0.9">17</text><text x="799" y="635.4">Pancreas</text>
<circle cx="757.8" cy="662.0" r="14.3" fill="#7e1b21"/><text transform="translate(757.3 670.8) scale(0.99 1)" font-size="24.5" fill="#fff" text-anchor="middle" letter-spacing="-0.9">18</text><text x="799" y="670.8">Spleen</text>
</g>
<g fill="none" stroke="#000" stroke-width="1.8"><path d="M46.6 591V677.2H133"/><path d="M39.1 599.6L46.6 590.6L54.1 599.6"/><path d="M124.9 669.9L133.8 677.2L124.9 684.6"/></g>
<text transform="translate(32.8 672.8) rotate(-90)" font-size="24.7">UMAP2</text>
<text x="46.2" y="709.1" font-size="24.7">UMAP1</text>
<path d="M85.6 737.5H279.0M279.0 737.5V740.75M146.2 740.75H411.2M411.2 740.75V742.5M242.8 742.5H580.4M580.4 742.5V744.25M484.6 744.25H675.5M675.5 744.25V745.5M622.5 745.5H728.1M728.1 745.5V747.5M657.1 747.5H799.1M799.1 747.5V750M708.6 750H890.6M890.6 750V754M865.0 754H913.5M76.9 770.5V744.25M94.2 770.5V744.25M76.9 744.25H94.2M85.6 744.25V737.5M111.5 770.5V761.75M128.9 770.5V761.75M111.5 761.75H128.9M120.2 761.75V749.25M146.2 770.5V759.5M163.5 770.5V759.5M146.2 759.5H163.5M154.8 759.5V752M180.8 770.5V758.75M198.1 770.5V758.75M180.8 758.75H198.1M189.5 758.75V752M154.8 752H189.5M172.2 752V749.25M120.2 749.25H172.2M146.2 749.25V740.75M215.5 770.5V746.75M232.8 770.5V747.5M250.1 770.5V748M215.5 747H270.2M270.2 748H305.5M305.5 749.2H360.9M360.9 750.2H414.6M242.8 742.5V747M267.4 770.5V762.5M284.7 770.5V762.5M267.4 762.5H284.7M276.1 762.5V754.5M276.1 754.5H338.4M319.4 770.5V767.5M336.7 770.5V767.5M319.4 767.5H336.7M328.0 767.5V764.5M302.1 770.5V764.5M302.1 764.5H328.0M315.1 764.5V757.5M354.0 770.5V762.5M371.3 770.5V762.5M354.0 762.5H371.3M362.7 762.5V757.5M315.1 757.5H362.7M338.4 757.5V754.5M307.3 754.5V749M388.7 770.5V757.5M406.0 770.5V757.5M388.7 757.5H406.0M397.3 757.5V752M423.3 770.5V755.5M440.6 770.5V755.5M423.3 755.5H440.6M432.0 755.5V752M397.3 752H432.0M414.6 752V750M457.9 770.5V747M457.9 747H511.6M511.6 747V750.75M484.6 744.25V747M475.3 770.5V753M492.6 770.5V753M475.3 753H492.6M483.9 753V750.75M483.9 750.75H560.1M509.9 770.5V760M527.2 770.5V760M509.9 760H527.2M518.6 760V750.75M544.5 770.5V755.5M544.5 755.5H575.4M561.9 770.5V762M561.9 762H587.8M579.2 770.5V766.75M596.5 770.5V766.75M579.2 766.75H596.5M587.8 766.75V762M574.9 762V755.5M560.1 755.5V750.75M613.8 770.5V750.75M631.1 770.5V750.75M613.8 750.75H631.1M622.5 750.75V745.5M648.5 770.5V752.5M665.8 770.5V752.5M648.5 752.5H665.8M657.1 752.5V747.5M683.1 770.5V756.25M683.1 756.25H734.2M700.4 770.5V761.25M717.7 770.5V761.25M700.4 761.25H717.7M709.1 761.25V756.25M708.6 750V756.25M735.1 770.5V758.25M734.2 757.6H757.6M752.4 770.5V759.5M752.4 759.5H780.1M780.1 760.5H806.1M769.7 770.5V767M769.7 767H795.7M787.0 770.5V768.75M804.3 770.5V768.75M787.0 768.75H804.3M795.7 768.75V767M782.7 767V762.5M821.7 770.5V764.5M839.0 770.5V764.5M821.7 764.5H839.0M830.3 764.5V762.5M782.7 762.5H830.3M806.1 762.5V760.5M856.3 770.5V764.5M873.6 770.5V764.5M856.3 764.5H873.6M865.0 764.5V754M890.9 770.5V761.5M908.3 770.5V761.5M890.9 761.5H936.0M936.0 762.6H963.0M913.5 754V761.5M963.0 762.6V766.8M939.4 766.8H987.4M987.4 767.5H994.9M977.5 770.5V766.8M994.9 770.5V767.5M939.4 766.8V769.1M925.6 769.1H960.2" fill="none" stroke="#2b2b2b" stroke-width="1.1" stroke-linecap="square"/>
<circle cx="76.9" cy="776.7" r="7.1" fill="#5b63b0"/><circle cx="94.2" cy="776.7" r="7.1" fill="#f3da87"/><circle cx="111.5" cy="776.7" r="7.1" fill="#f3da87"/><circle cx="128.9" cy="776.7" r="7.1" fill="#f3da87"/><circle cx="146.2" cy="776.7" r="7.1" fill="#f3da87"/><circle cx="163.5" cy="776.7" r="7.1" fill="#f3da87"/><circle cx="180.8" cy="776.7" r="7.1" fill="#f3da87"/><circle cx="198.1" cy="776.7" r="7.1" fill="#f3da87"/><circle cx="215.5" cy="776.7" r="7.1" fill="#e06245"/><circle cx="232.8" cy="776.7" r="7.1" fill="#e06245"/><circle cx="250.1" cy="776.7" r="7.1" fill="#e06245"/><circle cx="267.4" cy="776.7" r="7.1" fill="#e06245"/><circle cx="284.7" cy="776.7" r="7.1" fill="#e06245"/><circle cx="302.1" cy="776.7" r="7.1" fill="#e06245"/><circle cx="319.4" cy="776.7" r="7.1" fill="#e06245"/><circle cx="336.7" cy="776.7" r="7.1" fill="#e06245"/><circle cx="354.0" cy="776.7" r="7.1" fill="#e06245"/><circle cx="371.3" cy="776.7" r="7.1" fill="#e06245"/><circle cx="388.7" cy="776.7" r="7.1" fill="#e06245"/><circle cx="406.0" cy="776.7" r="7.1" fill="#2f9180"/><circle cx="423.3" cy="776.7" r="7.1" fill="#c5c163"/><circle cx="440.6" cy="776.7" r="7.1" fill="#e06245"/><circle cx="457.9" cy="776.7" r="7.1" fill="#b4d99a"/><circle cx="475.3" cy="776.7" r="7.1" fill="#b4d99a"/><circle cx="492.6" cy="776.7" r="7.1" fill="#b4d99a"/><circle cx="509.9" cy="776.7" r="7.1" fill="#b4d99a"/><circle cx="527.2" cy="776.7" r="7.1" fill="#b4d99a"/><circle cx="544.5" cy="776.7" r="7.1" fill="#b4d99a"/><circle cx="561.9" cy="776.7" r="7.1" fill="#b4d99a"/><circle cx="579.2" cy="776.7" r="7.1" fill="#b4d99a"/><circle cx="596.5" cy="776.7" r="7.1" fill="#b4d99a"/><circle cx="613.8" cy="776.7" r="7.1" fill="#e2e794"/><circle cx="631.1" cy="776.7" r="7.1" fill="#e2e794"/><circle cx="648.5" cy="776.7" r="7.1" fill="#c495c6"/><circle cx="665.8" cy="776.7" r="7.1" fill="#c495c6"/><circle cx="683.1" cy="776.7" r="7.1" fill="#c495c6"/><circle cx="700.4" cy="776.7" r="7.1" fill="#c495c6"/><circle cx="717.7" cy="776.7" r="7.1" fill="#c495c6"/><circle cx="735.1" cy="776.7" r="7.1" fill="#c495c6"/><circle cx="752.4" cy="776.7" r="7.1" fill="#c495c6"/><circle cx="769.7" cy="776.7" r="7.1" fill="#c495c6"/><circle cx="787.0" cy="776.7" r="7.1" fill="#c495c6"/><circle cx="804.3" cy="776.7" r="7.1" fill="#c495c6"/><circle cx="821.7" cy="776.7" r="7.1" fill="#c495c6"/><circle cx="839.0" cy="776.7" r="7.1" fill="#c495c6"/><circle cx="856.3" cy="776.7" r="7.1" fill="#3282b8"/><circle cx="873.6" cy="776.7" r="7.1" fill="#3282b8"/><circle cx="890.9" cy="776.7" r="7.1" fill="#3282b8"/><circle cx="908.3" cy="776.7" r="7.1" fill="#3282b8"/><circle cx="925.6" cy="776.7" r="7.1" fill="#3282b8"/><circle cx="942.9" cy="776.7" r="7.1" fill="#3282b8"/><circle cx="960.2" cy="776.7" r="7.1" fill="#3282b8"/><circle cx="977.5" cy="776.7" r="7.1" fill="#3282b8"/><circle cx="994.9" cy="776.7" r="7.1" fill="#3282b8"/>
<g stroke="#bdbdbd" stroke-width="1"><rect x="70.2" y="791.2" width="13.9" height="33.8" fill="#5b63b0"/><rect x="87.5" y="791.2" width="13.9" height="8.3" fill="#f3da87"/><rect x="104.8" y="791.2" width="13.9" height="15.8" fill="#f3da87"/><rect x="122.2" y="791.2" width="13.9" height="77.3" fill="#f3da87"/><rect x="139.5" y="791.2" width="13.9" height="36.3" fill="#f3da87"/><rect x="156.8" y="791.2" width="13.9" height="3.8" fill="#f3da87"/><rect x="174.1" y="791.2" width="13.9" height="33.8" fill="#f3da87"/><rect x="191.4" y="791.2" width="13.9" height="124.3" fill="#f3da87"/><rect x="208.8" y="791.2" width="13.9" height="1.8" fill="#e06245"/><rect x="226.1" y="791.2" width="13.9" height="106.8" fill="#e06245"/><rect x="243.4" y="791.2" width="13.9" height="1.0" fill="#e06245"/><rect x="260.7" y="791.2" width="13.9" height="6.8" fill="#e06245"/><rect x="278.0" y="791.2" width="13.9" height="29.1" fill="#e06245"/><rect x="295.4" y="791.2" width="13.9" height="6.8" fill="#e06245"/><rect x="312.7" y="791.2" width="13.9" height="9.7" fill="#e06245"/><rect x="330.0" y="791.2" width="13.9" height="46.0" fill="#e06245"/><rect x="347.3" y="791.2" width="13.9" height="12.2" fill="#e06245"/><rect x="364.6" y="791.2" width="13.9" height="3.8" fill="#e06245"/><rect x="382.0" y="791.2" width="13.9" height="5.6" fill="#e06245"/><rect x="399.3" y="791.2" width="13.9" height="5.6" fill="#2f9180"/><rect x="416.6" y="791.2" width="13.9" height="81.6" fill="#c5c163"/><rect x="433.9" y="791.2" width="13.9" height="21.7" fill="#e06245"/><rect x="451.2" y="791.2" width="13.9" height="75.2" fill="#b4d99a"/><rect x="468.6" y="791.2" width="13.9" height="1.0" fill="#b4d99a"/><rect x="485.9" y="791.2" width="13.9" height="0.8" fill="#b4d99a"/><rect x="503.2" y="791.2" width="13.9" height="38.1" fill="#b4d99a"/><rect x="520.5" y="791.2" width="13.9" height="8.1" fill="#b4d99a"/><rect x="537.8" y="791.2" width="13.9" height="21.9" fill="#b4d99a"/><rect x="555.2" y="791.2" width="13.9" height="6.1" fill="#b4d99a"/><rect x="572.5" y="791.2" width="13.9" height="12.0" fill="#b4d99a"/><rect x="589.8" y="791.2" width="13.9" height="6.1" fill="#b4d99a"/><rect x="607.1" y="791.2" width="13.9" height="14.0" fill="#e2e794"/><rect x="624.4" y="791.2" width="13.9" height="38.1" fill="#e2e794"/><rect x="641.8" y="791.2" width="13.9" height="0.8" fill="#c495c6"/><rect x="659.1" y="791.2" width="13.9" height="2.2" fill="#c495c6"/><rect x="676.4" y="791.2" width="13.9" height="2.0" fill="#c495c6"/><rect x="693.7" y="791.2" width="13.9" height="2.2" fill="#c495c6"/><rect x="711.0" y="791.2" width="13.9" height="4.8" fill="#c495c6"/><rect x="728.4" y="791.2" width="13.9" height="1.6" fill="#c495c6"/><rect x="745.7" y="791.2" width="13.9" height="9.8" fill="#c495c6"/><rect x="763.0" y="791.2" width="13.9" height="9.2" fill="#c495c6"/><rect x="780.3" y="791.2" width="13.9" height="3.2" fill="#c495c6"/><rect x="797.6" y="791.2" width="13.9" height="3.8" fill="#c495c6"/><rect x="815.0" y="791.2" width="13.9" height="1.6" fill="#c495c6"/><rect x="832.3" y="791.2" width="13.9" height="2.2" fill="#c495c6"/><rect x="849.6" y="791.2" width="13.9" height="3.2" fill="#3282b8"/><rect x="866.9" y="791.2" width="13.9" height="4.8" fill="#3282b8"/><rect x="884.2" y="791.2" width="13.9" height="8.8" fill="#3282b8"/><rect x="901.6" y="791.2" width="13.9" height="1.6" fill="#3282b8"/><rect x="918.9" y="791.2" width="13.9" height="13.1" fill="#3282b8"/><rect x="936.2" y="791.2" width="13.9" height="15.8" fill="#3282b8"/><rect x="953.5" y="791.2" width="13.9" height="18.8" fill="#3282b8"/><rect x="970.8" y="791.2" width="13.9" height="14.8" fill="#3282b8"/><rect x="988.2" y="791.2" width="13.9" height="9.2" fill="#3282b8"/></g>
<path d="M61 790.4V923.2M57.6 791.3H61M57.6 855.4H61M57.6 906.6H61" fill="none" stroke="#000" stroke-width="1.7"/>
<text transform="translate(22.4 923.4) rotate(-90)" font-size="24.8">Cell number (e+4)</text>
<g font-size="23"><text transform="translate(48.8 797.8) rotate(-90)">0</text><text transform="translate(48.8 875.0) rotate(-90)">1.25</text><text transform="translate(48.8 927.6) rotate(-90)">2.5</text></g>
<text x="780.5" y="875.2" font-size="25">54 subclusters</text>
<g font-size="22.4"><rect x="196.5" y="933.2" width="15.6" height="15.6" fill="#5b63b0"/><text x="213.8" y="948.7">Erythroid</text><rect x="330.3" y="933.2" width="15.6" height="15.6" fill="#f3da87"/><text x="347.6" y="948.7">Immune</text><rect x="450.9" y="933.2" width="15.6" height="15.6" fill="#c5c163"/><text x="468.2" y="948.7">Hepatic</text><rect x="600.3" y="933.2" width="15.6" height="15.6" fill="#e06245"/><text x="617.6" y="948.7">Epithelial</text><rect x="728.9" y="933.2" width="15.6" height="15.6" fill="#2f9180"/><text x="746.2" y="948.7">Secretory</text><rect x="196.5" y="960.6" width="15.6" height="15.6" fill="#e2e794"/><text x="213.8" y="976.1">Muscular</text><rect x="330.3" y="960.6" width="15.6" height="15.6" fill="#b4d99a"/><text x="347.6" y="976.1">Neural</text><rect x="450.9" y="960.6" width="15.6" height="15.6" fill="#c495c6"/><text x="468.2" y="976.1">Endothelial</text><rect x="600.3" y="960.6" width="15.6" height="15.6" fill="#3282b8"/><text x="617.6" y="976.1">Stromal</text></g>
</svg>
</body></html>
